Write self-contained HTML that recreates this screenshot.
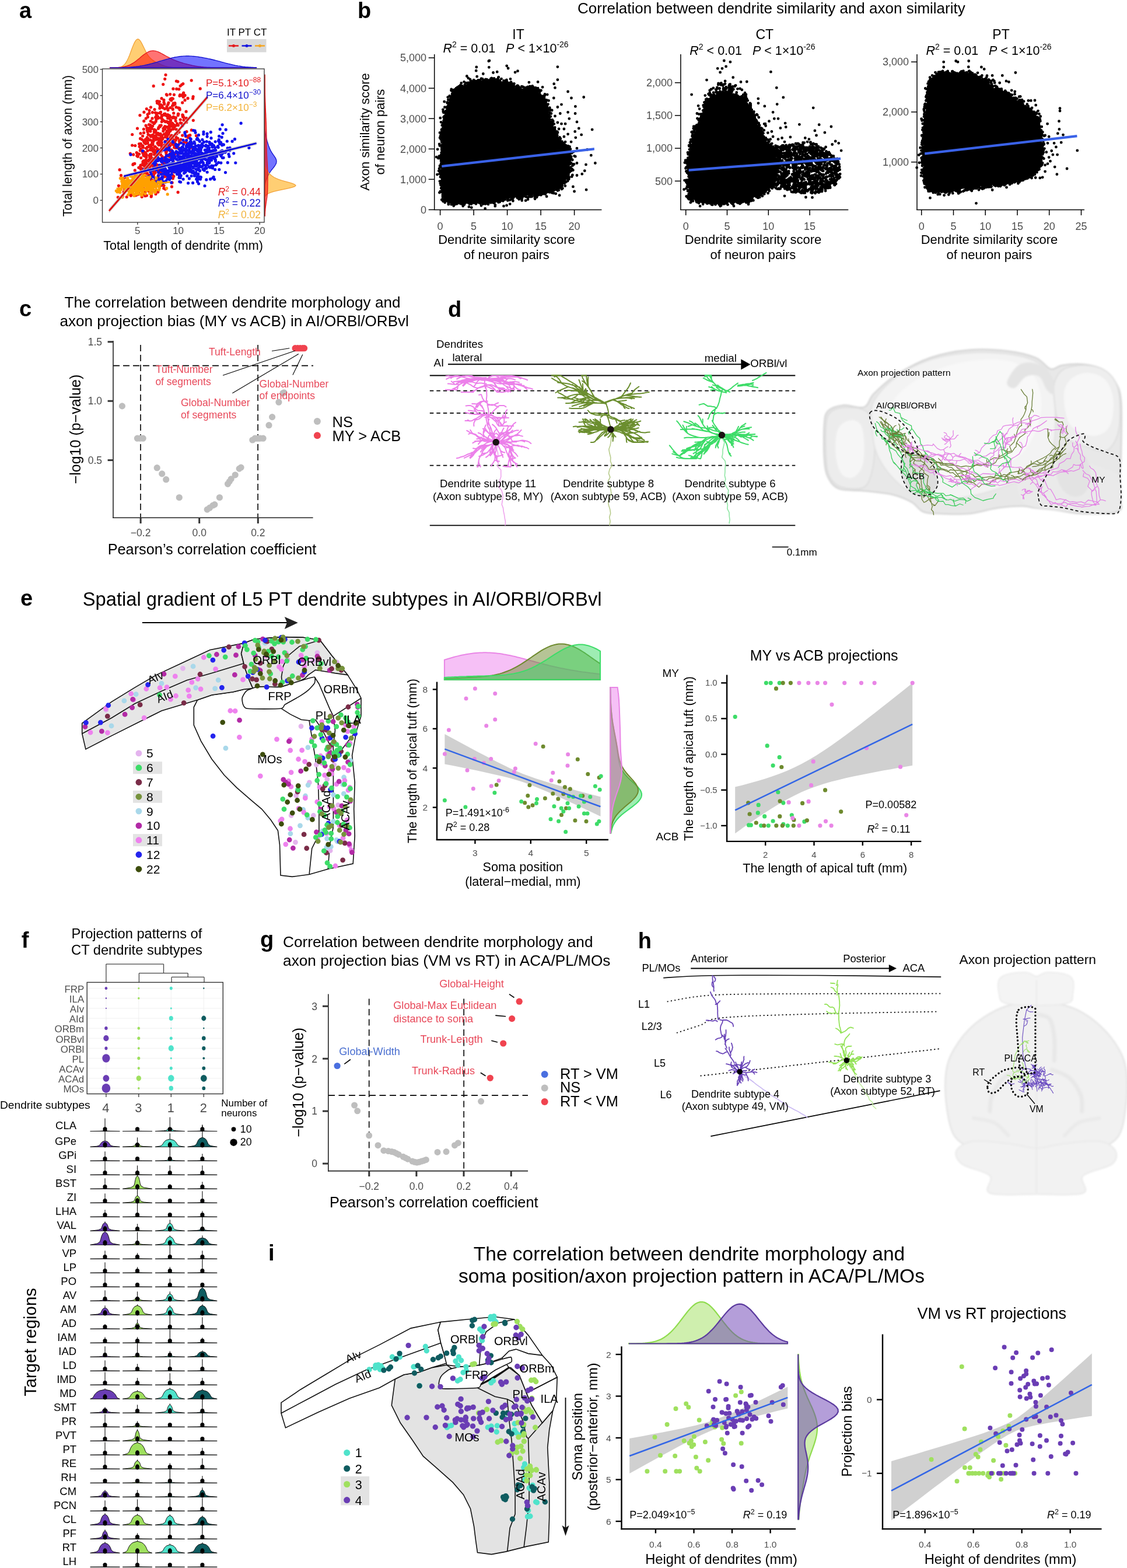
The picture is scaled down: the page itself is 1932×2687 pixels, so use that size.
<!DOCTYPE html>
<html><head><meta charset="utf-8"><title>Figure</title>
<style>html,body{margin:0;padding:0;background:#fff;}svg{display:block;}</style></head>
<body><svg width="1932" height="2687" viewBox="0 0 1932 2687" font-family='"Liberation Sans", sans-serif'>
<rect width="1932" height="2687" fill="#fff"/>
<text x="33" y="31" font-size="38" font-weight="bold">a</text>
<path d="M188.3 116 L188.3 116 L190.4 116 L192.6 116 L194.7 116 L196.8 115.9 L198.9 115.8 L201 115.7 L203.1 115.5 L205.2 115.1 L207.3 114.5 L209.5 113.5 L211.6 112.1 L213.7 110.1 L215.8 107.4 L217.9 103.8 L220 99.5 L222.1 94.4 L224.2 88.8 L226.3 83.1 L228.5 77.6 L230.6 72.9 L232.7 69.4 L234.8 67.4 L236.9 67 L239 68.3 L241.1 70.9 L243.2 74.6 L245.3 78.9 L247.5 83.3 L249.6 87.6 L251.7 91.5 L253.8 94.8 L255.9 97.6 L258 99.9 L260.1 101.8 L262.2 103.4 L264.4 104.7 L266.5 106 L268.6 107.1 L270.7 108.2 L272.8 109.2 L274.9 110.2 L277 111.1 L279.1 111.9 L281.2 112.7 L283.4 113.3 L285.5 113.8 L287.6 114.3 L289.7 114.7 L291.8 115 L293.9 115.3 L296 115.5 L298.1 115.6 L300.3 115.7 L302.4 115.8 L304.5 115.9 L306.6 115.9 L308.7 115.9 L310.8 116 L312.9 116 L315 116 L317.1 116 L319.3 116 L321.4 116 L323.5 116 L325.6 116 L327.7 116 L329.8 116 L331.9 116 L334 116 L336.1 116 L338.3 116 L340.4 116 L342.5 116 L344.6 116 L346.7 116 L348.8 116 L350.9 116 L353 116 L355.2 116 L357.3 116 L359.4 116 L361.5 116 L363.6 116 L365.7 116 L367.8 116 L369.9 116 L372 116 L374.2 116 L376.3 116 L378.4 116 L380.5 116 L382.6 116 L384.7 116 L386.8 116 L388.9 116 L391 116 L393.2 116 L395.3 116 L397.4 116 L399.5 116 L401.6 116 L403.7 116 L405.8 116 L407.9 116 L410.1 116 L412.2 116 L414.3 116 L416.4 116 L418.5 116 L420.6 116 L422.7 116 L424.8 116 L426.9 116 L429.1 116 L431.2 116 L433.3 116 L435.4 116 L437.5 116 L439.6 116 L439.6 116 Z" fill="#FFA500" stroke="#F2A33A" stroke-width="1.3" fill-opacity="0.55"/>
<path d="M188.3 116 L188.3 115.9 L190.4 115.9 L192.6 115.9 L194.7 115.8 L196.8 115.8 L198.9 115.7 L201 115.6 L203.1 115.5 L205.2 115.3 L207.3 115.1 L209.5 114.8 L211.6 114.4 L213.7 114 L215.8 113.5 L217.9 112.9 L220 112.1 L222.1 111.3 L224.2 110.3 L226.3 109.1 L228.5 107.9 L230.6 106.5 L232.7 104.9 L234.8 103.3 L236.9 101.6 L239 99.9 L241.1 98.1 L243.2 96.3 L245.3 94.6 L247.5 93 L249.6 91.5 L251.7 90.2 L253.8 89.1 L255.9 88.2 L258 87.5 L260.1 87.1 L262.2 87 L264.4 87.1 L266.5 87.4 L268.6 88 L270.7 88.7 L272.8 89.6 L274.9 90.6 L277 91.7 L279.1 92.9 L281.2 94.1 L283.4 95.3 L285.5 96.5 L287.6 97.6 L289.7 98.7 L291.8 99.8 L293.9 100.8 L296 101.8 L298.1 102.7 L300.3 103.5 L302.4 104.3 L304.5 105.1 L306.6 105.8 L308.7 106.5 L310.8 107.2 L312.9 107.8 L315 108.5 L317.1 109.1 L319.3 109.6 L321.4 110.2 L323.5 110.7 L325.6 111.2 L327.7 111.7 L329.8 112.2 L331.9 112.6 L334 113 L336.1 113.3 L338.3 113.7 L340.4 114 L342.5 114.2 L344.6 114.5 L346.7 114.7 L348.8 114.9 L350.9 115.1 L353 115.2 L355.2 115.3 L357.3 115.4 L359.4 115.5 L361.5 115.6 L363.6 115.7 L365.7 115.7 L367.8 115.8 L369.9 115.8 L372 115.9 L374.2 115.9 L376.3 115.9 L378.4 115.9 L380.5 115.9 L382.6 116 L384.7 116 L386.8 116 L388.9 116 L391 116 L393.2 116 L395.3 116 L397.4 116 L399.5 116 L401.6 116 L403.7 116 L405.8 116 L407.9 116 L410.1 116 L412.2 116 L414.3 116 L416.4 116 L418.5 116 L420.6 116 L422.7 116 L424.8 116 L426.9 116 L429.1 116 L431.2 116 L433.3 116 L435.4 116 L437.5 116 L439.6 116 L439.6 116 Z" fill="#FF0000" stroke="#E41A1C" stroke-width="1.3" fill-opacity="0.55"/>
<path d="M188.3 116 L188.3 116 L190.4 116 L192.6 115.9 L194.7 115.9 L196.8 115.9 L198.9 115.9 L201 115.9 L203.1 115.8 L205.2 115.8 L207.3 115.8 L209.5 115.7 L211.6 115.6 L213.7 115.6 L215.8 115.5 L217.9 115.4 L220 115.3 L222.1 115.1 L224.2 115 L226.3 114.8 L228.5 114.6 L230.6 114.4 L232.7 114.2 L234.8 113.9 L236.9 113.7 L239 113.4 L241.1 113 L243.2 112.7 L245.3 112.3 L247.5 111.9 L249.6 111.4 L251.7 111 L253.8 110.5 L255.9 109.9 L258 109.4 L260.1 108.9 L262.2 108.3 L264.4 107.7 L266.5 107.1 L268.6 106.5 L270.7 105.9 L272.8 105.2 L274.9 104.6 L277 104 L279.1 103.4 L281.2 102.8 L283.4 102.2 L285.5 101.6 L287.6 101 L289.7 100.4 L291.8 99.9 L293.9 99.4 L296 98.9 L298.1 98.5 L300.3 98 L302.4 97.7 L304.5 97.3 L306.6 97 L308.7 96.7 L310.8 96.5 L312.9 96.3 L315 96.2 L317.1 96.1 L319.3 96 L321.4 96 L323.5 96 L325.6 96.1 L327.7 96.2 L329.8 96.3 L331.9 96.5 L334 96.7 L336.1 96.9 L338.3 97.2 L340.4 97.5 L342.5 97.8 L344.6 98.1 L346.7 98.5 L348.8 98.9 L350.9 99.3 L353 99.7 L355.2 100.1 L357.3 100.6 L359.4 101 L361.5 101.5 L363.6 102 L365.7 102.5 L367.8 103 L369.9 103.6 L372 104.1 L374.2 104.7 L376.3 105.2 L378.4 105.8 L380.5 106.4 L382.6 106.9 L384.7 107.5 L386.8 108.1 L388.9 108.6 L391 109.2 L393.2 109.7 L395.3 110.2 L397.4 110.7 L399.5 111.2 L401.6 111.6 L403.7 112.1 L405.8 112.5 L407.9 112.9 L410.1 113.2 L412.2 113.5 L414.3 113.8 L416.4 114.1 L418.5 114.3 L420.6 114.6 L422.7 114.8 L424.8 114.9 L426.9 115.1 L429.1 115.2 L431.2 115.4 L433.3 115.5 L435.4 115.6 L437.5 115.6 L439.6 115.7 L439.6 116 Z" fill="#0000FF" stroke="#1010D0" stroke-width="1.3" fill-opacity="0.55"/>
<path d="M454 370.2 L454 370.2 L454 368.5 L454 366.8 L454 365 L454 363.3 L454 361.5 L454 359.8 L454 358 L454 356.3 L454 354.5 L454 352.8 L454 351.1 L454 349.3 L454 347.6 L454 345.8 L454 344.1 L454 342.3 L454 340.6 L454 338.8 L454 337.1 L454 335.4 L454 333.6 L454 331.9 L454 330.1 L454 328.4 L454 326.6 L454 324.9 L454.1 323.1 L454.1 321.4 L454.2 319.7 L454.4 317.9 L454.5 316.2 L454.8 314.4 L455.1 312.7 L455.5 310.9 L456 309.2 L456.6 307.4 L457.3 305.7 L458.1 304 L458.9 302.2 L459.8 300.5 L460.7 298.7 L461.7 297 L462.8 295.2 L464 293.5 L465.3 291.7 L466.6 290 L468 288.3 L469.4 286.5 L470.7 284.8 L471.9 283 L472.9 281.3 L473.6 279.5 L473.9 277.8 L474 276 L473.7 274.3 L473.1 272.6 L472.3 270.8 L471.2 269.1 L470.1 267.3 L468.8 265.6 L467.6 263.8 L466.4 262.1 L465.3 260.3 L464.3 258.6 L463.4 256.9 L462.6 255.1 L461.8 253.4 L461.2 251.6 L460.5 249.9 L460 248.1 L459.4 246.4 L458.9 244.6 L458.3 242.9 L457.8 241.2 L457.4 239.4 L456.9 237.7 L456.5 235.9 L456.1 234.2 L455.8 232.4 L455.5 230.7 L455.2 229 L455 227.2 L454.8 225.5 L454.6 223.7 L454.5 222 L454.4 220.2 L454.3 218.5 L454.2 216.7 L454.2 215 L454.1 213.3 L454.1 211.5 L454.1 209.8 L454 208 L454 206.3 L454 204.5 L454 202.8 L454 201 L454 199.3 L454 197.6 L454 195.8 L454 194.1 L454 192.3 L454 190.6 L454 188.8 L454 187.1 L454 185.3 L454 183.6 L454 181.9 L454 180.1 L454 178.4 L454 176.6 L454 174.9 L454 173.1 L454 171.4 L454 169.6 L454 167.9 L454 166.2 L454 164.4 L454 162.7 L454 160.9 L454 159.2 L454 157.4 L454 155.7 L454 153.9 L454 152.2 L454 150.5 L454 148.7 L454 147 L454 145.2 L454 143.5 L454 141.7 L454 140 L454 138.2 L454 136.5 L454 134.8 L454 133 L454 131.3 L454 129.5 L454 127.8 L454 127.8 Z" fill="#0000FF" stroke="#1010D0" stroke-width="1.3" fill-opacity="0.55"/>
<path d="M454 370.2 L454 370.2 L454 368.5 L454 366.8 L454 365 L454 363.3 L454 361.5 L454 359.8 L454 358 L454 356.3 L454 354.5 L454 352.8 L454 351.1 L454 349.3 L454 347.6 L454 345.8 L454 344.1 L454 342.3 L454.1 340.6 L454.3 338.8 L454.7 337.1 L455.4 335.4 L456.9 333.6 L459.3 331.9 L463.2 330.1 L468.7 328.4 L475.9 326.6 L484.2 324.9 L492.7 323.1 L500 321.4 L505.1 319.7 L507 317.9 L505.5 316.2 L501.3 314.4 L495.4 312.7 L488.8 310.9 L482.7 309.2 L477.5 307.4 L473.3 305.7 L470 304 L467.3 302.2 L465 300.5 L463 298.7 L461.2 297 L459.6 295.2 L458.2 293.5 L457.1 291.7 L456.1 290 L455.4 288.3 L454.9 286.5 L454.6 284.8 L454.4 283 L454.2 281.3 L454.1 279.5 L454.1 277.8 L454 276 L454 274.3 L454 272.6 L454 270.8 L454 269.1 L454 267.3 L454 265.6 L454 263.8 L454 262.1 L454 260.3 L454 258.6 L454 256.9 L454 255.1 L454 253.4 L454 251.6 L454 249.9 L454 248.1 L454 246.4 L454 244.6 L454 242.9 L454 241.2 L454 239.4 L454 237.7 L454 235.9 L454 234.2 L454 232.4 L454 230.7 L454 229 L454 227.2 L454 225.5 L454 223.7 L454 222 L454 220.2 L454 218.5 L454 216.7 L454 215 L454 213.3 L454 211.5 L454 209.8 L454 208 L454 206.3 L454 204.5 L454 202.8 L454 201 L454 199.3 L454 197.6 L454 195.8 L454 194.1 L454 192.3 L454 190.6 L454 188.8 L454 187.1 L454 185.3 L454 183.6 L454 181.9 L454 180.1 L454 178.4 L454 176.6 L454 174.9 L454 173.1 L454 171.4 L454 169.6 L454 167.9 L454 166.2 L454 164.4 L454 162.7 L454 160.9 L454 159.2 L454 157.4 L454 155.7 L454 153.9 L454 152.2 L454 150.5 L454 148.7 L454 147 L454 145.2 L454 143.5 L454 141.7 L454 140 L454 138.2 L454 136.5 L454 134.8 L454 133 L454 131.3 L454 129.5 L454 127.8 L454 127.8 Z" fill="#FFA500" stroke="#F2A33A" stroke-width="1.3" fill-opacity="0.55"/>
<path d="M454 370.2 L454.3 370.2 L454.3 368.5 L454.4 366.8 L454.5 365 L454.5 363.3 L454.7 361.5 L454.8 359.8 L454.9 358 L455.1 356.3 L455.3 354.5 L455.5 352.8 L455.8 351.1 L456 349.3 L456.3 347.6 L456.5 345.8 L456.8 344.1 L457.1 342.3 L457.3 340.6 L457.6 338.8 L457.8 337.1 L458 335.4 L458.2 333.6 L458.4 331.9 L458.5 330.1 L458.6 328.4 L458.7 326.6 L458.7 324.9 L458.8 323.1 L458.8 321.4 L458.8 319.7 L458.9 317.9 L458.9 316.2 L458.9 314.4 L458.9 312.7 L458.9 310.9 L459 309.2 L459 307.4 L459 305.7 L459 304 L459 302.2 L459 300.5 L459 298.7 L458.9 297 L458.9 295.2 L458.9 293.5 L458.8 291.7 L458.7 290 L458.7 288.3 L458.6 286.5 L458.5 284.8 L458.4 283 L458.3 281.3 L458.2 279.5 L458.1 277.8 L458 276 L457.9 274.3 L457.8 272.6 L457.7 270.8 L457.6 269.1 L457.5 267.3 L457.4 265.6 L457.4 263.8 L457.3 262.1 L457.2 260.3 L457.2 258.6 L457.1 256.9 L457.1 255.1 L457.1 253.4 L457 251.6 L457 249.9 L457 248.1 L457 246.4 L457 244.6 L456.9 242.9 L456.9 241.2 L456.9 239.4 L456.9 237.7 L456.9 235.9 L456.9 234.2 L456.9 232.4 L456.8 230.7 L456.8 229 L456.8 227.2 L456.7 225.5 L456.7 223.7 L456.7 222 L456.6 220.2 L456.6 218.5 L456.5 216.7 L456.5 215 L456.4 213.3 L456.4 211.5 L456.3 209.8 L456.2 208 L456.1 206.3 L456.1 204.5 L456 202.8 L455.9 201 L455.8 199.3 L455.8 197.6 L455.7 195.8 L455.6 194.1 L455.5 192.3 L455.4 190.6 L455.4 188.8 L455.3 187.1 L455.2 185.3 L455.1 183.6 L455.1 181.9 L455 180.1 L454.9 178.4 L454.9 176.6 L454.8 174.9 L454.7 173.1 L454.7 171.4 L454.6 169.6 L454.6 167.9 L454.5 166.2 L454.5 164.4 L454.4 162.7 L454.4 160.9 L454.4 159.2 L454.3 157.4 L454.3 155.7 L454.3 153.9 L454.2 152.2 L454.2 150.5 L454.2 148.7 L454.2 147 L454.2 145.2 L454.1 143.5 L454.1 141.7 L454.1 140 L454.1 138.2 L454.1 136.5 L454.1 134.8 L454.1 133 L454.1 131.3 L454 129.5 L454 127.8 L454 127.8 Z" fill="#FF0000" stroke="#E41A1C" stroke-width="1.3" fill-opacity="0.55"/>
<rect x="175.5" y="118" width="277.5" height="263" fill="#fff" stroke="#333" stroke-width="1.3" />
<line x1="171.5" y1="343.3" x2="175.5" y2="343.3" stroke="#333" stroke-width="1.3" />
<text x="169" y="349.3" font-size="17" text-anchor="end" fill="#4d4d4d">0</text>
<line x1="171.5" y1="298.4" x2="175.5" y2="298.4" stroke="#333" stroke-width="1.3" />
<text x="169" y="304.4" font-size="17" text-anchor="end" fill="#4d4d4d">100</text>
<line x1="171.5" y1="253.5" x2="175.5" y2="253.5" stroke="#333" stroke-width="1.3" />
<text x="169" y="259.5" font-size="17" text-anchor="end" fill="#4d4d4d">200</text>
<line x1="171.5" y1="208.6" x2="175.5" y2="208.6" stroke="#333" stroke-width="1.3" />
<text x="169" y="214.6" font-size="17" text-anchor="end" fill="#4d4d4d">300</text>
<line x1="171.5" y1="163.7" x2="175.5" y2="163.7" stroke="#333" stroke-width="1.3" />
<text x="169" y="169.7" font-size="17" text-anchor="end" fill="#4d4d4d">400</text>
<line x1="171.5" y1="118.8" x2="175.5" y2="118.8" stroke="#333" stroke-width="1.3" />
<text x="169" y="124.8" font-size="17" text-anchor="end" fill="#4d4d4d">500</text>
<line x1="235.8" y1="381" x2="235.8" y2="385" stroke="#333" stroke-width="1.3" />
<text x="235.8" y="400.5" font-size="17" text-anchor="middle" fill="#4d4d4d">5</text>
<line x1="305.6" y1="381" x2="305.6" y2="385" stroke="#333" stroke-width="1.3" />
<text x="305.6" y="400.5" font-size="17" text-anchor="middle" fill="#4d4d4d">10</text>
<line x1="375.4" y1="381" x2="375.4" y2="385" stroke="#333" stroke-width="1.3" />
<text x="375.4" y="400.5" font-size="17" text-anchor="middle" fill="#4d4d4d">15</text>
<line x1="445.2" y1="381" x2="445.2" y2="385" stroke="#333" stroke-width="1.3" />
<text x="445.2" y="400.5" font-size="17" text-anchor="middle" fill="#4d4d4d">20</text>
<text x="314" y="427.5" font-size="21.5" text-anchor="middle">Total length of dendrite (mm)</text>
<text x="123" y="250" font-size="21.5" text-anchor="middle" transform="rotate(-90 123 250)">Total length of axon (mm)</text>
<defs><clipPath id="clipA"><rect x="176" y="118.5" width="276.5" height="262"/></clipPath></defs>
<g clip-path="url(#clipA)">
<path d="M302.7 152.4h0m-29 119.9h0m-27.5 3.2h0m1.6 54h0m29-95.3h0m8.3 29.9h0m-12.9-16.7h0m-35.8 20.8h0m43.3-123.6h0m-2.8 100.1h0m24.5-43h0m-7.7 30.9h0m-16.4-33h0m11.3 20.4h0m-42.2 39.5h0m27.5-44.2h0m3.3-18h0m-6.3 41.5h0m17 28.4h0m-25.3 8.6h0m56.5-84.6h0m-31.5 11.3h0m-22.2 109.9h0m29.6-79.8h0m-5.9 41.4h0m-27.4-64.2h0m44.4 43.5h0m-65.6 32.1h0m48.9-67.6h0m-10.1 56.2h0m6.7-88.6h0m-24.2 127h0m-7.7-74.4h0m-23.1 60.9h0m17.6-20.1h0m17.7-27.3h0m41.4-66h0m-4 26.3h0m-43 32.7h0m-55.9 84.3h0m71.1-41.2h0m7.2-34.7h0m-69.4 71.6h0m35.2-31.2h0m19.6-91.6h0m6 41.5h0m6.8 59.7h0m20.2-52.7h0m-19 25.1h0m-33.6 13.2h0m68.2-125.1h0m-59.3 110h0m-13 6.4h0m13.7-45.7h0m-18.6 63.1h0m12.2-.3h0m36.9-77.3h0m-3-36.9h0m13.4 81.4h0m-14.6 32.6h0m-14.2-123h0m-3.1 91.1h0m8.6-25.4h0m-3.4 33.8h0m25.1-93.4h0m-30.7 59.4h0m20.6-52.6h0m-6.3 20.5h0m-15.6 86.4h0m-5.5-73h0m35-9.4h0m-36.7 38.7h0m53-104.7h0m-55.7 121.4h0m-18.3 64h0m39-91.8h0m18.4-70h0m-3.1 1.8h0m-32.8 133.5h0m24.9-175.7h0m-3.4 150.4h0m-2.8-95.1h0m-30.3 60.8h0m10.1-30.2h0m33.1-3.5h0m28.9-8h0m-63.8-8.5h0m-4.5-7.6h0m19.8 99.2h0m1-45.7h0m4.8 6.5h0m20.9 55.6h0m-38.9-31h0m56.4-2.9h0m-51.3 30.2h0m-7.7-58.6h0m25.5-61.7h0m-23.9 74h0m42-75.7h0m-35.8 35.3h0m-13.9-8.8h0m25.6 41.9h0m2.7-40.1h0m34.9-4.8h0m-50 33.3h0m-12 101.8h0m40.5-99.8h0m6.9 16.3h0m-95.4 66.7h0m72.4-138.8h0m8.8 38.5h0m1.4 24.1h0m-12.1 52.3h0m10.5-33.7h0m-22.9-29.4h0m32.3 25.6h0m25.9-47.4h0m-27.8-25h0m-14.5 47.5h0m37.3-73h0m-32 142.8h0m-28.3-79.4h0m22.3 53.5h0m-19.9-.5h0m31.6-65h0m7.4 36.9h0m-.3-11.7h0m-30.5-48h0m8.9 60.6h0m-6.8 17.6h0m42-118.5h0m-20 69.9h0m7.7 .6h0m-14-1.2h0m-8.6-37h0m39.6-36h0m-87.1 86.9h0m62.1 11.4h0m-17.3-39.6h0m28.5-24h0m-24.6 61.3h0m16.4-15.2h0m-41 70.5h0m18-58.5h0m57-4.7h0m-42.4 3h0m-4.2-50h0m22.4 30.4h0m-42.7 98.1h0m11.5-113.7h0m-4.6 26.4h0m23.1-16.5h0m8.9 8.6h0m-45.4 95.9h0m41.7-81.9h0m-29.4-9.8h0m-11.3-21.8h0m34.5 45.4h0m-30.8-23.6h0m-13.1 81.7h0m28.2-66.8h0m.3-7.3h0m-9 30.4h0m38.6-76.5h0m-40.7 9h0m-36.5 106.9h0m63.1-111h0m-13.3 67.9h0m11.3-21h0m-2.6 88.6h0m-16.1-89.6h0m-48.2 83.1h0m39.4-133.8h0m46.4-44h0m-12.5 73.9h0m14.8 27.8h0m2.9-2.5h0m-38.9 65.5h0m11.9-109.5h0m9.6-25.7h0m-29.5 112h0m65-143.5h0m-45.4 139.1h0m-55.5 42h0m22-57h0m13.1-30h0m43.5-36.6h0m-60.5 57.6h0m47.2-46.6h0m-12.6 14h0m-10.5-43.7h0m-16.6 68.8h0m6 33.8h0m42.3-71.9h0m-63.4 80h0m.8-23.3h0m31.5 11.5h0m-25.1 1.3h0m30.9-75.3h0m-51.8 133.1h0m64.5-94.6h0m-21 20.1h0m30.1-66.2h0m-15.6 54.5h0m-5.1 69.3h0m-18.7-110h0m27.1 51h0m-25 60.1h0m-27 15.7h0m86.7-89.5h0m-61.3 26.6h0m13.2-53.2h0m-36.1 98.1h0m70.2-131.6h0m-38.5 100.2h0m-9.7-20.5h0m13.3-7.6h0m43.7-56.1h0m-55.8 81.7h0m64.3-49.9h0m-25-70.4h0m-7.3 106.5h0m-26.9 25.3h0m64.1-71.2h0m-87.8 14.5h0m18.6 14.2h0m7.4-17.3h0m56.1 1.4h0m-27-54.6h0m-33.5 65.7h0m4.9-23.2h0m5.1 24.9h0m9.4-53.1h0m23.7 2.2h0m-68.6 135.5h0m40.7-124.5h0m-23.5 66.8h0m2.8 3.5h0m-1.5 48.7h0m40-14.7h0m-49.5-23h0m51.5-24h0m-46.1 21h0m18.7-56.7h0m6.6 27.6h0m-4.7 35.8h0m39.7-82.3h0m-26.5 21.7h0m-43.6 50h0m20.4-66.9h0m-7.6 14.4h0m43.7-17h0m-44.8 44.9h0m-14.3-11.8h0m22.3 52.8h0m-2.7-7.7h0m14.5-50.6h0m-6.1-40h0m38.3 52.4h0m-102.6 84.6h0m26.1-56.9h0m10.7-30h0m53.2-28.3h0m-4.4-43.8h0m-37.8 99.8h0m45.6-63.5h0m-45.2 38.6h0m41.8 5h0m-25.3 73.5h0m4.9-42.7h0m-.7 10.9h0m-19 11.9h0m-8-63.1h0m-9.4 75.3h0m60.3-54.3h0m-10.1 6.5h0m-23.8-42.9h0m-1.7 101.3h0m-.5-68.3h0m26.7-.6h0m-20.7-15.2h0m-32 45.7h0m19.4-44.6h0m17.1 2.2h0m-54.7 64.6h0m48.5-27.4h0m-3.3 16.3h0m16.2-93.3h0m10.1 32.8h0m25.7-83.9h0m-62.4 114.2h0m-16.2 18.9h0m55.6-120.8h0m-26.8 149.5h0m5.9-127.5h0m7.4-5.8h0m16.2-30.7h0m-5.4 91.6h0m-3.6-117.8h0m-22.9 195.6h0m62.2-162.5h0m-64.8 118h0m-21.7-23.5h0m40 2.2h0m-13.4 8.6h0m35.3-52.6h0m7.4 15.9h0m-47.2 44.2h0m1.7-17h0m37.1-95.1h0m-49.8 58.3h0m27.8-45.7h0m-6.3 100.2h0m22.7-83.5h0m-29.6 59.1h0m14-28.1h0m-43.8 105.5h0m76.8-146.9h0m-11.8 117.8h0m-40.8-17.8h0m22.7-34.3h0m-9.9 11.9h0m-18.7-19.4h0m12-4.6h0m15.4-72.9h0m-35.4 101.8h0m39.3-95.1h0m-24.3 43.6h0m79.8 13.5h0m-23.8-56.6h0m-27.6 79.4h0m-36.2-15.6h0m44.1-1.4h0m8.3 15.1h0m1.1-114.4h0m-17.1 87.9h0m-17.4 34.5h0m-4.9-19.1h0m-35.1 39.9h0m49.5-37.9h0m36.9-78.1h0m-23.9 48.4h0m-10.6 9.9h0m25.6-29.5h0m-34.5 109.7h0m21-37.4h0m-45.6-25.2h0m59.2-27.5h0m-33 16.6h0m28.7-1.5h0m-48.1-3.6h0m-7.8 68.9h0m47.4-88.4h0m-34.1 41.7h0m31.7 2h0m-37.8 70.2h0m18-12.5h0m1.8-34.2h0m13.2-41.9h0m27.2 .1h0m-35.9 17.4h0m31.8-86.9h0m-58.9 102.9h0m29.2-27.6h0m-32 46.2h0m41.7-86.7h0m-29.4 139.7h0m41.5-134.1h0m7.3-38.6h0m-30.5 69h0m-34.2 5.7h0m24-6.6h0m16.7 64.6h0m.6-41.6h0m-28.4-4h0m-4 30h0m-2.1-66.2h0m52.3 6.6h0m-3-44h0m-94.3 113.1h0m58.4 35.8h0m-.3-25.7h0m44.6-56.1h0m-39.3-17h0m-16.2 7.6h0m37.7-32.5h0m-24.2 54.9h0m20 21.3h0m-21.5-54.2h0m-4.9 8.5h0m12.4 56.9h0m-13-25.6h0m31.4-24.5h0m-22.3-2.8h0m31.1-19.7h0m19.5 16h0m-3.5-27.9h0m5 19.6h0m-43.9 34.1h0m-34.7 30.4h0m72.2-92.5h0m-53 122.1h0m-25.1-99.5h0m21.7 73.6h0m-49.7 6.8h0m50.5-33.6h0m35.7-94.9h0m-69.3 163.3h0m57.5-138.2h0m-10.9 61.4h0m25.3-71h0m-25.3 40.9h0m-1.4-34.2h0m-7 65h0m51-97.8h0m-50.6 113.2h0m12.3-27.4h0m-34.3-18.7h0m26.3 52.6h0m29.6-33.9h0m8.5 17.5h0m-65.1-6.7h0m-23.1 79.5h0m66.3-47.7h0m21.6 39.6h0m-33.7-109.1h0m-.1 91.2h0m-26.5-29.1h0m-13.1-32.9h0m49.4 33h0m35.9-110.8h0m-59.8 85.1h0m3.8-53.9h0m23.1 26.8h0m-28.1-40.4h0m14.9 139.8h0m-25.8-29.9h0m-2.3-10.7h0m53.8 12.4h0m-52.6-50.9h0m21-26.5h0m-24.4 62.1h0m-30.4 50.3h0m11.8-10.3h0m29.3-40.4h0m-24.7-36.2h0m73.5-3.4h0m15.5-2h0m-30.2 16.1h0m-54.6 20.7h0m13.8-47.3h0m6.1 34h0m10-13.3h0m-3.6-21.7h0m29.5-7.4h0m-17.5-51.2h0m-13.5 108.5h0m34.8-58.9h0m-57.1 74.8h0m29.7-3.7h0m13.7-11.4h0m-10.5 12.9h0m43-85.1h0m-26.6 10.7h0m6.2 9h0m1.2-11.9h0m-76 85.7h0m27.4-57.8h0m35.9 6.7h0m-65.1 75.9h0m38.5-50.1h0m80.6-72.5h0m-35.2-19.8h0m-55 68.9h0m44.7-47.4h0m-18.6 .1h0m17.5 94.2h0m-4.5-11.3h0m12-90.3h0m-29.8 84h0m-41.7 27.3h0m86.1-159.2h0m-16.2 46.4h0m-5.3 44.1h0m-37.6 36.8h0m80.7-27h0m-62.9-43.1h0m30.1 35.7h0m-14.7-74.3h0m-23 53.5h0m85.3-73h0m-100.9 169.5h0m26.5-119.7h0m-34 65.3h0m46.7-10.4h0m-15.1-63.6h0m-5 54.5h0m21-61.1h0m-59.4 142.8h0m38.7-57.7h0m-6.1-22.2h0m10.2 31.8h0m11.3-77.8h0m-26.2 61.3h0m9.4 9.8h0m38.4-21.6h0m-34.6 4.9h0m-8.7-44.1h0m-9.9 119.1h0m42.6-86.3h0m-37.2 23.3h0m30.2-50.8h0m-9.4 10.3h0m-35.5 74.1h0m2.6 4.8h0m35.6-91.1h0m-47.2 115.6h0m43-86.8h0m22-29.4h0m-27.6 48.4h0m13.2-83.7h0m15.9 40.9h0m-44.7 78.7h0m44.1-86.3h0m-9.5-5.7h0m-7 88.1h0m4.7-66.9h0m-10.9 34.9h0m-6-37.9h0m13.4 8.3h0m9.7-38.5h0m15.6 32.6h0m-29.2-43.9h0m-6 19.4h0m-21-12.6h0m-.5 29.1h0m-3.2 116h0m-8.8-5.8h0m23.4-21.1h0m-15.8-20h0m6.9-8.5h0m50.2-37.6h0m-34.5 13.8h0m-7.2 6.2h0m20.2-65.8h0m-22.8 75.9h0m13.5-71.2h0m-20 64.4h0m42-67.2h0m-35 104.7h0m-27.1 14.1h0m37.8-9.6h0m26.1-95.2h0m-25.7 57.9h0m16.9-30.1h0m.8 6.5h0m13.1 27.9h0m-50.5-69.2h0m50.2-55.2h0m-43.6 88.1h0m42.5-59.2h0m-28.1 13.1h0m14.3 88.3h0m48.6-113.7h0m-28.7 66.3h0m-52 3.4h0m41.7 11.1h0m-13.7 39h0m-54.6-25.6h0m21.6-13.1h0m52.5-49.9h0m10.7-12.8h0m-29 49.3h0m3-17.1h0m-32.3 54.7h0m13.4-126.7h0m38 92.2h0m-15 55.1h0m-12.8-120.6h0m.6 19.6h0m-10.6 44.5h0m17.6 79.8h0m-27.9-122h0m-.8 27.2h0m60.6-26.3h0m-17 5.1h0m-37.9 38h0m24.4 30.1h0m-20.9 39.3h0m2.6-53h0m-15.3 79.3h0m6.2-35.2h0m-3.1-81.3h0m25.1 21.1h0m13.7 4.5h0m-11.2 11.7h0m-9.7 8.4h0m-29.9-67.3h0m9.2 131.3h0m-3-62.4h0m-14.8 25.4h0m38.2-19h0m-25-11.5h0m-21.3 62.3h0m62.5-125.2h0m-9.4 35.8h0m9.3-16.7h0m-10 79.4h0m2.3-29h0m20.6 26.9h0m-2.7-83.3h0m-49.5 111.4h0m50.9-83.9h0m-27 5.8h0m24.3 75h0m6.8-79.6h0m-38.8-7.1h0m18.3 89.5h0m5.6-89.3h0m-38.8 65h0m-13.4-36.9h0m72.9-35.2h0m-46.2 88h0m-5.6-9.8h0m17.3-126.5h0m24.5-.8h0m-48.1 64.2h0m6 58.4h0m34.5-72.1h0m41.6-62h0m-66.3 59.8h0m-20.2 27.2h0m64.6-47.7h0m-49.3 12.1h0m-14.4 46.2h0m14.1-14.4h0m-6.2-4.2h0m32-82.9h0m-22 77h0m-33.1 87.4h0m48.1-36.6h0m-8.9-7.1h0m14-74.2h0m-22.6 25.4h0m-2 23.1h0m25.6-48.1h0m1.7-45.7h0m-29.5 106.7h0m-28-4.8h0" stroke="#EE1111" stroke-width="5.2" stroke-linecap="round" fill="none" />
<path d="M289.1 294.7h0m19.6-24h0m7.4 11.3h0m11.5-1.9h0m-3.2 13h0m-16.9 8.7h0m45.1-51.4h0m-6.1 12.3h0m-40.7 6.1h0m-18.8-13h0m46-12.7h0m-30.8 18h0m74-18.3h0m-41.9 8.9h0m-23.8-6.9h0m-22.4 53.3h0m37.8-9.4h0m55.6-41.2h0m-79.9 1.2h0m67.1 21.8h0m6.6-31.1h0m-66.3 49.6h0m26.1-38.8h0m40.5-16.9h0m-66 78.7h0m-38.7-52.4h0m88.2-16.1h0m-34 29.3h0m15.7-11.1h0m-13 30.3h0m-46.7-9.4h0m39-33.7h0m-58.1 42.1h0m117-23.7h0m-76.4 5.6h0m72-31.5h0m-21.2 8.3h0m-37.6 25.4h0m22.6-38.3h0m-84.1 65.8h0m82.8-26.7h0m-16.1 4.5h0m-26.5-7.8h0m72.3-1.9h0m-27.5-20.8h0m-35.2 31.5h0m-20.8-26.3h0m97.1 9.1h0m8.9-22.2h0m-122.9 38h0m66.8-17.2h0m13.9 14.6h0m14.5-18.2h0m24.4 1.9h0m-141.4-2.5h0m98.4 46h0m-37.4-10.3h0m49.6-15.6h0m7.3-4.2h0m-6.5 3.6h0m-69.2-5.2h0m30.8-6.4h0m-45.5 40.9h0m41.9-67.4h0m24 62.9h0m-114-38h0m111.8 30.7h0m21.1-45.3h0m37.2 3h0m-84.9 9.6h0m-27.5 30.9h0m11.3-.5h0m-9.2 18.8h0m5.7-36.1h0m36.6-.4h0m14.2-19.2h0m.2-25h0m-6.2 33.4h0m-24.8-7h0m41.9 30.7h0m-15-18.6h0m-51.8 40.3h0m32.3-83.3h0m-31.6 65.2h0m30.5-10.3h0m45.5-55.4h0m-37.6 40.5h0m-9-19.6h0m8.7 14.6h0m-4.5-7.2h0m4.1 36.1h0m63.5 4.8h0m-55.8-15.9h0m-34.8-37.3h0m40.1 37h0m-39.4-4.2h0m28.4 3.8h0m-21.2-28h0m28.4 25.2h0m-47.3 23h0m63.8-16.6h0m-2.6-11.4h0m-8.2-6.6h0m-26.8 18.3h0m11.8-20.4h0m79.6-24.1h0m-119.5 4.7h0m38.4 45.3h0m7.8-14h0m4.1-1.5h0m-9-22.2h0m55.4 8.1h0m-3.5-14.9h0m-12.7 15.7h0m-31.7-2h0m-37.5 23.5h0m-5.5-14.8h0m43.2-4.9h0m-17.7 30.2h0m41.7-16.9h0m-37.7 .8h0m21.8-6h0m-48.4 33.1h0m66.1-30.5h0m-40.4 20.9h0m37.7-35h0m-47.3 53.3h0m75.3-41h0m-95.4 22.8h0m.9-9.3h0m18.8 17.4h0m39.6-16.2h0m-81.5-2h0m42 16.4h0m-35.9 1.8h0m34.1-12.8h0m3.3-33.8h0m50.2 5.3h0m-15.9 18.5h0m-64.9-2.3h0m91 .2h0m-66.5 16.9h0m-20.3-18.5h0m7.7-17.5h0m88.3 2.1h0m-54.8 31.5h0m30.4-25.4h0m-76.9 38.7h0m62.9-24.1h0m-.9-13.9h0m32-1.5h0m-12.1-19.7h0m8.4 25.2h0m-33.5-46h0m-15.2 63.3h0m10.1 8.2h0m-31.2-6.2h0m18.2-31.7h0m-26.1 29h0m43.7-8.9h0m15.4-51.6h0m-58.5 73.3h0m18.2-10.7h0m-1-18h0m73.4-57h0m-58.5 100h0m52.7-52.3h0m-63.4-4.5h0m9.6 22.5h0m-24.4-15.4h0m55.2 19.5h0m-45.2-28.1h0m-5.1 32.6h0m-1.5-3h0m52.3-18.8h0m4.3-11.3h0m-96.8 36h0m64.1 14.9h0m25.9-36.9h0m-41.4-.3h0m47.1-15.7h0m-47.7 26.4h0m95.5-.4h0m-76.3-5.8h0m45.9-22.6h0m-41.1 27.6h0m32.7-15.2h0m-43 9h0m25.2-3.9h0m-13.8-10.8h0m-31.5 27.4h0m25.5-23.8h0m15.7 18h0m-51.1 10.9h0m17.1-28.2h0m36.5 6.4h0m-55.1 39.7h0m38.6-45.8h0m8.1 14.2h0m6.3 30.8h0m18.5-70.2h0m-31.3 31.7h0m-12.2-9.2h0m-22.7 33.5h0m42.1 5.3h0m3.1-36.2h0m-16.2 22h0m56.4-13.5h0m-51.1-12.4h0m-5.4-3.2h0m.5 14.8h0m-.3-7.5h0m-20.5 .8h0m53.9 22.9h0m-81.2 25.8h0m22.4-43.7h0m27.7-29.4h0m48.6 52.1h0m-63.1-7.3h0m64-36.6h0m-21.8 35.6h0m35.4-3.5h0m-64.2 13.6h0m-29.7-15.4h0m0-8.2h0m45.4 .4h0m3.8-21.1h0m14.6 39h0m-14.1-34.7h0m-33 32.4h0m50.8-32.6h0m-34.5-5.8h0m25.7-12.2h0m-42.4 24.9h0m-51.2 43.6h0m117.3-23.5h0m-58.5 3.1h0m20.2-33.2h0m36.1 15.2h0m-40.7-9.1h0m26.4 15.1h0m6.4 20.3h0m-34.6 7.6h0m-23.8-5.1h0m71.7-64.5h0m-31.9 36.5h0m-19-5.9h0m10.5 24.8h0m-41.3-13.4h0m97.8-28.3h0m-74.2 34.6h0m15.4-11.8h0m-60-8.1h0m60.5 3.3h0m-29.1-3.1h0m47 22.7h0m.4-.3h0m-92.2-6h0m27.4 19.3h0m1.8-9.5h0m18.5-9h0m26.7-34.5h0m-.5 21.3h0m1.1-6h0m13.2 6.6h0m-66.3 40.2h0m46.6-23.9h0m-22.4 9.5h0m-9.9-27.9h0m48.2 32.4h0m-19.1-18.8h0m-20.9-14.8h0m25.1 12h0m-37.8-7h0m35.5 3.6h0m-30.1-15.2h0m-31.2 60.4h0m20.4-19.9h0m22.3-18.9h0m54.1-20.6h0m-39.5 23.4h0m8.2-20.1h0m-35.7-8.8h0m23.1 11.1h0m-78.1 32.2h0m66-38.7h0m45.1 8.2h0m-12.4 15h0m-49.2-14.9h0m-9.5 33.8h0m1.2 7.7h0m24.2-39.7h0m-18 6.4h0m-28.5 36.7h0m31.8-36.2h0m70.3 38.4h0m-40.1-64h0m-1.6-.1h0m36.3 16.4h0m-82.1 38.6h0m94.6-19.6h0m-84.3 13.1h0m75.3-29.5h0m-89.4 36.4h0m70.5-51.4h0m27.3 5.2h0m-34 36.4h0m-33 15.8h0m13.5-36.7h0m6.1 23.8h0m16.8-39.2h0m21.3 52.5h0m-117.1 9.4h0m94.7-63.8h0m6.2 17.1h0m-15.4 9.3h0m-29.7 21.4h0m123.4-45h0m-83.9 6.2h0m10.8 8.4h0m1.3-38.8h0m-50.4 61.2h0m-11.5-1.3h0m-7.3-11h0m60.7-32h0m19.8 24.9h0m-35.1 16.8h0m-4.1-15.7h0m14-.7h0m-50.2-7.2h0m29.8 37.3h0m-50.4-26.1h0m-2.3 .7h0m105.5-24h0m-22.4 5h0m-45.1 17.9h0m-40.6 2.8h0m80.2-11.4h0m14.1 2.4h0m-89.2-7.2h0m57.8 23.5h0m-19.8 .3h0m23.1 11.1h0m-3-16.4h0m17.3-5h0m-.5 10.6h0m-9-8.6h0m22.7-18.3h0m-1.5 16.3h0m-51.8 4.7h0m-13.5 7.9h0m73-3.4h0m-58.3-6.8h0m70.1-56.1h0m-69.6 66.1h0m25.9-3h0m-71.4-5.2h0m75-13.2h0m5.5 .4h0m-37.4 1.1h0m18.9 3.9h0m-33.7 10h0m33.2 9.3h0m-22.7-2.3h0m24.6-2.5h0m-35.2-4.2h0m-3.7-3.7h0m11.3 6.9h0m62.7 21.9h0m-78-12.1h0m37.9-2.9h0m-25.3 1.6h0m-2-12.9h0m10 2.3h0m23.2-21.4h0m-21.2 25.8h0m33.3 23.9h0m-11.6-20.5h0m25.8-17.2h0m-55.4-11.5h0m10.3 33.2h0m31.9 11.5h0m-19.9-44h0m-34.2 4.2h0m30.1 20.2h0m-43.3-25.5h0m95.3 8.5h0m-30.8 36.8h0m-9.5-39.9h0m-26.3 25.5h0m17.7-1.2h0m-46.9-17.3h0m80.8-17.2h0m-4.7-7.3h0m-22.3 35.3h0m-37.4-10.2h0m4.7 30.3h0m107.9-42.1h0m-70.7-.3h0m13.8 9.3h0m-2.8 .5h0m-30.4 10.8h0m33.8-26.3h0m-5.7 42.4h0m-20.7-32.4h0m-5.4 1.7h0m16.1-17h0m-76 38.2h0m105.9-36.2h0m-49.8 29.2h0m5.2-13.4h0m34.5 10h0m10.1-21.9h0m-99.4 40.8h0m61.7-10.2h0m7-13.3h0m-5.8 5.7h0m11.9 2.8h0m8.4 19.9h0m-15.2-20.2h0m-14.3-10.6h0m-33.9 17.6h0m37.3-4.2h0m-11.7-18.8h0m20.7 26.9h0m-27.5-30.1h0m30.6 3.2h0m-2.8 3.5h0m-17.6 26.5h0m-13.8 1.6h0m86.5-49.7h0m-53.9 27.3h0m-52.7-2.9h0m-3.8-3.9h0m38.9 35.2h0m62.2-23.5h0m-54.9-1.5h0m-38.4-1.4h0m4.9 10.5h0m6.1-34.5h0m37.4-7h0m-18.2 27.4h0m33.7-5.6h0m-25.5-13h0m20.4 14.3h0m14.1 48.3h0m-58.7-44.8h0m21.3 8.7h0m-35.1 10.6h0m89.9-20.3h0m-74.9 15.1h0m64.9-9.7h0m-85 5h0m40.7-8.6h0m-42.9 34.1h0m44.1-37.9h0m64.9-35.5h0m-19.2 12.5h0m-3 6.6h0m-12.9 22.4h0m-35.5-22.6h0m-21.3 40.4h0m29.6-21.7h0m-14.1 15.5h0m-3.7 6.3h0m12.6-79h0m-24.7 23h0m-2.1 42.4h0m36.9-17.6h0m-7.3 33.4h0m-7.9-11.9h0m-29.4 3.1h0m49.9 13.5h0m-44.8-31.3h0m11.8 24h0m11.3-3.3h0m35.5-24.9h0m50.1-1.7h0m-55.3 20.1h0m18.5 10.6h0m-56.4-9.9h0m114.3-73.9h0m-25.3 47.7h0m-111.6 17.6h0m82.9 1.9h0m28.1-56.2h0m-115.5 73.3h0m45-14.2h0m3.6-6.4h0m-3.3-46.4h0m-6.8 72.4h0m52.2-54.5h0m-73.3 53.6h0m-5.7-23.5h0m-.3 13.2h0m33.1-2.1h0m23.9-20.2h0m24.4-9.3h0m-58.5-10h0m28.8 14.7h0m-.4 15.4h0m-38.9-19.4h0m6.3 27.2h0m51.3-37.2h0m-27.2-11.7h0m-7.7-4.6h0m50.6 27.3h0m-51-4.5h0m-46.5 19.3h0m75.6-35.3h0m22.9 18.1h0m-29.5 31h0m2.4-4.1h0m-60.8-31.8h0m99.8 9.6h0m-46.7-34.9h0m-52.7 29.6h0m33 8.2h0m7.5-18.9h0m41 21.5h0m-.5-20.7h0m6.8 35.7h0m-17.2-15.4h0m-19.5 34h0m60.4-43.1h0m-54 40.1h0m-20.9-25.7h0m10.3 21.6h0m7.2-15h0m17.6 9.2h0m8.8-4.2h0m-73.3-9.6h0m55.1-13.2h0m-37.4 23h0m-11.1-23.6h0m-27.3 50.3h0m19.1-37h0m-10.2-2.5h0m58-7.4h0m-22.3-11.9h0m-2.1 35.4h0m8-36.9h0m.4-10.3h0m49.4 2.4h0m-14.9-.2h0m-13.6 72.2h0m-9.6-39.5h0m-1.4 18.5h0m-4.4-4h0m10.7 .1h0m-3.2-16.6h0m-22.3 9.7h0m-46.8 5.1h0m62.4-18.4h0m10 20.3h0m30.6-40.3h0m-30.5 26.5h0m-33.7 15.1h0m34.8-21.9h0m14.3-6.2h0m-40.5-7.1h0m-31.3 55h0m57.6-30.7h0m-57.8 33.2h0m45.7-64.9h0m45.4 16.2h0m-53.8 27.1h0m68.9-31.2h0m-72.6 2.3h0m48.8 1.3h0m2.6 23.6h0m-25-28.5h0m-1.2-.9h0m-7.5 3.5h0m-72.9 43h0m94.6-16.8h0m-55.7-44.5h0m30.5 24.9h0m9.9-29.9h0m-20.5 53.2h0m17.1-46.2h0m-65.6 45.4h0m44.3-16.3h0m33.7-11.7h0m-71.4 28.3h0m46.1-15.1h0m38.2-4.5h0m-54.3 10.7h0m21.3-21.5h0m-56.1 52.8h0m52.5-56.3h0m.8 12.8h0m57.7-12.3h0m-46.5 14.7h0m21.8-15.9h0m-39.2 6.1h0m22.4 16.8h0m9.4-50h0m-58.7 73.5h0m31.3-24.3h0m11.3-5.9h0m-2.5-21.2h0m35.9 51.4h0m-23.6-33.9h0m-.1-.4h0m-5.8 6.6h0m-32.1 7h0m46.5-15.5h0m-28.2-15.7h0m29.9 32.5h0m-53.1 .1h0m41.1-33.1h0m-70 12.1h0m56.2 6.8h0m24.7-7.4h0m-20.3-8.2h0m31.6 31.4h0m-88.4 21.3h0m59.1-29.9h0m-14.9 8.3h0m-20.7-14.1h0m25.7-2.1h0m18.6-26.8h0m50.6 25.9h0m-26.6-7.7h0m-27.1-11h0m-32.8 32h0m49.9-26.3h0m27-7.3h0m-54 27.5h0m15 28.3h0m22.1-46h0m-61 19.8h0m37 14.6h0m11.3 15.8h0m17.8-40h0m-38.3 9.3h0m-27.3-16.2h0m-11.5 22.5h0m48 9.3h0m2.5-6.7h0m8.3-12.5h0m13.3-8.6h0m-73.5-.8h0m70.5-17.3h0m-85.5 59.4h0m76.8-48.4h0m-39.5 22.4h0m15.2 33.1h0m-43.9-6.6h0m71.7-33.7h0m-100.3 21.2h0m55.6-3.4h0m-35 12.4h0m55.9-23h0m14.9-37h0m-35.4 63.7h0m-20.5-25.9h0m55.4-9.2h0m-25.5-1.2h0m40.4-19.5h0m-50.5 37.5h0m10.5-2.5h0m-30.4-23.2h0m37.7 30.3h0m7-2.3h0m-44.4 21.9h0m-6.8-19.6h0m45.9-18.8h0m.9-2.9h0m-23.6-15.2h0m-20.9 46.3h0m100.8-48.8h0m-58.4-30.4h0m-41.7 29.7h0m33.5 25.5h0m-30.4 5.2h0m55.4-14.8h0m-39.1 2.1h0m55.7-7.6h0m-53.9 22h0m25.8-2.8h0m32.5-8.8h0m-10.5-4.5h0m-10.8 20.9h0m-30.3 4.7h0m-18.3-13.2h0m-12.5-34.6h0m91.5-3.2h0" stroke="#1111EE" stroke-width="5.2" stroke-linecap="round" fill="none" />
<path d="M237.2 322.2h0m-27.6-10.6h0m8.5 6.6h0m9.2-.4h0m36.5 .6h0m-29.9-7.6h0m-5.2 21.8h0m-4-12.9h0m-.2-9.4h0m31.6 15.2h0m-18.4-9.3h0m-7.4 6.5h0m13.7-1.8h0m22-2.9h0m-28.8-1.7h0m3.3 4.7h0m5.8-9.4h0m-5.8 3.1h0m-25.6 6.4h0m23.5-.8h0m16-5.3h0m-17.8 7.9h0m-5.8-3.1h0m32.6 7.1h0m-11.5-6.2h0m11-10h0m-39.6 4.5h0m-8.8-2.8h0m20.3 13.4h0m1.4-12.4h0m39.8-2.1h0m-32.9 7h0m-41.9 10.7h0m-1.9-2h0m53.5-18.9h0m-11.3 12.8h0m6.7-20.9h0m-8.7 7.2h0m19.2 16.8h0m-19.6 .1h0m3.2-3h0m-20.2-8.6h0m13.9 7.1h0m14.9-5.2h0m6-10.6h0m-39.8 10.4h0m-8.3-3.3h0m59.2 14.2h0m-11.6-12.5h0m-13.2 21.9h0m-23-13.8h0m17.9-3.9h0m11.9 0h0m-15.8 8.5h0m-9.3-6h0m47.9 1.3h0m-37-10.4h0m14.1 2.8h0m-11.3-7.6h0m-10.8 1.6h0m34.2 8.7h0m-33.5 6.8h0m12.9 10.3h0m16.3-8.5h0m-40.3-10.4h0m20.9 10.4h0m19.9 2.4h0m-30.3 3.1h0m37.2-16.5h0m-51 .6h0m13.3 10.3h0m7 8.5h0m5.8-14.9h0m20.9 6.6h0m-46.3 .6h0m12.9-13.6h0m45.2 1.9h0m-28.9 13h0m-29.5 .7h0m33.2-17.9h0m-14.1 18.6h0m15.8-9.1h0m-24.2 11.1h0m-17.5-23.5h0m21.8 9.3h0m15.4-4.5h0m27.8 8.1h0m-16.4 5.2h0m-42.1-6.4h0m-8.5 11.5h0m19-16.4h0m8.7 18.4h0m3.2-9.2h0m-7.9 0h0m6.6-10.3h0m10 5.6h0m-21.6 12.2h0m43.9-23.5h0m-57.8 8.7h0m33.7 2h0m-3.5 4h0m20.1-5.8h0m-6.9 .5h0m-12.9 5.6h0m16.3 10.5h0m2.5-12.3h0m-17.8 2.4h0m-33.4 2.9h0m35.8-3.5h0m1.2 3.3h0m-36.3-5.7h0m21.6 4.8h0m29.9 8h0m-21.1-11.6h0m19.1-3.2h0m-15.3-1h0m-2.1 3.6h0m-6.2-8.1h0m38.1 14h0m-31.6 .7h0m26.8-21.5h0m-26.8 2.4h0m-.4 19.8h0m25.1 2.9h0m-45.3-20.8h0m30.9 4.4h0m-20.1 9.9h0m-13-14.6h0m27.8-7.5h0m-1.6 12.5h0m-15.9 7.8h0m16.8 2.5h0m8.5-14.2h0m-36.8 3.4h0m24.2 3.1h0m-9.4-7.2h0m8.8 3.9h0m2.8 9.8h0m-24.8-17.6h0m46.2 12.9h0m-10.3-10.2h0m7 2.6h0m-26.1 2.1h0m-6.2 3.4h0m-6.9 14.2h0m.5-.5h0m21.2-17h0m.6 11h0m-7.8 4.1h0m7.1-14.2h0m24 11.9h0m-33.1-6.8h0m40-2.7h0m-30.1 13.2h0m-9.6-28h0m24.1 11.5h0m-27.9 12h0m9.9-2.2h0m32.3-.4h0m-43.9-10h0m11.7 12.5h0m-25-.5h0m46.2-1.9h0m-27.7-11.3h0m28.2 .7h0m-19.4 10.8h0m-21-5.7h0m13.8-.6h0m-31.8 12.3h0m45.4-21.7h0m-9.9 20.6h0m6.8-2.9h0m-14.1-4.5h0m16.6-10.3h0m-2.2 15.5h0m7.1-3.6h0m-40.8-10.7h0m54 15h0m-36.3-3.4h0m-1.4-13.6h0m20.6 7.7h0m-10.3 7h0m-11.1-.4h0m17.9-10.3h0m-15.3-.4h0m-7.8-10.4h0m-3.4 20h0m15.6-10.4h0m5.6 12.9h0m5-12.7h0m-27.1 22.2h0m27-8.4h0m7.1-21.6h0m4.2 11.4h0m-6.8 3.7h0m-27.4-.3h0m7-2.7h0m-11.9 9.8h0m20.1-8.8h0m-.8-6.3h0m-24 2.3h0m19.1 5.1h0m21.4-1.3h0m-3-11.1h0m-15 25.9h0m-7.5-10.3h0m11.7 2.6h0m-1.2-7.9h0m-33.2-10.3h0m21.4 22.4h0m-3-15.9h0m62.5 20.8h0m-60.7-24h0m-.1 8.4h0m3.9 .6h0m11.6 7.3h0m-20.5 3.5h0m19.4-29.5h0m14.8 19.2h0m2.2-5.5h0m-25.5 9.6h0m7.2 1.3h0m-2.7-9.3h0m-19.4 11.9h0m15.1-2.6h0m3.1-8.5h0m7.1-2.8h0m-4.3 3h0m-3 1.6h0m.6 .6h0m-4.1-2.3h0m18.3-7.7h0m12.1 4.2h0m-34.8 15.7h0m-15.5-7.5h0m28.2-10.1h0m-1.5 7.6h0m-20.7-5.2h0m49.2 8.4h0m3.8-8.7h0m-47 .8h0m17 2h0m-23 0h0m33.4 11.8h0m-6.5-18.6h0m-2.5 14.8h0m-8.5-10.9h0m12.2 6.5h0m-19.1 4.6h0m7.2 3.5h0m9.2-23.7h0m-9.5 15.2h0m5.2-4.9h0m-6.1 .4h0m-9.3 12.4h0m4.1-12.1h0m-.9 9.4h0m13.9 9.6h0m-10.8 2.5h0m-2.7-31.8h0m-16.4 5.7h0m16.5 12.6h0m3.8-19h0m-3.2 14.3h0m1.4 2.5h0m19.4-4.2h0m-9.9 7.4h0m1.3-3.5h0m-3.8-2.3h0m-7.6 10.4h0m14.7 3.9h0m7.8-9.3h0m-28.8-12.2h0m4.2 7.4h0m-4.1-2.7h0m19.6 5.1h0m-8.6 9.8h0m21.4-6.7h0m-20.1-1.3h0m6-2h0m-9.8 .6h0m9.3-13.9h0m-21.4 3.7h0m19.5 4.4h0m-12.2-4h0m22.7 21.7h0m-39.5-26.9h0m18.2 14.5h0m-14.7-1.6h0m24.9 3.5h0m19.5-2.1h0m-7-1.9h0m-10.6 2.4h0m-11.8-12.8h0m27 1.9h0m-28.5 11.9h0m13-.4h0m7.2-15h0m-18.5 15.4h0m-15.3-12.5h0m27 6.8h0m-13.5 2.5h0m5.9 5.2h0m13.1-15h0m11.4 12.2h0m28.9 2.6h0m-48.3 5h0m-4.7-12.2h0m-5.4 3.1h0m-5.7 2.4h0m-4.1 .2h0m-14.5 2.9h0m26.6-5.1h0m27.3 7h0m-31.4-14.4h0m-3.1 9h0m-12.7 17.3h0m61.4-25.7h0m-2 6.5h0m-55-3.6h0m7.9 1.1h0m21.2-2.7h0m-18.9 3.3h0m18.6-9.2h0m-11.9-4h0m16 11.2h0m-19.7 .5h0m19.6 10h0m.3-9.5h0m-14.4 8.1h0" stroke="#FFA000" stroke-width="5.2" stroke-linecap="round" fill="none" />
<path d="M186.9 357.3 L355.9 161.9 L355.9 169.9 L186.9 365.3 Z" fill="#BDBDBD" fill-opacity="0.7"/>
<line x1="186.9" y1="361.3" x2="355.9" y2="165.9" stroke="#E00000" stroke-width="2.6" />
<path d="M212.1 299 L439.6 242.4 L439.6 248.4 L212.1 305 Z" fill="#BDBDBD" fill-opacity="0.7"/>
<line x1="212.1" y1="302" x2="439.6" y2="245.4" stroke="#0000E0" stroke-width="2.6" />
<line x1="199.5" y1="323.1" x2="291.6" y2="311.9" stroke="#FFA000" stroke-width="2.6" />
</g>
<text x="353" y="148" font-size="17" fill="#E41A1C">P=5.1×10<tspan dy="-7" font-size="12">−88</tspan></text>
<text x="353" y="169" font-size="17" fill="#1010CC">P=6.4×10<tspan dy="-7" font-size="12">−30</tspan></text>
<text x="353" y="190" font-size="17" fill="#F2B33A">P=6.2×10<tspan dy="-7" font-size="12">−3</tspan></text>
<text x="447" y="334.5" font-size="17.5" text-anchor="end" fill="#E41A1C"><tspan font-style="italic">R</tspan><tspan dy="-7" font-size="12">2</tspan><tspan dy="7"> = 0.44</tspan></text>
<text x="447" y="354" font-size="17.5" text-anchor="end" fill="#1010CC"><tspan font-style="italic">R</tspan><tspan dy="-7" font-size="12">2</tspan><tspan dy="7"> = 0.22</tspan></text>
<text x="447" y="373.5" font-size="17.5" text-anchor="end" fill="#F2B33A"><tspan font-style="italic">R</tspan><tspan dy="-7" font-size="12">2</tspan><tspan dy="7"> = 0.02</tspan></text>
<text x="389" y="61" font-size="17">IT PT CT</text>
<rect x="389" y="67" width="67.5" height="22.5" fill="#D9D9D9" />
<line x1="392" y1="78.5" x2="409" y2="78.5" stroke="#E41A1C" stroke-width="2.5" />
<circle cx="400.5" cy="78.5" r="2.5" fill="#E41A1C" />
<line x1="414.5" y1="78.5" x2="431.5" y2="78.5" stroke="#1515E0" stroke-width="2.5" />
<circle cx="423" cy="78.5" r="2.5" fill="#1515E0" />
<line x1="437" y1="78.5" x2="454" y2="78.5" stroke="#F5A623" stroke-width="2.5" />
<circle cx="445.5" cy="78.5" r="2.5" fill="#F5A623" />
<text x="613" y="31" font-size="38" font-weight="bold">b</text>
<text x="990" y="23" font-size="26">Correlation between dendrite similarity and axon similarity</text>
<text x="888.6" y="66.5" font-size="23" text-anchor="middle">IT</text>
<text x="759.5" y="90" font-size="21.5" xml:space="preserve"><tspan font-style="italic">R</tspan><tspan dy="-9" font-size="14">2</tspan><tspan dy="9"> = 0.01</tspan><tspan>   </tspan><tspan font-style="italic">P</tspan> &lt; 1×10<tspan dy="-9" font-size="14">-26</tspan></text>
<line x1="744.7" y1="93" x2="744.7" y2="360.1" stroke="#000" stroke-width="1.5" />
<line x1="744" y1="359.4" x2="1031.4" y2="359.4" stroke="#000" stroke-width="1.5" />
<line x1="734.7" y1="359.4" x2="744.7" y2="359.4" stroke="#000" stroke-width="1.5" />
<text x="731" y="365.7" font-size="18" text-anchor="end" fill="#4d4d4d">0</text>
<line x1="734.7" y1="307.3" x2="744.7" y2="307.3" stroke="#000" stroke-width="1.5" />
<text x="731" y="313.6" font-size="18" text-anchor="end" fill="#4d4d4d">1,000</text>
<line x1="734.7" y1="255.3" x2="744.7" y2="255.3" stroke="#000" stroke-width="1.5" />
<text x="731" y="261.6" font-size="18" text-anchor="end" fill="#4d4d4d">2,000</text>
<line x1="734.7" y1="203.2" x2="744.7" y2="203.2" stroke="#000" stroke-width="1.5" />
<text x="731" y="209.5" font-size="18" text-anchor="end" fill="#4d4d4d">3,000</text>
<line x1="734.7" y1="151.2" x2="744.7" y2="151.2" stroke="#000" stroke-width="1.5" />
<text x="731" y="157.5" font-size="18" text-anchor="end" fill="#4d4d4d">4,000</text>
<line x1="734.7" y1="99.1" x2="744.7" y2="99.1" stroke="#000" stroke-width="1.5" />
<text x="731" y="105.4" font-size="18" text-anchor="end" fill="#4d4d4d">5,000</text>
<line x1="754.6" y1="359.4" x2="754.6" y2="368.9" stroke="#000" stroke-width="1.5" />
<text x="754.6" y="394.4" font-size="18" text-anchor="middle" fill="#4d4d4d">0</text>
<line x1="812.1" y1="359.4" x2="812.1" y2="368.9" stroke="#000" stroke-width="1.5" />
<text x="812.1" y="394.4" font-size="18" text-anchor="middle" fill="#4d4d4d">5</text>
<line x1="869.6" y1="359.4" x2="869.6" y2="368.9" stroke="#000" stroke-width="1.5" />
<text x="869.6" y="394.4" font-size="18" text-anchor="middle" fill="#4d4d4d">10</text>
<line x1="927.1" y1="359.4" x2="927.1" y2="368.9" stroke="#000" stroke-width="1.5" />
<text x="927.1" y="394.4" font-size="18" text-anchor="middle" fill="#4d4d4d">15</text>
<line x1="984.6" y1="359.4" x2="984.6" y2="368.9" stroke="#000" stroke-width="1.5" />
<text x="984.6" y="394.4" font-size="18" text-anchor="middle" fill="#4d4d4d">20</text>
<path d="M762.1 345.7 L758.4 326.9 L757.3 293.8 L757.7 260.7 L759 227.6 L761.2 207.7 L765 192.3 L769.4 181.3 L773.8 168 L777.1 159.2 L781.5 151.5 L788.2 148.2 L797 145.9 L803.6 142 L812.4 140.4 L823.5 137.1 L834.5 139.3 L845.5 137.1 L856.6 138.2 L867.6 141.5 L874.2 145.9 L883.1 150.4 L891.9 152.6 L900.7 150.4 L911.8 148.2 L918.4 151.5 L925 160.3 L931.6 170.2 L937.1 183.5 L941.6 198.9 L944.9 214.4 L951.5 227.6 L960.3 238.6 L966.9 247.5 L973.6 256.3 L976.9 267.3 L976.9 282.8 L974.7 296 L971.4 307.1 L964.7 318.1 L955.9 323.6 L944.9 326.9 L933.8 330.2 L922.8 333.6 L911.8 334.7 L900.7 335.8 L889.7 338 L878.6 339.1 L867.6 341.3 L856.6 343.5 L843.3 345.7 L830.1 346.8 L816.8 347.2 L803.6 347.5 L790.4 347.5 L779.3 347.9 L770.5 347.5 Z" fill="#000" />
<path d="M818.5 138.8h0m158 132.2h0m-35.3-74.7h0m-184.5 107.2h0m.7 15h0m.2-23.8h0m131.8-145.9h0m-131.5 106.3h0m218.7-3.7h0m-26-26.6h0m-171.3 122.7h0m86.3-5.6h0m-106.8-101.8h0m48.2-101.7h0m-47.6 74.8h0m216.4 49h0m-33.3-57.2h0m-184.9 97.3h0m218.3-9.7h0m-164.5-153.3h0m97.8 9.2h0m3 188h0m-139.8-168.1h0m169.8 19.5h0m15.8 134.6h0m-181.5 25h0m108.2-199.1h0m-126.8 86h0m-1.6 82.9h0m177.5 14.2h0m-80.5 12.8h0m120.5-40.8h0m-22.1-77h0m-72.3 117.8h0m43.6-189.5h0m-167.4 146.8h0m230.7-33.4h0m-94.3 69.5h0m-28.5-199.2h0m-105.4 191.1h0m1.7-106.9h0m-4.7 80.1h0m2.9-51.8h0m109.6-113.2h0m-110.9 149.1h0m190.1-81.6h0m-52.2 135.2h0m-107.9-192.3h0m56-14.4h0m-49.7 213.5h0m-32.8-130.6h0m10.1-40.7h0m185 56.2h0m-194.4 110.7h0m90.3-206.4h0m-54.8 212.8h0m141.5-167.8h0m37.5 107.9h0m-139.5 59.5h0m18.5-2.3h0m13.5-205.5h0m-111.8 128.9h0m1.7 30.3h0m7.1-107h0m65-54.5h0m-67.7 206.7h0m-5.1-74h0m-2.2 56.5h0m211.3-81.1h0m-190.9-83.8h0m72.1-25.6h0m26.8 212.1h0m44-199.1h0m-160.5 132.5h0m74.2-144.3h0m55.1 199.4h0m-133.6-8h0m185.7-139h0m2.6 10.6h0m4.5-12.7h0m-83.8 155.3h0m-84.5-187.3h0m-20.9 66.1h0m185.6-29.7h0m-120.1-56h0m78.6 206.3h0m-30.8-.1h0m24.7-4.5h0m-126.4-158.5h0m72.7-42.2h0m-83.1 187.1h0m17.7-168h0m18 190.7h0m14.4 7.5h0m-13.3-7.8h0m-27.2-162.7h0m-5.1 16.6h0m211.4 48.4h0m-95.4 89.7h0m100.9-67.4h0m-223.9 11.3h0m72.6 65.6h0m115.5-21.3h0m-186-113.4h0m67.3-80h0m-42.3 213.6h0m93.3-207.6h0m84.6 179.8h0m-202.5-67.8h0m73.9 96.7h0m-76.5-110.8h0m20.7 110.8h0m61-211.7h0m-78.7 112.1h0m24.8 99.5h0m160.3-160.8h0m-49.3-40.3h0m-5.4 189.8h0m-113.7-174.6h0m-3.8 7.5h0m5.6-12.8h0m-23.3 91.5h0m86-112.1h0m116 88.8h0m-68.8-79.6h0m46.6 25.6h0m4.3 15.5h0m-38.1-37.1h0m-140.9 192.7h0m.2-124h0m202 102.3h0m-141.4-184.4h0m126.8 72.6h0m-190 58.2h0m18-102.4h0m153.8 167.2h0m18.9-119h0m-121 133.7h0m140.2-102.3h0m-29.1-66.2h0m-28.9-31.3h0m19.1 7.2h0m47.7 151.9h0m-170.8 40.7h0m145.4-135.3h0m-71 126.6h0m-121.6-82.2h0m0 36.1h0m-1.6-.5h0m164.5 45.6h0m-163.3-105.4h0m219.9 45.3h0m-127.8 73.4h0m-86.5-167.5h0m109.3-40.5h0m-102.9 207h0m-10.4-122.8h0m178.5-45.4h0m-174.7 20.5h0m200 116.7h0m-17.7-109.9h0m-185.3 123.4h0m212.3-80.7h0m-222 47.1h0m167.6 41.7h0m-159.6-71.7h0m-2 48h0m26.3-165.5h0m106.3-4.5h0m6.1 190.1h0m-140.1-101.1h0m195.7-16.2h0m-192 60.4h0m216.8 18h0m-222.4-5.5h0m224.8-34.4h0m-223 26.1h0m-.1 12.7h0m155.7-148.9h0m38.7 59.4h0m-167.4-54.7h0m158.2 37.1h0m-181.3 75.5h0m0 43.4h0m52.2-168.4h0m127 188.9h0m-4.9-157.8h0m-97-32h0m-59.5 24.9h0m180.3 160.2h0m-195.3-118h0m49.3 140.3h0m84.4-9.4h0m38.7-171.1h0m-64.4-25.5h0m112.8 158.8h0m-148.9-164.1h0m138 175.7h0m-95.1-165.4h0m-117.5 160h0m-2.8-11.9h0m21.5-133.3h0m-22.4 123.1h0m103 61.1h0m-67.8-197.3h0m7.5-2.7h0m-38.7 85.2h0m15.6-77.4h0m8.3 196h0m-14.4-182.3h0m40.5-25.8h0m-46.7 204.2h0m161.1-189.5h0m-160.1 43.1h0m-1.2 143.6h0m-4.4-62.1h0m1.5 35.3h0m46-173.6h0m149.9 87.8h0m-10.5 99.4h0m25.1-10.5h0m-103.2-177.8h0m-92.5 206.7h0m188.8-25.8h0m-207.2-7.6h0m86.6 33.3h0m114.5-20.7h0m-198.5-82.9h0m178.9-70.4h0m-31.5 165.1h0m51.2-111.5h0m20.8 67.7h0m-206.1-115.8h0m-12.9 69.5h0m-3.3 20.6h0m191.4-56.6h0m27.3 40.5h0m-45.6-87.6h0m-17.8 171.9h0m24.2-163.9h0m42.5 103.9h0m-23.5 47.5h0m-195.8-33.2h0m200.7 30.9h0m-5.1 9.5h0m-22.5-164.3h0m-5.1-9.9h0m6.9 174.6h0m43.8-67h0m-217.4-27.5h0m190 88.4h0m-1.8-107h0m-189.3 82.4h0m220.7-14.8h0m-2.1 2.4h0m-38.5-106.6h0m-19.5-31h0m-78 194.4h0m-62.3 6.9h0m-18.8-19.6h0m135.8 10.3h0m11.8-194.4h0m-146.7 42.1h0m4.2 .2h0m-6.5 50.5h0m39.1 105.3h0m96.8-9h0m-48.1 9.1h0m-78.6-170.9h0m159.7-13.2h0m-165.6 180.1h0m146.6-194.5h0m-149.3 93.9h0m54-105.5h0m-52.5 207.7h0m119.9-6.1h0m-63.5 10.5h0m18.2-2.7h0m19.2-209.2h0m-90.7 209.7h0m82.1-210.5h0m-59.8 13.6h0m-30.5 121.1h0m36.3-128.9h0m-16 22.8h0m160.4 13.8h0m-80.5-46.8h0m-7.4 215.7h0m130.6-92.5h0m-172.4 93.1h0m158.3-30.3h0m-7.4 5.9h0m-14.2 5.3h0m-149.7-181.9h0m23.2 199.5h0m105.3-192.6h0m-121.9-12.3h0m-19.8 205.9h0m197.8-73.3h0m-32.3-63h0m-185.1 11.5h0m.8-30.3h0m170.7-23.3h0m-99.5 187.9h0m75.2-208.2h0m-144.7 55.7h0m69.1-66h0m-59 33.2h0m178.9 46.2h0m-7.1 109.4h0m-62.4-179.2h0m-24.9-10.7h0m-99.5 162.6h0m28.4 46.9h0m148.8-174.1h0m-72.2 169h0m-80.2-191.2h0m90.4-7.1h0m-76.7 206.7h0m59.2-7.4h0m-98.8-20.9h0m82.4 24.5h0m115.3-115.5h0m-85.5-94.6h0m21.3 204.6h0m-107.4 6.5h0m-24.5-82h0m182-79.5h0m-134.9 163.1h0m174.4-81.2h0m-66.6-120.9h0m-157.2 169.7h0m11.1-141.7h0m210.4 91.5h0m-219-14.9h0m218.6 8h0m-218.6 3.7h0m181.7-75.7h0m-75.1-47.4h0m95.7 98.8h0m-158.1-97.5h0m-10.1 207.1h0m55.3-3.2h0m-76.1-170.5h0m19.6 174.1h0m15.9-207.5h0m126.5 27.8h0m-47.8-18.8h0m96 132.9h0m-211.6-102.8h0m58.8-43.4h0m146.2 156.5h0m-64.6 42.9h0m23.2-162.1h0m-149.4 173.1h0m109.3-10.7h0m-127.5-153.6h0m29.7-43.4h0m135 28.6h0m-162.5 14.1h0m214.2 98.5h0m-224.2-43h0m1.3-50.7h0m-.6 54h0m-1.8 60.1h0m80 48.1h0m122.1-15.3h0m-146.9 12.9h0m-56.2-138.3h0m190.2 116.8h0m31.1-45.2h0m-122.8-143.2h0m-94.3 84.1h0m27.5-73.8h0m6.9 199.2h0m-6.4 .3h0m53.2-212.6h0m50.7 203.2h0m-135.1-28.2h0m97.1-176.5h0m-92.5 71h0m75.9 141.3h0m43-199.8h0m51.3 184.5h0m-173.3-10h0m62.1 26.8h0m126.2-16.6h0m-117.5-192.5h0m-36.3 210.8h0m-16.1-193.3h0m36.3-15.6h0m-53.9 203.4h0m64.1 5.1h0m-19.8-1.5h0m-33.2-171.3h0m23.3 177.4h0m69.8-212.9h0m28.8 11.4h0m-77.6 195.6h0m91.6-9.8h0m-14.4 2.6h0m71.7-97.4h0m-148.3-103.4h0m105.6 194.2h0m-160.4-132.5h0m14.2-34.2h0m-17.6 154.5h0m60.6-190h0m31.1 222h0m-68.9-198.2h0m-23.3 120.2h0m212 37.8h0m-197.9-137.5h0m199.8 73.9h0m-24.5 80.6h0m30.6-49.1h0m-98.4 58.5h0m69-121.3h0m4.9 106.6h0m-177.8-158.2h0m-19.3 66.8h0m195.8-7.6h0m-75.8-90.4h0m59.3 41.2h0m-32.4 160.8h0m-133.2 9.5h0m155.5-192.4h0m-44.9 189.1h0m-121.5-27.1h0m.1-57.9h0m23.9 90.6h0m31.4-1.4h0m46.9-4.2h0m-84.5-186.8h0m26.2 190.5h0m157.7-111.8h0m-192.8-48.4h0m-8.2 55.2h0m16.6-81.3h0m201.7 110.6h0m-216.6 66.1h0m215.2-46.6h0m-165.2-150.1h0m101.3 194.9h0m-153.8-36.2h0m112.3-157.8h0m105.1 120.8h0m-217.7-37h0m121.2-77.6h0m-72.7-12.1h0m4.2 3.7h0m32.1-2.4h0m21.3 216h0m-16.4-215.9h0m111.6 184.5h0m-201.5 20.5h0m131.7-193.5h0m-11-5.3h0m36.6 6.2h0m-155.6 185.5h0m221-72.8h0m-223.9 18.2h0m96.4-143.7h0m-94 102h0m184-54.2h0m-185.6 81.4h0m148.2 75.6h0m-142-140.3h0m40.9 153h0m121.2-193.3h0m-108.9 186.6h0m16.2 .4h0m57.7-10.4h0m28.2-3.7h0m-41.8-190.5h0m10.2 194.7h0m-120-151.6h0m171-3h0m-179.9 72h0m205.1 68.4h0m-206.1-8.1h0m181.5 12.6h0m-58.2 10.2h0m80.7-101.2h0m11.5 16.7h0m-86.5-104.4h0m4.2 .6h0m14.5-1.5h0m-147.2 180.2h0m170.9-164.1h0m6.7 167.6h0m-22.2-183.8h0m8.3 6.6h0m-163.6 96.3h0m-.6 27h0m177.9-100.1h0m39.8 82.1h0m-18.5 65.5h0m-20.9-146.7h0m-1.4-5.5h0m-135.7 173.3h0m70.6 4.6h0m89.2-26.1h0m-203-123.6h0m179.1-39h0m-110.3 183.7h0m93.3-7.9h0m-159.9-41.1h0m182.3 30.6h0m-101.4 17.8h0m58.6-9.9h0m40.5-165.1h0m-172.4 22.2h0m169.5-18h0m-175.9 143.5h0m-4.2-91.6h0m225.3 65.2h0m-222.2-70.8h0m-.4 39.7h0m218.5-1.1h0m-119.9 84.4h0m99.2-119.5h0m-206.3 43.8h0m225.5-13.4h0m-64.1 79.3h0m-140.9 13.3h0m75.4-213.3h0m57.3 15.3h0m46.7 175.3h0m-54.6 11.7h0m89.4-77h0m-27.9-31h0m-144.4-88h0m-52.3 179.9h0m209.5-73.7h0m-28.3-68.9h0m-181.4 70.5h0m218.3 23.5h0m-215 71.3h0m-4.2-76h0m10.5-85.8h0m187.4 50.1h0m16.3 19.9h0m-218.2-5.2h0m20.4-77.7h0m-17.6 106.5h0m100.7 70.4h0m16.8-200.8h0m-114.6 192.4h0m186.8-122.6h0m31.7 51.8h0m-169.3 82.6h0m-37.4-185.2h0m-13.8 149.5h0m119.2-167h0m-121.1 156.5h0m4.2 33.7h0m46.1 10.2h0m-43.5-147.7h0m173.8-23.8h0m-37.5 160.5h0m-90-195.2h0m-54.2 169.6h0m166.7 25.2h0m-162.6 6h0m189.3-14.8h0m2.4-.8h0m-180.1-144.6h0m1.6-4.4h0m56-41.7h0m148.5 168.4h0m-8.3 10h0m-23-104.8h0m-27.9 126.1h0m-138.1-181.4h0m9.1 193.8h0m62.3-3.5h0m-71.9-186.4h0m171.6 173.4h0m-3-4.3h0m-96.6 18.1h0m-81.5-174h0m207 85.1h0m8.7 25.5h0m-62-130.3h0m53.2 154.5h0m-78.1-156.6h0m51 71.4h0m-184-30h0m-11.2 98.3h0m6-49h0m-6.2 27.8h0m80.6-128.3h0m-74.7 185.6h0m215.9-23.3h0m-.3 3.3h0m-218.2-7.1h0m91-163.4h0m47.4 206.6h0m-140.7-43.3h0m71.2 54.6h0m-67.4-84.9h0m.5-3.6h0m115.7 79.1h0m103.4-84.7h0m-3.2-1.1h0m-216.2 15.6h0m180.7 56.1h0m-123.5-189.8h0m-56 191.6h0m30.4-184.8h0m60.9-8.5h0m-61.9 211.1h0m82.5-6.3h0m-113.2-18.8h0m138.9-174.4h0m-62.1-11.5h0m106.7 60.4h0m-78.5 144.1h0m30.8-4.8h0m-131.5 7.7h0m175.1-8.1h0m-176.5 6h0m170.6-178h0m-171.2 45.8h0m74.5-74.3h0m-61 18.8h0m17.2-7.5h0m181.8 158.8h0m-216.4-41h0m-1.4 21.3h0m219.9 18.5h0m-1.8-50.4h0m-99.5-110h0m-30.9 200.8h0m1.4-.3h0m-79.6-150.1h0m70.4 152.2h0m24.9-212.2h0m-89.1 40.8h0m171.8 16.8h0m-.2 136.7h0m-106-190.7h0m-80.4 93.1h0m223.5 47.4h0m-220.1-57.7h0m168.5 111.9h0m-170.3-80h0m89 91.9h0m-84.6-139.9h0m211.7 104.7h0m-214.3-77.6h0m15.1-66.2h0m163.8 20.5h0m-116.5-49h0m-41.1 212.2h0m-28.8-78.8h0m5.6 .2h0m16.6 78.9h0m181.9-25.9h0m-194.5-122.6h0m-3.5 65.7h0m107-126.4h0m8.5 1h0m100.7 159.9h0m.9-44.5h0m-217.6-15.7h0m119.1-97.3h0m-46.7 202.9h0m121.7-125.5h0m-64.9-70.8h0m78.1 171.6h0m-37.1 11.5h0m-57.1 8.4h0m106.4-78.6h0m-166.1-124.7h0m-53.6 134.9h0m164.1 61.5h0m52.3-79.9h0m-85.1-104.9h0m81.9 99.9h0m10.5 38.8h0m-221.4-78.1h0m164.8 122.2h0m10-172.3h0m-177 156.7h0m-.5-90.3h0m49.1 120.6h0m-49.3-76.6h0m187.5-72.1h0m-6.8-20.5h0m-50 160h0m-5.6-195.7h0m-118.1 48.1h0m105.7-52h0m-118.9 116.2h0m91.1-117.4h0m-57.1 11.2h0m-24.5 186.6h0m126.7-187h0" stroke="#000" stroke-width="4.8" stroke-linecap="round" fill="none" />
<path d="M761.7 174.2h0m76.1-69.5h0m1.1-.7h0m-22.1 11h0m-.6 6.2h0m22.1-5.9h0m-10 11.2h0m40.4-13.7h0m2.4 4.2h0m16.4 4.7h0m-4.4 2.2h0m-30.9-.7h0m-6.7 1.3h0m-45.2 6h0m2.4 3.3h0m153.2-19.2h0m0 22.1h0m-33.8 3.7h0m8 8.9h0m-23.2-8.2h0m42.8 2.6h0m1.8 6.7h0m22.1 6.6h0m5.9 11h0m21.2-1.5h0m-62.5-4.4h0m-6.6 7h0m17.7-1.1h0m-8.8 4.4h0m45.9 10h0m-.3 12.1h0m-12.5-2.2h0m-11.1-13.2h0m-6.6 4.4h0m4.4 11h0m15.5 8.8h0m13.2 5.6h0m3.3 11h0m-6.6 5.5h0m11 5.5h0m-9.9 4.9h0m28.3-13.7h0m-8.4 34.2h0m6.6 9.9h0m7.1 13.3h0m-15.9 2.6h0m-15.5-2.6h0m13.3 13.2h0m-4.5 5.5h0m-15.4-6.6h0m6.6 8.9h0m-8.8 2.2h0m2.2 17.2h0m2.2 8.1h0m20.5-2.8h0m-128.7 16.1h0m13.3-1.1h0m89.4-97.1h0m-12.2-8.9h0m6.7-4.4h0m-4.5-17.6h0m-2.2 8.8h0m-11-11h0m-4.4-11.1h0m-6.6-4.4h0m13.2 26.5h0m4.4-8.8h0m-8.8 22h0m24.3 26.5h0m6.6 6.6h0m-3.3 6.7h0m7.7-19.9h0m-19.9-11h0" stroke="#000" stroke-width="4.8" stroke-linecap="round" fill="none" />
<line x1="757.3" y1="285" x2="1018.8" y2="255.2" stroke="#3A62E8" stroke-width="4.2" />
<text x="868.5" y="418" font-size="22" text-anchor="middle">Dendrite similarity score</text>
<text x="868.5" y="444" font-size="22" text-anchor="middle">of neuron pairs</text>
<text x="633" y="226" font-size="22" text-anchor="middle" transform="rotate(-90 633 226)">Axon similarity score</text>
<text x="659" y="226" font-size="22" text-anchor="middle" transform="rotate(-90 659 226)">of neuron pairs</text>
<text x="1310.8" y="66.5" font-size="23" text-anchor="middle">CT</text>
<text x="1182.3" y="94" font-size="21.5" xml:space="preserve"><tspan font-style="italic">R</tspan><tspan dy="-9" font-size="14">2</tspan><tspan dy="9"> &lt; 0.01</tspan><tspan>   </tspan><tspan font-style="italic">P</tspan> &lt; 1×10<tspan dy="-9" font-size="14">-26</tspan></text>
<line x1="1166.9" y1="93" x2="1166.9" y2="360.1" stroke="#000" stroke-width="1.5" />
<line x1="1166.2" y1="359.4" x2="1454.3" y2="359.4" stroke="#000" stroke-width="1.5" />
<line x1="1156.9" y1="310.3" x2="1166.9" y2="310.3" stroke="#000" stroke-width="1.5" />
<text x="1153" y="316.6" font-size="18" text-anchor="end" fill="#4d4d4d">500</text>
<line x1="1156.9" y1="254.1" x2="1166.9" y2="254.1" stroke="#000" stroke-width="1.5" />
<text x="1153" y="260.4" font-size="18" text-anchor="end" fill="#4d4d4d">1,000</text>
<line x1="1156.9" y1="197.9" x2="1166.9" y2="197.9" stroke="#000" stroke-width="1.5" />
<text x="1153" y="204.2" font-size="18" text-anchor="end" fill="#4d4d4d">1,500</text>
<line x1="1156.9" y1="141.7" x2="1166.9" y2="141.7" stroke="#000" stroke-width="1.5" />
<text x="1153" y="148" font-size="18" text-anchor="end" fill="#4d4d4d">2,000</text>
<line x1="1175.7" y1="359.4" x2="1175.7" y2="368.9" stroke="#000" stroke-width="1.5" />
<text x="1175.7" y="394.4" font-size="18" text-anchor="middle" fill="#4d4d4d">0</text>
<line x1="1246.5" y1="359.4" x2="1246.5" y2="368.9" stroke="#000" stroke-width="1.5" />
<text x="1246.5" y="394.4" font-size="18" text-anchor="middle" fill="#4d4d4d">5</text>
<line x1="1317.3" y1="359.4" x2="1317.3" y2="368.9" stroke="#000" stroke-width="1.5" />
<text x="1317.3" y="394.4" font-size="18" text-anchor="middle" fill="#4d4d4d">10</text>
<line x1="1388.1" y1="359.4" x2="1388.1" y2="368.9" stroke="#000" stroke-width="1.5" />
<text x="1388.1" y="394.4" font-size="18" text-anchor="middle" fill="#4d4d4d">15</text>
<path d="M1182.8 342.4 L1180.6 315.9 L1179.9 293.8 L1181.7 271.8 L1185 249.7 L1188.3 234.2 L1193.8 221 L1199.3 210 L1203.7 198.9 L1208.2 185.7 L1211.5 174.6 L1219.2 169.1 L1228 163.6 L1236.8 160.3 L1245.7 160.3 L1254.5 162.5 L1265.5 165.8 L1276.6 174.6 L1284.3 183.5 L1289.8 192.3 L1294.2 203.3 L1299.8 216.6 L1305.3 229.8 L1311.9 243.1 L1320.7 251.9 L1327.3 260.7 L1329.6 282.8 L1327.3 304.9 L1320.7 322.5 L1309.7 329.1 L1298.6 335.8 L1287.6 340.2 L1272.2 343.5 L1254.5 346.8 L1236.8 347.9 L1223.6 347.9 L1210.4 345.7 L1197.1 343.5 L1188.3 342.4 Z" fill="#000" />
<path d="M1230 162.8h0m-37.7 56.3h0m23.2 128.5h0m-25-125.8h0m60.9-60h0m-72.1 108.8h0m108.1 71.2h0m-1-157.1h0m-97.2 31.9h0m40.8-55.4h0m52.7 183h0m2.6-159.5h0m17.8 40.6h0m-29 118.2h0m-9.3 1.5h0m-22-184.8h0m26 8.3h0m-88.2 172.6h0m25.7-150h0m2.7-11.1h0m61.8-11.9h0m58.7 110.6h0m-108.2 72.2h0m-43.9-39.9h0m57.1 39.5h0m-54.8-86.1h0m147.5 0h0m-150.5 72.1h0m152.3-59.6h0m-148.3 9.4h0m13.6-71.9h0m32.9-50.1h0m8.2 186.2h0m-54.3-101.3h0m142.2 2h0m10.1 33h0m-34 54.7h0m-112.7-105.7h0m115-17.8h0m-25.1-45.6h0m28.3 58.8h0m-108-13.3h0m94.4-18.2h0m-6.6-12.7h0m7.4 11.3h0m12.6 23.7h0m-125.4 119.6h0m106.8-154.9h0m46.5 97.7h0m-90.4-122.1h0m-37.7 184.7h0m124.9-78h0m-149.3 60.4h0m153.4-34.7h0m-117.8-129.6h0m80.4 43.1h0m-57.1 141.7h0m87.5-35.9h0m-104.9-147.9h0m15.7-4h0m63.5 53.1h0m-110.1 14.2h0m77.2-60.5h0m10 176.2h0m-.5 .4h0m16.6-140.5h0m6.8-1.2h0m30.7 74.7h0m-111.8-107.4h0m-11.5 12.7h0m122.2 83.8h0m-151.5 55.5h0m66.8 27.9h0m-65.4-33.4h0m2.3 24h0m43.2 10.3h0m105.9-71.5h0m-99.4 71.5h0m93-93.8h0m3.9 43.9h0m-.5-8.7h0m1.5-7.6h0m-20.1 45.4h0m-123.2-85.8h0m120 93.2h0m22.5-59.1h0m-48.8 67.5h0m25.9-112.1h0m-97.2-52.3h0m4.6-7.7h0m119.2 96.4h0m-153.8 43.7h0m1.9 8.3h0m105.8 21h0m-59.6 7h0m-45.8-14h0m137-92h0m-125.3 101.2h0m68.9-178.7h0m66.1 105.5h0m-144.2-11.9h0m-3.3 81.2h0m-5.7-65.2h0m1.3 18.7h0m5.8-22.2h0m142.7 40.3h0m-2.9 7.3h0m-143.9-4h0m151.1-5.2h0m-6.6 7.1h0m6.8-55h0m-43.1-83.4h0m-90.8 24.7h0m129.3 107.2h0m-144.3 24.2h0m102.3 6.5h0m-73.6-166.2h0m-27.8 75.7h0m108.5-56.8h0m-51.8-34.5h0m37.3 12.3h0m-95 90.6h0m54.8-102.8h0m92.9 103.2h0m-79.4-104h0m-36.1 190.3h0m95.2-114.3h0m-134.2 74.7h0m156.9-5.8h0m-110.8-136.1h0m-24.9 179.1h0m124-96.7h0m-46.5-83.3h0m-29.2-7.8h0m78.6 88.7h0m-33.4 92.9h0m-105.7 1.4h0m85.5-175.3h0m16.3 178.6h0m-106.6-25.5h0m108.9 24.7h0m22.3-107h0m-43.9 110.7h0m67.8-54.5h0m-105.4-128.9h0m79.5 62.6h0m-120 4.6h0m33.2 115.9h0m102-96.4h0m-37.9-67.5h0m-85.1 20.5h0m97.4 133.4h0m-119.5-43.4h0m128.7 37.5h0m8.6-92.5h0m-68.4 109.3h0m42.7-160.2h0m-101.2 50.2h0m-2.9 4.2h0m50.5-82.8h0m22.2 2.6h0m-73.5 97.9h0m.6 82.6h0m-5.2-59.2h0m119.3 52.1h0m18.8-87.7h0m-20.5-37.4h0m-124.3 114h0m84.1 22.7h0m51.2-112.6h0m-5 99.3h0m-91.1 14.4h0m71.7-1.1h0m-81.8-141.9h0m-12.3 26.7h0m-8.9 64.1h0m128.1-67.9h0m-22.7-51.3h0m-53.6 170.5h0m85.5-99.3h0m-142.3 27.5h0m25.4-72.5h0m133.1 64.7h0m-4 16.7h0m-51.9-108.1h0m-77.9 176.7h0m-6.1-131.6h0m7.2-17.4h0m35 147.9h0m35.9-9h0m27.9-5.9h0m36.4-66.2h0m-155.8 40.6h0m136 19.4h0m12.6-42.5h0m-12.8-44.2h0m-136 39.8h0m21.6-80.3h0m86.9-12.7h0m-91 22.1h0m130.6 75.6h0m-3.3 21.5h0m-148.8 12.6h0m12.4-102.8h0m68 130.2h0m-74.8-85.2h0m-6.5 23.3h0m94.2 57.1h0m10.1-167.6h0m.2 164.7h0m47.2-80.9h0m-133.2-40.1h0m133 87.3h0m-147.5-46.9h0m23.7-63.3h0m-19.4 57.8h0m87.1 87.5h0m-86.8-94.2h0m27.5-80.4h0m-37.7 109.3h0m2.5 32.4h0m153-27.4h0m-41.4-94.6h0m-86 14.2h0m31.2-51.2h0m-49.4 195h0m-3.7-58.6h0m59.7 58.8h0m83.9-32.1h0m-129.1 27.5h0m94-2.5h0m-105.4-75.1h0m91.8 78.8h0m-88.6-103.9h0m44.7 107.9h0m77.5-111h0m-124.6 5.8h0m142.3 64.7h0m-145.9-8.8h0m141.7-46.4h0m-117-57.2h0m119.1 58.3h0m-37.9 88.4h0m-96.5-110.2h0m133 87.1h0m1.3-6.1h0m-37.5 28.2h0m-16.4 6.7h0m21-150.3h0m-59.1 151.6h0m21.1-1.7h0m-69.1-107.6h0m53.7-79h0m2.3-1.4h0m-58.5 180.9h0m96.3-165.2h0m-98.5 100.8h0m104.7 69h0m-69.9-174.2h0m32.1-12.2h0m-69.6 150.6h0m31.2 37.5h0m88.9-139.3h0m3.8 12.9h0m-99.9 124.3h0m-13.8-102.1h0m10.9-36h0m-16.1 119.8h0m146-25.2h0m-147.1 32.1h0m130.3-93.8h0m16.4 63.7h0m-72.4 46.2h0m-74-31.4h0m111.7-120.5h0m-86.3-4.9h0m52.4-28h0m58.7 79.7h0m-135.3 17.3h0m135.8 63.1h0m-38.6 23h0m-29.5-186.4h0m21.2 184h0m-16.4-187.5h0m49.1 175.9h0m-105.8-121.1h0m79.7-46.1h0m13.8 177.5h0m-6.6 .7h0m-105.3-31.2h0m25.6 36.9h0m-5.4-142.3h0m128.4 56.6h0m-28.8-47.7h0m-26.9-46.3h0m-90.4 160.8h0m17 15.4h0m18.1 2h0m71-4.3h0m-41.9 2.9h0m82.1-77.9h0m.7 20.3h0m-22.6-69h0m19.3 38h0m-27.7-47.6h0m-88.3 135.1h0m-.9-167.9h0m-28.8 97.9h0m26.7 70.2h0m-3.3-148.4h0m96.7 20.3h0m-118.4 56h0m26.3-89.5h0m-.5 3h0m-28.7 106.5h0m92.2 51.2h0m38.9-109.6h0m-122.5-4.3h0m96.1-50.3h0m39.9 73.3h0m-112.3-78.6h0m-18.4 45.6h0m54.3-61.9h0m-65.1 176.6h0m76.8 10.2h0m47.2-116.9h0m-106.8-42.6h0m7.3-3.7h0m-21.9 72.1h0m69.1 92.5h0m-73.8-39.3h0m96.3-136.7h0m-95.3 110.5h0m24 65h0m-21.3-89.9h0m46.1-95.9h0m97 93h0m-45.6 88.4h0m42.2-20.3h0m-11.1 6.3h0m-11.4 8.2h0m-71.1 10.9h0m24.2-1.3h0m55.7-15.7h0m-11.2-133.5h0m11.1 39.6h0m-7.2 101.1h0m19.1-86h0m-41.2-74.3h0m44.2 135.8h0m-73.3-152.9h0m-3.5 0h0m52.9 178.1h0m-6.8-138.6h0m-107 40.9h0m-4.7 21.3h0m129.1-20.2h0m-84.5 106.2h0m42.9-1h0m-64-2.4h0m66.3-179.6h0m-89 171.3h0m125.2-103.3h0m-81.4 117.2h0m86.1-134.9h0m-14.9-6.4h0m31.3 84h0m-96.6-132.5h0m-4.8-2.6h0m102.4 130.3h0m-150-.6h0m76.5-125.8h0m56.3 74.5h0m-110.6 108.8h0m73.6-173h0m-90.9 170.5h0m117.2-127.9h0m-117.1 33.4h0m9.3 98h0m101.2-139.1h0m-54.6 142.4h0m42.1 .6h0m-38.7-2.1h0m-60.5-91.9h0m112.6-50h0m-109 32.8h0m141.5 23.7h0m-101.7-109h0m100.3 112.7h0m-65-104.1h0m-53.7 14.9h0m-26.4 163.1h0m87.3 5h0m59.7-61.6h0m-35.7-84.6h0m-91.5-.5h0m107.9 13.8h0m-.1 25.8h0m-128.5 37.2h0m130.2 52.3h0m-131.1-40.5h0m120-76.2h0m24.5 42.2h0m-144.3 55h0m125.9 23.2h0m19.3-21.7h0m-141-60.6h0m-8.8 38.1h0m135.6-45.1h0m-32.8-65.3h0m-102.5 135.6h0m140.3-72.6h0m-41.2-67.7h0m-75 35.8h0m19.5 142.9h0m-9.9-180.2h0m73.5 170.7h0m39.6-95.1h0m-26-49.9h0m-98.9 14.5h0m126.6 100.3h0m-117.6-135.7h0m85 16.2h0m-93.3 19.2h0m34.2-49h0m-34.9 182.2h0m107.7-111.9h0m-5.4-14.4h0m-43.4-53.9h0m-78.8 110.3h0m51-111h0m-42 74.2h0m10.3-23.2h0m132 67.5h0m-147.8-25.4h0m-2 35.1h0m93.3 51.8h0m4.9-171h0m11.3 167.3h0m-59.8-178.5h0m13.5-6.4h0m-57.6 71.9h0m108.5-23.3h0m-14.5-24.6h0m47.9 126.4h0m-89.5 44.3h0m.3-188.9h0m82.9 92.4h0m-68.2 94.1h0m43.8-139.9h0m-94.7-10.8h0m45.9-36.8h0m60.1 75.6h0m-57.9-73h0m-67.4 82.4h0m31.6-73.7h0m-34.7 111.6h0m54.8-121.9h0m-25.1 22.7h0m1.9-7.7h0m-31.7 97.3h0m26.4-82.2h0m26.8 160.1h0m14.7 .3h0m-65.6-81.3h0m-2.3 56.8h0m150.2-45.1h0m-66.9-117.8h0m64.9 137.5h0m-60.8 44h0m60.4-82.8h0m-150.7 16.4h0m147.2 41.4h0m-142.6 .2h0m3.2-66.9h0m25-73.7h0m-28.8 141.4h0m147.2-53.6h0m-56.8 77.7h0m54.4-34.8h0m-51.7-140h0m-45.2-6.2h0m45.7 181.7h0m-66.7-157h0m55.6 158h0m-82.7-30.3h0m-2.2-35.6h0m8.8-55h0m129.3 99.1h0m12.1-26.5h0m-9.5 28.8h0m-112.4-135.9h0m5.5 155.4h0m8.6 2.7h0m103.3-26.8h0m4.1-61h0m-149.5 51h0m91.8-144h0m-48.2 178.9h0m88.2-19.2h0m19.9-25.2h0m-128.6-101.8h0m-2.3 144.2h0m103.1-122.4h0m-122.5 86.6h0m81.9-144.8h0m-50.5 10.9h0m117.5 129.9h0m-131.4-92.2h0m99.5-5.3h0m-79.1 139.2h0m-12.2-166.9h0m-24 83.5h0m37.9-98.4h0m85.9 58.8h0m-122.1 24.5h0m134.7-.5h0m-7.9 84.1h0m-129.3-53.3h0m53.4-117.8h0m-54.1 147.8h0m6.4-75.8h0m91.2-56.8h0m-61.3-6.4h0m19.2-9.2h0m-55.1 141.8h0m6.5 42h0m-9.2-48.7h0m15.6 48.2h0m-13.5-62h0m92.3-110.9h0m29.5 51.4h0m-74.9 126.8h0m105.5-88.6h0m-3.5 14.2h0m-129.2-65.6h0m-20.7 117.8h0m91.9 16.6h0m-85.4-104.1h0m82.9 109.2h0m-85.9-100h0m93.8 95.9h0m-58.3-174.8h0m60.6 172.3h0m-40-183.2h0m.4-2h0m-40.7 55.7h0m110.7 21h0m-27 109.5h0m-47.2 9.8h0m58-155.9h0m-108.9 58.2h0m127-13.7h0m17.3 52.8h0m-47.9-125.3h0m-99.9 123.6h0m94.2-119.8h0m49.1 140.1h0m-52.9 34h0m28.3-11h0m-94-146.7h0m91.6 18.3h0m-73.6-41.9h0m109.4 116.3h0m-97 65.6h0m-27.3-164.5h0m98.9 49.4h0m-118.6 2.3h0m27.6-64.6h0m-18.2 177.6h0m60.1 5.1h0m-54.5-7.1h0m82.7-5.9h0m44.2-51.7h0m-122.5-106h0m.6 163.8h0m120.2-74h0m-105-110.4h0m-42.1 165.2h0m148-37.5h0m-151.3 5.9h0m62.2-136.3h0m24.2 5.4h0m42.9 68.8h0m-126.4 46h0m62.1 69.3h0m-65.8-68.5h0m23.9-74.5h0m98.3 10.6h0m-7.8-21.6h0m-98.2 23.9h0m-13.6 61.4h0m133.3-34.9h0m-53.5-80.5h0m16.9 5.9h0m28.9 55.2h0m7.2 101.3h0m-125 17.5h0m-10.4-58.7h0m73.9-123.9h0" stroke="#000" stroke-width="4.8" stroke-linecap="round" fill="none" />
<path d="M1436.2 292.8h0m-87-16.9h0m-26.7 19.6h0m23.9-26h0m59.4 11.2h0m21.8 17.2h0m-2-5.1h0m-84.7 16.1h0m20.9 1.6h0m40.8 5.5h0m-67.1-40h0m73.9 50.8h0m-16-74.9h0m-6.7 62.1h0m15.2-48.5h0m-57.9 17h0m77.5 11.9h0m-87.5 19.4h0m9-21.8h0m12.6 11.7h0m10.9-47.9h0m59.5 34.8h0m-22.3 23.8h0m-41.8-58h0m19.2 63.7h0m-38.5-4.8h0m59.9-37.6h0m-24.5-20.7h0m44.4 20.8h0m3.3 19.2h0m-95.9-24.9h0m16.9 49.9h0m44.9-75.1h0m-50.5 28h0m35.9 19.1h0m-9.6-19.7h0m8.6 55.9h0m-49.8-74.3h0m75.2 11.2h0m-47.8 20.1h0m-1.4 6.1h0m32.1 34.3h0m3.9-16.5h0m37.5 .3h0m-28.8-12.3h0m-32.5-31.2h0m52 52.2h0m17.2-16.9h0m-76.3 7.3h0m52.4-22.5h0m-12.6-14h0m-10.1 4.9h0m-59-6.1h0m50.6 2.7h0m-28.6-11.7h0m12.7-8.8h0m12.5 27.4h0m13.9-12.6h0m-32.1 .5h0m51.1 21.4h0m25.4-18.6h0m-2 21.5h0m-101.2-35.8h0m60.2 71.4h0m-26.8-18.8h0m8.5 8.3h0m-43.3-33.9h0m100-18.4h0m-88.4-.7h0m65-4.4h0m-36.7-1.5h0m24.4 58.6h0m5.5-59h0m10.3 67.7h0m-16-78h0m25.1 70.3h0m-56.3-65.3h0m-18.4 35.4h0m82.6 9.1h0m-66 9.6h0m38.8-30.4h0m3.6-5.9h0m-74.8 6.7h0m-1.4 18.8h0m34.8-11.7h0m31.6-20.9h0m-16.1-21.5h0m55.5 48.6h0m-37.4 14.1h0m-34.3-55.7h0m-20.8 4.4h0m79.1 24.7h0m-33.1 14.6h0m2 6.1h0m5.6-28.8h0m16.8-6.5h0m-3.6 44.7h0m7.8-40.1h0m-38.9-2.8h0m8.5 58.5h0m-5.7-25.2h0m35.8-25.8h0m-89.7-20.2h0m3.9 32.5h0m59.5-28.3h0m46.3 16.2h0m-95.1-16.6h0m70.8 65.7h0m4.8-59.9h0m24.6 22.6h0m-41.7-13.6h0m19.8 10.2h0m-57.3 39.1h0m-26-15h0m-5.1-7.7h0m40.5 19.3h0m-41.2-26.5h0m42.1 31.3h0m64.4-25.8h0m-86.7-33.1h0m4.6 16.1h0m-3.7-20.4h0m63.4 38.8h0m-65.2-6.5h0m-7.2 26h0m85.7-52.6h0m-14.2 49h0m-56.4-43.4h0m24.4 49.4h0m-38.9-18.4h0m52.4-20.2h0m-2.2 37.9h0m-44.4 .1h0m18.1-9.2h0m-25.2-3.9h0m-6.4-50h0m70.4-7h0m-41.3 73.2h0m45.3-3.3h0m-58-7.9h0m32.5-49.5h0m-8.9-11.2h0m-13.7 68.3h0m-23.6-34.5h0m1.9-5.2h0m5.2 22.7h0m-3.8 4.6h0m42.5-55.2h0m-17.7 33.9h0m67.9-13h0m-4.2 33.7h0m-73.4-48.9h0m-1-9.6h0m-26.7 38.9h0m43.9 4.2h0m33.7 8.5h0m-17.3-9.2h0m17.6 38.3h0m22.1-23.4h0m-57.1-35.2h0m2.3 57.8h0m-3.8-51.9h0m2.7-21.4h0m23.8 69.1h0m-42.4-27.8h0m14.7-32.7h0m-21.5-11h0m77.5 59h0m-17.9-40.6h0m-5.7 19.8h0m-39.8 37.3h0m64.7-40.7h0m-31.4 42.8h0m-43.1-32.3h0m61.2-22.1h0m-3.7 1.3h0m-22.4 19.4h0m18.2-25.7h0m-5.8 19.5h0m-48.8 6.1h0m5 26.2h0m25.1-16.5h0m5.8-21.7h0m-36.2-29.5h0m85 34.1h0m-48.6-.1h0m34.9-25.5h0m-77.1 51.5h0m34.6-16h0m44.2 22.4h0m-53.7-5.5h0m-27.4-51.2h0m-6.1 9.3h0m84.2 14.5h0m-42.1-38.3h0m29.1 31.9h0m-26 30.8h0m33.7-57.2h0m-9.5 19.2h0m-19.1-11.5h0m-18.1 9.1h0m-20.4 20.3h0m-17.2-34.6h0m79.4 8.5h0m-47.4-2.9h0m37.5 54.5h0m-52.2-38.5h0m71 17.2h0m-50.6-50.7h0m8.6 28.6h0m32.4-6.4h0m-36.6 31.2h0m48.5-26.1h0m-51.2 20h0m70.5 11.7h0m-72.1-4.1h0m-5.1-52.5h0m51.3 27.3h0m-27.7 10.3h0m45.1 23h0m-105.3-14.5h0m52.6-11.5h0m45.3-4.2h0m-44 42h0m-4.1-35.3h0m8.7 29.5h0m19.1-7.5h0m-32.4-61.8h0m33.5 45.4h0m10.8 19h0m-78.4-48.5h0m-4.9 52.7h0m3-64.3h0m78.3 42h0m-84 10.3h0m79-17.5h0m-79 18.4h0m43.7-9.5h0m-10.1-5.8h0m-7.1-22.6h0m4.6-.6h0m65.6 26.5h0m-41.8-11.9h0m-55.3-10.3h0m98.1 44h0m-1.2-48.1h0m-38.5 10.3h0m-8.7 10.1h0m14.3-10.8h0m26.2-14.7h0m14.2 31.5h0m-104.4-21.4h0m57.9 8.4h0m3.9-7.6h0m-35.1 41.7h0m2.2-7.5h0m61.5-10.5h0m-41.9 30.3h0m-1.2-5h0m-46.5-39.2h0m69.9-34h0m-5.1 11.6h0m39.2 33.6h0m-14.7-5.5h0m-15.2 15.6h0m-45.6-41h0m-23.3-10.2h0m82.2 75.5h0m-44.5-25.8h0m-18.9 21.8h0m51.5-66.3h0m-75.7 47.8h0m-1.8 12.4h0m30.3-53.3h0m34.7 7.6h0m-2.5-14.5h0m42.2 15h0m-62.6-25.7h0m-1.4 53.6h0m-18.8-8.4h0m-15.6-7.1h0m76.3-3.1h0m-5.9-27.8h0m31.3 36.3h0m-78-15.7h0m55.3 13.1h0m-32 32.4h0m13.6-28.5h0m-61.2-35.4h0m21.9 66.5h0m69.1-58.8h0m-29.6 65.4h0m-30.7-2.1h0m37.6-78.9h0m-38.9 35.3h0m-10.3 25.8h0m-8.3 4h0m14.4-63.4h0m31.4 2.3h0m-.9 61.1h0m5.3-28.8h0m-67.6 4.6h0m7.6 11.8h0m4.2-6.1h0m26.6-18h0m37.3-18.6h0m-39.9 59.9h0m65.2-31.9h0m-87.2-34.1h0m41.8 39h0m-45.5-6h0m5.6 5.9h0m41.2-14.8h0m-37.2 3.2h0m.7-24.4h0m4.4 65.7h0m31.5 1.7h0m-1.6-8.8h0m9.8-9h0m-41 5.4h0m-9.1-42.9h0m-14.8 11.4h0m58.6-9h0m7.3-5.1h0m2 48.6h0m-42-16.3h0m44.8 8.1h0m23.6-30.8h0m-.5 10.5h0m15.6-4.4h0m-64.1-28.6h0m-19.5 57h0m52.2-51.4h0m-40.3-.9h0m-17.5 7h0m15.9 66.7h0m17.9-42.2h0m36.1 36.2h0m-3.4-24h0m-66.4-.9h0m77.8 14.2h0m-90.7-6.1h0m30.9-49h0m74.2 45.1h0m-26.5-47.5h0m19.2 53.8h0m-8.7 5.1h0m-29.2-32.4h0m28.3 30.8h0m5.5-42.8h0m10.8 20.5h0m-85.3 27.1h0m-2.4-56.6h0m27.2 3.5h0m4.2 59.2h0m23.2-17.4h0m-35.3 6.5h0m48.3-8.9h0m-46.6-52.6h0m29.6 66.1h0m-37.6-21.3h0m59.7 17.5h0m-98.6-60.3h0m95.7 27.2h0m-24.9 3.5h0m-32.4-21.6h0m2.2 55.7h0m31.9-48.7h0m-63.9-1.9h0m73.8 15.1h0m-4.9 32.2h0m-65-10.9h0m-9.5 12.3h0m17.2-48.7h0m93 8.1h0m-88.2 46.5h0m46.4 .4h0m-25.9-34.8h0m67.5 .6h0m-51.6-44.7h0m-8.7 71.4h0m-24.5-40.3h0m-18 17.7h0m91.5-3.5h0m-58.4 36.6h0m62.2-23.1h0m-98.3-3.7h0m44.2 29.4h0m-9.9-26.2h0m32.5-25.2h0m-13.2 26.6h0m46.3-15.8h0m-65.3 42.3h0m-36.9-12.5h0m75.3-24.5h0m-28.3 17.1h0m53.3-2h0m-68.1-52.2h0m-21.7 39.7h0m52-47.7h0m-22.2 61.8h0m30-41.1h0m14.5 .9h0m-26.2 11.4h0m52.2 20.1h0m-20.9 2.5h0m-51 25.3h0m39.6-24h0m-52-46.7h0m35.8 58.6h0m26.3-42.3h0m-78.7 14.9h0m72-30.5h0m-51.3-10.3h0m-1.7 29.1h0m-13.3-6.5h0m16.1 11.4h0m-25.5-15.8h0m34.3 11.1h0m-22.8 46.2h0m29.6-6.3h0m22.5-5.2h0m-38.8-55.3h0m53.2 28.1h0m-23.9 17.7h0m23.4-34.9h0m-46.9 56.7h0m20-55.6h0m12.1-2.5h0m23.7 27.1h0m-56.9 32.9h0m-10.6-61.4h0m-23.6 26.9h0m82.3 11.4h0m-41 11.5h0m-36.3-44.2h0m64.2 58.3h0m-1.3-24.3h0m16.9-26.3h0m19.9 30.7h0m-72-30.9h0m55.8-3.8h0m-74.5 46.1h0m41.6-30.9h0m16.5 33.6h0m-64.4-49.7h0m-8.1 6.5h0m52.4 38.8h0m20-24.2h0m-31.8-.4h0m-15.6 23.9h0m61.9-.5h0m-76.7-14.7h0m72.5-15.1h0m-1.3 28.2h0m-11.3 5.1h0m-62.3-15.4h0m68.9-8.1h0m-51.6-48.1h0m39.5 66.8h0m-39.7-53.9h0m-5.9-10.6h0m54.3 77.8h0m15.2-54.3h0m4.4-3h0m-84.2-4.5h0m-9.6 15.1h0m59.7 31.9h0m-62 1.8h0m8.5-53.2h0m62.4 10.2h0m-35.9 20.2h0m-13.6 19.8h0m-1 4.1h0m72.1-26.7h0m-93.6 21.3h0m-.3-24.2h0m47.6-39h0m24.8 58.4h0m-5.4-28.6h0m-8.8 16.6h0m-34.4 24.7h0m30.3-64.8h0m-2.9 48.4h0m30.6-20.1h0m-44.1-23.4h0m7.4 8.2h0m-25.1 40h0m38.7-26.2h0m-38.3 23.4h0m-.1-38.7h0m43.7 38.5h0m19.5 1.6h0m-79.3-45.4h0m79.3 37.5h0m-55.1-24.3h0m-12.1 24.5h0m-14.4-40.4h0m37.5 63.9h0m54-39.2h0m-84.5-30.7h0m6.2 59.2h0m38.2 18.8h0m53-17.3h0m-52.4 2.4h0m-41.8-62.9h0m52.3 35.2h0m-42.6-22.6h0m60.3 61.2h0m32.5-44.9h0m-29.9-4.6h0m9.6 40.3h0m-71.9-22.6h0m74.1 17.8h0m-44.1-65.6h0m51.2 43.3h0m-98.4-18.6h0m66.6 49.6h0m-16.9-21.7h0m-33.5-34.9h0m84.2 12.2h0m-96.5 18.5h0m2.7-34.6h0m39.7 34.1h0m21.7 10.7h0m-23.7-56.5h0m3.7 29.4h0m24.4 27.7h0m-52.1-5.7h0m54.4-15.7h0m-66.2 38.6h0m55-74.7h0m-44.6 29.1h0m67.3 38.1h0m-18.5-7.3h0m-71.7-57.2h0m24.3 73.9h0m-2.5-22.8h0m85.5-3h0m5.2 6.3h0m-94.6 8.6h0m-2.9-26h0m-6.9 24.2h0m54.2 3.1h0m-6.4-17.8h0m11 15.9h0m-5.9-44.9h0m34.2 45.9h0m-44.7-60.9h0m23.1 7.6h0m-26.6-8.6h0m65.9 38.5h0m-75.1-39.9h0m45.5 66.7h0m-43.7-48.3h0m47.5-13.7h0m-18.7 73.4h0m-64-76.4h0m74.3 42.8h0m-20.7-12.6h0m-13.6 13.7h0m29 27h0m10.2-10.6h0m21.6 3.6h0m-27.9 1.1h0m-30.1 2.5h0m1.4-15.2h0m-22.8-35.8h0m11.5 2.1h0m-30.5 10.5h0m106.6 18.6h0m-5.8 9.6h0m-21.6-43.1h0m-60.5 12.2h0m-27.6-16.1h0m37.1 47.7h0m53.6 10.5h0m2.4-31.6h0m-83 25.9h0m25.2-17.5h0m6.4-7.9h0m19.7 9.9h0m.9 25.5h0m-15.8-2.2h0m34 4.8h0m-72.2-66.7h0m23.8 61.3h0m-32.9-57.1h0m19.5 15.7h0m61.4 22.3h0m7.2 5.6h0m-59.9-43.8h0m-26.5 38.3h0m21.8-38.1h0m90.8 33.9h0m-44.9 1.1h0m.8 3.4h0m-35.3-55.7h0m6.9 6.9h0m-29.9 31.1h0m103.1 17.1h0m-83.8 7.2h0m-11.5-59.1h0m15.1 27.3h0m46.5 3.1h0m29.2-9h0m-12.5-10.3h0m3.2 50.9h0m-22.2-46.3h0m-79.5-7.8h0m78.1 35.1h0m.3-35.9h0m-62.3-7.4h0m61.2 41.8h0m-51.6-44.6h0m16.9 58.1h0m-27.1 5.7h0m13.6-37.2h0m32.6-22.5h0m-33 60.4h0m4.4-36.6h0m57.7-13.9h0m-68.7-.4h0m22.9 12.9h0m31 9.4h0m2.7 32.2h0m-27.1-63.6h0m2.6 52.6h0m-44.1-52.4h0m46.4 4.9h0m-29.9 23.5h0m15.7 2.6h0m69.2 7.5h0m-104.1-29.3h0m80.9 30.1h0m24-3.4h0m-84.6-31.3h0m-18.9 8.4h0m101.2 17.3h0m-56.7-12.7h0m-29.8 30.5h0m18.8-48h0m74.9 32h0m-39.8 2.9h0m-75.6-3.9h0m86.1 5.9h0m-60.9-3.4h0m44.6 13.5h0m-55.3 13.4h0m96.3-5.6h0m-10.6-32.9h0m-75.9 20.4h0m25.5-40.4h0m-29.7 53.7h0m47.1 16.8h0m-21.8-23h0m-20.3-17.8h0m33.5 41.6h0m-2.4 3.8h0m15.5-68.4h0m25.6-1.3h0m-61.6 18.1h0m2.6 23.1h0m-38.5-26h0m16.7 40.1h0m11.5-33h0m36.6 22.7h0m-51-41.6h0m1.4-9.1h0m44.8 39.2h0m-34.6-36.5h0m42.3 25.1h0m-21.3 38.5h0m30.4-2.5h0m33.7-39.9h0m-78.4-10.5h0m15.7 21.2h0m51.5 24.5h0m-23.5-26h0m-64.6-23.7h0m65.2 30.2h0m17.2 27.6h0m-87.2-.1h0m59.4-63.2h0m14.7 6.5h0m-54.8 9.8h0m34.5 27.5h0m-54.1 5.6h0m66.2-23.8h0m5.8 29h0m-79.7-28.7h0m80.4 20.7h0m-3.7-46.7h0m-49.9 22.1h0m21.2 46.9h0m39.3-53.2h0m-8.7 36h0m-64.4-48.1h0m10.5 3.9h0m-21.6-11.5h0m44.6 25.1h0m-39.5 14.3h0m104-.5h0m-70.6 11.3h0m9.8-46.7h0m5.4-14h0m23.3 12.7h0m-36.8 70.7h0m47.8-11.2h0m-15-17.7h0m7.5 29.3h0m-61.2-17.7h0m12.6-45.1h0m62.7 30.5h0m3.3 24.2h0m-31.3-59.7h0m-69.1 29.7h0m85.5-23.2h0m-66.4 37.4h0m-20.4-41.1h0m31.4 42.4h0m8.5-16.6h0m-1.9-9.3h0m19.1-14h0m-38-14.8h0m55.5 53.5h0m-43.4 8.4h0m56-39.8h0m-28.5-13.5h0m52.6 32.8h0m-105.6-35.8h0m77.1 20.4h0m3-13.8h0m9.6 50.6h0m-84.5-19.1h0m11.6 10.8h0m73.7 7.3h0m-68.9-61.6h0m52 41.6h0m-63.2-32.8h0m53.5-7.5h0m6.2 11.7h0m-45.2 16.2h0m33.1 26.5h0m-60.5 0h0m22.9-38.3h0m50.4 35.4h0m-3 18.6h0m-49.4-52.2h0m55.1-4.4h0m-60.8-3.1h0m73.9 53.1h0m-6.6 11.6h0m9.4-57.3h0m-57.6 36.3h0m-31.3-9.8h0m55.1-40.5h0m-6.2 4.1h0m-41.2 27.3h0m48.3-12.7h0m23.5 14.7h0m-77.8-12.6h0m49.8-11.8h0m22.2-2.7h0m-42.1 22.5h0m47.4 25.9h0m-41-28.6h0m29.8-30.2h0m-19.7 47h0m-39.3-15.1h0m59-14.7h0m-66.2 39.8h0m84.4-27.6h0m-82.4-3.9h0m-4.1-9.3h0m86.2-13.5h0m-72.7 35h0m1.2 20.6h0m30.3-37.7h0m-36.4-8.4h0m16.4 44h0m25.7 19h0m15.8-58.9h0m-16.7 37.7h0m32.3-51.8h0m-75.4 60.4h0m27.9-49.9h0m-10.1 19.5h0m72.1-13.1h0m-82 37.4h0m20.3-49.2h0m9.3 56h0m53.4-21.8h0m-30.8 28.7h0m41.5-50.6h0m-12.4 43.5h0m-70.1-40h0m13.1-1.2h0m.4-21.4h0m-18.2 70.6h0m22.1-24.2h0m57.4 10.6h0m-77.4 14.5h0m58.2-14.6h0m10.2-44.3h0m-18.9 11.3h0m-14-3.9h0m33.8 .7h0m2.8 44.4h0m11.4-9.1h0m-31.4-8.1h0m-75.7 19.2h0m60.1-36.6h0m-25.1 28.9h0m53.3 7.7h0m-68.3-46.8h0m4.2-21.2h0m65.8 11.2h0m-6.6-2.5h0m-33.6 17.9h0m-18.3 20.4h0m70.4-14.3h0m.5 23.2h0m-70.7 12.4h0m31.5-67.8h0m1.7 63.9h0m-8.3-30.5h0m-12.3 35h0m30-59.4h0m-36.5 13.7h0m71.7 29.4h0m-100.3 19.3h0m-10.8-28.6h0m47.8 11.2h0m-.3-55.2h0m11.3 64.3h0m31.9-41h0m-68.1 34.3h0m69.7-46.4h0m-44.3 14.3h0m33.2 48.5h0m-61.1-55.5h0m15.3 38h0m-17.1-16.4h0m37.7 10.8h0m35.5-42.8h0m13.8 32.4h0m-18.1 28h0m-47.9 4.9h0m17-2.2h0m1 3h0m5.9-69.7h0m8.5 58.3h0m-24.9-17.8h0m-19.8-28.8h0m19.4 21h0m5.8-37.2h0m-55.7 21.9h0m85.6 36h0m-57.8-43.5h0m33.7-7h0m10.3 64.3h0m-48.2-28.1h0m62.4 14.4h0m-1-3.4h0m-52.9 11.3h0m80.8-35h0m-17.7 20.8h0m-78.8-19.2h0m59.8 47.4h0m-36.5-20.4h0m-10.9-50.1h0m-10.1 18.7h0m55-9.5h0m-54.9-7.4h0m-9.3-2.3h0m27.8 27.5h0m-15.9-2.2h0m30.8 43.6h0m5.6-2.5h0m-1.8-66h0m14.5-4.7h0m-50.8-6.3h0m64 78.9h0m-35.9-54.1h0m2.7-.2h0m31.9 3.6h0m-64.8 41.7h0m50.6-75.8h0m33.3 63.8h0m-59.5-8.7h0m68-20.2h0m-58.6-9.1h0m14.6 32.2h0m21.7 25.3h0m-70.9-51.5h0m85 37.5h0m-31.5-10h0m-30.1 23.6h0m25.2-47.9h0m-44.1-25.3h0m86 60.4h0m-104.8-42.1h0m54.5 15.2h0m-14 35.3h0m-1.6-32.1h0m69.7 9.5h0m-54.4-27.1h0m-10.8 24.4h0m48-30.7h0m-50 11.2h0m-.9 46.4h0m21.2-56.3h0m-24.9 48.2h0m-20.7-11.6h0m-16.7-43.9h0m4.6 54.1h0m10.5-51h0m-10.8 3.2h0m81.3 40.2h0m-21.9 17.9h0m-14.1-64.4h0m37.8 58.8h0m-43.6-67.6h0m58.6 58.3h0m-33.2 19.7h0m13.4-30.6h0m-71.7-41.3h0m8.3 39.5h0m59.1 31.8h0m-37.5 .8h0m8.9-51.9h0m-21.8-14h0m54.4-5.1h0m-63.2-2h0m20.5 51.6h0m-35.1-18.2h0m45.8 23h0m16.4-30h0m36.7 13.2h0m-65.4-18.1h0m69.5 14.6h0m-92.9-34.1h0m28.9 45.5h0m48.5-15.5h0m-44.8 13.7h0m18.8 5.2h0m-19.4 20.4h0m24.8-56.8h0m-28.7-4.2h0m63.4 46.2h0m-13.9 2.6h0m24.4-11.8h0m-80.9 6.1h0m-6.7-12.9h0m-12.5 21.8h0m39.7-51.4h0m53.1 42.5h0m-93.9 .4h0m51 12.9h0m1.6-42.4h0m-37.3-27.7h0m71.5 29h0m-17.4-16.4h0m.5 34.6h0m-76.1-13.6h0m75-24.7h0m-8.1 5.6h0m-34.1 56.7h0m6.8-30.8h0m45.9 16.5h0m-42.4 9.3h0m-6.6 7.6h0m8.6-73.4h0m33.2 2.4h0m28.8 34.9h0m-29.8-36.2h0m-12.5 21.7h0m-46.6 38.7h0m-26-29.7h0m6.5 32.9h0m45.4-33.7h0m30.6 22.9h0m-45.2 18h0m-19-70.3h0m.1 32.1h0m18.1-29.7h0m71.4 27.4h0m-17.3-19.7h0m14.5 32h0m-33.2-7.1h0m27-7.9h0m-91 41.5h0m85-20.4h0m-7.3-39.8h0m-33.8 52.2h0m-36.5-12.3h0m47.4-24.6h0m-46.5-23.6h0m36.4 31.4h0m-24.4-11.1h0m34.5 34.8h0m4.2-52.9h0m35.7 18.1h0m-89.7 19h0m99.4-17.4h0m-50.4-6.3h0m-62.4-9.7h0m11.4 7.1h0m60.8 24.6h0m38.4 10.8h0m-70.5 23.3h0m32.7-35.9h0m27.5 11.2h0m-60.4-5.7h0m-7.3 32.1h0m30.5-67.4h0m-5.5-7.7h0m39.6 48.6h0m-18.4 22.8h0m-76.4-44.2h0m62.5-36.9h0m-18.4 78.9h0m20.9-6.9h0m-69.3-54.8h0m20 55.5h0m10.6 4.3h0m29.8-49.2h0m54.3 7.2h0m-103 30.1h0m19.2-52.8h0m11.3 45.4h0m75.7-3.4h0m-40.9-40.8h0m8.8 34.4h0m-44.2 30.8h0m-12.5-66.9h0m-11.7 .7h0m51.8 57.5h0m-51.5-26.3h0m49.8 5h0m-19.4-1.4h0m1.2-27.1h0m40.2 .4h0m8 0h0m-87.9 20.8h0m35.4-12.5h0m45.5-10h0m-11.5 54.1h0m-26.1-29.3h0m56.6 8.9h0m-89.3-47.2h0m-11.9 23.1h0m.8 28h0m40.3-30h0m10.6 55.5h0m-32.2-69.1h0m7.4 15h0m72.7 33.7h0m-57.9-47.7h0m-46.1-3.8h0m96.5 46.4h0m-83.1-2h0m-11.9-10.5h0m33.4-35.7h0m48.9 54.2h0m-27.9-48.4h0m19.2 23.4h0m-1-30.2h0m-52.8 27.1h0m-2.9-27.4h0m16.4 15.8h0m40.4-3.9h0m-32.5 41.1h0m3.6-47h0m-43.3 34.2h0m3.5-3.6h0m46.8-27.2h0m21.8 26.6h0m16.7-18h0m15.1 46.2h0m-55.4-59.5h0m1.2-1.2h0m24.3 50.3h0m-12.9 24.7h0m-64.1-23.1h0m33.3-58.4h0m31.4 59.1h0m-28.3-2.4h0m2.2 1.4h0m-33.1 1.3h0m93-7.9h0m-85.3 20.8h0m67.6-66.9h0m-40.5 49.1h0m-3.2 18h0m66.8-7.8h0m-5.3-17.5h0m12.5 4.9h0m-2.6-6.9h0m-90.3-4.1h0m34.4-16h0m-13.1 15.2h0m25.8-25.4h0m-37.4 24.8h0m27.2-7.5h0m19.3-20.6h0m-15.9 8h0m28.7 37.8h0m1.3-16.5h0m-64 36.1h0m31.5-48.6h0m-26.5 2.4h0m50.3 36.7h0m-27.2-7.7h0m-32.5-24.6h0m17.5-12.9h0m.2 39.6h0m44.9-48.3h0m-60.1 50.9h0m50.7-9.5h0m-2.4 1.5h0m-43.6-55.9h0m10.6-2.5h0m72.3 43.5h0m-35.1 39h0m16.2-65.1h0m-56.3-10.7h0m55.2 55.5h0m-37-32.4h0m-26.2 10.4h0m53.2 36h0m16.4-2.4h0m-49.2-39.4h0m-15.1 48.8h0m-15.7-72.1h0m11.7 67.5h0m68.8-52.2h0m-.1 49.4h0m-51.1-61.7h0m41.6 16.1h0m-78.6 46.7h0m38.5-44.6h0m18.7-12.6h0m-69.1 11.9h0m42.2 32.8h0m-4.6-7.2h0m35.1-43.4h0m-72.7 42.9h0m71-33.6h0m-49.4 49.6h0m46.4-24.8h0m-31.3 6.2h0m33.2-11.9h0m-57.7-26.2h0m22.8 17.9h0m6.2 42.9h0m-14.8-4h0m.4-23.8h0m16.1-48.5h0m50.4 68.2h0m-63.4-3h0m25.3 18.6h0m-51.1-53.6h0m20.8 21.6h0m66.2 19.2h0m-27.6-40.1h0m-34.7 32.2h0m21.7 21.2h0m-42-46.9h0m.3-32.7h0m33.1 30.2h0m16.7-12.7h0m23.4 20h0m-23.1-1.9h0m-16.7 32.4h0m-19.5 1.4h0m17.9-47.8h0m30.9 20.1h0m-39.8-42.3h0m80.7 25.2h0m-101.1 25.3h0m50.2-29h0m-24.5 45.7h0m1.3-37.8h0m74.3-5h0m-66.7-17.5h0m31.3 44.4h0m-26-22.9h0m-25.7 33.9h0m27 3.7h0m-9.9-8.7h0m-41.6-45.3h0m112.1 40.8h0m-34.3-16.4h0m-24.5-26.4h0m-36 39.5h0m62.7-34.1h0m-5.9-10.8h0m-3.8 3.1h0m-12.5 12.6h0m5-15.9h0m-8.1 42.6h0m-42-27.2h0m65.5 21h0m-7.5 20.6h0m-5.4-49.2h0m-15.5 53.7h0m14.9-6.8h0m-24.4-26.9h0m34.8-30.2h0m-5-6.5h0m14 20.7h0m12 22.3h0m-46.6 27.4h0m29.8-26.3h0m25.3-17.1h0m-104.9-.2h0m71.9-19.1h0m-55.9 15.2h0m14.4 55.4h0m62.2-56.4h0m15.7 46.7h0m-23.4-51.4h0m-21.7 33.9h0m17.7-13.1h0m10.5-.7h0m-60.8 25.5h0m66.2-43.9h0m-16.4 13.1h0m-56.6-15.8h0m87.8 13.4h0m-53.4 11.7h0m-58.2 22.3h0m86.5 10.8h0m-46.7-58.8h0m-1.2 46.1h0m37.4-28.8h0m-16.1-22.2h0m47.4 28h0m-49.5 27.8h0m-37.2-5.6h0m18.7 7.9h0m-31.1-47.4h0m65.1 18.3h0m-31.1 8.5h0m-19.2-12.5h0m4.4 34.7h0m35.8-20.2h0m8.9-42.1h0" stroke="#000" stroke-width="4.8" stroke-linecap="round" fill="none" />
<path d="M1280.5 178.8h0m-63.9-19.9h0m34.3-13.9h0m-10.2 0h0m-17.2 22.7h0m.6-5.4h0m29.2-1.9h0m19.2 6.9h0m-19.2-18.7h0m2.9 22.9h0m-16.9-9h0m-25.7 8.7h0m35.6-20.8h0m-15.9 11.2h0m2.5-18.8h0m5.3 10.9h0m10 6.8h0m26.7 1.8h0m-54.7-3.7h0m40.5 8.2h0m-16.8 .8h0m-18.1-1h0m32 4h0m18.2-8.6h0m-59.8-9h0m48.8 22.7h0m-42.6-4.5h0m37.9 .8h0m-27.8-3.2h0m1-24.9h0m28 8.4h0m-54.1 23.2h0m28.8-28.9h0m2.2 17.1h0m1.7-20.1h0m9 9.4h0m-7.3-3.8h0m-13.2-6.3h0m-.2 2.3h0m20.4 14.5h0m35.2 25h0m-58.8-17.9h0m15-27.9h0m-9.6 29.3h0m-14.7-6h0m32.8-17.8h0m25.4 14.8h0m-47.7-9.3h0m37 18.3h0m2.3-16.4h0m-18.8-4.8h0m-5 5h0m12.5 1h0m-26.1 18.2h0m18.5-22h0m-31.9 14.9h0m21.7-5.1h0m20-11.1h0m16.6 18.8h0m-53.2-15.9h0m36.9-3.4h0m-43.6 24.7h0m.7-9.8h0m45.7 11.2h0m-18.8-16.5h0m22.7 19.3h0m-3.8-17.9h0m-6.8 6h0m14.5 10.6h0m16.5 6.3h0m-12.7-19h0m-39.8-5.7h0m44.6 16h0m-23.2-24.3h0m-19.4-5.8h0m-2.9 8.8h0m11.2 5.9h0m-28.2 17.5h0m40.5-10.9h0m-28.2-11.5h0m-18.9 22.5h0m66.2-.8h0m-55-8.3h0m9.4-7.4h0m30.3 10.6h0m24.7 11.3h0m-29.8-25.8h0m-39 .4h0m45.6 17.4h0m24.5 6.1h0m-41.3-16.7h0m26.4-7.7h0m-54.5 16h0m32.1-15.1h0m11.6-8.5h0m-46.6 14.8h0m59.1 7.1h0m-45.5-14.9h0m21.3 4.7h0m12.9 5.9h0m-27.1 5.4h0m43.2-1.1h0m-38.1-17.2h0m13.3 6h0m-4.2 1.5h0m25.9 10.3h0m-57.4 .1h0m63.9 3.4h0m-52.9-4.6h0m11-14.9h0m32.1 17h0m-36-3.9h0m10.7 .5h0m13.7-4h0m1 3h0m-33.3-8.1h0m24.4 11.9h0m-17-1h0m15.9-10.7h0m-28.6 9.2h0m18.7-.6h0m-5.7-20.7h0m-16.4 7.8h0m47.5 14.7h0m-16.2-23.2h0m26.3 35.9h0m-4.6-2.5h0m-16.7-26.4h0m-26.4 14.2h0m37.3 6.9h0" stroke="#000" stroke-width="4.8" stroke-linecap="round" fill="none" />
<path d="M1185.6 162.1h0m11.5 19.2h0m-2.2 13.2h0m3.3 1.1h0m3.3 0h0m-9.9 21h0m-1.1 6.6h0m-3.3 4.4h0m-8.2 33.8h0m29.8-97.8h0m2.7-26.5h0m18.7-19.8h0m11.1-13.3h0m10.6 2.2h0m-13.9 11.1h0m-3.4 6.6h0m10-10h0m12.1 18.8h0m13.3 7.7h0m10.3-.4h0m-1.5 25.8h0m21 3.3h0m.2 7.7h0m10.8 5.1h0m10.6-58.7h0m9.9 27.2h0m.9 28.2h0m10.6-11.7h0m-17.7 25.4h0m2.2 11h0m6.7 0h0m3.9 16.1h0m8.2-8.3h0m1.1 6.6h0m23.2-4.4h0m23.8-28.5h0m10 28.9h0m20.7 3.3h0m-11 10.2h0m-17-3.3h0m2.6 8.1h0m-44.6 2.9h0m87.2 23.2h0m-4.4-12.8h0m-5.5-3.3h0m-113.7-34.3h0m-6.6 4.5h0m33.1 123.6h0m36.4 2.2h0m11.1 .4h0m43-32.4h0m-4.4 11h0m-108.2-91.6h0m-6.6 2.2h0m-6.6-4.4h0m24.3 15.4h0m6.6-2.2h0m4.4 6.7h0m-15.4 6.6h0m57.3-11.1h0m-6.6-2.2h0m35.3 15.5h0m11.1-4.4h0m-106-8.9h0m4.4-4.4h0" stroke="#000" stroke-width="4.8" stroke-linecap="round" fill="none" />
<line x1="1180.6" y1="291.6" x2="1441" y2="271.8" stroke="#3A62E8" stroke-width="4.2" />
<text x="1291" y="418" font-size="22" text-anchor="middle">Dendrite similarity score</text>
<text x="1291" y="444" font-size="22" text-anchor="middle">of neuron pairs</text>
<text x="1716" y="66.5" font-size="23" text-anchor="middle">PT</text>
<text x="1587.5" y="94" font-size="21.5" xml:space="preserve"><tspan font-style="italic">R</tspan><tspan dy="-9" font-size="14">2</tspan><tspan dy="9"> = 0.01</tspan><tspan>   </tspan><tspan font-style="italic">P</tspan> &lt; 1×10<tspan dy="-9" font-size="14">-26</tspan></text>
<line x1="1572" y1="93" x2="1572" y2="360.1" stroke="#000" stroke-width="1.5" />
<line x1="1571.2" y1="359.4" x2="1859" y2="359.4" stroke="#000" stroke-width="1.5" />
<line x1="1562" y1="277.7" x2="1572" y2="277.7" stroke="#000" stroke-width="1.5" />
<text x="1558" y="284" font-size="18" text-anchor="end" fill="#4d4d4d">1,000</text>
<line x1="1562" y1="191.9" x2="1572" y2="191.9" stroke="#000" stroke-width="1.5" />
<text x="1558" y="198.2" font-size="18" text-anchor="end" fill="#4d4d4d">2,000</text>
<line x1="1562" y1="106.1" x2="1572" y2="106.1" stroke="#000" stroke-width="1.5" />
<text x="1558" y="112.4" font-size="18" text-anchor="end" fill="#4d4d4d">3,000</text>
<line x1="1579.7" y1="359.4" x2="1579.7" y2="368.9" stroke="#000" stroke-width="1.5" />
<text x="1579.7" y="394.4" font-size="18" text-anchor="middle" fill="#4d4d4d">0</text>
<line x1="1634.5" y1="359.4" x2="1634.5" y2="368.9" stroke="#000" stroke-width="1.5" />
<text x="1634.5" y="394.4" font-size="18" text-anchor="middle" fill="#4d4d4d">5</text>
<line x1="1689.2" y1="359.4" x2="1689.2" y2="368.9" stroke="#000" stroke-width="1.5" />
<text x="1689.2" y="394.4" font-size="18" text-anchor="middle" fill="#4d4d4d">10</text>
<line x1="1744" y1="359.4" x2="1744" y2="368.9" stroke="#000" stroke-width="1.5" />
<text x="1744" y="394.4" font-size="18" text-anchor="middle" fill="#4d4d4d">15</text>
<line x1="1798.7" y1="359.4" x2="1798.7" y2="368.9" stroke="#000" stroke-width="1.5" />
<text x="1798.7" y="394.4" font-size="18" text-anchor="middle" fill="#4d4d4d">20</text>
<line x1="1853.5" y1="359.4" x2="1853.5" y2="368.9" stroke="#000" stroke-width="1.5" />
<text x="1853.5" y="394.4" font-size="18" text-anchor="middle" fill="#4d4d4d">25</text>
<path d="M1590.8 324.7 L1585.2 304.9 L1583 282.8 L1583 260.7 L1583.7 238.6 L1585.2 216.6 L1586.4 194.5 L1588.6 176.8 L1591.9 159.2 L1595.2 143.7 L1599.6 134.9 L1606.2 126.1 L1617.3 125 L1628.3 126.1 L1639.3 130.5 L1645.9 123.9 L1657 127.2 L1668 126.1 L1676.8 132.7 L1690.1 137.1 L1694.5 141.5 L1703.3 150.4 L1712.2 152.6 L1721 159.2 L1732 163.6 L1740.9 170.2 L1749.7 176.8 L1758.5 183.5 L1767.3 192.3 L1774 198.9 L1780.6 207.7 L1782.8 221 L1785 232 L1786.1 245.3 L1787.2 260.7 L1785 274 L1780.6 287.2 L1774 296 L1767.3 300.5 L1758.5 304.9 L1747.5 309.3 L1738.6 310.4 L1729.8 312.6 L1716.6 315.9 L1703.3 317 L1690.1 318.1 L1676.8 320.3 L1663.6 322.5 L1650.4 323.6 L1637.1 325.8 L1623.9 328 L1610.6 328 L1599.6 326.9 Z" fill="#000" />
<path d="M1581.1 241.2h0m169.2 67.2h0m-167.3-50.7h0m163.9 52.4h0m-29.7 5.5h0m-134.3-63.7h0m90.1 68.9h0m-92.3-46h0m.6-12.4h0m1.7 5.5h0m207.4-13.3h0m-111.1-121.8h0m-94.5 171.2h0m4.6-145.8h0m192.2 131.9h0m-30.6-114.6h0m-167.7 62.1h0m22.2-110.8h0m161.8 173.6h0m-139.8-174.6h0m56.6 194.9h0m36.3-162.5h0m-75.2 171.5h0m57.3-181.9h0m-17.7 171.3h0m-90.1-171.5h0m140.2 15.1h0m-150.3 54.6h0m12.2 109.8h0m65.7-203.6h0m2.2 199.3h0m-82.6-82.7h0m186.5 64.9h0m18.2-52.6h0m-46.1-82.5h0m-40.3-23.6h0m-49.3 181.5h0m-9.8-1.8h0m-26.2 1.8h0m29.9-1.7h0m33.1-5.4h0m-81.1 5.1h0m98.1-5.2h0m-38.2-196.5h0m-70.8 53.7h0m127.6-24.8h0m-129.5 36.4h0m187.7 107.6h0m-166.2 30.5h0m52.2-201h0m117.7 68.5h0m-147 133.8h0m22.8-203h0m-69.3 152.2h0m194.2-77.1h0m-173.7 126.9h0m39.9-201.3h0m-61.9 80.1h0m199.2-1.6h0m-89.8-68h0m-69.3-12.5h0m84.4 17.4h0m61.1 49.3h0m-182.4 97.2h0m54.8-160.8h0m28 194.5h0m74.3-11.3h0m12.8-132.2h0m-169 117.5h0m204.1-38.7h0m-127.8-135.2h0m53.1 194.1h0m-132.2-37h0m204.4-30.8h0m-202.8 46.8h0m-.7 6.8h0m201.7-73.5h0m-84.8-81.9h0m-113.4 50.4h0m130.9 119.4h0m62.1-27h0m-56 26.1h0m63.5-67.4h0m-21.2-57.6h0m-157.2 139h0m142.8-153.5h0m-168.3 80.2h0m4.5-90.4h0m.3 150.4h0m93.4 5.9h0m96.7-30.9h0m-189-126.3h0m20.1-41.3h0m31.8 2h0m132.4 68.3h0m-172.7 133.5h0m-.5-1h0m74.8-6.3h0m83-138h0m-9.6 127.1h0m-162.7-127.9h0m176.2 1.9h0m-36.2-21.9h0m21.7 147.9h0m-32.2-154h0m-122.1-8.4h0m159.4 162.1h0m-52.2-165h0m87 114.5h0m-34.4-81.1h0m20.7 119h0m-155.8-171.7h0m-34.8 134.5h0m190.9 38.6h0m-190-91.9h0m-2.4 38.9h0m3.9-21.3h0m7.3-71.5h0m1.2-13.6h0m39.4 188.3h0m128.5-21.2h0m3.9-115.3h0m-139.1 143.3h0m-38.3-17.4h0m36.5-190.3h0m70.5 10.5h0m-111.7 173.3h0m33-184h0m43.1 197.4h0m-70.9-143.9h0m64-53h0m-66.6 75.3h0m188.3-3.2h0m-160.8-73.8h0m131.9 187.2h0m-104.4-185.3h0m92.8 186.5h0m-16.2-156.6h0m-137.2 76.4h0m201.5-15.6h0m-139.5 111.9h0m-59.2-26.5h0m7.4-141.3h0m113.8 156.2h0m27.7-155.5h0m-146.9 30.7h0m106.9-62.8h0m-107.7 66.1h0m0 101.2h0m-.6-52.8h0m164.2-68.5h0m-16.9 136.3h0m56.4-85.7h0m-203.6 11.8h0m167.6 70.4h0m-114.2 17.6h0m38.8-201.3h0m-41 1.2h0m30.4 196.2h0m95.4-143.5h0m-180.5 65.6h0m165 67.5h0m35.7-99.9h0m-161.8 115.9h0m119.9-15.4h0m-116.9-188.7h0m58.5 7.9h0m-101.3 164.4h0m84.6-172.3h0m52.8 28.8h0m-106.1-28h0m-25.4 183.7h0m-5.7-37.4h0m207.6-6.4h0m-179.5 68.7h0m12.7-5.4h0m163.8-44.8h0m-2.8-67.5h0m-138.5 110.1h0m140.5-118.1h0m-184.4-70.3h0m44.2 187.9h0m-58.5-27.9h0m9 30.6h0m-5.4-147.1h0m72.6 143.8h0m114.6-123.1h0m-92.1-72h0m-93.8 193.4h0m-17.9-35.4h0m5.9-34.1h0m122 66.3h0m-117.1-23h0m145.7-135.3h0m-144.5 63.9h0m142.5 88.2h0m-50.6 7.8h0m-79.9-178.6h0m112.5 7.4h0m64.1 41.8h0m-33-23.8h0m-141.1 158.7h0m-10.8-12.8h0m31.7-188.4h0m65.7 10.4h0m-39.8 189.5h0m29-2.6h0m100-23.9h0m-163-175.3h0m-24.4 59.6h0m196.5 24.6h0m-197.8 1.9h0m126.1 109.5h0m-105.6 8.2h0m-17.4-146.8h0m189 114.7h0m11.1-51.3h0m-46.6-74.4h0m-96.9 156.6h0m142.7-76.6h0m-58.3-89.5h0m41.3 36h0m-80.5-59.5h0m3.7 2.9h0m-44.8-15.1h0m41.7 12.9h0m-80.9 190.5h0m-24.2-13.7h0m85.7-186.3h0m108.3 78.1h0m-187.6-45h0m85.9 164.5h0m-75.9-195h0m24.3-4h0m38.4 199.2h0m-73.1-166.1h0m194.4 119.8h0m-71.8-125.6h0m-126.1 10.4h0m96.5 158.5h0m-102.5-76h0m18.3 82.6h0m106.9-177.5h0m-126.4 132.4h0m-.8-5.9h0m207.5-21.9h0m-121.9 70.9h0m117-104.5h0m-4.3-18.7h0m-190.1-51.3h0m183.9 144.2h0m-182.3-129.2h0m181.3 28.2h0m-72.6-54.1h0m-114.7 58.1h0m48.9-77.6h0m-9.1 206.1h0m157.8-112.8h0m-101.3-83.2h0m105.5 105h0m-200.6 64.7h0m179.7-112h0m-150.8-66.1h0m44.7 200h0m-66.2-174h0m3.8-14.4h0m-11.3 82.2h0m114.2-77.4h0m-113.7 71h0m-1.6 23.2h0m48.2-107.4h0m122.5 179.9h0m-37.4-151.2h0m28.2 157.9h0m-54.3-181.1h0m-104.9 18.8h0m161.2 21.5h0m-85.4-46.4h0m-81.8 105.4h0m67.8-109.4h0m60.6 28.2h0m-120.8 32h0m47.3-55.8h0m120.8 55.3h0m25.4 104.6h0m-198.5-8.9h0m2.4-98.8h0m174.8 5.5h0m-167.4-30.3h0m7.3-20.5h0m134.5 180.3h0m52.7-34.6h0m-1.1-31.3h0m-201.7 46.5h0m8.9-147h0m119.5 169.8h0m-20.9-178.6h0m-89 190.7h0m34.7-199.4h0m-34.6 197.2h0m92-10h0m91.6-69.9h0m-119.8 74.7h0m-83.6-66.3h0m142.3 65.2h0m62-80.6h0m-186.5-107.7h0m-25.8 132.8h0m7.7 30.1h0m59.5-168.2h0m56 11.1h0m-105.5 16.3h0m193.6 76.1h0m-48.3-62.7h0m-61.4 151.7h0m-91-114.8h0m154.7-36.3h0m22.6 16.2h0m-99.7 138.2h0m-82-26.5h0m5.7 15.7h0m-3.9-85.9h0m156.5 83.4h0m-136.2-185.9h0m181.5 148.2h0m3.2-1.4h0m-109.6-137.5h0m108.2 118.3h0m-202.6-18.6h0m90.6-101.6h0m-10.2-6.2h0m96.7 60.2h0m-33.9 127.4h0m-95.2-190.5h0m52.2 201.3h0m66.9-14.8h0m-15.1 3.3h0m-152.8-67.9h0m-3.9 13.8h0m45.8-132.9h0m128 54.7h0m31.1 104.3h0m-53.3 31.9h0m-109.1-190.5h0m132 183.1h0m-98.5-182.3h0m-73.5 92.7h0m127.1-70.2h0m-72.2-19.7h0m104.1 38.4h0m-69.9 154h0m114-46.2h0m-99.2 45.8h0m76.8-134.1h0m-168-51h0m132.3 177.4h0m-143.9-46.5h0m32.1 60.6h0m105.9-11.8h0m41.4-129.8h0m-82.4-53.4h0m-101.6 130.7h0m4.9-8.9h0m205.3 6.8h0m-65.2 54.9h0m-85.4 9.2h0m-49.3-7.7h0m153-7.8h0m9.3-134.9h0m-166.9 42.6h0m74.7 107.7h0m14.1-196.4h0m-78.9 3.8h0m145.4 179.5h0m-126.8-188.8h0m112.2 34.5h0m-73.5-36.2h0m135.1 147.8h0m-18.5-80.3h0m-16-17.9h0m-166.5 149.8h0m194.8-32h0m-86.8 28.6h0m-57.3-190.5h0m75.6 189.6h0m-117.5 10.6h0m-9.9-33.1h0m-2.5-21.4h0m43.2-147.1h0m75.3 22.2h0m-47.1 178.6h0m111.3-137.9h0m-148.9-64.8h0m20.3 .3h0m-15.2 206h0m89.1-14h0m-126.6-76h0m-.2-1.8h0m16.7 91.8h0m19.2-2.1h0m-29.2-155.5h0m8.7-34.4h0m149.6 37.3h0m40.1 86.6h0m-7.1-52.6h0m-10.2 90.9h0m9.2-11.2h0m-69.5-137.1h0m-126.8 145.9h0m199.2-75.6h0m-95.9 100.1h0m4.1-1.5h0m33.7-160h0m-129.5-22.4h0m5.8 188.3h0m-12-6.1h0m51.9-193.9h0m-60.9 121h0m57.1-122.7h0m-7.2 1.5h0m-50.5 77.1h0m201.2-.7h0m-198.8 79h0m193.2 22.5h0m-141.1 21.6h0m26.2-211.4h0m94.8 59h0m-161-22.6h0m33.5 176.4h0m137.7-137.8h0m11.5 5.1h0m-149.1 136.3h0m-36.5-182.9h0m-4.4 164.4h0m42.2 14.7h0m23.9-202.6h0m-63.6 37.3h0m196.6 85.2h0m-140.6 76.9h0m138.9-46.7h0m-199.3-51.1h0m6.7 101.4h0m116.2-179h0m-96.5 184.1h0m139.1-155.6h0m-3.3-11.6h0m26.3 132.9h0m-75.1 19.5h0m68.2-131.2h0m-182.7 .8h0m1.4 121h0m186.7-111.5h0m-127.7 128.2h0m-58.6-127.7h0m194.1 7.9h0m-189.2 117.2h0m189.3-34.8h0m-188.6-138.8h0m94.9 173.5h0m-99.8-117.6h0m172.2 101.3h0m-107.9-180.5h0m42.2 14h0m90.9 59.7h0m-195.3-18.5h0m195.7 94.8h0m-195.2-104.2h0m11.2 155.7h0m20.9-202.7h0m-36.1 88.8h0m198.5 66.4h0m-53.4 32.7h0m-148.3-57.2h0m124.7-108.2h0m-125.4 105.7h0m206.5 6.3h0m-205.1-22.3h0m173.3 70h0m-39-153.1h0m66.1 63.9h0m-197.3-20.7h0m177.1-15h0m-168.6 144.8h0m35.6-200.1h0m157.5 105h0m-196.1-77.2h0m.2 170.9h0m41.5 1.9h0m157-80.5h0m-202.5-61.6h0m14.3 141.7h0m12.7-202.3h0m150.3 179h0m-125.4 23.7h0m-48.3-3.6h0m-6.6-23.3h0m.6 6.7h0m200.3-73.5h0m-95.8 85.3h0m-71.2 9.6h0m166.5-103.7h0m-192.1-80.7h0m-2.6 178.1h0m34.8-200.2h0m107.7 42.5h0m-123.1-40h0m112.3 190h0m20-3.9h0m4.5-137.1h0m-43.7-36.5h0m-55.5 191.9h0m123.5-28.1h0m-185.5-72.9h0m121.8 90.7h0m78.6-86.4h0m-193.3-92.2h0m157.8 37.6h0m-112.4-48.2h0m-61.5 149.5h0m81.5 47.1h0m-68-3.8h0m-8.1-73.8h0m140.6 69h0m11.2-5.8h0m-144.5 4.2h0m110.3 4.7h0m42.4-149.9h0m-52.7 147.6h0m-61.4-191.6h0m-24.9 201.3h0m145.2-15.8h0m33.9-116.8h0m-36 119.1h0m-129.6 13.4h0m144.5-23.7h0m-133.3-178.4h0m-28.4 200.7h0m95.7-184.7h0m-102 184.4h0m191.4-44.9h0m-33.9 27.6h0m-67.3-176.5h0m103.7 150.3h0m-170.1-160.7h0m153 178.9h0m-90.4-168.6h0m-95.4 140.4h0m34.5-147.2h0m-35.9 166.7h0m190.7 6.6h0m-186.9-115.5h0m124.5 134.8h0m-121.2-149.5h0m81.8-40.4h0m-89.5 94.6h0m208.7 10.3h0m-204.4-26.3h0m151.7-38.6h0m-125.8-43.5h0m111.8 31.1h0m51 41.5h0m4.3 3.7h0m-126.7-74.6h0m-48.2 203.8h0m-19.7-92h0m3.8-66.1h0m-3.4 63.1h0m144.1-72.3h0m-134.5-15.5h0m-5.8 36.7h0m6.3-37.3h0m32.3-21.2h0m21-1.3h0m-63.6 188.7h0m184.1-12h0m-178.1 22.1h0m68.7 .7h0m-74.1-140.2h0m80.2 138.6h0m68.6-158.6h0m-150.3 81h0m201.7-21h0m1.1 7h0m-126.3-103.1h0m-75 187.5h0m99.1 8.6h0m-103.3-50.4h0m4.8-66.2h0m-1.5-20h0m131.1 132.3h0m-53.3-197.4h0m-68.3 24.6h0m193.7 115.3h0m-124.7-134.7h0m67.4 185.6h0m-145.8-81h0m203.1 7.1h0m-39.1-67.2h0m11.1 133.1h0m-7.6-126.2h0m-159.4-19.4h0m-9.4 113.4h0m86.1 51h0m-85.8-58.4h0m197-59.6h0m-193.9 101.6h0m182.5-115.2h0m-188 78.3h0m9.9-110.4h0m158.5 16.3h0m-121.4 152h0m60.9-192.4h0m12.7 190h0m47.4-15.5h0m31.1-19h0m-161.1 43.6h0m135.7-28.1h0m15.1-113.1h0m-181.3-27.8h0m-.7 7h0m138.4-12.2h0m57.9 124.2h0m-189.2 54.6h0m133.1-25.9h0m60.3-54.7h0m-156.3 68.8h0m14.4-203h0m68.9 29h0m-99.1-28h0m106.2 34.6h0m-136.9 46.9h0m55.8-79.2h0m108.4 48.3h0m-164.8 57.3h0m184.6-48.5h0m-168.6-51.7h0m23.1-9.7h0m105.4 36.1h0m-139 161.7h0m-2.7-138.1h0m86.3-53.4h0m-59.4 199h0m162.5-135.7h0m10.3 46.8h0m-78.6 77.1h0m-129.4-15.7h0m173.1-124.1h0m-171.3 102.4h0m76.6-153.8h0m-59.3 3.6h0m55.6-3.3h0m9.7 196.5h0m-66.9-183.3h0m7.2 187.9h0m-18.2-147.2h0m-3 93.7h0m156.7 38.7h0m-7.1-.5h0m-65.9 10.7h0m52-6.2h0m-52.9 6.8h0m-70.9-175h0m135.6 15.1h0m-148.2 48.8h0m192.2-18h0m-189.9 27.3h0m129.2-67.6h0m-122.7-10.4h0m185.8 151h0m9.3-77.1h0m-163.3 112.1h0m-42.2-38.2h0m5.2-79.4h0m-2.1 19.1h0m192.8-30.3h0m-62-46.2h0m64.7 137h0m-162.9-169.3h0m17.4 209.2h0m-32.3-4.5h0m66-201.2h0m-75.1 22.9h0m63.9 174.6h0m83.8-161.7h0m-72.6 161.4h0m-84.5-69.5h0m161.1-84.1h0m-157.5 27.9h0m15 129.6h0m181-107.8h0m-21.5 85.7h0m-118.8 20.6h0m32.8-4.4h0m-90.3-28.2h0m-1.7-19.6h0m27.2 55.4h0m168.3-38.6h0m-36.4-120.1h0m-159.8 88.2h0m118.2-111.1h0" stroke="#000" stroke-width="4.8" stroke-linecap="round" fill="none" />
<path d="M1617.7 106.2h0m0 8.8h0m21-10.5h0m3.3 1.7h0m18.7-1.7h0m21.7 10.5h0m4.8 3.4h0m53.7 6.1h0m-39.8 4.9h0m17.2 0h0m-13.9 9.5h0m9.3 3.1h0m11.3-3.1h0m4.4 1.5h0m4.8 14.4h0m5.6 2.2h0m9.4 8.4h0m2.7 7h0m11 0h0m4.4 0h0m6.7-.4h0m1.7 8.2h0m3.8 9.9h0m3.3 14.3h0m12.8 7.8h0m19.9-4.5h0m1.5-17.6h0m0-4.4h0m-1.1 35.7h0m-2.6 7.3h0m9.2 2.4h0m-3.3 13.1h0m-12.1 1.1h0m3.3 6.6h0m2.2 13.2h0m-7.7 0h0m-4.4 11.1h0m-4.5 4.4h0m-4.4 13.2h0m16.6-7.7h0m20.9 2.9h0m-17.2 9.7h0m34.9-40.8h0m-59.6 45.9h0m-4.4 1.1h0m-28.7 3.3h0m-36.4 7.7h0m-21 0h0m-24.3 6.6h0m-29.3 8.9h0m30.4 16.9h0m118.1-116.3h0m6.6 2.2h0m-2.2 11.1h0m-6.6 2.2h0m13.3 11h0m-8.9 2.2h0m-4.4 11.1h0m8.8-2.2h0m-6.6 13.2h0m-8.8 2.2h0" stroke="#000" stroke-width="4.8" stroke-linecap="round" fill="none" />
<line x1="1585.2" y1="263.4" x2="1846.4" y2="233.1" stroke="#3A62E8" stroke-width="4.2" />
<text x="1696" y="418" font-size="22" text-anchor="middle">Dendrite similarity score</text>
<text x="1696" y="444" font-size="22" text-anchor="middle">of neuron pairs</text>
<text x="33" y="542" font-size="38" font-weight="bold">c</text>
<text x="398.5" y="527" font-size="26.1" text-anchor="middle">The correlation between dendrite morphology and</text>
<text x="401.7" y="558.5" font-size="26.1" text-anchor="middle">axon projection bias (MY vs ACB) in AI/ORBl/ORBvl</text>
<line x1="241" y1="591" x2="241" y2="887" stroke="#000" stroke-width="1.6" stroke-dasharray="11 6"/>
<line x1="442.1" y1="591" x2="442.1" y2="887" stroke="#000" stroke-width="1.6" stroke-dasharray="11 6"/>
<line x1="194" y1="626.6" x2="537" y2="626.6" stroke="#000" stroke-width="1.6" stroke-dasharray="11 6"/>
<line x1="194" y1="584" x2="194" y2="888" stroke="#222" stroke-width="1.6" />
<line x1="193.2" y1="887.2" x2="536.6" y2="887.2" stroke="#222" stroke-width="1.6" />
<line x1="184.6" y1="585.8" x2="194" y2="585.8" stroke="#333" stroke-width="3" />
<text x="175" y="592" font-size="17.5" text-anchor="end" fill="#4d4d4d">1.5</text>
<line x1="184.6" y1="687.2" x2="194" y2="687.2" stroke="#333" stroke-width="3" />
<text x="175" y="693.4" font-size="17.5" text-anchor="end" fill="#4d4d4d">1.0</text>
<line x1="184.6" y1="788.6" x2="194" y2="788.6" stroke="#333" stroke-width="3" />
<text x="175" y="794.8" font-size="17.5" text-anchor="end" fill="#4d4d4d">0.5</text>
<line x1="241.1" y1="887" x2="241.1" y2="897" stroke="#333" stroke-width="3" />
<text x="241.1" y="918.5" font-size="17.5" text-anchor="middle" fill="#4d4d4d">−0.2</text>
<line x1="341.7" y1="887" x2="341.7" y2="897" stroke="#333" stroke-width="3" />
<text x="341.7" y="918.5" font-size="17.5" text-anchor="middle" fill="#4d4d4d">0.0</text>
<line x1="442.3" y1="887" x2="442.3" y2="897" stroke="#333" stroke-width="3" />
<text x="442.3" y="918.5" font-size="17.5" text-anchor="middle" fill="#4d4d4d">0.2</text>
<text x="363.5" y="950" font-size="25.3" text-anchor="middle">Pearson’s correlation coefficient</text>
<text x="138" y="735.5" font-size="25" text-anchor="middle" transform="rotate(-90 138 735.5)">−log10 (p−value)</text>
<path d="M209.4 695.9h0m26 55.3h0m4.8 0h0m5 0h0m24 50.5h0m8.5 10.2h0m7 9.8h0m22.6 30.8h0m47.9 20.6h0m4.3-2.9h0m5.6-4.2h0m2.8-1.4h0m8.5-12.1h0m14.1-23.2h0m2.8-4.2h0m2.8-4.2h0m7.1-7.1h0m7-10.7h0m2.9-2h0m19.7-47.1h0m4.2-2.8h0m4.3 0h0m4.2 0h0m5.6 0h0m9.9-22.5h0m5.6-14.1h0m11.3-25.4h0m7.1-15.5h0m1.9-.9h0" stroke="#BEBEBE" stroke-width="11.2" stroke-linecap="round" fill="none" />
<path d="M506.1 596.7h0m4.3 0h0m4.2 0h0m4.2 0h0m2.8 0h0" stroke="#F0434F" stroke-width="11.2" stroke-linecap="round" fill="none" />
<text x="358" y="609.4" font-size="17.5" fill="#E8495A">Tuft-Length</text>
<text x="267" y="639" font-size="17.5" fill="#E8495A">Tuft-Number</text>
<text x="266.4" y="660" font-size="17.5" fill="#E8495A">of segments</text>
<text x="310" y="696.2" font-size="17.5" fill="#E8495A">Global-Number</text>
<text x="310" y="716.5" font-size="17.5" fill="#E8495A">of segments</text>
<text x="444.6" y="663.5" font-size="17.5" fill="#E8495A">Global-Number</text>
<text x="444.6" y="684" font-size="17.5" fill="#E8495A">of endpoints</text>
<line x1="466.1" y1="601.5" x2="496.3" y2="596.7" stroke="#000" stroke-width="1.1" />
<line x1="382" y1="643.2" x2="506.1" y2="600.9" stroke="#000" stroke-width="1.1" />
<line x1="398.4" y1="673.7" x2="511.8" y2="606.5" stroke="#000" stroke-width="1.1" />
<line x1="501.9" y1="642.6" x2="518.8" y2="607.4" stroke="#000" stroke-width="1.1" />
<circle cx="543.9" cy="721.9" r="6" fill="#BEBEBE" />
<circle cx="543.9" cy="746.2" r="6" fill="#F0434F" />
<text x="569.5" y="731.6" font-size="25.5">NS</text>
<text x="569.5" y="756" font-size="25.5">MY &gt; ACB</text>
<text x="768" y="542.5" font-size="38" font-weight="bold">d</text>
<text x="748.1" y="596.3" font-size="18.7">Dendrites</text>
<text x="775.4" y="619.4" font-size="18.7">lateral</text>
<text x="743.6" y="628" font-size="18.7">AI</text>
<text x="1207.8" y="619.7" font-size="18.7">medial</text>
<text x="1286.2" y="628.8" font-size="18.7">ORBl/vl</text>
<line x1="768" y1="624.2" x2="1272" y2="624.2" stroke="#000" stroke-width="2" />
<path d="M1270.3 615.5 L1286.5 624.4 L1270.3 633.4 Z" fill="#000" />
<line x1="736.8" y1="643.5" x2="1363.3" y2="643.5" stroke="#000" stroke-width="1.8" />
<line x1="736.8" y1="669.6" x2="1363.3" y2="669.6" stroke="#000" stroke-width="1.8" stroke-dasharray="6.5 5"/>
<line x1="736.8" y1="707.9" x2="1363.3" y2="707.9" stroke="#000" stroke-width="1.8" stroke-dasharray="6.5 5"/>
<line x1="736.8" y1="797.7" x2="1363.3" y2="797.7" stroke="#000" stroke-width="1.8" stroke-dasharray="6.5 5"/>
<line x1="736.8" y1="900.3" x2="1363.3" y2="900.3" stroke="#000" stroke-width="1.8" />
<path d="M850.2 757.8l2.7 5.9-1.2 5.9 1.7 6 .5 5.9-3 5.9 3.4 5.9-1.4 6 5.8 5.9 0 5.9 .1 5.9-2.1 6 .8 5.9-2.1 5.9 4.7 6 1.6 5.9 .3 5.9-.8 5.9-1 6 2.3 5.9 .7 5.9 1.3 5.9 .8 5.9 1.2 6-.5 5.9" fill="none" stroke="#EFA5EE" stroke-width="1.6" stroke-linecap="round" stroke-linejoin="round" />
<path d="M850.2 757.8l-1.1-2.8-1.1-2.8-.7-2.9-.9-2.9-1.2-2.7-1.2-2.8-1.1-2.8-.7-2.9-1.1-2.8-1.4-2.6-1.1-2.8-1-2.8-.6-3-.4-3-.4-2.9M838 715l-.5-2.9 .1-3 0-3-.2-3-.5-3-.6-2.9-.4-3-.6-2.9-.6-3M834 690l-.2-3 .1-3 .3-3 .3-3-.2-3-.1-3-.4-2.9-.5-3-.8-2.9M832 665l-.3-3-.6-2.9-.5-3 .4-3 .4-2.9 .5-3M801.4 652.5l-2.9 2.8-3.1 2.6M797.5 653.3l-3.4 2.1-3.5 2M829 650.2l-4-.3-3.9 .5-4 0-4-.1-4 0-3.8 1.2-3.9 1-3.9 .8-4 .2-4 .7-4 .4M829.7 647.2l-3.8 1.2-4 .5-4 .6-4 .2-4 0-3.9 .6M798.1 644l-4 .7-3.9 .6-4-.1M794.1 644.3l-3.7 1.6-3.6 1.8-3.6 1.8M833.7 646.9l-4 .3-4-.2-4-.3-4-.1-4 0-4-.3-3.9-.7-3.8-1.2-3.9-.4-4 .3-4 .4-4 .5-4 .1-4 0-4-.2-4-.3M815.6 647.4l-3.8 1.1-4 .5-4 .3-4 .4-3.8 1-3.7 1.5M776.5 646l-3.4 2.1M827.4 649.5l-3.9-.7-4-.4-3.9-1-3.7-1.6-3.9-.9-3.8-.9-3.9 .3-4 .7-4 .1-4-.3-4-.2-4 .3-3.8 1.1-3.9 .9-3.9 .9-3.5 1.9M831.3 648.6l-4 .7-4 .1-4 .4-3.9 .3-4-.3-4-.4-3.9-.7-4-.8-3.8-1-3.8-1.2-3.9-1.2-3.6-.5-4 0-4 .4-4 .1-4-.4-4 .3M799.6 655.8l-3.4 2.1-3 2.6M805.4 650.4l-3.3 2.3-2.5 3.1-2.7 2.9-2.8 2.9M797.4 651.1l-3.7 1.5-3.6 1.7-3.8 1.4-3.7 1.5M829.2 648.6l-3.9 .6-4 0-4 .3-4 .1-4 0-3.9 .8-4 .3-4 .4-4 .2-3.8 1.2-3.9 1-4 .3-3.9 .3M818.2 649.9l-3.6-1.8-2.9-2.7-3-1.4-4 0-4 0-4 .3-3.9 1-3.8 1M802.7 653.2l-4-.4-3.9 .4-4-.1-4-.1-4 .5-4 .7M779.8 658.7l-2.9-2.7-3.1-2.6M787.8 658.8l-4-.1-4 0-4-.3-4-.6-4-.3M784.9 661.6l-.5 4-1.1 2.4-4-.4M781.8 664.1l-3.7 1.5-3.4 2.1-3.3 .3M830 651.8l-4-.2-3.9-1.1-3.9-.6-4 .1-4 .4-3.8 1.3-3.7 1.5-3.9 1.1-3.8 1.1-3.7 1.6-3.5 1.8-2.9 2.8-3.1 2.5-3 2.6-2.9 1.3-4 0-4 0-4-.2M827.2 649.1l-3.9-.9-3.9-.8-4-.7-3.9-1-3.8-1-3.9-.7-4 0M823.2 649.8l-3.2 2.4-2.6 3-2.2 3.4-2.3 3.2M815.4 651.2l-4 .5-3.9 .8-4 .6M831.2 649l-4 .1-4 .7-3.9 .6-3.9 .8-3.9 1-3.9 1-3.7 1.4-3.9 1-4 .2-4-.1-3.9-.8M850 644l3.6 1.8 2.9 2.7M836.4 649.2l3.1-2.5 3.4-2.1 3.1-.6 4 0 3.9 0 4 .4 3.9 .4 4 .6M843.5 652.3l3.9-.8 3.9-1 3.9-.9 3.9-.8M846.3 655.2l2.1 3.4 2.2 3.3 2.9 2.8 2.9 2.7M840.4 649.8l3.1 2.5 2.8 2.9 2.5 3.1 2.2 3.3 2.7 3 3.3 2.2 3.8 1.2 3.9 0 4-.4M871 656.6l2 3.5 1.8 3.5 1.9 3.5M828.4 649.1l4 .1 4 0 4 .6 4 .2 4 0 4 .2 4 0 3.8 1.1 3.6 1.9 3.4 2 3.8 1.4 3.9 .2 4 .4 3.9 1.1 3.9 .8 3.9 1 3.9 .5 4 .1M885.2 645.2l3.6 1.7 3.6 1.9M831.3 651.2l4 .3 3.9 .4 3.9 .9 4-.7 3.9-1 3.8-.9 4-.8 3.8-1 3.8-1.4 3.5-1.9 3.4-1.1 4 .1 4 .5 3.9 .6 3.9 .9 3.9 1.1 3.7 1.4 3.8 1.2 3.7 1.5M867.8 662l2.4 3.3 2.1 2.7 4-.1M843.5 648.6l3.8 1.2 3.7 1.5 3.4 2.1 3.6 1.8 3.2 2.3 3.2 2.5 3.4 2 3.8 1.4 3.6 1.7 3.5 2 3.1 .9M880.7 659.9l.4 3.9-.2 4M878.4 656.6l2.3 3.3 2.2 3.3 3.1 2.6 3.4 2.1 3 .1M882.2 657.9l4 0 4 0 4 .3M897.6 662.3l3.1 2.5 2.9 2.8M831.5 648.5l4 .5 4-.1 4-.3 4 .2 3.8 1.1 3.9 .8 4 .6 3.8 1 3.8 1.3 3.9 1.1 3.9 .7 3.8 1.2 3.8 1.3 3.9 .9 3.8 1.3 3.9 1 3.8 1.2 3.9 .9 3.7 1.5 3.9 .7 3.8 1.4M847.6 644l3.6 0 4 .2M851.5 644l3.7 0 3.9 0M834.4 650.1l2.9-2.7 3.1-2.5 3.2-.9 4 0 3.9 0 4 0 4 0 4 0M858 647.2l3.6-1.7 3.8-1.1 3.9-.4 3.9 0M830.4 650.5l4-.4 4 .6 4-.1 3.9-.9 3.8-1.2 3.9-.5 4-.8 4 .1 3.9-.6 4-.6 4-.1 4 0 4-.3 4 .2 3.9 .8 3.8 1.4M858.9 646.7l4 0M855.4 648.6l3.5-1.9 3.3-2.2 3.5-.5 4 .2M859.4 648.5l3.2 2.4 2.9 2.7 2.8 2.9 2.9 2.7M831.6 650.7l4-.2 4-.7 3.8-1.1 4-.4 4 0 4 .3 4-.1 4-.1 4 .5 4-.3 3.9 .2 4 .7 3.7 1.4M854.1 652.8l3.7-1.5 3.3-2.3M850.1 653l4-.2 4 .2 3.9 .7 4-.3M830.3 650.5l4 .3 4 .2 3.9 .7 4 .6 3.9 .7 3.8 1.1 3.7 1.7 3.8 1.2 3.9 .6 4 .7 4 .4 3.9 .4 4 .6M862.5 657.2l2.7-2.9 2.7-3 3-2.7M878.2 654.3l3.4 2.2M831.4 651.3l3.9 .6 3.9 1.1 3.9 1 3.7 1.3 3.9 1 3.9 .9 4 .5 3.9-.5 4-.7 3.9-.8 3.8-1.2 4-.2 4-.4 4 .6 3.9 .7M813.3 669.4l-2.1 2.6-4 0-4 0M809.6 671l-2.4 1-4 0-4 0M831.2 660.9l-3.9 1-3.8 1.3-3.6 1.8-3.1 2.5-3.5 1.9-3.7 1.6-3.5 1-4 0-3.9 0-4 0-3.8 0M833.6 657.5l-4-.3-4-.7-4 .1-4 .3-3.9-1-3.7-1.3-4-.3-4 .5M833.2 661.2l-3.8 1.2-3.9 1.1-3.8 1.1-4 .4-3.8-1.2-3.6-1.8-3.2-2.4-3.6-1.8-3.6-1.7M852.9 664.1l4 .5 4 .4 3.9 .7M864.4 667.1l3.2 2.4 3.4 2.1M830.1 660.2l3.9-.7 4-.1 4-.1 3.7 1.4 3.5 2 3.7 1.4 3.7 1.6 4 .3 3.8 1.1 3.9 1.2 3.6 1.6 3.6 1.7M832.7 660.2l4-.3 3.8 1.2 3.5 1.9 2.9 2.7 2.6 3.1 2.4 3.2 2.2 0 4 0 4 0 3.9-.7 3.8-1.3 3.7-1.5 3.6-1.8 3.3-2.2M852.1 670.6l3.6-1.8 3.7-1.6 2.9-2.7M830.3 660.7l3.7 1.4 3.7 1.6 3.6 1.8 3.7 1.5 3.7 1.5 3.4 2.1 2.6 1.4 4 0 3.9 0 3.9-.8 3.6-1.8 3.8-1.2M832.1 689.2l-2.5-3.1-2.3-3.3-1.3-3.8-1-3-3.9 .8M825.8 688.5l-3.2 2.5-2.3 3.3-1.9 3.5M823.1 691.5l1.7 3.7 2.2 3.3M833.6 688l-4-.5-3.8 1-2.7 3-2.7 3-3.2 2.4-2.7 3M831.9 687.7l-4-.2-3.8 1.1-3.4 2M820.6 690.3l-2.6 3.1-2.3 3.2M835.9 687.5l-4 .2-4-.1-3.9 .6-3.4 2.1-3.4 2.1-4-.3-4 0M835.5 694.5l4-.6 3.9-.6 3.9 .8 3.6 1.9 3.7 1.4M835.5 692.4l3.9 .9 3.8 1.3 3.9-.8 3.4-2.1 3.7-1.4M830.8 711.5l-3.7 1.6-2.9 2.7-3.3 2.3-3.9 1.1-4 .3M816.4 717.3l-1.9 3.5-2 3.5-.3 4 .3 1.7M805.4 721.5l-3.5-2M834.8 711.5l-4 0-4-.2-3.6 1.8-3.5 1.9-3.3 2.3-3.7 1.4-3.4 2.3-3.9 .5-3.9-.8-4 .4M817.7 707.2l-2.5-3.1-2.4-3.2M836.9 710.8l-4 .2-3.7-1.3-4 .1-4-.8-3.5-1.8-2.9-2.7-4 0-3.9-.8-4-.3M830.3 706.4l-.9-3.8-1.7-3.6-1.7-3.7-2.5-.3M836.7 711.2l-3.4-2.1-3-2.7-3-2.5-4-.2-4 0-3.3-2.3-3-2.6-3.2-2.4-3.3-1.4-3.9 0-4 .5M832.9 711.4l-4 .1-3.8-1.2-4 0-4-.3-4-.1-4-.5-3.9-.6-3.9-1-3.8-1.2M841.7 715.5l3.9 .4 3.6 1.9 2.6 3 2.6 3 .9 3.9M858.3 717.4l3.5-2M847.8 720.6l4 .5 3.9-.6 2.6-3.1 3-2.7 1.6-3.7M864.2 724.4l3.7-1.6M834 713.8l4 .2 3.7 1.5 3.1 2.4 3 2.7 3 2.6 1.6 3.7 2.5 3.1 3.8 0 3.4-2.2 2.1-3.4 .1-4-.1-4M856.2 695l3.9 0M835.7 710.7l4-.1 3.3-2.2 2.2-3.4 2.8-2.8 3-2.7 2.6-3 2.6-1.5 3.9 0 3.9 0 3.4 2.2M851 715.8l3.9 .6 4-.2 4 .1 2.8-3 .9-3.8 .3-4 2.4-3.3M855.9 722.1l2.6 3 2.1 3.4 1.7 1.5 4 0M862.2 730l2.3 0M858.9 729.4l3.3 .6 3.9 0 4-.7M840.3 710.8l3.9 1 3.1 2.5 3.7 1.5 2.7 2.9 2.2 3.4 2 3.5 1 3.8 1.7 .6 3.8 0 4 0 4 0 4 0 3.8 0M860 716.1l3.7-1.4 3.8-1.1M836.6 711.8l4-.2 3.8 1.3 3.8 1.4 3.8 1.2 4 .1 4 .5 3.9 .3 4-.5 4 .2M841.4 755.5l-3.9 .8-4 .2-4-.2M845.3 756.5l-3.9-1-3.6-1.6-3-2.7-3-2.7-3.9-.5M830.1 755.1l-3.2-2.5-1.7-3.5M837.5 757.9l-3.5-2-3.9-.8-4 .2-4 .3-4 .3-4 .1M849.3 756.7l-4-.2-4 .4-3.8 1-3.8 1.3-3.2 2.5-3.4 2-3.7 1.6-3.5 1.9-3 2.7-3.2 2.3-2.7 3-3.2 2.4M837.5 754.8l-.9-3.8 1.2-3.9 3-2.6 3.4-2.1M825.6 755.4l-3.1 2.5-2.4 3.2M849 758.2l-3.9-1-3.8-1.2-3.8-1.2-4 .1-4-.3-3.9 .8-4 .5-4-.2-3.7 1.4-3.5 2M848.6 753.3l-3.1-2.5-2.5-3.1-2.8-2.9-2.8-2.8-3-2.7-3.2-2.3-3.3-2.4M836.1 729.9l.9-3.9 .1-4 1.3-3.8M833.6 718.1l.3-3.1-.8 0M851.8 755.8l-3.2-2.5-3.7-1.5-2.2-3.3-1.4-3.8-1.5-3.7-.1-4-2-3.5-1.6-3.6-1-3.9-.8-3.9-.7-4-.4-3.1-.5 0-1.3 0M829.8 763.3l-4-.2-3.7 1.4-3.3 2.4M825.9 764.3l-3.3 2.2-3.5 2M837.8 762.7l-4 .2-4 .4-3.9 1-3.8 1.2-3.3 2.3-3.8 1.2-4-.7M820.7 788.9l.1 4 1.4 3.8 1.5 3.3M819.5 796.8l-.7 3.2-1 0M849.5 760.7l-3.9 .8-4 .2-3.8 1-3.3 2.4-2.6 3-2.7 2.9-2.2 3.4-1.2 3.8-2 3.4-2.1 3.5-1 3.8-.6 4-.6 3.9 .1 3.2-.6 0M816.8 773.5l-2.7 2.9-3.7 1.6-2.5 3.1-2.5 3.2M813.7 776l-1.8 3.6-2.7 3-3 2.6M819.8 770.9l-3 2.6-3.1 2.5-3.1 2.5-3.8 1.3-3.7 1.5-3.6 1.9-3.6 1.7M848.6 758.8l-3.8 1.4-3.6 1.8-3.8 1.1-3.9 .9-3.8 1.1-4 .4-2.8 2.9-3.1 2.5-3.6 1.8-3.3 2.2-4 .4-3.5 2-3.8 1.2-3.6 1.8-3.6 1.8-3.9 .8-3.7 1.6-3.9 .7M848 757.8l-3.5-1.9-4-.8-3.9-.7-4-.2-4 0-4-.1-3.2-2.4M844.1 756.7l-3.9-.9-3.7-1.4-3.8-1.4-3.6-1.8-3.9-.8-4-.4-3.5-1.9M825.2 750.8l-4 .7-3.9 .7M832.6 753.3l-3.9-.6-3.5-1.9-3.9-.9-2.9-2.8-3-2.7-3.8-1.3M810.8 743.5l-2.4-3.2-2.2-3.4M807 742.2l-3.7 1.6M851.9 758.5l-3.9-.7-3.9-1.1-3.7-1.5-3.9-.8-3.9-1.1-3.6-1.7-3.8-1.2-3.7-1.4-3.6-1.9-3.4-2-3.7-1.6-3.8-1.3-3.2-2.3-3.5-2.1M856.5 756.8l3.2-2.5 2.9-2.7 2.1-3.4 2.2-3.3 1.7-3.7 2.5-3.1 3-2.6M887.3 763l3.8 1.2 3.6 1.8M883.3 763.3l4-.3 3.8 1.2 3.9 .7 3.9 .9M848.5 756.1l4 .3 4 .4 4 .1 4 .3 4 .3 3.8 1 3.7 1.6 3.6 1.8 3.7 1.4 3.9 .8 4 .4 4 .1 3.6 1.8 3.9 .6 3.5 2M857.3 758.3l4-.6 3.1-2.4M861.2 759.3l3.8-1.2 3.3-2.3M853.5 757.3l3.8 1 3.9 1 4-.2 3.4-2.1 4 .1 3.9 .9M872.2 763.1l3 2.6 2.6 3 2.7 3M875.8 770l-.1 4 1.6 3.6 .5 4M877.4 777.8l1.8 3.5 2.9 2.8M849.5 757.6l4-.3 4-.2 3.9 .8 3.5 1.9 3.7 1.5 3.6 1.8 2.6 3 1 3.9 .5 3.9 1.1 3.9 1.1 3.8 .4 4-.1 4M863.3 764.5l4 .1 3.6 1.5 3 2.6 2.9 2.8M866 767.4l4-.4 3.8-1.3 3.8-1.2 3.8-1.2 4 .3 3.9 1.1M883.1 793.3l3.6 1.8M857.3 759.2l3.2 2.4 2.8 2.9 2.7 2.9 1.2 3.8 1.4 3.8 1.6 3.6 1.4 3.8 2.3 3.2 2.8 2.9 3.3 2.3 3.1 2.5 1.4 3.8 1.9 2.9M871.8 764.1l3.5 1.8 3.7 1.5M869.2 761l2.6 3.1 2.7 2.9 2.4 3.2 2.3 3.3 3.2 2.3 2.8 2.9 2.2 3.3M873.7 771.2l1.2 3.8 1.5 3.7-.7 4-.2 4-1.1 3.8M875.9 786.3l3.9-.6 3.9-.9M872.6 775l-.1 4 1.6 3.7 1.8 3.6 2.2 3.3 2.8 2.9M871.4 794.6l-.8 4-.9 1.4M873.2 786.8l-1.1 3.9-.7 3.9 0 4 .5 1.4 0 0-.1 0M853.8 757.2l3.5 2 4 .7 3.9 .6 4 .5 3.2 2.4 1.2 3.8 .1 4-1.1 3.8-.7 4 1 3.9 .3 3.9 1.5 3.7 1.1 3.9 .1 4-.2 1.6-1.2 0-4-.2-4-.3-4-.5M856.7 760.1l2.1-3.4 2.6-3 3-2.6 2.8-2.9 3-2.5 2.9-2.9 2.7-2.9 3.1-2.6M891.7 755.1l4 .4 3.7 1.5M848.7 760.3l4 .3 4-.5 3.9-.9 3.8-1.2 4 0 3.9 .9 3.7-1.3 3.8-1.3 4-.2 4-.1 3.9-.9 4-.7 3.9 .6 3.9 1 3.7 1.4 3.1 2.6M881.4 746.8l4-.3 4-.4M852.9 759.1l3.8-1.1 4 .2 3.9-.7 3.6-1.8 3.4-2.1 3.2-2.4 3.1-2.6 3.5-1.8 3.7-1.5 3-2.7 2.9-2.8 2.6-3M862.8 754.9l2.9 2.7 3.9 .9 4-.1 3.9-.9 4-.2 4 0M851.1 756.9l4 0 3.7-1.6 4-.4 3.8-1.1 3.7-1.6 3.1-2.4 3.5-2.1 3.9-.7 3.6-1.9 4 .1 3.7 1.4 3.9 1M847 771.2l-1.5 3.7-2.5 3.2-2.7 3M850.4 781.6l1.3 3.8 .4 4M849.9 759.6l-.7 3.9-1.1 3.9-1.1 3.8-.4 4 .6 4 3.2 2.4 4 .2 3.9-1 3.7-1.5M856.7 768.8l1.4 3.7 3.5 1.8M858 772.5l3.4 2.2 3.9 .7M852.3 757.6l1.1 3.9 1.5 3.7 1.8 3.6 1.3 3.7 1.2 3.9 1.9 3.5 1.2 3.8M849 757.9l-2.1 3.4-2 3.4-.2 4-.2 4-2.1 3.4-3.2 2.4-2.8 2.9-3.3 2.2M846.3 762l-2.2 3.4-2.6 3-1.9 3.5M848.1 758.5l-1.8 3.5-2.2 3.3 0 4-.4 4-2.7 2.9-1 3.9M835.7 775.4l-3.9 1.2-3.9 .5M850.1 756.5l-3 2.7-2.6 3-2.2 3.3-1.7 3.7-2.5 3.1-2.4 3.1-3.7 1.7-3.3 2.2-3.7 1.5-3.8 1.2M832.3 765.8l-3.9 .8-3.2 2.4M849.9 756.5l-3.4 2.2-3.4 2.1-3.4 2-3.6 1.7-3.8 1.3-2.9 2.8-3.1 2.5-2.3 3.3M844.7 764.9l-1.7 3.6-2.2 3.3-1.1 3.9M849.3 779.9l3.5 2.1M845.7 756.9l-.7 4-.3 4 .3 4 2 3.4 .9 3.9 1.4 3.7 1.1 3.9 1.1 3.9 1.3 3.7M848.2 788.3l3.6 1.6 4 .5M851.5 756.6l-.6 4-.5 3.9-.2 4 .1 4-1.3 3.8-.5 4 .1 4-.4 4-1.9 3.5-2.4 3.2-1.8 3.6M856.9 752l-1.7-3.7-1.6-3.7-3.3-2.2M866.2 744.5l3.9-1.1M852.4 758.5l2.8-2.9 1.7-3.6 2.8-2.9 3.2-2.4 3.3-2.2 3.4-2.2 3.8-1.1M850.3 758.2l-2.5-3.1-2-3.4-.7-4-.4-4-1.5-3.7-1.1-3.8-2.1-3.4M852.9 757.8l.5-4 1.5-3.7 2.6-3.1 2.9-2.8 3.6-1.7 3.2-2.4 3.5-1.9 3.4-2.1 2.4-3.2 1.7-3.6 2.6-3.1 3.2-2.3M853.3 754.6l-.8-3.9-3.5-2-2.8-2.8-3.1-2.6-3.1-2.5M851.4 758.1l1.9-3.5 1.9-3.5 1-3.9-.1-4-2-3.5-2-3.5-2.1-3.3-2.7-3-3.1-2.5M857.4 758.1l4-.1 3.4 2M853.8 756.2l3.6 1.9 3.6 1.6 3.7 1.6 4 .6M846.1 757.2l3.8-1.5 3.9 .5 4-.5 3.1-2.4 2.7-3 1.9-3.5 1.7-3.6 1.5-3.8M846 746.6l2.6-3.1M844.5 754.4l.7-3.9 .8-3.9 .6-4 1.5-3.7 2.7-3M830.3 747.2l-3.7-1.6-3-2.6-3.8-1.3M828.4 743.6l1.6-3.6 2-3.5M851.2 758.4l-3.8-1.2-2.9-2.8-3.7-1.6-3.6-1.6-3.7-1.7-3.2-2.3-1.9-3.6 .3-4 1-3.8 1.5-3.8 1.6-3.6M844.3 750l1.1-3.9M846.1 753.5l-1.8-3.5-1.3-3.8-3.2-2.5M850.9 759.8l-2.9-2.7-1.9-3.6-2.1-3.3-2.7-3-2.2-3.4-2.5-3.1-2.6-3-2-3.5M853.1 749.4l2.6-3 .9-3.9 3.6-1.9 1.5-3.7 2-3.4M870.3 746.4l3.8 1.2 2.6 3.1M858.8 743.9l4 .4 4 .2 3.5 1.9 3.2 2.3 2.3 3.3 2.2 3.4M866 741l2.8-2.9 1.3-3.8 1.6-3.6M848.9 756.2l1.8-3.6 2.4-3.2 2.4-3.2 3.3-2.3 3.3-2.2 3.9-.7 4-.6 3.8 1.3 3.9-.6 3.3-2.3 3.8-1.2 4-.1" fill="none" stroke="#EC80EA" stroke-width="2.0" stroke-linecap="round" stroke-linejoin="round" />
<circle cx="850.2" cy="757.8" r="5.8" fill="#1B1212" />
<path d="M1046.9 735.8l2.4 6.8-1.4 6.9-.6 6.8-1.2 6.9-2.3 6.8 1.2 6.8 1.8 6.9-.3 6.8 2.8 6.9-4.2 6.8-1.7 6.9 2.5 6.8-3.5 6.8 2.5 6.9 2 6.8 1 6.9-1.8 6.8-3.6 6.9 .9 6.8 2.2 6.8 1.1 6.9-2 6.8 1.4 6.9-1.1 6.8" fill="none" stroke="#B8CB8C" stroke-width="1.6" stroke-linecap="round" stroke-linejoin="round" />
<path d="M1046.9 735.8l-.3-3-.4-3-.9-2.8-.7-2.9-.8-2.9-.9-2.9-1-2.8-1.3-2.7M1044 712l-.6-2.9-.5-3-.5-3-.7-2.9-.8-2.9-1-2.8-.9-2.8-1.1-2.9M1007 674.6l-2.1-3.4-2.3-3.3M1035.3 689.4l-3.4-2.1-3.5-1.9-3.6-1.7-3.4-2.1-3.7-1.6-3.5-2-3.6-1.7-3.6-1.7-3.7-1.6-3.6-1.6-3.8-1.4M1011.9 686l-3.7 1.6-3.7 1.5-3.7 1.6M999.9 685.1l-3.7 1.5-3.8 1.4M1027.8 686.6l-4-.3-4-.3-4-.2-3.9 .2-4-.2-4-.3-4-.4-4-.3-3.9-.9-3.8-1.3-3.9-1M1008.4 662.2l-.1-4-.2-4-.1-4 .4-4M1020.9 682.6l-2.4-3.1-2.2-3.4-1.9-3.5-2.1-3.4-2-3.5-1.9-3.5-1.2-3.8-.8-3.9-.5-4-.5-4-.8-3.5-4 .4-4 .1M991.1 662.7l-3.9-1-3.8-1.1-3.9-1.2-3.7-1.4-3.9-.7-4-.5-4-.5-4-.4-3.9-.5M957.6 643l-3.7 1.5-3.8 1.2M949.6 643l-3 0M1039 691l-3.7-1.6-3.7-1.4-3.8-1.4-3.5-1.8-3.4-2.2-3.5-1.8-3.4-2.2-3.2-2.4-3.4-2.1-3.6-1.7-3.5-2.1-3.2-2.4-3-2.6-3-2.6-3.1-2.6-3.3-2.2-3.4-2-3.5-2-3.4-2.1-3.4-2.1-3.4-2.1-3.5-2-3.3-2.2-3.2-.4-4 0-4 0-4 .3M1019.8 690.1l-3.9 .7-3.9 1-3.8 1.2-3.8 1.4-3.6 1.7M1011.8 689.6l-3.8 1.2-3.6 1.6-3.7 1.7-3.7 1.5-3.7 1.5M1035.8 690.9l-4 .2-4-.3-4-.3-4-.4-4-.2-4-.3-4 0-4 .4-3.9 .8-3.9 .6-3.9 1-3.8 1.3-3.8 1.1-3.8 1.3M1004.5 657.6l-3.1-2.5-3.3-2.4M1020.9 684.9l-1.8-3.5-2.1-3.4-1.8-3.6-1.6-3.7-2.1-3.4-2.3-3.2-2.4-3.3-2.3-3.2-2.2-3.4-1.9-3.5-1.8-3.6-1.2-3.8M1013.7 681.8l-4-.1-4 .5-3.8 1.2-3.6 1.7-3.8 1.5M1006.9 677.5l-.8-3.9-1-3.9-1.1-3.8M1000.7 672.5l-2.6-3.1-2.2-3.3-2.7-3M997.4 670.2l-4-.5-3.9-.6-4-.6M1017.1 683.9l-3.4-2.1-3.4-2.1-3.4-2.2-3.2-2.4-3-2.6-3.3-2.3-3.4-2.1-3.5-1.9-3.2-2.5-3.1-2.4-3.2-2.5M1007 677.6l-4-.3-4-.6-3.9-.5-4-.7M1013.3 682.5l-3-2.6-3.3-2.3-3.5-1.9-3.7-1.6-3.4-2.1-3.3-2.3-3.5-1.8-3.7-1.5-3.7-1.6M1005.8 681.7l-2.9 2.8-2.6 3-2.9 2.8M1009.7 680.8l-3.9 .9-4 .6-3.9 .9-3.9 .7-3.9 .9-3.7 1.5-3.5 2-3.5 1.9M999.5 669.5l-.1-4-.3-4-.2-3.9M1002.7 676.9l-1.6-3.7-1.6-3.7-1.5-3.7-1.3-3.8-1.5-3.6-1.3-3.8-1.4-3.8M991.3 675.6l-2.9 2.8-3.3 2.3-3.5 1.9-3.7 1.4M999.2 674.9l-3.9 .3-4 .4-4 .5-4 .5-3.8 1-3.8 1.4-3.7 1.6-3.8 1-4 .4-4-.4-4-.2M992.4 670.9l-3.9-1-4-.5-4-.1-4-.3-4 .1M974.2 662.9l-3.8 1.4-3.6 1.5-3.7 1.7-3.6 1.7-3.5 1.8-3.5 2M963.5 657.4l-2.3-3.2-2-3.5-2.7-2.9-3-2.7M1039.4 692.5l-3.6-1.6-3.7-1.7-3.6-1.6-3.8-1.4-3.8-1.3-3.8-1-3.8-1.4-3.6-1.7-3.5-1.9-3.5-2-3.5-2-3.3-2.2-3.5-1.8-3.4-2.2-3.5-2-3.7-1.5-3.8-1.1-3.8-1.2-3.7-1.6-3.5-1.9-3.5-2-3.6-1.7-3.6-1.8-3.6-1.7-3.4-2.1-3.4-2.1M1058 688.1l3.9-.7 4-.3 4-.7 3.9-.5M1080.2 697l2.3 3M1050.5 685.4l3.8 1.2 3.7 1.5 3.8 1.1 3.7 1.7 3.7 1.4 3.6 1.7 3.6 1.7 3.8 1.3 3.7 1.6 3.4 1.4M1057.9 682.4l4-.2 4-.2 4-.2 4-.1 4 .2 3.9-.3 4-.7M1065.3 679.4l2.6-3 2.4-3.2 2.5-3.2 2.4-3.2 2.3-3.2 1.8-3.6 1.7-3.6M1073 677.4l4 .7 4 .3 3.9 .5 4 .7 3.9 .5 4 .6M1080.9 676.2l2.9-2.8 2.3-3.3 2.7-2.9 3.2-2.4 3.3-2.3M1035.4 690.8l3.8-1.3 3.8-1.3 3.7-1.5 3.8-1.3 3.7-1.4 3.7-1.6 3.7-1.5 3.7-1.5 3.8-1.1 3.9-.9 4-.8 3.9-.4 4-.7 3.9-.6 4-.4 4-.1 4-.4 3.9-.6 3.9-.9 4-.4M1065 693.1l4 .3 4 .1M1068.4 695.2l1.8 3.6 1.3 1.2M1051.7 684.3l3.4 1.9 3.4 2.2 3.3 2.2 3.2 2.5 3.4 2.1 3.5 2 3.4 2 3.2 .8M1059.6 682.9l3.5-1.8 3.6-1.8 3.7-1.5 3.7-1.4 3.8-1.3 3.9-1M1075.5 681.7l3.9 .9 3.9 .8M1067.5 681.9l4 .1 4-.3 4 0 3.9 .5 4 .7M1036.7 690l3.6-1.8 3.8-1.4 3.7-1.4 3.9-1.1 3.9-.8 4-.6 3.9-.3 4-.7 4-.3 4-.4 3.9-.2 4-.3 4-.3 4-.1 4-.1 4 .2M1021.7 690.8l-3.7-1.6-3.4-2.1-3.3-2.2-3.5-2-3.5-1.9-3.4-2-3.3-2.3-3.2-2.4-3.2-2.5M1017.7 690.6l-3.7 1.7-3.5 1.8-3.6 1.8-3.5 2-3.7 1.4-3.6 .7-4 0-4 0-4 0-4-.1-4-.4M997.8 688.6l-4 .3-3.9 .6-4 .4-4 .5-4 .3-3.9 .3-4 0M978.4 683.7l-4-.2-4-.1-3.9-.4M971.1 680.5l-3.9 .7-4 0M1037.6 691.5l-3.9-.5-4-.2-4-.1-4 .1-4-.2-4-.6-4 0-3.9-.3-4-.5-4-.6-3.9-.9-3.9-.9-3.9-.8-3.8-1.1-3.9-1.2-3.6-1.5-3.7-1.7-3.4-2-3.4-2.1-3.6-1.9-3.6-1.7M1029 711.3l-3.1-2.5-3.9-.9-4-.3-3.9 1.1M1041 711.3l-4 .3-4-.2-4-.1-3.9 .3-4-.5-3.7-1.4-3.9-1.1-3.2-2.3-2.6-3.1M1040.6 710.5l-4 0-3.5 2-3.1 2.4M1044.4 711.8l-3.8-1.3-3.7-1.5-4 0-4 .2-3.9-.8M1052.8 716l2.5 3.2 1.6 3.6 .8 2.2M1041.5 712.3l3.9 .8 3.5 1.9 3.9 1 3.6 1.7 3.4 2.1 3.7 1.6 3.9-.8 4-.5M1056.9 719.3l3.9 .9 3.5 2M1041.7 715l3.8 1.1 3.7 1.6 3.9 .3 3.8 1.3 3.6 1.8 3.6 1.8 1.7 2.1M1046.4 734.9l-3.9-.3-4-.5-4-.3-3.9 .6-3.9 1.1-4 .2-4 .5-4 .4-3.9 .4-4 .6-4 .3-3.9 .9-3.9 .6M1047.7 733.2l-4-.7-3.9-.6-4-.4-4 .2-4-.2-4 .3-3.9 .9-4 .4-3.6 1.7-3.3 2.2-3.4 2.1-3.4 2.2M1043.8 736.3l-3.1 2.4-3.4 2.2-3 2.7-3 2.6-3 2.6-2.7 3-3.1 2.5M1027.9 736.1l-3.4-2.2-2.8-2.8-2.4-3.2-2.4-3.2-2.7-3-2.7-2.9M1023.9 735.7l-4 .6-3.8 1.1-3.9 .8-3.8 1.4M1003.9 735.5l-3.9-.4-3.9-.9M1047.8 736l-4 .3-4 .3-4-.1-4-.1-3.9-.3-4-.4-4 0-4-.6-4 .4-4 .1-4-.1-4-.1-3.9 .5-3.8 1.2M1032.1 734.2l-3.2-2.4-2.8-2.8-3.1-2.5-3.2-2.4M1008.6 738.6l-3.9-.9-4-.1M1044.1 734.4l-4 .4-4-.3-4-.3-4 .5-3.8 1.1-4 .6-4 .4-3.8 1.2-3.9 .6-4 .1-4 0-4-.1-3.9-.8M1047.1 736.3l-3.9 .8-3.9 .8-3.7 1.7-3.5 1.9-2.7 2.9-2.6 3-2.7 3-2 3.5-2.5 3.1-2.9 1-3.9 0M1001.3 725.6l1.2-3.8 2-3.5M1006.6 731.3l-3.3-2.2-2-3.5-.9-3.9-1.3-3.7M1046.3 735l-4-.4-4-.1-3.9-.8-3.9-.8-4 .2-4-.4-4-.3-4 .1-3.9-.9-4-.3-4 .2-3.9-.8-4-.1-4 .5-4-.5-3.9 .6M1033.9 734.8l-3.8-1.2-3.9-.8-3.9-.9-3.8-1.4M1023 739.8l-3.8 1.1-3.7 1.5-3.9 1.2-3.9 .7M1015.2 741.6l-3.8-1.2-3.9-.9-4-.6M1045.8 734.1l-4 0-4-.2-3.9 .9-3.8 1.4-3.5 1.8-3.6 1.8-3.9 .9-3.9 .9-4 .4-3.9-.4-3.9-1.1-4 .4-4-.3-3.8-1M1032.1 736.3l-3.9-.7-3.9-.8-4-.6-3.9-.4-4-.3-3.9-1.1M1044.1 735.3l-4 .3-4 .3-4 .4-3.9 .5-4 .3-4-.7-4 0-3.9-.5-4 .3-3.9 .8-3.9 1.2-3.7 1.3-3.6 1.9M1041.3 732.9l-3.5-1.9-3.5-1.9-3.5-1.9-3.4-2.1-3.5-1.9-3.5-2-3.4-2.1M1017.4 730.9l-3.5-1.9-3.8-1.2-3.7-1.5M1045.3 732.8l-4 .1-3.9-.6-4-.6-4-.2-4-.3-4-.2-4-.1-4 0-3.9-.6-4-.1-4 0-4 .3-3.9 1-3.9 .6M1037.3 735.9l-3.3-2.3-2.8-2.7-3.4-2.3-2.9-2.7-2.4-3.2-1.5-3.7-.8-1-.3 0M1008.4 723.6l-3.9 .4-4 .1M1045.3 735.9l-4 .1-4-.1-3.8-1.1-3.8-1.3-3.1-2.5-3-2.7-3.7-1.5-3.7-1.5-4-.4-3.8-1.3-3.9-.8-4-.1-3.9 .5-4 .2M1035.6 729.4l-4-.5-3.9-.5-4-.3-4-.7M1029.3 725.1l-.1-4-.2-3.1M1031.8 728.1l-2.5-3-3-2.7-3.2-2.4-3.1-2M1008.9 721.5l-3.2-2.4-2.3-1.1M1046.9 733.3l-4-.8-3.8-1.2-3.5-1.9-3.8-1.3-3.8-1.2-3.7-1.6-3.7-1.5-3.9-.8-3.9-.8-3.9-.7-3.7-1.5-3.7-1.7M1046.5 733.3l-4 .2-3.9 .8-3.8 1.4-3.9 .6-4-.3-4-.7-3.9-.7-4-.5-4-.2-3.8-1.2-3.8-1.1M1062.3 734l2.7 3 2.5 3.1M1058.8 732.1l3.5 1.9 3 2.6 2.9 2.8 3.3 2.2M1070.3 728.8l3.8 1.4 3.9 .9 3.8 1M1047 734.3l4-.4 3.9-.9 3.9-.9 3.9-.9 3.8-1.3 3.8-1.1 3.8-1.5 3.8-1.1 3.7-1.4 4-.7 4-.3M1067.8 730.2l4 0 4-.5M1057.4 736.2l3.4-2 3.5-2.1 3.5-1.9 3.3-2.2 3.6-1.7M1066.4 728.9l3.3-2.2 3.5-1.9M1068.9 725.8l3.1-2.5 2.9-2.7M1064.4 732.4l2-3.5 2.5-3.1 2.9-2.8 2.7-2.9M1046.2 740.1l3.9-.6 3.8-1.4 3.5-1.9 3.6-1.8 3.4-2 3-2.6 2.3-3.4 2.8-2.8 3.1-2.5 3.4-2.1 3.2-1M1045.6 735.2l4-.1 4 .4 4 .1 4 .6 4 .5 3.9 .9 3.8 1.2 3.7 1.4 4 .6 3.9 .5 3.6 1.8 3.6 1.8 3.3 2.2 3.2 2.4 2.9 2.8 3.2 2.3M1061.8 734.8l3.4-2.2 3.5-1.9 3.8-1.4M1049.9 734.9l4-.3 3.9-.1 4 .3 3.9 1 3.7 1.6 3.5 1.9 3.8 1.1 3.9 .9 4-.1M1060 728.6l3.9-1 3.9-1.1 3.9-.8 3.9-.9 3.7-1.4M1090.6 723.4l2.9 2.7 2.4 3.2M1046.1 736.1l3.8-1.2 3.4-2 3.3-2.4 3.4-1.9 3.3-2.3 3.7-1.7 3.7-1.3 4-.6 4-.2 4-.4 3.9 .9 4 .4 3.9-.6 3.8-1.3M1073.5 743.1l3.7 1.4 3.5 1.9 3.2 2.4 2.9 2.8M1069.5 743.4l4-.3 3.9-.4 4-.4 4-.4 4-.6 3.8-1 3.9-.9M1084 750.1l4 0 4 .1 4 0 3.9-.7M1087.8 751.1l4-.5 4 .4 3.9 .9 3.6 1.7M1091.1 753.4l1.7 3.6 1.4 1 4 0M1046.4 737.8l4 .1 3.9 .6 3.9 .9 3.9 .8 3.7 1.8 3.7 1.4 3.7 1.6 3.5 1.7 3.5 2.1 3.8 1.3 3.8 1 3.3 2.3 3.5 1.8 4 .2 4 .8 3.8 1.1 4 .5M1076.9 726.4l2.2-3.3 2.6-3.1M1080.4 724.6l2.4-3.3 2.5-3.1M1046.6 735.9l4-.8 3.9-.6 4-.6 3.8-1.1 3.6-1.7 3.9-1 3.6-1.8 3.5-1.9 3.5-1.8 3.8-1.3 3.4-2.2 3.6-1.7M1073.4 748.6l.4 4 .2 3.9 .6 1.5M1075.3 752.1l3.5 2 3.6 1.8 3.7 1.4M1059.1 735.3l3.6 1.8 3.5 2 2.6 3 2.1 3.4 2.5 3.1 1.9 3.5 2.7 2.9 3.7 1.7 3.7 1.3 3.9-.7M1047.1 735.3l4 0 4-.2 4 .2 4 .1 4 .2 3.9 .9 4 .5 4-.2 3.9-.9 4 .3 3.7 1.3 3.6 1.9 3.7 1.4 4 .4 4 .4 3.9-.8 4-.3M1077.4 732.9l3.4-2.2 3.2-2.4 3.5-2M1045.8 734.6l3.9 .9 4 .2 3.9-.8 4-.2 3.9-.5 4-.7 3.9-.5 4-.1 4-.2 3.9-1.2 3.5-2 2.9-2.6M1077.4 746.9l3.9 .9 3.9 1.1 3.7 1.5 3.8 1.3 3.9 .7M1044.4 735.8l3.9 .9 4 .2 4 .3 4-.1 3.9 1 3.6 1.7 3.3 2.3 3 2.6 3.3 2.2 2.8 2.9 2.5 3.2 2.4 3.1 2.3 1.9 4 0 3.9 0 4 0 4 0 3.8-1.3 4-.2M1082.8 734.2l3.5 2 3.5 2M1051.2 735.4l3.9 .8 4 .3 4-.4 3.8-1.1 4-.6 4-.2 4 .5 3.9-.5 4 .2 4-.2 3.9-.9M1080.1 728.3l3.8 1.2 3.8 1.2M1049 734l4-.4 4 .2 4 .2 4-.7 3.8-1.1 3.7-1.5 3.8-1.1 3.8-1.3 3.7-1.7 3.6-1.7M1058.2 732.2l2.4-3.2 1.3-3.8M1050.8 735.2l3.9-1.1 3.5-1.9 3.9-.9 3.8-1.4 4-.2M1066.7 734.1l3.7 1.6 3.9 1 3.8 1.1 3.4 2.2M1070.7 733.6l2.8-2.9 3.1-2.5M1078.6 732.3l3.7 1.4 3.9 .8M1046.9 734.8l3.9 .4 4-.2 4 .1 3.9-.8 4-.2 4-.5 4-.2 3.9-1.1 3.4-2.1 3.5-1.9 4-.5 4 0M1046.9 734.7l-3.5 1.9-2.9 2.8-1.1 3.8-2.9 2.8M1048 739.4l-.9 3.9-2 3.4-2.9 2.8M1050.7 742.3l2.1 3.4 2.7 3M1046.7 735.6l1.3 3.8 2.7 2.9 1.5 3.7-.6 4M1048 736.7l-2.5 3.1-2.7 2.9-2.8 2.9-3.5 1.8M1041.3 736.6l-4 .7-3.9-.8-4 .7M1044.5 734.2l-3.2 2.4-4-.3-3.7-1.5-3.6-1.8-3.1-2.5M1049.8 732.7l-.6 4-.4 4 1.2 3.8-.3 4M1044.6 733.9l2.7 3 1.4 3.7 1.1 3.9 1.7 3.6-.6 3.9-.3 4" fill="none" stroke="#6B8E2F" stroke-width="2.0" stroke-linecap="round" stroke-linejoin="round" />
<circle cx="1046.9" cy="735.8" r="5.8" fill="#1B1212" />
<path d="M1237.4 745.6l1.3 6.3 3.2 6.3-1.4 6.3-1.5 6.3 0 6.3-1.4 6.4 5.4 6.3 1 6.3-1.1 6.3 0 6.3-.6 6.3 1.6 6.3-2 6.3 3 6.3 3.9 6.3-.8 6.3 .1 6.3-2.3 6.3 1.6 6.4-.6 6.3 3.2 6.3 .2 6.3 .9 6.3-1.1 6.3" fill="none" stroke="#8FE6A4" stroke-width="1.6" stroke-linecap="round" stroke-linejoin="round" />
<path d="M1237.4 745.6l-1.8-2.4-1.9-2.3-1.7-2.5-1.4-2.6-1.8-2.4-1.8-2.5-1.7-2.4-1.7-2.5-1.4-2.7-1.4-2.6M1222 722l.4-3 .5-2.9 .4-3 .8-2.9 .6-2.9 .6-3 .8-2.9 .8-2.9M1228 700l1.4-2.6 1.4-2.7 1-2.8 1-2.9 .7-2.9 .5-2.9 .8-2.9 .9-2.9 .5-3 .8-2.8 1.2-2.8M1243 672l2.7-1.4 2.3-1.8 2.7-1.4 2.5-1.7 2.1-2.1 2.4-1.9 2.4-1.7 2.4-1.8 2.5-1.6M1265 660l3-.3 3-.4 2.9-.6 3-.3 2.9-.6 3-.3 3-.3 2.9-.8 2.9-.6M1290 652l2.8-1.1 2.7-1.3 2.7-1.3 2.4-1.8 2.6-1.4 2.6-1.6 2.5-1.6 2.5-1.6 2.7-1.4M1237.6 671.2l-3.2-2.4-3.1-2.5-3.2-2.5M1226.2 667.4l-3.9 .5-4 .7M1222.7 665.5l-2.7-2.9M1245.3 673.1l-3.8-1-3.9-.9-3.9-1-3.8-1.2-3.7-1.6-3.5-1.9-3.7-1.5-3.9-1M1236.4 665.7l-3.6-1.5-3.5-1.9-3.7-1.6-3.9-1.1M1226.5 659l-2.9-2.8-3.2-2.3-3.2-2.5-3.1-2.5-2.3-3.2M1223.7 656.2l-3.5-2-3.8-1.2-3.7-1.5-3.6-1.9-3.5-1.9M1221.2 653.1l-1.6-3.7-1.4-3.8-1.6-2.6M1219.5 649.4l.2-3.9-.6-2.5-.8 0M1215.6 643l-3.1 0-3.9 0M1243.4 669.6l-3.4-2.1-3.6-1.8-3.3-2.2-3.3-2.2-3.3-2.3-2.8-2.8-2.5-3.1-1.7-3.7-2-3.4-1.9-3-3.9 1.1-3.6 1.7M1251.1 671.8l-3.8-1.4-3.7-1.6-3.4-2.1-3.3-2.2-3.5-2-3-2.6M1279.5 660.4l3.9-1 3.8-1.2 4 .2M1287.3 662.1l3.8-1.4M1267.5 660.5l4-.1 4 .2 4-.2 3.9 1.1 3.9 .6 3.9 1 4 .4 3.9 .7M1280 658.7l3.8-1.2M1264.5 661.7l4-.3 4-.4 3.6-1.7 3.9-.6 4-.6 3.9-.7M1228.5 699.3l-3.4-2-4-.5-3.9-.7-4-.2-3.4-2.1-3.4-2.1-3.9 .9-3.9 1.1M1227.9 699.7l-3.3 2.3-3.1 2.5-2.6 3-2.4 3.2-1 3.9-1.8 3.6M1231 707.3l4 .6 3.9 .5M1223.8 710.7l3.4-2.2 3.8-1.2 3.9 .9 4-.2 4-.4M1217.7 740.7l-2.4-3.2-1.6-3.7-1.2-3.8M1232.3 747.1l-3.5-1.9-3.6-1.6-3.8-1.4-3.7-1.5-3.8-1.3-3.9-1-3.9-.6-4-.6-3.9-.7-4-.5-3.9-.9-3.9-.5M1207.1 757.4l-3.2 2.4-2.5 3.1-3 2.6-3.4 2.2-3.3 2.3M1209.6 754.3l-2.5 3.1-2.4 3.2-1.7 3.6-1.9 3.5-2.6 3.1-3.4 2-3.3 2.4-3.3 2.1M1202.4 757.8l-2.3 3.2-2.6 3.1-1.8 3.5-1.3 3.8-.9 3.9-.5 4-1.6 3.6M1195.3 761.2l-1.5 3.7-2 3.4-1.5 3.8M1198.6 758.8l-3.3 2.4-3.3 2.2-3.6 1.7-3.9 1.1-3.8 1.1-3.7 1.5M1187.7 763.9l-2.6 3-3 2.6-3.2 2.4-3.2 2.5-3 2.6M1177.7 770.4l-4 .4-4 .4M1236.3 746.9l-4 .2-3.9 .7-4 .5-3.8 1.2-3.8 1.4-3.6 1.5-3.6 1.9-3.6 1.7-3.6 1.8-3.8 1-3.8 1.4-3.6 1.8-3.5 1.9-3.3 2.3-3.5 1.8-3.2 2.4-3.4 2.1-2.9 2.7-3.2 2.4-2.9 2.8M1194.7 730.9l-2.9-2.8-3.1-2.5-3-2.6-3.7-1.7M1187.2 728l-3.7 1.3-3.8 1.5M1237.1 741.7l-3.7-1.4-3.8-1.3-4-.6-3.8-1.2-3.7-1.4-3.8-1.4-3.9-.7-4-.4-4-.5-3.9-.7-3.8-1.2-3.8-1.4-3.7-1.5-3.6-1.6-3.6-1.7-3.9-1.2-3.8-1.2M1204.4 726.2l.3-3.9-.1-4M1218.2 740.4l-3.3-2.1-3-2.8-2.8-2.8-2.6-3-2.1-3.5-1.8-3.5-1.6-3.7-1.7-3.6-2.6-3.1M1206.5 738.2l-3-2.7-3-2.6-2.7-3-3.1-2.5-3.2-2.4M1237.2 746.5l-3.7-1.5-3.9-1.2-3.9-.5-3.8-1.2-3.7-1.7-3.9-.8-4-.4-3.8-1-4-.8-3.9-.6-3.9-1-4-.4-4 0-4 .1-4 0-4 .4-3.9-.2-4 .4M1203.3 756.6l-3.9 .5-4 .4-4 .2M1213 749.4l-3.4 2.2-3.2 2.4-3.1 2.6-2.9 2.6-2.7 3-3.4 2.1-3.9 .8-4 .8-3.9 .5M1197 749.6l-4 .2-4 0-4 .3-4-.4-4 .1-3.9 .7M1176.8 738.7l-.1-4 .3-4M1178.5 742.3l-1.7-3.6-2.3-3.3-2.2-3.3-1.8-3.6M1236.8 746.7l-4 .5-4 .4-4 .3-4 .2-3.9 .8-3.9 .5-4 .4-4 .2-4 .1-4-.5-3.8-1.3-3.8-1.1-3.8-1.2-3.7-1.5-3.4-2.2-3-2.6-2.7-3-2.8-2.8-2.6-3-2.2-3.4-2.4-3.2-2.7-2.9M1211.2 767.3l-3.6 1.9-3.4 2.1-3.3 2.2-3.4 2.2-3.3 2.2-3 2.6-2.5 3.1-2.4 2.4M1207.5 769l-3.9 .3-4 .5-4 .4-4 .5-3.9 .6-4 .4-4 .2-4-.4M1183.7 771l-4 .4-3.8 1.3-3.9 .6M1176.2 773.6l-4-.3-4-.3M1214.8 765.7l-3.6 1.6-3.7 1.7-3.9 .6-4 .1-3.9 .9-4-.1-4 0-4 .5-3.9 1-3.6 1.6-3.4 2.2-3.2 2.4-3.3 2.2M1196.2 780.9l-1.3 3.7-.9 1.4-4 0-4 0-4 0-4-.2-4-.1M1178.6 786l-3.1 0-4-.2-4-.6-3.9-.5-3.9-1M1167.1 783.3l-3.1-2.5-3.3-2.2-3.3-2.3-3.5-2M1163.8 781.1l-3.8-1.3-3.8-1.1-3.9-1.1M1238.6 745.9l-3.9 .8-3.7 1.4-3.3 2.4-2.7 2.9-2.5 3.1-2.6 3-2.4 3.2-2.7 3-3.1 2.5-3.2 2.5-2.9 2.7-3.2 2.4-3.1 2.6-3.1 2.5-3.3 2.2-3.2 2.3-3.1 .6-4 0-4 0-4 0-3.8-1-3.7-1.7-3.3-2.2-3.1-2.5-2.7-2.9-2.7-3.1-2.6-3-2.4-3.2-2.5-3.1M1225 752.5l-2.9 2.8-2.9 2.7-3.1 2.6-3.1 2.5-2.2 3.4-1.4 3.7M1222.3 755.4l-2 3.5-2.7 3-2.9 2.7-3.7 1.6-3.6 1.6M1219.1 757.9l-1.6 3.6-1.2 3.8-2 3.5-2.1 3.4-2.8 2.9-2.8 2.9M1216.4 760.8l-2.1 3.4-1.7 3.6-2 3.5-2.2 3.3-1.9 3.6M1230.8 747l-2.9 2.8-2.9 2.7-2.7 2.9-3.2 2.5-2.7 2.9-3 2.7-3.5 2-3 2.6-2.7 3-2.7 2.9-2.8 2.8-2.7 3-2.4 3.2-1.9 3M1188.2 783l-3.9 1M1238.5 744.9l-4 .7-3.7 1.4-3.7 1.7-3.6 1.6-3.3 2.2-3.1 2.6-3 2.6-3 2.7-3 2.7-1.4 3.7-1.4 3.7-1.5 3.8-.6 3.9-.9 3.9-1.2 3.8-1.3 .1-3.9-.9-3.9-.9-3.8-1.2-3.6-1.7-3.9-.9M1251.9 751.7l3.2 2.5 2.4 3.2M1253.8 755.2l.3 4-.1 4M1249.3 748.7l2.6 3 1.9 3.5 1.6 3.7 .5 4 1.5 3.7M1238 744.9l3.8 1 3.7 1.7 3.8 1.1 3.8 1.4 3.3 2.3 3.6 1.7 3.7 1.6 3.8 1.1 3.6 1.7 3.8 1.2 3.8 1.2 4 .8M1243.2 748.1l2.7 2.9 2.1 3.5 2.6 2.9 3 2.7M1250.2 751.9l4-.2 4 .2M1239.6 746.4l3.6 1.7 3.6 1.7 3.4 2.1 3.7 1.4 4 .8 3.9 .9 3.7 1.4M1263.4 745.4l3.7 1.6 3.5 1.9M1235.6 746.6l4-.2 3.9-.4 4 .4 4-.2 4-.5 4 .2 3.9-.5 3.9-1.1 4 .1 4 .5 4 .3M1272.5 735.5l4-.2 4-.2 4-.2M1238.5 744.9l4 .4 4 .2 3.9-.6 3.7-1.6 3.6-1.8 3.6-1.6 3.7-1.6 3.7-1.5 3.8-1.3 3.9-1 3.8-1 4-.7 3.9-.6M1260.3 741.4l3.6-1.8 3.3-2.3M1258.3 744.8l2-3.4 2.1-3.5 1.9-3.5 1.8-3.6M1261.3 742.2l4-.4 3.9-.9 4-.3 4-.1M1269 733l3.8-1.4 3.7-1.4M1238.7 747.2l4-.1 4 .1 3.9-.4 4-.5 3.7-1.5 3-2.6 2.6-3.1 2.5-3.1 2.6-3 2.6-3.1 3.5-2 3.2-2.3M1269.6 745.7l2.9 2.7 3.4 2.1 3.5 2 3.4 2.2M1273.5 746.4l3.8-1.2 3.7-1.6 3.4-2.1M1277.3 747.8l3.7-1.5 3.8-1.3M1284.8 750.5l3.7-1.6M1238.1 748.8l4 .4 4-.1 4-.4 3.7-1.4 3.9-1.1 3.9-.7 4-.1 4 .3 3.9 .7 3.8 1.4 3.6 1.7 3.9 1 3.5 1.9 3.3 2.3M1246.5 744.2l3.3 2.1 3.7 1.5 3.9 1.2 3.8 1.1 3.2 2.3 2.8 2.9M1265.9 746.4l4-.5M1258.4 743.7l3.7 1.7 3.8 1 3.9 .7 4 .8 3.9 .4M1278.3 744.7l4-.5 4 .2 4-.2 4-.1M1282.2 745.4l4-.6 4-.3 4-.3M1290 747.4l4 .3 4 .1M1238.5 744l4 .3 4-.1 4-.3 3.9-.5 4 .3 3.9 .7 4-.4 4 .3 4 .1 4 .3 3.9 .7 3.9 .9 3.9 1.1 4 .5 3.9 .5M1241 752.5l4 .6 3.8-1.1 3.9-.8 3.7-1.6 3.8-1.3 3.2-2.3M1249.1 774.9l2.8 2.8M1238.7 749.3l2.3 3.2 2.1 3.4 1.9 3.5 1.4 3.8 .8 3.9 .8 3.9 1.1 3.9 1.5 3.7 2.7 2.9M1235.3 748.5l-1.4 3.8-1.6 3.6M1238.5 746.1l-3.2 2.4-2.8 2.8-3.2 2.5-2.6 3-3.4 2.2-3.3 2.2M1235.6 744.1l2.8 2.8 3.4 2 3.5 1.9 3.5 2 2.4 3.2 3.4 2.1 3.1 2.6M1236.2 746l-3.6 1.8-3 2.6-3 2.7-3.3 2.2-3.4 2-3.9 1.3M1233.4 753.2l-1.8 3.5M1235.8 750l-2.4 3.2-.9 3.9-1.5 3.7-1.5 3.7M1229.2 759.9l.9 3.9 1.3 3.8M1238.8 747.3l-3 2.7-2.3 3.3-2.6 3-1.7 3.6-2 3.5-.5 3.9M1214.9 758.8l-3.3-2.2M1238.7 745.4l-2.7 2.9-3.1 2.5-3.4 2.1-3.2 2.4-3.7 1.5-3.7 1.7-4 .3-3.8 1.1-3.3 2.2M1239.3 744.8l-2.9-2.8-2.5-3.1-3.3-2.4-3.4-2.1-3.6-1.5-4-.5-4 .5M1237.6 746.1l-2-3.5-3.3-2.2-3.4-2.1-2.9-2.7-1.9-3.6-2.6-3M1240.6 744.5l3.5 2 3.1 2.5 2.6 3.1M1236.7 744.1l3.9 .4 4 .5 3.9 .8 3.9 1 3.7 1.5" fill="none" stroke="#3DDC68" stroke-width="2.0" stroke-linecap="round" stroke-linejoin="round" />
<circle cx="1237.4" cy="745.6" r="5.8" fill="#1B1212" />
<text x="836.6" y="835" font-size="18.6" text-anchor="middle">Dendrite subtype 11</text>
<text x="836.6" y="857.2" font-size="18.6" text-anchor="middle">(Axon subtype 58, MY)</text>
<text x="1043" y="835" font-size="18.6" text-anchor="middle">Dendrite subtype 8</text>
<text x="1043" y="857.2" font-size="18.6" text-anchor="middle">(Axon subtype 59, ACB)</text>
<text x="1251.6" y="835" font-size="18.6" text-anchor="middle">Dendrite subtype 6</text>
<text x="1251.6" y="857.2" font-size="18.6" text-anchor="middle">(Axon subtype 59, ACB)</text>
<line x1="1323.7" y1="937.4" x2="1351.6" y2="937.4" stroke="#000" stroke-width="1.6" />
<text x="1348.7" y="952.4" font-size="17">0.1mm</text>
<defs><filter id="bl4" x="-10%" y="-10%" width="120%" height="120%"><feGaussianBlur stdDeviation="1.6"/></filter></defs>
<g filter="url(#bl4)">
<path d="M1413 727 C1414.1 713.4 1414.1 709.6 1419.6 704.2 C1425 698.7 1435.3 695.5 1445.7 694.4 C1456 693.3 1472.8 700.9 1481.5 697.6 C1490.2 694.4 1488.6 684 1497.9 674.8 C1507.1 665.6 1520.7 652.5 1537 642.2 C1553.3 631.9 1575 619.9 1595.7 612.8 C1616.4 605.8 1639.2 601.7 1660.9 599.8 C1682.7 597.9 1707.2 599.2 1726.2 601.4 C1745.2 603.6 1762.6 607.7 1775.1 612.8 C1787.6 618 1793.6 630.2 1801.2 632.4 C1808.8 634.6 1811.5 627.2 1820.8 625.9 C1830 624.5 1845.2 623.2 1856.7 624.2 C1868.1 625.3 1880 627.2 1889.3 632.4 C1898.5 637.6 1906.7 646 1912.1 655.2 C1917.5 664.5 1920.3 668.3 1921.9 687.9 C1923.5 707.4 1922.2 750.9 1921.9 772.7 C1921.6 794.4 1920.3 804.2 1920.3 818.3 C1920.3 832.5 1922.7 847.7 1921.9 857.5 C1921.1 867.3 1926.2 873.2 1915.4 877 C1904.5 880.8 1874.6 880.8 1856.7 880.3 C1838.7 879.8 1821.3 875.4 1807.7 873.8 C1794.1 872.1 1784.3 871.6 1775.1 870.5 C1765.9 869.4 1763.1 867.3 1752.3 867.3 C1741.4 867.3 1725.1 868.3 1709.9 870.5 C1694.6 872.7 1677.3 878.7 1660.9 880.3 C1644.6 881.9 1625.1 880.8 1612 880.3 C1599 879.8 1590.8 880.3 1582.7 877 C1574.5 873.8 1571.8 865.6 1563.1 860.7 C1554.4 855.8 1544.1 850.9 1530.5 847.7 C1516.9 844.4 1496.8 842.8 1481.5 841.2 C1466.3 839.5 1449.5 841.7 1439.1 837.9 C1428.8 834.1 1423.9 827 1419.6 818.3 C1415.2 809.6 1414.1 800.9 1413 785.7 C1412 770.5 1412 740.6 1413 727 Z" fill="#E8E8E8" stroke="#D4D4D4" stroke-width="2.5" />
<path d="M1416.3 727 C1417.7 713.7 1419 710.6 1424.5 705.8 C1429.9 701 1439.1 698.7 1448.9 698.3 C1458.7 697.9 1475.3 698.7 1483.2 703.5 C1491.1 708.3 1493.5 715.5 1496.2 727 C1498.9 738.5 1500 758 1499.5 772.7 C1498.9 787.3 1496.5 804.5 1493 815.1 C1489.4 825.7 1487 833.1 1478.3 836.3 C1469.6 839.4 1450.1 837.2 1440.8 834 C1431.4 830.7 1426.3 824.7 1422.2 816.7 C1418.1 808.6 1417.3 800.7 1416.3 785.7 C1415.3 770.8 1414.9 740.3 1416.3 727 Z" fill="#ECECEC" stroke="#DDDDDD" stroke-width="2" />
<path d="M1435.9 736.8 C1439.7 727 1448.9 722.1 1455.5 720.5 C1462 718.8 1470.7 720.5 1475 727 C1479.4 733.5 1481 747.7 1481.5 759.6 C1482.1 771.6 1481.5 789 1478.3 798.8 C1475 808.5 1468 816.2 1462 818.3 C1456 820.5 1447.3 818.3 1442.4 811.8 C1437.5 805.3 1433.7 791.7 1432.6 779.2 C1431.5 766.7 1432.1 746.6 1435.9 736.8 Z" fill="#F6F6F6" />
<path d="M1497.9 687.9 C1504.9 674.3 1520.7 657.4 1537 645.5 C1553.3 633.5 1575 622.9 1595.7 616.1 C1616.4 609.3 1639.2 606.3 1660.9 604.7 C1682.7 603 1707.7 604.1 1726.2 606.3 C1744.7 608.5 1759.9 612.3 1771.8 617.7 C1783.8 623.2 1792 630 1797.9 638.9 C1803.9 647.9 1806.1 652.5 1807.7 671.5 C1809.4 690.6 1810.4 733 1807.7 753.1 C1805 773.2 1799.6 781.4 1791.4 792.2 C1783.3 803.1 1772.4 810.7 1758.8 818.3 C1745.2 825.9 1726.2 832.5 1709.9 837.9 C1693.6 843.3 1677.3 848.2 1660.9 850.9 C1644.6 853.7 1628.3 855.3 1612 854.2 C1595.7 853.1 1577.8 851.5 1563.1 844.4 C1548.4 837.4 1534.3 823.8 1523.9 811.8 C1513.6 799.8 1506 786.8 1501.1 772.7 C1496.2 758.5 1495.1 741.1 1494.6 727 C1494 712.9 1490.8 701.4 1497.9 687.9 Z" fill="#F3F3F3" stroke="#E0E0E0" stroke-width="2" />
<path d="M1530.5 687.9 C1538.1 675.4 1553.3 662.3 1569.6 652 C1585.9 641.6 1607.7 631.9 1628.3 625.9 C1649 619.9 1674.5 616.6 1693.6 616.1 C1712.6 615.6 1728.9 617.2 1742.5 622.6 C1756.1 628.1 1768 635.1 1775.1 648.7 C1782.2 662.3 1787.6 684 1784.9 704.2 C1782.2 724.3 1771.3 753.1 1758.8 769.4 C1746.3 785.7 1728.9 793.9 1709.9 802 C1690.8 810.2 1666.4 816.7 1644.6 818.3 C1622.9 820 1597.3 819.4 1579.4 811.8 C1561.5 804.2 1546.2 786.8 1537 772.7 C1527.8 758.5 1525 741.1 1523.9 727 C1522.9 712.9 1522.9 700.4 1530.5 687.9 Z" fill="#F8F8F8" />
<path d="M1807.7 655.2 C1810.4 646 1814.8 637.3 1824 632.4 C1833.3 627.5 1851.2 625.3 1863.2 625.9 C1875.1 626.4 1887.1 629.7 1895.8 635.7 C1904.5 641.6 1911.3 650.3 1915.4 661.8 C1919.4 673.2 1920.3 690 1920.3 704.2 C1920.3 718.3 1919.4 735.1 1915.4 746.6 C1911.3 758 1904.5 769.4 1895.8 772.7 C1887.1 775.9 1874 769.4 1863.2 766.1 C1852.3 762.9 1838.7 759.6 1830.6 753.1 C1822.4 746.6 1818.1 737.9 1814.2 727 C1810.4 716.1 1808.8 699.8 1807.7 687.9 C1806.6 675.9 1805 664.5 1807.7 655.2 Z" fill="#EEEEEE" stroke="#DDDDDD" stroke-width="2" />
<path d="M1824 674.8 C1825.1 662.8 1830 654.7 1837.1 648.7 C1844.1 642.7 1856.7 638.4 1866.4 638.9 C1876.2 639.5 1888.7 643.8 1895.8 652 C1902.9 660.1 1907.8 674.8 1908.8 687.9 C1909.9 700.9 1907.2 720.5 1902.3 730.3 C1897.4 740 1888.2 744.9 1879.5 746.6 C1870.8 748.2 1858.3 744.4 1850.1 740 C1842 735.7 1834.9 731.3 1830.6 720.5 C1826.2 709.6 1822.9 686.8 1824 674.8 Z" fill="#F7F7F7" />
<path d="M1726.2 655.2 C1727.3 648.7 1737.6 631.3 1745.7 625.9 C1753.9 620.4 1765.9 619.9 1775.1 622.6 C1784.3 625.3 1795.8 633.5 1801.2 642.2 C1806.6 650.9 1808.8 670.5 1807.7 674.8 C1806.6 679.2 1799 673.2 1794.7 668.3 C1790.3 663.4 1787.6 649.3 1781.6 645.5 C1775.6 641.6 1765.9 642.2 1758.8 645.5 C1751.7 648.7 1744.7 663.4 1739.2 665 C1733.8 666.7 1725.1 661.8 1726.2 655.2 Z" fill="#E4E4E4" />
<path d="M1745.7 818.3 C1747.4 810.2 1751.2 806.4 1758.8 802 C1766.4 797.7 1780.5 794.9 1791.4 792.2 C1802.3 789.5 1813.2 785.7 1824 785.7 C1834.9 785.7 1845.8 789.5 1856.7 792.2 C1867.5 794.9 1878.9 797.7 1889.3 802 C1899.6 806.4 1913.5 808 1918.6 818.3 C1923.8 828.7 1921.9 854.2 1920.3 864 C1918.6 873.8 1919.4 874.6 1908.8 877 C1898.2 879.5 1873.5 879.2 1856.7 878.7 C1839.8 878.1 1822.9 875.7 1807.7 873.8 C1792.5 871.9 1775.1 871.1 1765.3 867.3 C1755.5 863.4 1752.3 859.1 1749 850.9 C1745.7 842.8 1744.1 826.5 1745.7 818.3 Z" fill="#EAEAEA" />
<path d="M1817.5 785.7 C1822.4 779.2 1832.7 772.7 1840.3 772.7 C1848 772.7 1858.3 778.1 1863.2 785.7 C1868.1 793.3 1870.2 808.5 1869.7 818.3 C1869.2 828.1 1864.8 839 1859.9 844.4 C1855 849.9 1846.9 852 1840.3 850.9 C1833.8 849.9 1825.7 844.4 1820.8 837.9 C1815.9 831.4 1811.5 820.5 1811 811.8 C1810.4 803.1 1812.6 792.2 1817.5 785.7 Z" fill="#E3E3E3" />
<path d="M1546.8 782.4 C1548.7 778.6 1551.7 776.5 1556.6 775.9 C1561.5 775.4 1569.6 776.5 1576.1 779.2 C1582.7 781.9 1590.8 786.8 1595.7 792.2 C1600.6 797.7 1603.6 805.3 1605.5 811.8 C1607.4 818.3 1608.2 825.9 1607.1 831.4 C1606 836.8 1602.5 841.4 1599 844.4 C1595.4 847.4 1590.8 848.8 1585.9 849.3 C1581 849.9 1574.5 849.6 1569.6 847.7 C1564.7 845.8 1560.4 842.8 1556.6 837.9 C1552.8 833 1548.7 824.8 1546.8 818.3 C1544.9 811.8 1545.1 804.7 1545.1 798.8 C1545.1 792.8 1544.9 786.3 1546.8 782.4 Z" fill="#DEDEDE" />
</g>
<path d="M1508.8 722.7l3.8 5.9 3.1 6.6 8.6 2.9 1.7 3.8 6.2 3 5.5 4.7 5.4 8.6 2.6 3.4-.5 4.4 5.5 5.6 6.1 4-.4 3.6 7.6 5.2 9.6-.1 7.8 .3 2.5 .5 7.1 .9 7.5 3.2 6.5 4.3 2.1 4.6 6.8 4.9 9.5 2.7 5.1 4.6 4.9-.5 3.8 3.6 5.1 3.3 6.1-.1 6.2 6.9 7.2 2.1 3.5 .7 3.3 .9 9.6 7.7 4.7-4.8 8.6-.9 5-.4 4.4-4.6 7.4-3.6 5.8-.5 5.5 1.8 4.7-1.5 8.5 .3 7.4-1 4.4-2 4.6 2.1 8.6 2.7 .4-4.8 11-3.1 3.2-4.1 5.3-1.4 7.7-4.4 3-3.1 6.3-4 5.4-3.8 5.1-2.1 3.1-.8 7-5.6 6.5-5.8 5.6-2.4M1772.4 810.5l-3-.1-2.5-1.6-.2-2.9-.6-3M1642.3 816.7l-2.9-.6-2.8 1.1M1668.6 827.2l-3-.5-1.4-2.7 .6-2.9M1543.1 758.2l2.9 .5 2.8-1 3-.3M1661.8 825.6l-.6-2.9 .3-3-.5-3M1668.6 827.2l-3-.4-2.9-.6-3-.5-1.9 2.3M1605 793.5l1.5 2.6 .7 2.9 2.6 1.4M1740.2 819.7l-1.5-2.6-2.3-1.9-3-.6M1613.9 803l-3-.2-2.9-.1-3-.2M1509.9 714.5l3.6 5.4 3.5 2.7 1 6.7 6.5 4.3 5 7.1 .9 2.9 10.6 6.8 .3 6.1 7.5 4.2 3 2.7 8.9 5.8 5.2 1.7 5.9 3 6.8 7.8 5.6-2.2 4.6 5.6 3.6 2.6 7.4-.2 6.1 3.8 6.3 1.1 4.5 1.8 8.1 .3 7.8 .5 7.1 4.7 1.3 2.3 7.9 4.7 6.4 2 6.1 2.3 6.5 2.5 3.7 4.2 5.8-1.8 6.3 3 9.4-1.6 4.7-.9 6.4 1.4 3.5-3.5 8.8 1.3 4.6-2.4 5.1 .9 4.8-4.4 6.5-.6 6.6-1.3 6.8-2.3 6.7-2 2.7-4.4 6.8-3.4 6.7-1.4 4.8 2 9.3-3.5 3.7-3 5.7 1 6.1-4.7 5.7-3 2.6-3.2 6.9-1.6 5.6-6.8 2.8-2.6M1616.7 794.2l-1.8-2.3-2-2.3-2.3-2-1.9-2.2M1787.9 792.8l-2.9 .7-3-.4-2.6-1.4-2-2.3M1750.9 805.5l2.6 1.6 2.6 1.5 1.3 2.7M1787.9 792.8l1.6-2.5 1.6-2.6 1.7-2.4 1.8-2.4M1744.1 807.8l2.7 1.2 0 3M1518 729.3l-.9-2.9 .3-3 .6-2.9 1.1-2.8M1548.8 760.7l2.9-.5 2.9-.9M1541.3 756.5l2.6 1.5 2 2.2M1767.1 795.7l1-2.8-.5-3M1510.6 714.9l5.6 8.5 6.3 2.7 .7 7.3 .9 4.5 2.5 6.5 4.6 4.1 6.8 4.9 2.3 4.7 3.9 7.9 7.4 5.3 6.1 4.4 7.7 4.1 4.5 .2 3.3 1.4 8.3-.9 4.3 1.9 6.6 1.2 7.5 2.6 4.9 4.9 5.4 1.2 2.8 5 6.7-.5 6.8 3.5 5 .9 5.1 4.9 4.5 6.2 6.6-2.1 6.8 5.5 2.5 3.3 8.8 1.1 4.7 5.7 5-4 7.2 1.5 9.9-1 2.5-2.6 9-1.1 6.8 .3 4.6-2.1 7.7-.4 3.6 .3 5.3 1.9 10.6-2 5.6-.3 3.2-1.3 3.7-2.7 11.7 2.8 4.9-2.3 4.6-3.7 5.5-5.1 6-2.5 5.4-2.8 4.3-3.3 9.4-4.2-.3-4.2 8.9-1 3-9.3 4.1-3.7M1715.5 816.8l.6-3-1.1-2.8-1.9-2.3M1540.3 758.1l2.3-1.9 2-2.3 2.2-2 2.4-1.9M1818.6 776.7l-2.7 1.2-2.9 .9-2.8-.9-2.9 .8M1723.2 816.4l2.7-1.3 2.8-1.1 2.5-1.6 .7-2.9M1544.2 766l.5-3 2.3-2 3 .1 2.4-1.8M1723.2 816.4l-.4 3-1.1 2.8M1641.1 812.3l1.8 2.4 1.8 2.3 1.2 2.8M1726.8 816.7l1.4 2.7 .3 2.9-.9 2.9-2.2 2.1M1682.7 823.3l.9-2.9 1.1-2.8" fill="none" stroke="#6B7F3A" stroke-width="1.3" stroke-linecap="round" stroke-linejoin="round" />
<path d="M1511.3 726.1l6.1 6.7 4.5 7.2-.5 2.5 3.1 10 3.1 5 2.1 4.9 5.2 4.1 5.1 4.8 4.2 3.2 6.1-.3 6.1 3.6 5.7 5.6 6 5.1-2.4 5.5 6.8 3.6 6.9 6 4.5 3.2-.5 3.3 8.3 5.8-1.7 5.8-.7 9.2 4.6 3.9-.1 4.6-.2 6.3 2.7 8.9-1.3 1.2 3.3 11.8-1.7 5.6 3.2 3.5 .7 5.5M1593.8 839.4l-3-.1-2.3-2-1.6-2.5M1534.9 766.5l2.9 .9 2.4 1.9 2 2.2M1593.8 839.4l-2-2.2-1.8-2.5-1.9-2.3M1544.2 774.5l-2.2-2-1.9-2.3M1524.5 752.5l-2.5 1.7-1.6 2.5-.8 2.9-.5 2.9M1510.5 722.2l3.7 5.1 5 1.8 4.7 5 7.5 5 3.9 .1 6.8 6.5 2.1 .4 8.4 1.5 2.6 6.1 6 6.3 1.2 5.5 4.7 6.4 4.7 4.7 4.7 4.3 2.3 3.6 6.7 3.1-.6 6.9-4.3 8.9-4.2 4.2 .6 7.2 2.4 9.9-.1 2.6 1.1 7.3 1.1 5.6-1.4 7.1 .3 8.4 3.5 5.3 2.8-1.1 8.3-5.9 5-.3M1552.6 747.6l-.5 3 .6 2.9-1.3 2.8M1584.9 794.5l-2.1 2.1-2.9 .7-2.8 1.1-2.3 2M1552.6 747.6l-1.9-2.3 .3-3M1561.2 760l-1.9-2.4-1.6-2.6-.2-3M1580.4 834.6l.4 3 0 3-1.6 2.5-2.8 1.1M1507.3 714.7l7.6 5.9 4.4 2.6 7 5.9 2.3 2.3 4.3 8.1 5.4 2.8 4.7 5.1 2.5 4.4 3 5.5 2.8 5.6 5.1 4.8 .8 8.9 5.3 4.7-2.3 6.9 .4 3.9-.6 5.6 8.9 6.8-4.3 5.1 1.2 9.2 2.7 1.7 3.4 3.1 4.9 8-.2 5.6 7.7 4.3 2 3.5 5.1 8 2.5 5 3.9 5.3 5.4 3-2.6-.2-.3 .4M1568.9 804.5l-.1 3-.1 3 1.5 2.6 2.7 1.4M1603.2 866.3l1.5-2.6 2-2.3 1.6-2.6M1584.3 841.5l0 3 0 3 .6 2.9-1.8 2.4M1560.6 792.1l1.6-2.6 2.4-1.8 2.9-.7M1576.8 831.6l-1.3-2.8-2.9-.6" fill="none" stroke="#6B7F3A" stroke-width="1.3" stroke-linecap="round" stroke-linejoin="round" />
<path d="M1506.6 725.9l3.3 5.8 6.3 3.5 1.4 4.4 5 4.3 7.4 7 .6 1.2 2.7 7 5.3 7.4 1.7 2.4 3.6 7 3.6 5.8-1.6 8.5 5.5 3.8-2.5 7.7 3.9 5.3 2.9 7.6 2.1 4.7 3.4 4.5-.3 7-1.3 10.5 10.2-1.2 3.1 2.7 6.1-5.4 10.6 5.5 6.2 .6 5 4.2 5.5 2.9 7.1-2.9 2.9 3.2 5.8 6.1M1589.6 842.9l1.4 2.6 2.6 1.5 3-.2 3-.7M1517.6 739.6l-3 .3-2.9-.8-1.7-2.5M1509.9 731.7l-1.6-2.5-1.2-2.8-2.1-2.1-2.4-1.7M1595.8 843.5l-2.8 1.3-3 .1-2.9-.6-3 .3M1548.9 801.7l-.3 2.9-1.7 2.5-1.6 2.6M1511 747.8l.8 4 8.8 3.2 2.1 5.6 4.4 8.3 .4-1.4 8.4 5.4 3.5 6.1 4.1 4.6 5.5 6.6 .9 7.3 5.1 5.8 3.7 9.6 2.1 4.9 3.9 1 7.9 6.3-1.9 6.3 3.6 7.7 2.6 6.2 4.9 3 4.5 .8 7.6 2 3.3 .8 10.2 2.3 2.6 5.2 7-.4 3.5 5.5 5.1 .2 5.6 1.6 6.9 .9 7.3-3.7 5.6 2M1638.1 867.2l-1.8-2.3-.3-3-1.8-2.5 .6-2.9M1564.7 818.8l-3 .4-2.9-.3M1574.3 839.1l-1.5 2.5-2.4 1.9-2.4 1.7-3 .7M1572.6 825.1l-2.9-.8-2.9-.6-2.9 .9-2.1 2.1M1610 859.4l-2.8-1.2-2.4-1.8-1.9-2.3 .6-2.9M1527.4 731.4l2 4.6 4.7 4.1 6.6 4.1 4.2 7.6 2 8.7 2.1 5.3 3.7 6.2 4.1 6.8 4.3 2.5-1.7 9.7 3 5.6 2.2 4.5 .9 8.4 7.1 .8 7.3 3.4 3.8 5.5-.6 7.5 4.7 9 .4 2.4 6.3 4.6 1.5 7.2 5.4 2.5 5.2-.3 8.2 .3 4 2.5 6.3 2.1 4.3-1.3 7.2 3.1 8.7-3 8.7 .8 4 2.3 6.7-3.1M1559.4 791l1.2 2.7-1.2 2.7 1.2 2.8-1.2 2.7M1614.8 852.4l1.5-2.6-2-2.2-1.9-2.3M1664.7 855.8l-2.6-1.3-2.8-1.2M1561.1 781.3l2.8-1.1 2.9 .5M1588.2 838.1l-2.7 1.1-1.7 2.5-2.3 1.9-2 2.3M1500.2 725.4l1.8 6.8 1.2 4.4 6.3 8.4 4.3 4.7 2.5 1.4 1.6 5.9 5.1 4.5 2.1 11.1 2.2 4.8 1.4 7.9 3.3 7.7 5.2 4.6 4.4 5.4 3.8 4.7 6.7 6.5 1.4 1.8 3.7 5.6 3.9 10.8 3.2 2.4 5 2.8 4 6.3 6.7-2 4.5-.5 5.2 1.7 8.5 .6 8.8 1.8 4.4-.1 5.6 0 4.6 4.3 9.4-1.5 6.1 2.9 6.2 3 7.4-.8M1650.7 853.3l2.5 1.6 2.4 1.8 .1 3-.6 3M1637.1 851.1l-2.8-1-2.8-1.1-2.6-1.4M1503.2 736.6l-2.1 2.2 0 3 1 2.9 1.4 2.6M1537.2 797.6l-2-2.3-1.9-2.3-2.4-1.8M1541.6 803l3 .4 2.1 2.1 2.5 1.6 2.8 1.1M1530.5 697.3l4.2 9.4 8.2 1.7 1.5 6.8 3 5.3 4.8 3.9 10.2 5.2 .5 4.8 2.9 3.2 5.5 8.6 5.5 5.1 1.5 9.4 3 2.8 2.5 9.2 2.8 3.2 6.8 7.8 2.4 1 5.6 5.7 2.7 4.7 3.6 7.1 .4 5.8 2.8 4.5 5.6 8.7-.4 5 9.1 5 7.1 3.6 7.9-5.9 4.6 .7 6.8-4.6 5.6 .9 5.4-7.2 6.6 4.8 4.8-2.8 6.7 0M1608.1 808l2.2-2 1.6-2.6 0-3M1583.8 772.7l2.1 2.1 .3 3 1.4 2.7M1544.4 715.2l2.6 1.5 2.6 1.5 2.7 1.3 2.8 1.1M1530.5 697.3l-1.3 2.7-1.8 2.4-3 .4M1562.9 734.4l-1.4 2.7-2.5 1.7-1.8 2.4 1.1 2.8" fill="none" stroke="#3DCC5E" stroke-width="1.3" stroke-linecap="round" stroke-linejoin="round" />
<path d="M1561.9 765.7l9.5 3.5 3.8 3.8 4.5 4.6 5.2 8.1 5.1 1.4 4.3 4.8 8.3 .8 4.8-.4 8.9 3.3 2.3-1.3 7.1 3.1 8.2-.4 8.3 1.2 5.2 1.8 5.4-1 3.1-.6 7.2 1.2 6.6-2.1 3.8-.7 8 1.3 6.4-2.1 1.9 0 8.3 1.8 8.5-5 3.1-5.8 8.5-3.4 3.7-1.3 5.6-5.2 6.9-2.1 5.5-7.9 2-1.3 .7-7.2 5.1-8.7 2.4-1.7 7.4-5.2-.6-6.2 5.2-4.4 2.7-4.1 1.2-7.4-2.4-7.2 3.5-7.9 1-4.6 1-5.8 .1-6.9 .9-8.5 .6-7-1-5.9M1727.5 777.1l-.6-3-.8-2.8 1.5-2.6M1579.7 777.6l-.9 2.8-.2 3-.2 3-.2 3M1768.1 701.2l2.4 1.8 .7 2.9M1602.6 792.7l-1.3 2.7-2.4 1.7-2.2 2.1-2.2 2M1742.6 758.6l2 2.2 2.3 1.9 1.9 2.3 2.3 2M1766 720.9l.7 2.9-.2 3 0 3M1584.9 785.7l-3-.1-2.7-1.3M1689.8 796l1.7 2.4 2 2.3M1552.7 772.5l7.7 6.3 1.6 2.5 2.9 4.2 5.4 4.2 9.3 .5 4.4 2.9 5.6 6.2 2.9 5.1 6.6-.5 5 .8 4.6-.3 9.1 1 6.9 3.1 4.4-3.5 8.4 1.2 6.5-.2 6.1 3.2 8.7-3.5 2.6-.2 6.2-5.4 8.1-4.7 5.5 .8 5.4-1.1 5.5-1.8 3.6-3.9 8.6-5.1 7.3 .5 1.6-2.2 7.8-4.3 6.3-3.9 6.8-1.4-3.3-7.9 7.4-7.3 3-8.2 .8-3.4 2.5-9 3.2-6 3.8-2.1-1.4-10.2 3.6-4.8 2.3-4.4 2.8-7.5 .5-7.1 2.3-5.2-1.3-10-4.8-4.7-5.1-7.9M1552.7 772.5l-.5 3 .2 3-.3 3 1.2 2.7M1758.8 702.2l-1.9-2.3 .3-3 2.3-1.9M1658.8 805.7l-1.3 2.7 0 3-2 2.2M1727.3 774.4l-2.5-1.6-2.8-1.1-2.9-.8-2.9-.8M1562 781.3l.8-2.9 1.8-2.4M1741.2 749.6l-1.5-2.6-.9-2.9M1711.6 784.8l1.1-2.8 .6-2.9M1692.1 793.3l-.6-2.9 0-3" fill="none" stroke="#6B7F3A" stroke-width="1.3" stroke-linecap="round" stroke-linejoin="round" />
<path d="M1567.6 768.1l10-4.9 2.9 .9 9.5-1.4 8.6 .9 1.2-2.9 6.9 7.7 5.5 2.7 5.4-.8 2.1 5 9.3 2.4 4.6 6.3 3.9-2.9 10.3 3 4.5 .7 8.5 2.8 4.1 5.4 8.2-1.9 5.3 3 5.6 1.6 7.2 4.7 6.4-3.5 6.9-4.7-1.8-4.6 8.4-3.1 .5-5.2 .5-7.4 10.6-4.6 1.2-5.8 4.1-3.6 4.8-2.4 2.2-4.7 7.9-5.6 5.8-4.3 3.1-5.1 8.7-1.4 2.2-9.6 4.6 .7 .7-9.5 5-4.3M1619.7 775.3l-.4 3-1.6 2.6-1.2 2.7-.5 3M1633.6 784l-.8 2.9-2.3 1.8-2.9 1M1617.6 770.3l2.3-1.9 2.5-1.6 2.6-1.4M1723.9 761.5l3-.7 2.9 .7 2 2.2M1723.9 761.5l2.1-2.3 1.6-2.5 3 .3M1773 711.7l2.9 .3 2.9 .8 2.8 1.2M1572.9 787.8l11.9-3.4 6.9 2.2 2.5-6.3 4.1-1.3 7.1 .1 7.7 1.8 4.4 1.6 5.8 4.7 5.9 6.4 3.9-.3 5.5 4.9 6.6 4.3 6.3 0 6.2 3.2 4.1 1.7 9 3.9-.6-.2 9.2 3.7 5.4-3.3 9.8 .5 5 .6 4.4-.5 7.5-.6 4.3-4.5 3.6-3.7 4.6-4 2.8-5.5 5.8-2.8 2.2-5.4 5.7-3.1 6.7-4.6 3.7-6.8 2.3-4.3 5-2.9 2.3-7.9 1.1-8 1.9-1.3 3-5.2 5.1-7.4 6.4-3.2 5.6-2.3 6.3-4.5 4.3-3.2M1719.4 803.3l1.2-2.8-.4-3-.6-2.9M1783.6 728.6l-2.5 1.7-2.9 .8 .4 2.9M1753.2 766.8l-.9-2.9-.5-2.9-1.6-2.6-2.9-.7M1584.8 784.4l.9-2.8 2.2-2M1711.5 811.5l1.2-2.8 .6-2.9 .3-3M1617.5 782.5l-1.1 2.8-1.3 2.7-1.8 2.4M1732.6 791l.2 2.9 .2 3 0 3M1544.4 762.4l4.9 4.6 5.6-2.6 6.8 4 5.4 .2 7.7 .6 4.9 1.7 7.4 2.1 5.7 2.2 5.1 .9 7.9 2.9 3.5 1.1 6.1 3 3.9 5.2 9.5-.4 5.5 1.3 6.2 .2 4.9-.1 7.8-2.7 4.8 3.6 11.9-.3 .5 4.4 8.2 .6 8.3 2.7 6.8-.4 2.3-7.2 2.8-6.1 4.8-3.2 .3-8.8 2.8-3.9 3.4-7.4-1.1-2.3 9.3-7.7 2.5-3.4 6.5-6.8 2.3-5.2 7-5.1 .5-2.5 7.6-3.8 6.3-1.6 4.5-2.1 6.8-2.3 4.9-2.5M1561.7 768.4l2.2 2 1.5 2.6 1.4 2.6M1640.5 789.4l-.6 3-1.4 2.7M1737.1 727.6l-.7-2.9-.2-3-.2-3 .9-2.9M1619.3 788.3l1.5-2.6 1.6-2.6 1.3-2.7 1.9-2.3M1587.1 773l2.9-.5 2.7 1.2 1.9 2.4 2.3 1.9M1709 758.3l-1.8-2.4 .4-2.9 1.3-2.7M1587.1 773l2.9 .8 2.6 1.4" fill="none" stroke="#E383E5" stroke-width="1.3" stroke-linecap="round" stroke-linejoin="round" />
<path d="M1569 795.3l4.7 3.3 9.3 1.2 2.2 5.2 5.6 2.6 4.7 2.9 7.9-2.7 3.1 3.8 7.6 3.8 6.7 3.9 6.2 2.1 3.5-.7 5.1 5.3 6.2-.1 6.2 2.7 5.3-.7 9.3 1.9 2.2-1.1 7.9 4.2 6.5-5.9 5.5 2.4 6.2 1.4 6.2-.8 12.1 .8 2-.4 1.4 1.8 9.9-2.4 5.2-1.8 10.6-2.7 8.1 2.4 4.2-2.8 7.6-3.6 7.1-1.6 3.8 3.6 7.9-6.7 3.5-.7 8.4-1 9-.9 7.8 1.1 1.9-1.2 10.7-4.9 4-.5 5.6 .2 8.7-2.2 3.5 1.2 10.3-4 1.2-7.6 7.3-5.2 .6-6.5-3.7-4.3-1-6.4-1.9-5.8-1.3-7.1M1573.7 798.6l-3-.1-2.8-1.3-2.9-.5-3-.5M1635.6 826l2.7 1.3 1.7 2.5 1.4 2.7M1672.7 832.9l-2.6 1.5-2.6 1.6-2.1 2.1-2.6 1.5M1827.9 808.7l-2.9-.8-2.6-1.5M1635.6 826l-2.9 .4-2.8-1.1-.8-2.9 .7-2.9M1765.3 819.7l-1.4-2.6-2.3-1.9-1.9-2.3-2.3 2M1595.5 810.5l2.8-.8 2.5 1.6 1.1 2.9M1627 821.4l2.7 1.4 2.9 .7 2.3 1.9M1583.6 786.4l4.4-5.3 6.6 1.9 4.2-.9 9.7-4.1 6.5 2.3 5.8-2 7.4-.1 7-1.4 3.7 2.9 4.8 1.8 8.1 2 2.5 .2 5 2.8 9.9 2.8 7.4-1 4.4 3.4 7.4 3.2 4.5-2.4 7.5 3.6 2.2 1.3 7.7 .5 9.5 .5 3.2 1.5 7 .1 8.3 .9 5.5 .2 5.7-.8 4.8 3.9 9.6-2.6 4.7 4.9 3.4 1.6 7.9 2.7 7.5 0 3.6 .4 5.4-2.1 4.9-3.4 7.3-2.3 5.4-2.1 2.2-6.6 7.7-4 5-5.1 5.8 .6 2.4-7.6 3.9-5.5 .4-6.4 5.9-5.8-1.2-1.5 4.8-10.3-5.3-5.7-1.6-5.3-.3-6.1M1669.2 789.3l-2.3 2-2.2 2-3 .6-2.6-1.5M1787.4 810.8l2.3-2 2.7-1.1 1.2-2.8M1583.6 786.4l1.9 2.3 2.8 1.2 1.9 2.3M1841.4 766.7l-2.3-1.8-.5-3 .2-3M1588 781.1l-.4 3 .1 3 .5 2.9 1.5 2.6M1643.7 781.5l1.4-2.6 2.3-1.9M1700.4 796.1l2.7 1.3 3-.1 3 .5 3 .3M1723 799.9l2.1-2.2-.1-3 .5-2.9-.4-3M1578.4 797.2l8.2 1.5 4.1 6.5 6.5 .6 6 1.2 7.9 5.3 2.6 1.3 8.2 2.8 7.9-1.4 7.5 6 2.2 .8 7.7 .4 5.1-2.1 7 1.2 6.9-1 6.3 1.6 3.8 1.2 6.5 1.2 4.5-2.2 9.2 3.9 6.6-4.5 6.7 6.4 5.1-4.5 5.2 1.6 9-.9 2.8-1.7 10.5-1 4.7 1.7 7.7-3.6 7.9-2.8 3.5 2.4 9.1-.1 3-1 6.1-1.2 8.3-4 9.3-.1 2.9-4.4 7.5 .5 4.1-1.6 3.3-2.4 8.1 2.2 10.8-6.6 1.8-4.6 3.7 1.6 8.7-.4 1.2 4.3 2.3 1.6 .6-1.6-2.5-10.6-2.3-4.1 0-6.9-3.7-5.5-.5-8.4-1.3-4.7-2.7-5.3M1578.4 797.2l-2.4 1.9-2.7 1.2M1848.5 774.2l-.8-2.9-1.1-2.8-3 .1M1659.3 821.3l-3 .4-3-.3-2.9 .6M1827.9 807l1.1 2.8 2.3 2M1696.5 826l2.9-.3 3-.7 3 .1 1.9-2.2M1639.5 821.8l.6 3 1.1 2.8 2.8 1M1696.5 826l2.9-.3 3 .1 3 .2 1.9-2.3M1848 765.8l-.3-3-1.1-2.8M1637.3 821l-2.5 1.6-2.5 1.7-3 .6-3 .1" fill="none" stroke="#E383E5" stroke-width="1.3" stroke-linecap="round" stroke-linejoin="round" />
<path d="M1759.2 812.5l1.2-.1 6.3 8.3 4.2 5.4 4.5 4.3 3.5 5.1 4.2 7.8 5.7 2.1 4.3 5.7 2.3 5.9 5.4 2.3 6.9 3.5 6 .1 4.6-.1 7.7-1.9 4.8 2.9 7.5-1.2 7.9 .4 3.2 1.7 7.9 1.4 3.7-2.1 5.6 .2 12.2 1.6-4.8-5.9-2.7-11.8-.1-4.9 .6-2.6-7-7.1 3.2-8.8-3.5-5-7.8-3.1 1.2-5.6M1770.9 826.1l-2.6 1.5-1.9 2.3M1871.2 843.2l2.1-2.1 2.5-1.7M1775.4 830.4l2.7-1.4 1.8 2.3 2.2 2.1M1788.8 845.4l2.3-1.9 2.5-1.6 2.5-1.7M1871.8 840.6l2.8-.8 1.4-2.7 2.5-1.7 2.2-2M1746.6 802.4l4.6 6.1 8.1 2.2 7.7 3.8 3 3.4 7 4.1 2.2 7 1.7 4.9 3.9 5.5 1.8 8 3.5 2.4 7.2 7.8 4.8 7.2 6.8-3.8 4.7 4.1 6 0 7.8 3.2 3.6-5 5.9 2.4 8.8 1.8 6.4 .6 1.9 .9 7.8-1.1 5.2-.2 7.7-2.9 9.7-.7-4-3.8-.4-7.3-.8-10.9-1.5-3-1.2-4.5-3.6-10.3-1.2-1.8-4.4-8.1-5.6-2.4-5.4-5.7M1759.3 810.7l.3 3 .1 3 .7 2.9M1786.6 847.4l2.7 1.3 2.6 1.5M1819.6 865.1l1.5-2.6 1.9-2.3 1.8-2.4 2.4-1.8M1784.8 839.4l.9-2.9 1.5-2.6M1874.7 864.8l2.7-1.2 2.6-1.5 2.7-1.3M1780.9 833.9l3 .6 1.2 2.8-.2 3-1.3 2.7M1763.9 803.3l7.6 3.4 1.3 4.7 5.5 .4 3.2 7.2 3.2 4.1 6.7 1.7 4.9 11.5 1.4 1.6 3.3 .4 4.2 7.2 3 5.7 2.3 5.4 6.6-1.9 10.3 2.2 6.4 3.4 5-.7 7.4 1.2 7.4-.9 6.1 2.5 5.7-5.4 4.9 .9 11.7 2.7 4.5-4.2-2.1-6.6-.6-5.2-.2-7.2-2.8-5.7-2.1-5.8 1-7.2-1.4-8.8-3.5-5-5-2.9-2.1-3.6M1778.3 811.8l3-.3 2.7-1.2M1886.5 856.4l3 .3 2.9 .7 2.9 .9M1791.4 824.8l-1-2.8-2.7-1.4-2.9 .9M1879.7 818.7l.5 2.9 .3 3M1771.5 806.7l-2.4 1.8-2.7 1.1-2.8 1.3-2.9 .6" fill="none" stroke="#E383E5" stroke-width="1.3" stroke-linecap="round" stroke-linejoin="round" />
<path d="M1678.4 785.8l6.1-3.6 5.6-.6 8-5.5 3.9 .7 8-5.6 4.9-5.6 8.7 2 1.1-9.1 3.5-8.5 6.2 .8 7.3-4.8 5.9-2.9 5-3 5.6-.4 3.8 0 10.4-1.8 7 1.5 4.5-.9 7.9-3.9 6.2 1.4 6.3 1.1 5.1-.7 9.2-.6 4 1.1M1791.8 734.6l3 .4 2.8 1.1 3 .4 2.2 2.1M1752.6 740.1l2.7 1.4 2.9-.4 2.7 1.4M1822.6 736.9l-1.6 2.5-2.2 2.1M1734.4 750.8l2.8-.9 3-.5 2.8-.9 .5-3M1669.5 780.4l5.9-3.2 4.5-2.1 2.6-7.1 6-6 7-4.6 .7-4.8 6.2-6.2 6-2.4 1.8-6.2 6.1-1.8 3.5-5.6 4.4-1.3 10-1.1 3.1 1.6 8.1-1.3 3.9-3.8 7 .2 7.4 1.1 5.2-4.4 9-2.7 6.8-3 9.4-.5 2.9 0 8.9-.1 7.7 .4 3.7 .5 6.7 .6M1763.7 725.8l-2.7 1.3-3 .1M1745.4 728.3l-.7 2.9-1.3 2.8M1679.9 775.1l-2.9-.8-2.3-1.9-2.8-1.1M1763.7 725.8l1.3 2.6 1.9 2.4" fill="none" stroke="#E383E5" stroke-width="1.3" stroke-linecap="round" stroke-linejoin="round" />
<path d="M1667.4 782.2l.3 5.2 1.6 6.1-2.8 2.8 3.5 12.2 5.3 3.3 5.8 4.9 2.8 6.1 3.2 5.8 6 2.8 6.2 1.8 6.6-.5M1681.1 816.7l2.2 2 2 2.2 2.8 1M1669.3 793.5l-.9 2.9-.9 2.8-2.3 1.9M1670.3 775.8l3.2 2.8 7 1.8 4.4 3 7.9 2.5 5.9 8.1 1.1 1-1.9 8.6 3.4 3.4 6.1 2.7 4.9 5.3 7.6 8 2.4-1.4 5.4 4.9M1680.5 780.4l-2.9-.7-3-.1-2.7 1.2M1707.4 809.7l-.7 2.9-.9 2.8M1646.7 819.1l2.6 8.4 9.8 6.8 4.9 5.3 .6 6.7 6.6 6.3 5.9 2 8 3.4 8.2-2.3 9.5-1.8M1702.8 853.9l.9-2.9 1.8-2.4 1.8-2.4" fill="none" stroke="#3DCC5E" stroke-width="1.3" stroke-linecap="round" stroke-linejoin="round" />
<path d="M1687.5 759.5l7.9 .8 3.8-1.9 6.3-1.8 3.3-4.5-1.7-3.8 1.3 3.5 6 9.1 1.8 6.2 1.8 7.8 1.8 6.9 4.7 3.4 3.3 6.8-9.3 2.3-7.1 6.8M1714.4 760.9l-3-.4-2.9-.8-1.3-2.7M1699.2 758.4l2.4-1.7 2.9-.9M1706.4 767.6l-2.2-8.2 0-2.6 4.1-7.3 3-5.5 2.8-4.7 4.1 4.6 .2 6.5 .7 9.2 0 .9 2.3 11 5.5 6-.9 4.4 7 4.5-5 7.2 4.1 11 1.8 6M1726.9 777.5l-2.1 2.2-2.5 1.7-.8 2.9 1.4 2.6M1706.4 767.6l-2.8 1-3 .2-3 .1" fill="none" stroke="#3DCC5E" stroke-width="1.3" stroke-linecap="round" stroke-linejoin="round" />
<path d="M1769.9 799.7l6.5-.7 5.5-1.7 6-.4 8.7-5.5 5.6-6.9 3.1-1.4 5.1-8.3 1.3-1.9 4.4-7.4 .1-9.4 1.7-4.5-.5-8.3 .9-4.5 4.5-11-1.7-5-5.2 .6-6.9-6.1M1816.1 765.5l-2.5 1.6-2.6 1.5-2.3 1.9M1815.9 723.4l-2.6-1.4-2.6-1.6-2.6-1.5M1811.7 772.9l2.6 1.4 3-.7M1745 811.6l6.2-.8 5.8-7.8 7.2-4.2 4.2-2.8 2.3-2.5 10-5 7.5-3.7 5.5-3 7.1-5.4 2.2-3.8 6.8-6-6.4-5.3-4.2-4.8-2.8-6.9 .1-7.5-.3-7.5M1745 811.6l1.1-2.8 1-2.8 .8-2.9M1796.4 749.6l1.3-2.7 .6-2.9 .1-3M1752.1 822.9l5.7-4.9 5.1-1.8 2.4-.5 10.6-2.3 6.5-3.9 5-4.1 4.2 .5 6.8-3.3 6.3-1.4 .1-6.3 1.1-9.5 1.9-4.2 8.4-4.8 4.5-6.7 6.3-7 1.4-2.9-3.4-10.6 6.1-5.9-3.1-4.3-.3-7.8M1807.8 781.2l-2.9-.3-2.9-1-2.8 1.1M1791.6 805.9l-.6-2.9 1-2.9-.8-2.9 2.3-2M1825 749.2l-2.9 .7-2.9-.9-2.9-.7" fill="none" stroke="#6B7F3A" stroke-width="1.3" stroke-linecap="round" stroke-linejoin="round" />
<path d="M1539.3 742.2l.8-2.4-1.7-1.8-.5-2.4M1530.5 746.6l2.4-.4 2.1-1.4 2.1-1.4 2.2-1.2 1.1-2.2 .6-2.5 2.3-.8 2.5-.5 1.8-1.8 2.1-1.3M1530.5 746.6l1-2.3 2.5-.1 2.3-.9 2.2-1.2 1.3-2.1 .6-2.4 2.3-1M1530.5 746.6l-1.7 1.8-2.4 .9-2.4-.4-1.8-1.9-2.1-1.3-1.7-1.9-1.4-2-1-2.3 .3-2.5M1530.5 746.6l-2.1 1.3-1.9 1.7-.7 2.4 .1 2.5-1.8 1.7-2.5 .3-2.5 0-2.3-1.1-.8-2.4-1.5-2M1534.7 748.8l2.5-.6 2.3 .8 1.9-1.6 1.7-1.8 .7-2.4M1530.5 746.6l1.7 1.7 2.5 .5 2.3-1 2.1-1.4 2.4-.8 2.2 1.1 2.2 1.1 2.4-.7 1.9-1.6 .5-2.5M1530.5 746.6l2.4-.5 2.5-.1 2.5-.2 2.5-.1 2.2-1.3 2.5 .5 2.4-.3M1530.5 746.6l2.3-1 2.5-.1 2.5 .3 2 1.4 1.5 2.1 2.4 .6 2.5 .1 1.7 1.8 2.2 1.2M1523.2 735.8l-2-1.5-1.1-2.2M1530.5 746.6l1.3-2.1 1-2.4-1.5-2-1.1-2.2-2.2-1.1-2.5 .1-2.3-1.1-2.4-.8-2.5 .1-2.2 1.1M1530.5 746.6l-1.7-1.9-.5-2.5 .3-2.5-1.8-1.7-1.3-2.2 1-2.3M1530.5 746.6l2.5 0 2.3 1 2.3 .8 2.5 .5 1.1-2.3 1.1-2.2" fill="none" stroke="#3DCC5E" stroke-width="1.3" stroke-linecap="round" stroke-linejoin="round" />
<path d="M1524.9 750l2.2 1.1 2.4-.6M1530.5 743.3l-2.4 .9-2.1 1.3-1.5 2 .4 2.5 2.1 1.2 1.9 1.6 2.1 1.5 2.5 0M1530.5 743.3l1.9-1.5 2.5-.2 2.5-.5 1.6-1.9 2.2-1.2 1.3-2.1-.2-2.5 .6-2.5-1.1-2.2-1.1-2.3M1530.5 743.3l2.2-1.1 2.3 1 2.3 .8 2.4 .8 2.5-.5 2.4 .3M1530.5 743.3l2.4 .8 2.4-.3 2.4 .9 2.4-.7 2.5-.1 2.5 .3 2.4-.5 2.5-.5 2.4-.6M1533 743.6l2.4-.6 2.5-.4 1.6-1.9 2-1.4M1530.5 743.3l2.5 .3 2.3-.9 2.3-1 2.4-.7 2.5-.3 2.2 1 1.5 2.1 1.3 2.1 1 2.3M1530.5 743.3l1.3 2.1 1.2 2.2 2.3 .8 2.5-.6 2.4-.2 2.3 1.1 1.8 1.7 2.4 .5 2.3 1 .7 2.4M1530.5 743.3l-1.3-2.2 .9-2.3-.2-2.5 1.3-2.1 1.1-2.2 1.6-2 2.3-.8M1530.5 743.3l.1 2.5 1.7 1.8 .5 2.5 2.1 1.3 1.3 2.1-1.4 2.1-1.4 2.1-2 1.4-2.3 1.1M1533.4 754.4l2.5 .1 2.3 .8M1530.5 743.3l-.8 2.4 .3 2.5 1.4 2.1 .1 2.5 1.9 1.6 1.2 2.2 1.4 2.1 1.2 2.1 2.2 1.3M1530.5 743.3l-2.3 1.1-2.4-.5-2.3-1.1-2.3-.9-2.2-1.2-.9-2.3 .5-2.5" fill="none" stroke="#6B7F3A" stroke-width="1.3" stroke-linecap="round" stroke-linejoin="round" />
<path d="M1559.8 766.1l.9 2.4 2.2 1.3 1.7 1.7M1559.7 768.6l-.3 2.5 0 2.5M1559.8 766.1l-.1 2.5 .9 2.4-.6 2.4-.7 2.4M1559.8 766.1l1.6-1.9 .2-2.5 0-2.5 1.7-1.8M1559.8 766.1l-1.8-1.7-2.1-1.4-2.1-1.3-2.3-1.1M1559.8 766.1l-.1-2.5 1.4-2.1 2.2-1.2M1559.8 766.1l-.2 2.5-2 1.4-2.4 .7-1.5 2.1M1559.8 766.1l1.8-1.7 1.6-1.9-.3-2.5-1.7-1.8M1559.8 766.1l-1-2.3-2-1.4-2.5-.5-1.7-1.8M1559.8 766.1l2.5 .6 1.7-1.9 2.5-.2M1559.8 766.1l-.1 2.5 0 2.5 .3 2.5M1559.8 766.1l1.8 1.8 .6 2.5 1.8 1.7 .5 2.4M1559.8 766.1l-2.4-.4-2.5 .3-2.5-.5-2.4 .4" fill="none" stroke="#E383E5" stroke-width="1.3" stroke-linecap="round" stroke-linejoin="round" />
<path d="M1619.9 755.2l1.1-2.2 1.6-1.9M1628.3 753.1l-2.4 .4-2.2 1.3-1.7 1.8-2.1-1.4-2.2-1.2-1.1-2.2-2.2-1.2M1628.3 753.1l-2.5-.2-2.5 .2-2.4 .7-2.4-.7-2.5 .3M1628.3 753.1l-.3-2.5-1.2-2.2-2.4-.6-1.4-2.1-.4-2.4-2-1.5-2.4-.7M1628.3 753.1l2.4-.7 2.5 0 2.5-.1 1.9-1.6 1.7-1.9 1.1-2.2 2.3-1M1628.3 753.1l-2.4-.5-2.5 0-2-1.6-2.4-.7 .1-2.5 2-1.6M1628.3 753.1l.3 2.5 .5 2.4 .2 2.5 .9 2.4-.7 2.4-1.6 1.8M1628.3 753.1l-1.4 2-2.1 1.4-1.7 1.9-1.6 1.9-2.2 1.1M1628.3 753.1l1.2-2.2 1.9-1.7 1.9-1.6 1-2.3-.1-2.5-.3-2.5 .3-2.5" fill="none" stroke="#E383E5" stroke-width="1.3" stroke-linecap="round" stroke-linejoin="round" />
<path d="M1660.9 815.1l1.3-2.2 .1-2.5-.5-2.4-.1-2.5-.8-2.4-1.5-2M1660.9 815.1l-1.6 1.8-2.3-1.1-2.4-.6-2.5-.4-2.4 .5-2-1.5M1660.9 815.1l1.5 2 1.5 2 2.4 .5 2.4 .6 2.5-.6 2.4-.3M1660.9 815.1l-.3 2.4 .5 2.5 1.8 1.8 1.9-1.6 2.4 .8 2.5-.5M1660.9 815.1l2.1 1.3 .8 2.4 .2 2.5-.1 2.5M1660.9 815.1l-2.4-.5-2.5-.2-2.3 .9-2.3-1-2.4-.8-2.4 .8M1660.9 815.1l-2.4 .3-2.4-.8-2.5 .2-2.4 .6-2.5 .1M1660.9 815.1l-2.2-1.1-1.5 2-.8 2.4-.2 2.5 1.3 2.2 1.6 1.9M1660.9 815.1l1.3-2.2 2.2-1.2 1.6-2 1-2.2M1660.9 815.1l-1.6 1.9-1.9 1.5-2 1.5-2.5 .6" fill="none" stroke="#E383E5" stroke-width="1.3" stroke-linecap="round" stroke-linejoin="round" />
<path d="M1722.9 753.1l-.9-2.3-1-2.3-2-1.6-1.1-2.2 .6-2.5M1722.9 753.1l1.4-2.1 2.3-.8 2.5 .6 2.3-.8 2.3-1.1 2.3-.8M1722.9 753.1l-1.1 2.2-1 2.3-.4 2.5-.7 2.4M1722.9 753.1l-.8-2.4 .5-2.5 .5-2.4 1.5-2 2.3-1M1722.9 753.1l-.2-2.5-1.3-2.1-.9-2.4-.3-2.5-1.8-1.7M1722.9 753.1l2-1.6 2.4-.7 2.3-.9 2.4 .7 1.4 2.1 1 2.3M1722.9 753.1l2.4 .7 2.5 .5 2.4-.4 2.5-.5 1.7-1.8 1.4-2.1 .4-2.5M1722.9 753.1l-1.4 2.1 1.1 2.2 .8 2.4-.1 2.5-.1 2.5" fill="none" stroke="#E383E5" stroke-width="1.3" stroke-linecap="round" stroke-linejoin="round" />
<path d="M1758.8 844.4l2.1-1.3 2.2-1.2 2.4-.8 2 1.5 2.4-.1M1757.1 846.3l-1.9 1.5-2.3 1-2.2-1.3M1758.8 844.4l-1.7 1.9-1.7 1.8-1.1 2.2 .8 2.4 .4 2.4M1758.8 844.4l2.2 1.3 2.4-.4 2.5-.6 2-1.4 2.3-1.1M1758.8 844.4l1.7-1.8 2.4-.7 1.7-1.9M1758.8 844.4l-1.6-1.9-.7-2.4 1.8-1.8M1758.8 844.4l1.6-1.9 1.2-2.2 2.4 .9 2.2 1.1 2.5-.2M1758.8 844.4l-1.7 1.8-2.1 1.4-1.1 2.2 0 2.5-.3 2.5M1758.8 844.4l-.3-2.5 0-2.5-1.9-1.6-2.4 .7-2.1 1.5" fill="none" stroke="#E383E5" stroke-width="1.3" stroke-linecap="round" stroke-linejoin="round" />
<path d="M1824 736.8l-1-2.3-1.8-1.7-2.2-1.2-2.4-.8-.5-2.4M1824 736.8l1.3-2.2 2-1.4 1.9-1.7 .3-2.5M1824 736.8l.9 2.3 1.2 2.2 1.9 1.6 2.2 1.3M1824 736.8l-1 2.2-.3 2.5-2.2 1.2M1822.8 732l-1.6-1.9-1.7-1.9M1824 736.8l-.3-2.5-.9-2.3-.9-2.4-2.1-1.3-2.3-.9M1824 736.8l-.9-2.3-2.2-1.3-1.9-1.5-2.4-.7-2-1.5-1.3-2.2" fill="none" stroke="#E383E5" stroke-width="1.3" stroke-linecap="round" stroke-linejoin="round" />
<path d="M1491.3 707.4 C1493.5 703.6 1500 702.5 1507.6 704.2 C1515.2 705.8 1528.8 711.8 1537 717.2 C1545.1 722.6 1551.1 729.7 1556.6 736.8 C1562 743.8 1566.9 753.6 1569.6 759.6 C1572.3 765.6 1574.5 769.7 1572.9 772.7 C1571.2 775.7 1564.7 778.1 1559.8 777.6 C1554.9 777 1549.5 772.9 1543.5 769.4 C1537.5 765.9 1529.9 760.7 1523.9 756.4 C1518 752 1512.5 748.2 1507.6 743.3 C1502.7 738.4 1497.3 733 1494.6 727 C1491.9 721 1489.2 711.2 1491.3 707.4 Z" fill="none" stroke="#111" stroke-width="1.8" stroke-dasharray="5 4"/>
<path d="M1546.8 782.4 C1548.7 778.6 1551.7 776.5 1556.6 775.9 C1561.5 775.4 1569.6 776.5 1576.1 779.2 C1582.7 781.9 1590.8 786.8 1595.7 792.2 C1600.6 797.7 1603.6 805.3 1605.5 811.8 C1607.4 818.3 1608.2 825.9 1607.1 831.4 C1606 836.8 1602.5 841.4 1599 844.4 C1595.4 847.4 1590.8 848.8 1585.9 849.3 C1581 849.9 1574.5 849.6 1569.6 847.7 C1564.7 845.8 1560.4 842.8 1556.6 837.9 C1552.8 833 1548.7 824.8 1546.8 818.3 C1544.9 811.8 1545.1 804.7 1545.1 798.8 C1545.1 792.8 1544.9 786.3 1546.8 782.4 Z" fill="none" stroke="#111" stroke-width="1.8" stroke-dasharray="5 4"/>
<path d="M1780 850.9 C1779.5 846.3 1778.1 846.1 1781.6 837.9 C1785.2 829.7 1794.7 813.4 1801.2 802 C1807.7 790.6 1815.3 777.6 1820.8 769.4 C1826.2 761.2 1827.8 757.4 1833.8 753.1 C1839.8 748.7 1852.3 743.8 1856.7 743.3 C1861 742.8 1859.9 747.7 1859.9 749.8 C1859.9 752 1854.5 753.6 1856.7 756.4 C1858.8 759.1 1865.9 762.9 1873 766.1 C1880 769.4 1891.4 772.7 1899.1 775.9 C1906.7 779.2 1915.1 778.6 1918.6 785.7 C1922.2 792.8 1919.7 807.5 1920.3 818.3 C1920.8 829.2 1922.2 841.7 1921.9 850.9 C1921.6 860.2 1920.8 868.9 1918.6 873.8 C1916.5 878.7 1919.2 879.8 1908.8 880.3 C1898.5 880.8 1870.8 878.7 1856.7 877 C1842.5 875.4 1833.8 872.1 1824 870.5 C1814.2 868.9 1804.5 868.1 1797.9 867.3 C1791.4 866.4 1787.9 868.3 1784.9 865.6 C1781.9 862.9 1780.5 855.6 1780 850.9 Z" fill="none" stroke="#111" stroke-width="1.8" stroke-dasharray="5 4"/>
<text x="1470.1" y="643.8" font-size="15.5">Axon projection pattern</text>
<text x="1502" y="700.2" font-size="15.3">AI/ORBl/ORBvl</text>
<text x="1553.3" y="820.6" font-size="15.5">ACB</text>
<text x="1871.3" y="826.5" font-size="15.5">MY</text>
<text x="35" y="1038" font-size="38" font-weight="bold">e</text>
<text x="141.8" y="1038" font-size="32.7">Spatial gradient of L5 PT dendrite subtypes in AI/ORBl/ORBvl</text>
<line x1="243.9" y1="1067.1" x2="500" y2="1067.1" stroke="#000" stroke-width="2" />
<path d="M487.8 1057 L510.7 1067.1 L487.8 1078 L492 1067.1 Z" fill="#222" />
<path d="M338.5 1199.6 L332.3 1211.8 L332.3 1242.5 L344.6 1270.1 L363 1300.7 L384.4 1328.3 L405.9 1349.8 L430.4 1371.2 L448.8 1386.6 L464.2 1405 L476.4 1423.3 L479.5 1447.9 L481 1500 L500.9 1502.4 L530.1 1498.5 L562.3 1489.3 L605.2 1480.1 L608.2 1432.5 L606.7 1386.6 L608.2 1340.6 L603.6 1294.6 L611.3 1251.7 L619 1227.1 L619 1196.5 L611.3 1181.2 L596 1156.6 L568.4 1122.9 L548.5 1096.9 L519.3 1092.3 L482.5 1091.6 L436.6 1095.3 L418.2 1102.1 L433.5 1179.6 L418.2 1181.2 L399.8 1185.8 L363 1191 Z" fill="#fff" stroke="#111" stroke-width="1.6" />
<path d="M140.7 1239.4 L191.3 1202.6 L231.2 1178.1 L268 1156.6 L313.9 1135.2 L359.9 1113.7 L418.2 1102.1 L413.6 1119.9 L419.7 1144.4 L427.4 1165.8 L433.5 1179.6 L418.2 1181.2 L399.8 1185.8 L363 1191 L338.5 1199.6 L277.1 1218 L240.4 1236.3 L191.3 1260.9 L146.9 1283.9 L140.7 1257.2 Z" fill="#E6E6E6" stroke="#111" stroke-width="1.6" />
<path d="M418.2 1102.1 L436.6 1095.3 L482.5 1091.6 L519.3 1092.3 L548.5 1096.9 L568.4 1122.9 L596 1156.6 L574.5 1153.6 L556.1 1150.5 L540.8 1148.1 L528.5 1156.6 L522.4 1162.8 L510.1 1168.9 L485.6 1176.6 L467.2 1178.1 L448.8 1177.5 L433.5 1179.6 L427.4 1165.8 L419.7 1144.4 L413.6 1119.9 Z" fill="#E6E6E6" stroke="#111" stroke-width="1.6" />
<path d="M424.3 1182.7 C426.3 1181.7 436.6 1178.1 439.6 1177.5 C442.7 1176.9 451 1176.6 455 1176.6 C458.9 1176.6 475.2 1177.9 479.5 1177.5 C483.8 1177 493.3 1173.4 497.9 1172 C502.5 1170.6 521.3 1164.5 525.5 1163.4 C529.6 1162.2 537.9 1159.6 539.3 1160.3 C540.6 1161 540.3 1168.2 539.3 1170.4 C538.2 1172.7 531.1 1180.4 528.5 1182.7 C525.9 1185 517.2 1191 513.2 1193.4 C509.2 1195.9 491.9 1205.1 488.7 1207.2 C485.5 1209.3 487.4 1213.6 481 1214.3 C474.6 1215 430.7 1215 424.3 1214.3 C417.9 1213.6 417.6 1209 416.6 1207.2 C415.7 1205.4 414.8 1198.5 415.1 1196.5 C415.4 1194.5 418.8 1188.7 419.7 1187.3 C420.6 1185.9 422.3 1183.7 424.3 1182.7 Z" fill="#fff" stroke="#111" stroke-width="1.6" />
<path d="M140.7 1257.2 L191.3 1230.2 L231.2 1205.7 L277.1 1184.2 L320.1 1165.8 L363 1153.6 L418.2 1136.7" fill="none" stroke="#111" stroke-width="1.6" />
<path d="M548.5 1096.9 L513.2 1107.6 L494.8 1122.9 L485.6 1141.3 L482.5 1159.7 L484.1 1176.6" fill="none" stroke="#111" stroke-width="1.6" />
<path d="M539.3 1160.3 L546.9 1172 L556.1 1193.4 L565.3 1214.9 L571.4 1227.1" fill="none" stroke="#111" stroke-width="1.6" />
<path d="M571.4 1227.1 L619 1196.5" fill="none" stroke="#111" stroke-width="1.6" />
<path d="M482.5 1214.3 L497.9 1224.1 L516.3 1233.3 L530.1 1234.8 L540.8 1233.3 L553.1 1251.7 L565.3 1276.2 L571.4 1303.8" fill="none" stroke="#111" stroke-width="1.6" />
<path d="M530.1 1234.8 L534.7 1263.9 L540.8 1300.7 L545.4 1340.6 L546.9 1386.6 L546.9 1429.5 L534.7 1454 L530.1 1498.5" fill="none" stroke="#111" stroke-width="1.6" />
<path d="M571.4 1227.1 L574.5 1251.7 L571.4 1276.2 L571.4 1303.8 L571.4 1386.6 L571.4 1417.2 L565.3 1447.9 L562.3 1489.3" fill="none" stroke="#111" stroke-width="1.6" />
<path d="M571.4 1303.8 L589.8 1279.3 L611.3 1251.7" fill="none" stroke="#111" stroke-width="1.6" />
<path d="M313.5 1145.3h0m-131.6 71.2h0m341.2-81.8h0m13.4-1.5h0m41 1.7h0m-144.2 4.4h0m109.7-8.4h0m.9-12.3h0m14.9 342.1h0m7.3-3h0m25.3-13.7h0m-31.6-100.7h0m12.9-32.6h0m-11.9 24.6h0m-18.5-24.9h0m37.2 69.3h0m-49.1-38.8h0m-22.8 22.6h0m-8.4 33.9h0m7.3 45.9h0m30.9-45.8h0m-21.4-152.9h0" stroke="#E4B4EE" stroke-width="8.8" stroke-linecap="round" fill="none" />
<path d="M212.9 1200.9h0m20.3-11.3h0m141-24.3h0m-183.2 78.6h0m144.6-65.3h0m-4.5-36.7h0m-54.1 29.3h0m91.6 8.6h0m85.7-77.9h0m105.4 350.5h0m28.2-107.9h0m1.4 15.6h0m-28.7 77h0m16.3 2.2h0m-9.6 11.6h0m22.3-118.9h0m-11.3 110h0m-25.8-17.9h0m19.1-62h0m-.2 45.6h0m29.3-104.3h0m-102.8 125.2h0m29.9-27.1h0m.1-120.7h0m.2 64.5h0m-18.2 8h0m9.8 34h0m-5.2 27.5h0m9-50.8h0m-136.6-81.8h0" stroke="#A9D8EA" stroke-width="8.8" stroke-linecap="round" fill="none" />
<path d="M181.4 1214.3h0m157.8-50.8h0m77.3 1.2h0m-116.2-5.8h0m-26.2 19.8h0m-89.7 76.9h0m139.9-62.8h0m-77.2 37.3h0m45.3-31.8h0m36.4-29.1h0m-78 11.3h0m35.2-2.9h0m-61.4 11.2h0m98.1-6.1h0m46.9-36h0m-140.8 52.4h0m115.3-18.3h0m-42.6 11.7h0m-146.5 62.7h0m194.3-128.7h0m107-2.2h0m65.4 17.8h0m-39.4 4.5h0m8-27.3h0m2.5 11.2h0m23.4-7.4h0m-32.8 10.4h0m-4.9 9.2h0m-34.4 4.6h0m155.9 126.6h0m-37.6 19.2h0m-12.8 2.4h0m56.9-50.2h0m-71.8 21.3h0m61.2-13.3h0m-30.1 28h0m-14.2-44.5h0m40.7 5.5h0m-17.4 241.7h0m2-140.4h0m22.8 5.9h0m-2.8-29.1h0m-3.3 100.9h0m-4.2-106h0m-38.1-7.8h0m13.6 74.9h0m34.7 66.6h0m2.7 7.9h0m-58.2-20.2h0m28.2-50.7h0m-24.4-37.2h0m12 79.3h0m34.9-22.6h0m-12.8 8.8h0m-15.5-94.1h0m30.5 34h0m-28.5-28.1h0m19.6 110.1h0m-31.6-107.9h0m34.4 9.3h0m-96.2 .9h0m4.4-14.9h0m-1.9-55.9h0m20.4 18h0m-19.9 .1h0m25.6 81.8h0m-2.5 24.5h0m-37.7 11.7h0m39.5-98.7h0m-11-4.1h0m32.2 73.2h0m-31.8 11.3h0m-31.3 21.2h0m18.2-58.5h0m-9.1 98.6h0m7.7-26.8h0m-87.1-156.7h0m-15.6-45.3h0m79.7 48.8h0m-71.4-48.4h0m43.2 111.4h0" stroke="#EE82EE" stroke-width="8.8" stroke-linecap="round" fill="none" />
<path d="M404.5 1122.7h0m-2.1 33.7h0m-256.4 88.9h0m262.9-137.3h0m-37.5 13.5h0m-90.4 33.5h0m-66.9 69.2h0m-39.7 29h0m52.2-40.6h0m1-14.2h0m290.9-41.4h0m46.7-8.3h0m-114.7-53.6h0m67.9 35.5h0m-81.1-7.5h0m8.8 26h0m97.9-24.5h0m51.9 151.7h0m16.6-69.2h0m-41.4 29.4h0m1.8 35.7h0m-7.6 18.5h0m1.4-63.3h0m46.8-15.7h0m-50.8 54.2h0m-18.2 32h0m31.9 94.1h0m-6.4-74.1h0m33.4 142.7h0m-22.2-121.4h0m16.9 89.6h0m-12.2-47.9h0m-43.4 45h0m14.8-113.6h0m39.2-6.4h0m-46.8 81.1h0m50.9-14.2h0m-7.7 50.1h0m5.6 23.3h0m-82.8-124.8h0m-13.3 131.9h0m-12.8-112.9h0m-3.8-4.5h0m9.6-65.5h0m.8 168.7h0m-1.6-95.4h0m-84-109.5h0" stroke="#B22AA6" stroke-width="8.8" stroke-linecap="round" fill="none" />
<path d="M392.4 1108.7h0m-208.1 118.7h0m158.7-71.9h0m-102.9 52.2h0m75.1-3.1h0m150.7-92.3h0m-10.3-13.8h0m129.5 50h0m-138.8-12.1h0m11.9-37.3h0m13.2 73.1h0m-38.9-8.9h0m-12.9-20.9h0m149 3.6h0m-128.9 18.8h0m106.7-36.5h0m.1-31.2h0m24.5 205.1h0m26.1-59h0m13.6-5h0m-42.3 38.1h0m-8.7-25.2h0m-7.4-.1h0m32.4 36.6h0m12.2-76.1h0m-11.2 202.7h0m5.4 30.6h0m-24.6-64.5h0m-13.3-28.3h0m6.2 109.3h0m-2.4-115.2h0m30.6 127.7h0m-66.5-43.9h0m-11-73.1h0m15.6 96.8h0m4-143.6h0" stroke="#7A2C48" stroke-width="8.8" stroke-linecap="round" fill="none" />
<path d="M364.9 1131.1h0m-217.5 107.3h0m25-.3h0m208-59.8h0m-126.8-5h0m130.1-59.2h0m-198 94.5h0m255.4-61.4h0m51.5 19.4h0m-4.2-71h0m23.6 38.9h0m-86.8 24.3h0m57-66.3h0m39.6 58.9h0m-64.6 26h0m-23.8-25.1h0m21.1-55.1h0m-35.4 4.6h0m142.7 145.6h0m-8.5 51.7h0m28-5.5h0m-6.7 7.6h0m-19.6-54.7h0m37.6 16.8h0m-58.1-15.8h0m31.8 16.8h0m42.3-6.9h0m-56.5 7.8h0m-.7 164.7h0m30.5 12.1h0m-14.8-87.8h0m-4.2 56.6h0m31.1 3.3h0m-27.4-61.1h0m-201.5-91.7h0" stroke="#2424EE" stroke-width="8.8" stroke-linecap="round" fill="none" />
<path d="M386.2 1125.8h0m-112.7 65h0m84.9-67.2h0m166.5 4.5h0m2.2-32.6h0m-44.4 2.5h0m67.8 39.1h0m-121.4 13.3h0m48.1-24.8h0m8.5-25.4h0m15.6 58.3h0m-9.5-25.9h0m-7.9 36.5h0m-24-53h0m-16.6-6.8h0m34.1-9.4h0m-54 13.2h0m64.5 5.5h0m-53.2 .5h0m35.9-16h0m48.2 10.1h0m22.6-17.3h0m-75.7 28.6h0m-28.4-27.1h0m-6.3 40.9h0m-10.5-31.7h0m44.9-8.1h0m-1.7 56.2h0m59.9-46.9h0m-23.1-7.3h0m-58.4-.7h0m172.2 110.5h0m-21.7 20.1h0m11.3 23.3h0m-41 43.2h0m-2.7-12.8h0m36.4-46.9h0m-.8 55.3h0m-41.8-23.5h0m-10.4-21.7h0m18.1 33.1h0m-11.8-21.6h0m27.1 17h0m-5.7-2.7h0m11.5 9.1h0m-20-46.6h0m-19.5 61.1h0m34.3-10.7h0m-30.6-39.1h0m-10.7-11.7h0m78.2-8.2h0m-16.3 49.8h0m-13.8-51.6h0m-11.9 65.2h0m-24.3 8.1h0m-14-27.6h0m5 7.3h0m73.5-57.2h0m-33.2 73.6h0m28.7-42.3h0m-31.4-7.1h0m12.1 167.1h0m-42.2-85.1h0m2 103.4h0m-7.4 4.3h0m24.4 49.8h0m-17.2-93.8h0m19.2 37.3h0m-12.4 30h0m39.8-43.4h0m-51.4-77.3h0m50.7 28.3h0m-15.8-.7h0m-30.8 12.3h0m52.3-67.3h0m-21.4 89h0m-20.1 27.4h0m40.9-8h0m1-67.1h0m-39.5 127.2h0m17.4-69.1h0m-10.6 28h0m-10.9-15.1h0m11.5-72.1h0m-7.8 63.4h0m-4.4-16.7h0m2.6-54.2h0m31.7 1.4h0m-34.6-36.9h0m30.4 82.9h0m-101.5-20.8h0m2.2 17.3h0m39.3 9.7h0m-15.2-42.7h0" stroke="#3DDC68" stroke-width="8.8" stroke-linecap="round" fill="none" />
<path d="M438.1 1129.6h0m23.5 10.6h0m-25.3 3.7h0m137.2-10h0m-134.4 12.7h0m2.7-41h0m-6.7 44.9h0m35.3-17.7h0m15.6-35.9h0m24.5 2.2h0m-15 65.3h0m-33.1-1.3h0m-.9-12h0m125.2-5.6h0m-94.9-22h0m-38.9-7.5h0m4.7 6.6h0m-7.7 39.2h0m70.7-53.9h0m-49.2-13.9h0m40.1 67.9h0m36.8-16.5h0m-63-53.5h0m94.3 53.7h0m-127.2-27.1h0m112 137.7h0m-25.4 5.6h0m71.2-22.4h0m-30.5-9h0m-28.9 16.9h0m-2.8 53.8h0m15.4-20.4h0m2.6-52.9h0m19.7 10.8h0m-22.6 57.3h0m39.1-31.1h0m-30 6.4h0m-20.5-29.1h0m.1 152.7h0m11.7 23.2h0m5.7-37.1h0m-1.4 34.3h0m13-25.5h0m8.7 39.9h0m-5.7 13.5h0m-1.6-20.4h0m9.7-40.3h0m-23-68.7h0m-23.8 127.9h0m39.4-47.7h0m10 21.3h0m-14.6-98.9h0m21.2 54.3h0" stroke="#76923C" stroke-width="8.8" stroke-linecap="round" fill="none" />
<path d="M481.8 1096.6h0m97.8 43.9h0m-133.3 13.9h0m-5.2 21h0m15.3-54.4h0m42.9 48.9h0m-18.4 4.3h0m-37.5-61.4h0m25.3 3.6h0m53.3 32.1h0m-50.3 18h0m117.6 84.7h0m20.6-12.2h0m-11.9 4.6h0m-27 16.6h0m20.9 37.1h0m-17.9-.5h0m-26.9 8.2h0m16.8 21.9h0m-1.2 120.3h0m-27.3-42.8h0m-37.7-42.4h0m11.9 9.5h0m-8.4 21.6h0m23.5-75.3h0m-32 56.7h0m-10.3 37.5h0m4.4-66.9h0m27.1 41.6h0m-2.7-40h0m-129.5-108.9h0m68.6 55h0" stroke="#3D4D0C" stroke-width="8.8" stroke-linecap="round" fill="none" />
<text x="256.3" y="1172.6" font-size="19" transform="rotate(-22 256.3 1172.6)">AIv</text>
<text x="271.6" y="1205.1" font-size="19" transform="rotate(-22 271.6 1205.1)">AId</text>
<text x="433.5" y="1137.6" font-size="20">ORBl</text>
<text x="510.1" y="1140.7" font-size="20">ORBvl</text>
<text x="459.6" y="1199.6" font-size="20">FRP</text>
<text x="554.6" y="1187.9" font-size="20">ORBm</text>
<text x="540.8" y="1232.7" font-size="20">PL</text>
<text x="588.9" y="1240" font-size="20">ILA</text>
<text x="441.2" y="1307.5" font-size="20">MOs</text>
<text x="565.9" y="1380.4" font-size="20" text-anchor="middle" transform="rotate(-90 565.9 1380.4)">ACAd</text>
<text x="599" y="1397.3" font-size="20" text-anchor="middle" transform="rotate(-90 599 1397.3)">ACAv</text>
<circle cx="237.9" cy="1290.9" r="5.4" fill="#E4B4EE" />
<text x="251.1" y="1298.4" font-size="21">5</text>
<rect x="228" y="1305.2" width="50" height="21" fill="#E3E3E3" />
<circle cx="237.9" cy="1315.7" r="5.4" fill="#3DDC68" />
<text x="251.1" y="1323.2" font-size="21">6</text>
<circle cx="237.9" cy="1340.5" r="5.4" fill="#7A2C48" />
<text x="251.1" y="1348" font-size="21">7</text>
<rect x="228" y="1354.8" width="50" height="21" fill="#E3E3E3" />
<circle cx="237.9" cy="1365.3" r="5.4" fill="#76923C" />
<text x="251.1" y="1372.8" font-size="21">8</text>
<circle cx="237.9" cy="1390.1" r="5.4" fill="#A9D8EA" />
<text x="251.1" y="1397.6" font-size="21">9</text>
<circle cx="237.9" cy="1414.9" r="5.4" fill="#B22AA6" />
<text x="251.1" y="1422.4" font-size="21">10</text>
<rect x="228" y="1429.2" width="50" height="21" fill="#E3E3E3" />
<circle cx="237.9" cy="1439.7" r="5.4" fill="#EE82EE" />
<text x="251.1" y="1447.2" font-size="21">11</text>
<circle cx="237.9" cy="1464.5" r="5.4" fill="#2424EE" />
<text x="251.1" y="1472" font-size="21">12</text>
<circle cx="237.9" cy="1489.3" r="5.4" fill="#3D4D0C" />
<text x="251.1" y="1496.8" font-size="21">22</text>
<path d="M761.9 1164.7 L761.9 1130.7 L765.3 1129.7 L768.7 1128.7 L772.1 1127.7 L775.5 1126.7 L778.8 1125.8 L782.2 1124.9 L785.6 1124.1 L789 1123.3 L792.4 1122.6 L795.7 1121.9 L799.1 1121.3 L802.5 1120.7 L805.9 1120.2 L809.3 1119.7 L812.6 1119.3 L816 1119 L819.4 1118.7 L822.8 1118.5 L826.2 1118.4 L829.6 1118.3 L832.9 1118.3 L836.3 1118.4 L839.7 1118.5 L843.1 1118.7 L846.5 1119 L849.8 1119.3 L853.2 1119.7 L856.6 1120.1 L860 1120.6 L863.4 1121.2 L866.7 1121.7 L870.1 1122.4 L873.5 1123.1 L876.9 1123.8 L880.3 1124.6 L883.7 1125.3 L887 1126.2 L890.4 1127 L893.8 1127.9 L897.2 1128.8 L900.6 1129.7 L903.9 1130.6 L907.3 1131.5 L910.7 1132.4 L914.1 1133.3 L917.5 1134.2 L920.8 1135.1 L924.2 1136 L927.6 1136.9 L931 1137.8 L934.4 1138.7 L937.8 1139.5 L941.1 1140.4 L944.5 1141.2 L947.9 1142 L951.3 1142.8 L954.7 1143.5 L958 1144.2 L961.4 1145 L964.8 1145.6 L968.2 1146.3 L971.6 1146.9 L974.9 1147.6 L978.3 1148.2 L981.7 1148.7 L985.1 1149.3 L988.5 1149.8 L991.9 1150.4 L995.2 1150.9 L998.6 1151.4 L1002 1151.8 L1005.4 1152.3 L1008.8 1152.7 L1012.1 1153.2 L1015.5 1153.6 L1018.9 1154 L1022.3 1154.4 L1025.7 1154.8 L1029 1155.1 L1029 1164.7 Z" fill="#EE82EE" stroke="#E986E6" stroke-width="2" fill-opacity="0.5"/>
<path d="M761.9 1164.7 L761.9 1163 L765.3 1162.8 L768.7 1162.7 L772.1 1162.5 L775.5 1162.4 L778.8 1162.2 L782.2 1162.1 L785.6 1161.9 L789 1161.8 L792.4 1161.6 L795.7 1161.5 L799.1 1161.3 L802.5 1161.1 L805.9 1161 L809.3 1160.8 L812.6 1160.6 L816 1160.4 L819.4 1160.1 L822.8 1159.9 L826.2 1159.6 L829.6 1159.3 L832.9 1158.9 L836.3 1158.5 L839.7 1158 L843.1 1157.5 L846.5 1156.9 L849.8 1156.2 L853.2 1155.4 L856.6 1154.6 L860 1153.6 L863.4 1152.5 L866.7 1151.3 L870.1 1150 L873.5 1148.6 L876.9 1147.1 L880.3 1145.4 L883.7 1143.7 L887 1141.8 L890.4 1139.8 L893.8 1137.8 L897.2 1135.6 L900.6 1133.4 L903.9 1131.1 L907.3 1128.8 L910.7 1126.5 L914.1 1124.2 L917.5 1121.8 L920.8 1119.6 L924.2 1117.4 L927.6 1115.2 L931 1113.2 L934.4 1111.4 L937.8 1109.6 L941.1 1108.1 L944.5 1106.8 L947.9 1105.6 L951.3 1104.7 L954.7 1104 L958 1103.6 L961.4 1103.4 L964.8 1103.5 L968.2 1103.8 L971.6 1104.4 L974.9 1105.2 L978.3 1106.2 L981.7 1107.5 L985.1 1108.9 L988.5 1110.6 L991.9 1112.4 L995.2 1114.4 L998.6 1116.5 L1002 1118.7 L1005.4 1121 L1008.8 1123.3 L1012.1 1125.7 L1015.5 1128.1 L1018.9 1130.5 L1022.3 1132.8 L1025.7 1135.2 L1029 1137.4 L1029 1164.7 Z" fill="#6E8A2E" stroke="#6E8A2E" stroke-width="2" fill-opacity="0.5"/>
<path d="M761.9 1164.7 L761.9 1160.9 L765.3 1160.7 L768.7 1160.5 L772.1 1160.4 L775.5 1160.2 L778.8 1160.1 L782.2 1159.9 L785.6 1159.8 L789 1159.6 L792.4 1159.5 L795.7 1159.4 L799.1 1159.3 L802.5 1159.1 L805.9 1159 L809.3 1158.9 L812.6 1158.8 L816 1158.7 L819.4 1158.6 L822.8 1158.5 L826.2 1158.4 L829.6 1158.4 L832.9 1158.3 L836.3 1158.2 L839.7 1158 L843.1 1157.9 L846.5 1157.8 L849.8 1157.6 L853.2 1157.4 L856.6 1157.2 L860 1157 L863.4 1156.7 L866.7 1156.4 L870.1 1156 L873.5 1155.5 L876.9 1155 L880.3 1154.5 L883.7 1153.8 L887 1153.1 L890.4 1152.2 L893.8 1151.3 L897.2 1150.3 L900.6 1149.1 L903.9 1147.9 L907.3 1146.5 L910.7 1145.1 L914.1 1143.5 L917.5 1141.8 L920.8 1140 L924.2 1138.2 L927.6 1136.2 L931 1134.2 L934.4 1132.1 L937.8 1130 L941.1 1127.8 L944.5 1125.6 L947.9 1123.4 L951.3 1121.2 L954.7 1119.1 L958 1117.1 L961.4 1115.1 L964.8 1113.2 L968.2 1111.5 L971.6 1109.9 L974.9 1108.5 L978.3 1107.3 L981.7 1106.3 L985.1 1105.5 L988.5 1104.9 L991.9 1104.6 L995.2 1104.5 L998.6 1104.6 L1002 1105 L1005.4 1105.7 L1008.8 1106.5 L1012.1 1107.6 L1015.5 1108.9 L1018.9 1110.4 L1022.3 1112 L1025.7 1113.9 L1029 1115.8 L1029 1164.7 Z" fill="#3DDC68" stroke="#3DDC68" stroke-width="2" fill-opacity="0.5"/>
<path d="M1046.2 1427.4 L1047.5 1427.4 L1048 1424.6 L1048.7 1421.8 L1049.5 1419 L1050.5 1416.2 L1051.7 1413.4 L1053.3 1410.6 L1055.1 1407.8 L1057.2 1405 L1059.7 1402.2 L1062.4 1399.4 L1065.5 1396.6 L1068.9 1393.8 L1072.5 1391 L1076.2 1388.2 L1080 1385.4 L1083.7 1382.6 L1087.3 1379.8 L1090.7 1377 L1093.6 1374.2 L1096.1 1371.4 L1098.1 1368.6 L1099.4 1365.8 L1100 1363 L1100 1360.2 L1099.2 1357.4 L1097.9 1354.6 L1096 1351.8 L1093.7 1349 L1091 1346.2 L1088.1 1343.3 L1085.1 1340.5 L1082 1337.7 L1079 1334.9 L1076.1 1332.1 L1073.4 1329.3 L1071 1326.5 L1068.9 1323.7 L1067 1320.9 L1065.4 1318.1 L1064.1 1315.3 L1063 1312.5 L1062.1 1309.7 L1061.4 1306.9 L1060.8 1304.1 L1060.3 1301.3 L1059.9 1298.5 L1059.5 1295.7 L1059.2 1292.9 L1058.8 1290.1 L1058.5 1287.3 L1058.1 1284.5 L1057.7 1281.7 L1057.3 1278.9 L1056.9 1276.1 L1056.4 1273.3 L1055.9 1270.5 L1055.4 1267.7 L1054.9 1264.9 L1054.4 1262.1 L1053.9 1259.3 L1053.4 1256.5 L1052.8 1253.7 L1052.3 1250.9 L1051.8 1248.1 L1051.3 1245.3 L1050.9 1242.5 L1050.4 1239.7 L1050 1236.9 L1049.6 1234.1 L1049.2 1231.3 L1048.9 1228.5 L1048.6 1225.7 L1048.3 1222.9 L1048 1220.1 L1047.8 1217.3 L1047.6 1214.5 L1047.4 1211.7 L1047.2 1208.9 L1047.1 1206.1 L1046.9 1203.2 L1046.8 1200.4 L1046.7 1197.6 L1046.6 1194.8 L1046.6 1192 L1046.5 1189.2 L1046.5 1186.4 L1046.4 1183.6 L1046.4 1180.8 L1046.3 1178 L1046.2 1178 Z" fill="#3DDC68" stroke="#3DDC68" stroke-width="2" fill-opacity="0.5"/>
<path d="M1046.2 1427.4 L1046.8 1427.4 L1047 1424.6 L1047.3 1421.8 L1047.7 1419 L1048.2 1416.2 L1048.8 1413.4 L1049.6 1410.6 L1050.6 1407.8 L1051.9 1405 L1053.4 1402.2 L1055.1 1399.4 L1057.1 1396.6 L1059.5 1393.8 L1062.1 1391 L1064.9 1388.2 L1068 1385.4 L1071.2 1382.6 L1074.5 1379.8 L1077.8 1377 L1081.1 1374.2 L1084.1 1371.4 L1086.9 1368.6 L1089.3 1365.8 L1091.3 1363 L1092.8 1360.2 L1093.7 1357.4 L1094 1354.6 L1093.7 1351.8 L1092.9 1349 L1091.6 1346.2 L1089.9 1343.3 L1087.9 1340.5 L1085.5 1337.7 L1083 1334.9 L1080.5 1332.1 L1077.9 1329.3 L1075.5 1326.5 L1073.1 1323.7 L1071 1320.9 L1069.1 1318.1 L1067.4 1315.3 L1065.9 1312.5 L1064.6 1309.7 L1063.5 1306.9 L1062.6 1304.1 L1061.8 1301.3 L1061.1 1298.5 L1060.5 1295.7 L1060 1292.9 L1059.5 1290.1 L1059.1 1287.3 L1058.6 1284.5 L1058.2 1281.7 L1057.7 1278.9 L1057.2 1276.1 L1056.7 1273.3 L1056.2 1270.5 L1055.7 1267.7 L1055.2 1264.9 L1054.6 1262.1 L1054.1 1259.3 L1053.5 1256.5 L1053 1253.7 L1052.5 1250.9 L1052 1248.1 L1051.5 1245.3 L1051 1242.5 L1050.5 1239.7 L1050.1 1236.9 L1049.7 1234.1 L1049.3 1231.3 L1049 1228.5 L1048.6 1225.7 L1048.4 1222.9 L1048.1 1220.1 L1047.8 1217.3 L1047.6 1214.5 L1047.4 1211.7 L1047.3 1208.9 L1047.1 1206.1 L1047 1203.2 L1046.8 1200.4 L1046.7 1197.6 L1046.7 1194.8 L1046.6 1192 L1046.5 1189.2 L1046.5 1186.4 L1046.4 1183.6 L1046.4 1180.8 L1046.3 1178 L1046.2 1178 Z" fill="#6E8A2E" stroke="#6E8A2E" stroke-width="2" fill-opacity="0.5"/>
<path d="M1046.2 1427.4 L1046.7 1427.4 L1046.8 1424.6 L1046.8 1421.8 L1046.9 1419 L1047 1416.2 L1047.2 1413.4 L1047.3 1410.6 L1047.5 1407.8 L1047.7 1405 L1047.9 1402.2 L1048.1 1399.4 L1048.4 1396.6 L1048.7 1393.8 L1049.1 1391 L1049.6 1388.2 L1050 1385.4 L1050.6 1382.6 L1051.2 1379.8 L1051.9 1377 L1052.6 1374.2 L1053.4 1371.4 L1054.3 1368.6 L1055.1 1365.8 L1056.1 1363 L1057 1360.2 L1058 1357.4 L1059 1354.6 L1060 1351.8 L1060.9 1349 L1061.8 1346.2 L1062.6 1343.3 L1063.4 1340.5 L1064.1 1337.7 L1064.6 1334.9 L1065.1 1332.1 L1065.5 1329.3 L1065.7 1326.5 L1065.9 1323.7 L1066 1320.9 L1066 1318.1 L1065.9 1315.3 L1065.8 1312.5 L1065.6 1309.7 L1065.4 1306.9 L1065.2 1304.1 L1065 1301.3 L1064.8 1298.5 L1064.6 1295.7 L1064.4 1292.9 L1064.2 1290.1 L1064 1287.3 L1063.9 1284.5 L1063.8 1281.7 L1063.7 1278.9 L1063.6 1276.1 L1063.5 1273.3 L1063.5 1270.5 L1063.4 1267.7 L1063.4 1264.9 L1063.3 1262.1 L1063.3 1259.3 L1063.2 1256.5 L1063.1 1253.7 L1063.1 1250.9 L1063 1248.1 L1062.9 1245.3 L1062.8 1242.5 L1062.7 1239.7 L1062.6 1236.9 L1062.5 1234.1 L1062.4 1231.3 L1062.3 1228.5 L1062.2 1225.7 L1062.1 1222.9 L1062 1220.1 L1061.9 1217.3 L1061.8 1214.5 L1061.7 1211.7 L1061.5 1208.9 L1061.4 1206.1 L1061.2 1203.2 L1061.1 1200.4 L1060.8 1197.6 L1060.6 1194.8 L1060.3 1192 L1060.1 1189.2 L1059.7 1186.4 L1059.4 1183.6 L1059 1180.8 L1058.6 1178 L1046.2 1178 Z" fill="#EE82EE" stroke="#E986E6" stroke-width="2" fill-opacity="0.5"/>
<path d="M762.4 1258l11.1 6 11.2 6 11.1 6 11.1 5.9 11.1 6 11.2 5.8 11.1 5.8 11.1 5.8 11.2 5.5 11.1 5.4 11.1 5.1 11.2 4.6 11.1 4.2 11.1 3.8 11.1 3.7 11.2 3.4 11.1 3.3 11.1 3.2 11.2 3.1 11.1 3.1 11.1 3 11.1 3 11.2 2.9 11.1 2.9 0 33.6-11.1-5.3-11.2-5.3-11.1-5.2-11.1-5.3-11.1-5.1-11.2-5.1-11.1-5-11.1-5-11.2-4.7-11.1-4.6-11.1-4.4-11.1-4-11.2-3.6-11.1-3.2-11.1-2.8-11.2-2.6-11.1-2.5-11.1-2.4-11.2-2.4-11.1-2.3-11.1-2.2-11.1-2.3-11.2-2.2-11.1-2.2z" fill="#C8C8C8" fill-opacity="0.85"/>
<path d="M762.4 1292.1h0m7-41.2h0m29.6-54h0m15.4-16.8h0m19.3 63.6h0m15-55.1h0m0 44.3h0m-47.7 87.1h0m10.3 31.4h0m2.1-50.8h0m16 7h0m12.3-7h0m.5 46.4h0m12.9-9.3h0m28.3-20.6h0m-2 5.9h0m36.8-48.4h0m29.6 49.7h0m-2.6 12.9h0m28.4-44.5h0m-.6 19.3h0m39.2 53.5h0" stroke="#E986E6" stroke-width="7" stroke-linecap="round" fill="none" />
<path d="M851.2 1344.9h0m56.7 .6h0m-3.1 18h0m26.3-84.2h0m3.3 88.8h0m-34.7 7.7h0m6.1 7.2h0m7.2-3h0m34.8-20.1h0m11.1-20.9h0m-2.1 29.9h0m11.6-20.1h0m9 3.1h0m12.9-50.7h0m8.5 62.5h0m9-37.3h0m19.3 6.2h0m-41.2 73.4h0m19.1 1.5h0m-42.5-11.1h0m8-11.5h0m-4.7-24.5h0" stroke="#6E8A2E" stroke-width="7" stroke-linecap="round" fill="none" />
<path d="M762.4 1371.5h0m35.5 11.5h0m50-24.4h0m45.8 14.9h0m26.8-4.1h0m-1 7.2h0m30.4 5.2h0m12.3 3.1h0m3.6 5.6h0m7.2-14.1h0m2.6 8.7h0m-31.6 18.6h0m13.6 3.6h0m12.1 18.2h0m22.4-43.5h0m9.3-8h0m10.3-8.5h0m8.7-18.2h0m7.8 5.9h0m2-23.2h0m-28.8 63.9h0m5.6 0h0m16.3 18h0m3.6-4.4h0m-51.5-43.2h0m7.2 1.2h0m12.9-1.8h0" stroke="#3DDC68" stroke-width="7" stroke-linecap="round" fill="none" />
<line x1="762.4" y1="1283.6" x2="1029.4" y2="1382.3" stroke="#3366E6" stroke-width="2.6" />
<line x1="749" y1="1168.5" x2="749" y2="1440" stroke="#000" stroke-width="2.4" />
<line x1="747.8" y1="1439" x2="1043" y2="1439" stroke="#000" stroke-width="2.4" />
<line x1="741.8" y1="1383.6" x2="749" y2="1383.6" stroke="#000" stroke-width="2.4" />
<text x="733" y="1389.1" font-size="15.5" text-anchor="end" fill="#4d4d4d">2</text>
<line x1="741.8" y1="1316.2" x2="749" y2="1316.2" stroke="#000" stroke-width="2.4" />
<text x="733" y="1321.7" font-size="15.5" text-anchor="end" fill="#4d4d4d">4</text>
<line x1="741.8" y1="1248.8" x2="749" y2="1248.8" stroke="#000" stroke-width="2.4" />
<text x="733" y="1254.3" font-size="15.5" text-anchor="end" fill="#4d4d4d">6</text>
<line x1="741.8" y1="1181.4" x2="749" y2="1181.4" stroke="#000" stroke-width="2.4" />
<text x="733" y="1186.9" font-size="15.5" text-anchor="end" fill="#4d4d4d">8</text>
<line x1="814.4" y1="1439" x2="814.4" y2="1446" stroke="#000" stroke-width="2.4" />
<text x="814.4" y="1466.5" font-size="15.5" text-anchor="middle" fill="#4d4d4d">3</text>
<line x1="909.8" y1="1439" x2="909.8" y2="1446" stroke="#000" stroke-width="2.4" />
<text x="909.8" y="1466.5" font-size="15.5" text-anchor="middle" fill="#4d4d4d">4</text>
<line x1="1005.2" y1="1439" x2="1005.2" y2="1446" stroke="#000" stroke-width="2.4" />
<text x="1005.2" y="1466.5" font-size="15.5" text-anchor="middle" fill="#4d4d4d">5</text>
<text x="896.3" y="1493" font-size="21.7" text-anchor="middle">Soma position</text>
<text x="896.3" y="1517.5" font-size="21.7" text-anchor="middle">(lateral−medial, mm)</text>
<text x="713.5" y="1304" font-size="21.7" text-anchor="middle" transform="rotate(-90 713.5 1304)">The length of apical tuft (mm)</text>
<text x="763.7" y="1398.5" font-size="18">P=1.491×10<tspan dy="-7" font-size="12.5">-6</tspan></text>
<text x="763.7" y="1423.5" font-size="18"><tspan font-style="italic">R</tspan><tspan dy="-7" font-size="12.5">2</tspan><tspan dy="7"> = 0.28</tspan></text>
<text x="1412.7" y="1132.4" font-size="25" text-anchor="middle">MY vs ACB projections</text>
<path d="M1260.2 1348.6l12.7-3.2 12.6-3.3 12.7-3.6 12.7-3.8 12.6-4.2 12.7-4.6 12.7-5 12.6-5.6 12.7-6.2 12.7-7 12.6-7.6 12.7-8.2 12.7-8.6 12.6-9 12.7-9.2 12.7-9.5 12.6-9.6 12.7-9.8 12.7-9.8 12.6-10 12.7-10 12.7-10 12.6-10.1 12.7-10.1 0 141.2-12.7 2.1-12.6 2.2-12.7 2.3-12.7 2.2-12.6 2.4-12.7 2.4-12.7 2.5-12.6 2.6-12.7 2.8-12.7 3.1-12.6 3.2-12.7 3.7-12.7 4.1-12.6 4.6-12.7 5.3-12.7 6.1-12.6 6.6-12.7 7.3-12.7 7.7-12.6 8.1-12.7 8.4-12.7 8.7-12.6 8.9-12.7 9.1z" fill="#C8C8C8" fill-opacity="0.85"/>
<path d="M1313.4 1170.3h0m7.8 0h0m15 0h0m-76 58h0m55 49.6h0m21 19.8h0m-11.1 14.1h0m8.7 45.7h0m-33.6 21.9h0m-.9 13.5h0m11.4 6h0m32.1-23.1h0m14.5 21h0m-32.2 10.2h0m-41.5 6.9h0m3.7 0h0m17.4 .9h0m12.6 0h0m25.5-2.4h0m7.5 2.4h0m28.6-6.9h0" stroke="#3DDC68" stroke-width="7.2" stroke-linecap="round" fill="none" />
<path d="M1342.2 1170.3h0m13.2 0h0m-24.9 9.6h0m9.3 134.6h0m-57.1 61.3h0m54.4-3h0m38.5 3.6h0m39-22.5h0m27.1 36.9h0m-156.6 4.2h0m51.7 3.9h0m24.1 6h0m-64.6 5.1h0m13.5 4.8h0m21 0h0m10.5 0h0m19 0h0m23.1-9h0" stroke="#6E8A2E" stroke-width="7.2" stroke-linecap="round" fill="none" />
<path d="M1369.9 1170.3h0m15.9 0h0m15.6 0h0m13.2 0h0m33.1 0h0m28.8 0h0m22.6 0h0m65.1 0h0m-138.2 37h0m59.5 74.5h0m-91.3 23.1h0m149.3 9.3h0m-152.9 31.5h0m-38.5 29.2h0m34-1.5h0m167.6 23.4h0m-183.8 18h0m36 0h0m9.6-7.5h0m9.6 7.5h0m-66.3-12.9h0" stroke="#E986E6" stroke-width="7.2" stroke-linecap="round" fill="none" />
<line x1="1260.2" y1="1388.4" x2="1564.2" y2="1241.2" stroke="#3366E6" stroke-width="2.6" />
<line x1="1246.1" y1="1156.5" x2="1246.1" y2="1443" stroke="#000" stroke-width="2.4" />
<line x1="1245" y1="1441.9" x2="1579.3" y2="1441.9" stroke="#000" stroke-width="2.4" />
<line x1="1236.2" y1="1170.3" x2="1246.1" y2="1170.3" stroke="#000" stroke-width="2.4" />
<text x="1229.6" y="1175.3" font-size="14.9" text-anchor="end" fill="#4d4d4d">1.0</text>
<line x1="1236.2" y1="1231.4" x2="1246.1" y2="1231.4" stroke="#000" stroke-width="2.4" />
<text x="1229.6" y="1236.4" font-size="14.9" text-anchor="end" fill="#4d4d4d">0.5</text>
<line x1="1236.2" y1="1292.6" x2="1246.1" y2="1292.6" stroke="#000" stroke-width="2.4" />
<text x="1229.6" y="1297.6" font-size="14.9" text-anchor="end" fill="#4d4d4d">0.0</text>
<line x1="1236.2" y1="1353.8" x2="1246.1" y2="1353.8" stroke="#000" stroke-width="2.4" />
<text x="1229.6" y="1358.8" font-size="14.9" text-anchor="end" fill="#4d4d4d">−0.5</text>
<line x1="1236.2" y1="1414.9" x2="1246.1" y2="1414.9" stroke="#000" stroke-width="2.4" />
<text x="1229.6" y="1419.9" font-size="14.9" text-anchor="end" fill="#4d4d4d">−1.0</text>
<line x1="1312.2" y1="1441.9" x2="1312.2" y2="1449" stroke="#000" stroke-width="2.4" />
<text x="1312.2" y="1470.1" font-size="14.9" text-anchor="middle" fill="#4d4d4d">2</text>
<line x1="1395.5" y1="1441.9" x2="1395.5" y2="1449" stroke="#000" stroke-width="2.4" />
<text x="1395.5" y="1470.1" font-size="14.9" text-anchor="middle" fill="#4d4d4d">4</text>
<line x1="1478.8" y1="1441.9" x2="1478.8" y2="1449" stroke="#000" stroke-width="2.4" />
<text x="1478.8" y="1470.1" font-size="14.9" text-anchor="middle" fill="#4d4d4d">6</text>
<line x1="1562.1" y1="1441.9" x2="1562.1" y2="1449" stroke="#000" stroke-width="2.4" />
<text x="1562.1" y="1470.1" font-size="14.9" text-anchor="middle" fill="#4d4d4d">8</text>
<text x="1414.2" y="1495.1" font-size="21.7" text-anchor="middle">The length of apical tuft (mm)</text>
<text x="1187.5" y="1300" font-size="21.7" text-anchor="middle" transform="rotate(-90 1187.5 1300)">The length of apical tuft (mm)</text>
<text x="1135.5" y="1160.1" font-size="19">MY</text>
<text x="1124.4" y="1439.5" font-size="19">ACB</text>
<text x="1571.2" y="1385.4" font-size="18" text-anchor="end">P=0.00582</text>
<text x="1560.6" y="1426.9" font-size="18" text-anchor="end"><tspan font-style="italic">R</tspan><tspan dy="-7" font-size="12.5">2</tspan><tspan dy="7"> = 0.11</tspan></text>
<text x="36.7" y="1623.5" font-size="38" font-weight="bold">f</text>
<text x="234.4" y="1608" font-size="23.7" text-anchor="middle">Projection patterns of</text>
<text x="234.4" y="1636.1" font-size="23.7" text-anchor="middle">CT dendrite subtypes</text>
<line x1="181.9" y1="1683.4" x2="181.9" y2="1652.1" stroke="#444" stroke-width="1.3" />
<line x1="181.9" y1="1652.1" x2="280.5" y2="1652.1" stroke="#444" stroke-width="1.3" />
<line x1="280.5" y1="1652.1" x2="280.5" y2="1667.7" stroke="#444" stroke-width="1.3" />
<line x1="238.4" y1="1667.7" x2="322.2" y2="1667.7" stroke="#444" stroke-width="1.3" />
<line x1="238.4" y1="1667.7" x2="238.4" y2="1683.4" stroke="#444" stroke-width="1.3" />
<line x1="322.2" y1="1667.7" x2="322.2" y2="1674.4" stroke="#444" stroke-width="1.3" />
<line x1="294.1" y1="1674.4" x2="350" y2="1674.4" stroke="#444" stroke-width="1.3" />
<line x1="294.1" y1="1674.4" x2="294.1" y2="1683.4" stroke="#444" stroke-width="1.3" />
<line x1="350" y1="1674.4" x2="350" y2="1683.4" stroke="#444" stroke-width="1.3" />
<line x1="150" y1="1693.6" x2="381.5" y2="1693.6" stroke="#EDEDED" stroke-width="0.8" />
<line x1="150" y1="1710.7" x2="381.5" y2="1710.7" stroke="#EDEDED" stroke-width="0.8" />
<line x1="150" y1="1727.9" x2="381.5" y2="1727.9" stroke="#EDEDED" stroke-width="0.8" />
<line x1="150" y1="1745" x2="381.5" y2="1745" stroke="#EDEDED" stroke-width="0.8" />
<line x1="150" y1="1762.1" x2="381.5" y2="1762.1" stroke="#EDEDED" stroke-width="0.8" />
<line x1="150" y1="1779.2" x2="381.5" y2="1779.2" stroke="#EDEDED" stroke-width="0.8" />
<line x1="150" y1="1796.4" x2="381.5" y2="1796.4" stroke="#EDEDED" stroke-width="0.8" />
<line x1="150" y1="1813.5" x2="381.5" y2="1813.5" stroke="#EDEDED" stroke-width="0.8" />
<line x1="150" y1="1830.6" x2="381.5" y2="1830.6" stroke="#EDEDED" stroke-width="0.8" />
<line x1="150" y1="1847.8" x2="381.5" y2="1847.8" stroke="#EDEDED" stroke-width="0.8" />
<line x1="150" y1="1864.9" x2="381.5" y2="1864.9" stroke="#EDEDED" stroke-width="0.8" />
<line x1="181.9" y1="1684" x2="181.9" y2="1874" stroke="#EDEDED" stroke-width="0.8" />
<line x1="237.8" y1="1684" x2="237.8" y2="1874" stroke="#EDEDED" stroke-width="0.8" />
<line x1="293.3" y1="1684" x2="293.3" y2="1874" stroke="#EDEDED" stroke-width="0.8" />
<line x1="349.3" y1="1684" x2="349.3" y2="1874" stroke="#EDEDED" stroke-width="0.8" />
<rect x="149.2" y="1683.4" width="233.1" height="191.1" fill="none" stroke="#333" stroke-width="1.4" />
<line x1="181.9" y1="1874.5" x2="181.9" y2="1880" stroke="#333" stroke-width="1.3" />
<line x1="237.8" y1="1874.5" x2="237.8" y2="1880" stroke="#333" stroke-width="1.3" />
<line x1="293.3" y1="1874.5" x2="293.3" y2="1880" stroke="#333" stroke-width="1.3" />
<line x1="349.3" y1="1874.5" x2="349.3" y2="1880" stroke="#333" stroke-width="1.3" />
<text x="144.2" y="1700.9" font-size="16.9" text-anchor="end" fill="#4d4d4d">FRP</text>
<text x="144.2" y="1718" font-size="16.9" text-anchor="end" fill="#4d4d4d">ILA</text>
<text x="144.2" y="1735.2" font-size="16.9" text-anchor="end" fill="#4d4d4d">AIv</text>
<text x="144.2" y="1752.3" font-size="16.9" text-anchor="end" fill="#4d4d4d">AId</text>
<text x="144.2" y="1769.4" font-size="16.9" text-anchor="end" fill="#4d4d4d">ORBm</text>
<text x="144.2" y="1786.5" font-size="16.9" text-anchor="end" fill="#4d4d4d">ORBvl</text>
<text x="144.2" y="1803.7" font-size="16.9" text-anchor="end" fill="#4d4d4d">ORBl</text>
<text x="144.2" y="1820.8" font-size="16.9" text-anchor="end" fill="#4d4d4d">PL</text>
<text x="144.2" y="1837.9" font-size="16.9" text-anchor="end" fill="#4d4d4d">ACAv</text>
<text x="144.2" y="1855.1" font-size="16.9" text-anchor="end" fill="#4d4d4d">ACAd</text>
<text x="144.2" y="1872.2" font-size="16.9" text-anchor="end" fill="#4d4d4d">MOs</text>
<ellipse cx="181.9" cy="1693.6" rx="2.3" ry="2.5" fill="#6A3DB4"/>
<ellipse cx="237.8" cy="1693.6" rx="1.5" ry="1.7" fill="#9FE05E"/>
<ellipse cx="293.3" cy="1693.6" rx="2.5" ry="2.8" fill="#4FE3CB"/>
<ellipse cx="349.3" cy="1693.6" rx="1.2" ry="1.4" fill="#0F5C60"/>
<ellipse cx="181.9" cy="1710.7" rx="1.2" ry="1.4" fill="#6A3DB4"/>
<ellipse cx="237.8" cy="1710.7" rx="1.7" ry="1.9" fill="#9FE05E"/>
<ellipse cx="181.9" cy="1727.9" rx="1" ry="1.1" fill="#6A3DB4"/>
<ellipse cx="293.3" cy="1727.9" rx="1.5" ry="1.7" fill="#4FE3CB"/>
<ellipse cx="293.3" cy="1745" rx="3.5" ry="3.9" fill="#4FE3CB"/>
<ellipse cx="349.3" cy="1745" rx="4" ry="4.4" fill="#0F5C60"/>
<ellipse cx="181.9" cy="1762.1" rx="2.7" ry="3" fill="#6A3DB4"/>
<ellipse cx="237.8" cy="1762.1" rx="2.3" ry="2.5" fill="#9FE05E"/>
<ellipse cx="293.3" cy="1762.1" rx="1" ry="1.1" fill="#4FE3CB"/>
<ellipse cx="349.3" cy="1762.1" rx="1.2" ry="1.3" fill="#0F5C60"/>
<ellipse cx="181.9" cy="1779.2" rx="4.6" ry="5.1" fill="#6A3DB4"/>
<ellipse cx="237.8" cy="1779.2" rx="2.5" ry="2.8" fill="#9FE05E"/>
<ellipse cx="293.3" cy="1779.2" rx="2.5" ry="2.8" fill="#4FE3CB"/>
<ellipse cx="349.3" cy="1779.2" rx="3.3" ry="3.6" fill="#0F5C60"/>
<ellipse cx="181.9" cy="1796.4" rx="2.5" ry="2.8" fill="#6A3DB4"/>
<ellipse cx="237.8" cy="1796.4" rx="1.9" ry="2.1" fill="#9FE05E"/>
<ellipse cx="293.3" cy="1796.4" rx="4.6" ry="5.1" fill="#4FE3CB"/>
<ellipse cx="349.3" cy="1796.4" rx="3.1" ry="3.4" fill="#0F5C60"/>
<ellipse cx="181.9" cy="1813.5" rx="6.6" ry="7.3" fill="#6A3DB4"/>
<ellipse cx="237.8" cy="1813.5" rx="2.5" ry="2.8" fill="#9FE05E"/>
<ellipse cx="293.3" cy="1813.5" rx="1.5" ry="1.7" fill="#4FE3CB"/>
<ellipse cx="349.3" cy="1813.5" rx="1.9" ry="2.1" fill="#0F5C60"/>
<ellipse cx="237.8" cy="1830.6" rx="2.1" ry="2.3" fill="#9FE05E"/>
<ellipse cx="293.3" cy="1830.6" rx="2.5" ry="2.8" fill="#4FE3CB"/>
<ellipse cx="349.3" cy="1830.6" rx="2.9" ry="3.2" fill="#0F5C60"/>
<ellipse cx="181.9" cy="1847.8" rx="5.4" ry="5.9" fill="#6A3DB4"/>
<ellipse cx="237.8" cy="1847.8" rx="4.2" ry="4.6" fill="#9FE05E"/>
<ellipse cx="293.3" cy="1847.8" rx="5.2" ry="5.7" fill="#4FE3CB"/>
<ellipse cx="349.3" cy="1847.8" rx="5.4" ry="5.9" fill="#0F5C60"/>
<ellipse cx="181.9" cy="1864.9" rx="7.3" ry="8" fill="#6A3DB4"/>
<ellipse cx="237.8" cy="1864.9" rx="1.7" ry="1.9" fill="#9FE05E"/>
<ellipse cx="293.3" cy="1864.9" rx="3.7" ry="4.1" fill="#4FE3CB"/>
<ellipse cx="349.3" cy="1864.9" rx="2.9" ry="3.2" fill="#0F5C60"/>
<text x="181.4" y="1905.5" font-size="21.7" text-anchor="middle" fill="#4d4d4d">4</text>
<text x="237.3" y="1905.5" font-size="21.7" text-anchor="middle" fill="#4d4d4d">3</text>
<text x="292.8" y="1905.5" font-size="21.7" text-anchor="middle" fill="#4d4d4d">1</text>
<text x="348.8" y="1905.5" font-size="21.7" text-anchor="middle" fill="#4d4d4d">2</text>
<text x="0" y="1899.8" font-size="19.2">Dendrite subtypes</text>
<text x="379.3" y="1895.6" font-size="16.9">Number of</text>
<text x="379.3" y="1912.5" font-size="16.9">neurons</text>
<circle cx="400.5" cy="1935.1" r="3.9" fill="#000" />
<text x="411.8" y="1940.7" font-size="17.7">10</text>
<circle cx="400.5" cy="1957.7" r="6.2" fill="#000" />
<text x="411.8" y="1963.3" font-size="17.7">20</text>
<text x="131.1" y="1935" font-size="18.5" text-anchor="end">CLA</text>
<line x1="180" y1="1936.5" x2="180" y2="1916.5" stroke="#111" stroke-width="1.1" />
<path d="M154.7 1938.5l.3 0 15.5-.2 4.7-.2 1.4-.3 .5-.2 .4-.2 .2-.2 .4-.3 .5-.2 .8-.2 1.2 0 .8 .2 .5 .2 .4 .3 .2 .2 .4 .2 .5 .2 1.4 .3 4.7 .2 15.5 .2 .3 0z" fill="#6A3DB4" stroke="#111" stroke-width="1.0" stroke-linejoin="round"/>
<ellipse cx="180" cy="1935.1" rx="3.6" ry="3.9" fill="#000"/>
<path d="M210.2 1938.5l.3 0 16.2-.1 4.9-.1 1.4-.1 .5-.1 .3-.2 .2-.1 .2-.1 .4-.1 .3-.1 1.2 0 .3 .1 .4 .1 .2 .1 .2 .1 .3 .2 .5 .1 1.4 .1 4.9 .1 16.2 .1 .3 0z" fill="#9FE05E" stroke="#111" stroke-width="1.0" stroke-linejoin="round"/>
<ellipse cx="235.5" cy="1935.1" rx="3.6" ry="3.9" fill="#000"/>
<line x1="291.3" y1="1932.5" x2="291.3" y2="1914.5" stroke="#111" stroke-width="1.1" />
<path d="M266 1938.5l.3 0 14.1-.7 4.3-.6 1.4-.7 .6-.7 .4-.6 .5-.7 .6-.7 .8-.6 1.7-.7 1.2 0 1.7 .7 .8 .6 .6 .7 .5 .7 .4 .6 .6 .7 1.4 .7 4.3 .6 14.1 .7 .3 0z" fill="#4FE3CB" stroke="#111" stroke-width="1.0" stroke-linejoin="round"/>
<ellipse cx="291.3" cy="1935.1" rx="3.6" ry="3.9" fill="#000"/>
<line x1="346.9" y1="1936.5" x2="346.9" y2="1928.5" stroke="#111" stroke-width="1.1" />
<path d="M321.6 1938.5l.3 0 15.5-.2 4.7-.2 1.4-.3 .5-.2 .4-.2 .2-.2 .4-.3 .5-.2 .8-.2 1.2 0 .8 .2 .5 .2 .4 .3 .2 .2 .4 .2 .5 .2 1.4 .3 4.7 .2 15.5 .2 .3 0z" fill="#0F5C60" stroke="#111" stroke-width="1.0" stroke-linejoin="round"/>
<ellipse cx="346.9" cy="1935.1" rx="3.6" ry="3.9" fill="#000"/>
<text x="131.1" y="1961.8" font-size="18.5" text-anchor="end">GPe</text>
<line x1="180" y1="1955.3" x2="180" y2="1933.3" stroke="#111" stroke-width="1.1" />
<path d="M154.7 1965.3l.3 0 11.3-1.1 3.5-1.1 1.3-1.1 .7-1.1 .7-1.2 .8-1.1 1-1.1 1.6-1.1 3.5-1.1 1.2 0 3.5 1.1 1.6 1.1 1 1.1 .8 1.1 .7 1.2 .7 1.1 1.3 1.1 3.5 1.1 11.3 1.1 .3 0z" fill="#6A3DB4" stroke="#111" stroke-width="1.0" stroke-linejoin="round"/>
<ellipse cx="180" cy="1961.9" rx="3.6" ry="4.6" fill="#000"/>
<line x1="235.5" y1="1959.3" x2="235.5" y2="1949.3" stroke="#111" stroke-width="1.1" />
<path d="M210.2 1965.3l.3 0 14.1-.7 4.3-.6 1.4-.7 .6-.7 .4-.6 .5-.7 .6-.7 .8-.6 1.7-.7 1.2 0 1.7 .7 .8 .6 .6 .7 .5 .7 .4 .6 .6 .7 1.4 .7 4.3 .6 14.1 .7 .3 0z" fill="#9FE05E" stroke="#111" stroke-width="1.0" stroke-linejoin="round"/>
<ellipse cx="235.5" cy="1961.9" rx="3.6" ry="3.9" fill="#000"/>
<line x1="291.3" y1="1952.3" x2="291.3" y2="1942.3" stroke="#111" stroke-width="1.1" />
<path d="M266 1965.3l.3 0 8.5-1.4 2.8-1.5 1.1-1.4 .9-1.5 .9-1.4 1.1-1.5 1.5-1.4 2.2-1.5 5.4-1.4 1.2 0 5.4 1.4 2.2 1.5 1.5 1.4 1.1 1.5 .9 1.4 .9 1.5 1.1 1.4 2.8 1.5 8.5 1.4 .3 0z" fill="#4FE3CB" stroke="#111" stroke-width="1.0" stroke-linejoin="round"/>
<ellipse cx="291.3" cy="1961.9" rx="3.6" ry="4.6" fill="#000"/>
<line x1="346.9" y1="1949.3" x2="346.9" y2="1927.3" stroke="#111" stroke-width="1.1" />
<path d="M321.6 1965.3l.3 0 10.6-1.8 3.3-1.8 1.3-1.7 .7-1.8 .8-1.8 .8-1.8 1.2-1.7 1.7-1.8 4-1.8 1.2 0 4 1.8 1.7 1.8 1.2 1.7 .8 1.8 .8 1.8 .7 1.8 1.3 1.7 3.3 1.8 10.6 1.8 .3 0z" fill="#0F5C60" stroke="#111" stroke-width="1.0" stroke-linejoin="round"/>
<ellipse cx="346.9" cy="1961.9" rx="3.6" ry="4.6" fill="#000"/>
<text x="131.1" y="1985.8" font-size="18.5" text-anchor="end">GPi</text>
<line x1="180" y1="1987.3" x2="180" y2="1973.3" stroke="#111" stroke-width="1.1" />
<path d="M154.7 1989.3l.3 0 15.5-.2 4.7-.2 1.4-.3 .5-.2 .4-.2 .2-.2 .4-.3 .5-.2 .8-.2 1.2 0 .8 .2 .5 .2 .4 .3 .2 .2 .4 .2 .5 .2 1.4 .3 4.7 .2 15.5 .2 .3 0z" fill="#6A3DB4" stroke="#111" stroke-width="1.0" stroke-linejoin="round"/>
<ellipse cx="180" cy="1985.9" rx="3.6" ry="3.9" fill="#000"/>
<path d="M210.2 1989.3l.3 0 16.2-.1 4.9-.1 1.4-.1 .5-.1 .3-.2 .2-.1 .2-.1 .4-.1 .3-.1 1.2 0 .3 .1 .4 .1 .2 .1 .2 .1 .3 .2 .5 .1 1.4 .1 4.9 .1 16.2 .1 .3 0z" fill="#9FE05E" stroke="#111" stroke-width="1.0" stroke-linejoin="round"/>
<ellipse cx="235.5" cy="1985.9" rx="3.6" ry="3.9" fill="#000"/>
<line x1="291.3" y1="1985.3" x2="291.3" y2="1959.3" stroke="#111" stroke-width="1.1" />
<path d="M266 1989.3l.3 0 14.8-.4 4.5-.5 1.4-.4 .6-.5 .3-.4 .4-.5 .5-.4 .7-.5 1.2-.4 1.2 0 1.2 .4 .7 .5 .5 .4 .4 .5 .3 .4 .6 .5 1.4 .4 4.5 .5 14.8 .4 .3 0z" fill="#4FE3CB" stroke="#111" stroke-width="1.0" stroke-linejoin="round"/>
<ellipse cx="291.3" cy="1985.9" rx="3.6" ry="3.9" fill="#000"/>
<line x1="346.9" y1="1987.3" x2="346.9" y2="1977.3" stroke="#111" stroke-width="1.1" />
<path d="M321.6 1989.3l.3 0 15.5-.2 4.7-.2 1.4-.3 .5-.2 .4-.2 .2-.2 .4-.3 .5-.2 .8-.2 1.2 0 .8 .2 .5 .2 .4 .3 .2 .2 .4 .2 .5 .2 1.4 .3 4.7 .2 15.5 .2 .3 0z" fill="#0F5C60" stroke="#111" stroke-width="1.0" stroke-linejoin="round"/>
<ellipse cx="346.9" cy="1985.9" rx="3.6" ry="3.9" fill="#000"/>
<text x="131.1" y="2009.8" font-size="18.5" text-anchor="end">SI</text>
<line x1="180" y1="2011.3" x2="180" y2="1989.3" stroke="#111" stroke-width="1.1" />
<path d="M154.7 2013.3l.3 0 15.5-.2 4.7-.2 1.4-.3 .5-.2 .4-.2 .2-.2 .4-.3 .5-.2 .8-.2 1.2 0 .8 .2 .5 .2 .4 .3 .2 .2 .4 .2 .5 .2 1.4 .3 4.7 .2 15.5 .2 .3 0z" fill="#6A3DB4" stroke="#111" stroke-width="1.0" stroke-linejoin="round"/>
<ellipse cx="180" cy="2009.9" rx="3.6" ry="3.9" fill="#000"/>
<line x1="235.5" y1="2011.3" x2="235.5" y2="1997.3" stroke="#111" stroke-width="1.1" />
<path d="M210.2 2013.3l.3 0 15.5-.2 4.7-.2 1.4-.3 .5-.2 .4-.2 .2-.2 .4-.3 .5-.2 .8-.2 1.2 0 .8 .2 .5 .2 .4 .3 .2 .2 .4 .2 .5 .2 1.4 .3 4.7 .2 15.5 .2 .3 0z" fill="#9FE05E" stroke="#111" stroke-width="1.0" stroke-linejoin="round"/>
<ellipse cx="235.5" cy="2009.9" rx="3.6" ry="3.9" fill="#000"/>
<line x1="291.3" y1="2011.3" x2="291.3" y2="1997.3" stroke="#111" stroke-width="1.1" />
<path d="M266 2013.3l.3 0 15.5-.2 4.7-.2 1.4-.3 .5-.2 .4-.2 .2-.2 .4-.3 .5-.2 .8-.2 1.2 0 .8 .2 .5 .2 .4 .3 .2 .2 .4 .2 .5 .2 1.4 .3 4.7 .2 15.5 .2 .3 0z" fill="#4FE3CB" stroke="#111" stroke-width="1.0" stroke-linejoin="round"/>
<ellipse cx="291.3" cy="2009.9" rx="3.6" ry="3.9" fill="#000"/>
<line x1="346.9" y1="2011.3" x2="346.9" y2="1997.3" stroke="#111" stroke-width="1.1" />
<path d="M321.6 2013.3l.3 0 15.5-.2 4.7-.2 1.4-.3 .5-.2 .4-.2 .2-.2 .4-.3 .5-.2 .8-.2 1.2 0 .8 .2 .5 .2 .4 .3 .2 .2 .4 .2 .5 .2 1.4 .3 4.7 .2 15.5 .2 .3 0z" fill="#0F5C60" stroke="#111" stroke-width="1.0" stroke-linejoin="round"/>
<ellipse cx="346.9" cy="2009.9" rx="3.6" ry="3.9" fill="#000"/>
<text x="131.1" y="2033.8" font-size="18.5" text-anchor="end">BST</text>
<line x1="180" y1="2035.3" x2="180" y2="2019.3" stroke="#111" stroke-width="1.1" />
<path d="M154.7 2037.3l.3 0 15.5-.2 4.7-.2 1.4-.3 .5-.2 .4-.2 .2-.2 .4-.3 .5-.2 .8-.2 1.2 0 .8 .2 .5 .2 .4 .3 .2 .2 .4 .2 .5 .2 1.4 .3 4.7 .2 15.5 .2 .3 0z" fill="#6A3DB4" stroke="#111" stroke-width="1.0" stroke-linejoin="round"/>
<ellipse cx="180" cy="2033.9" rx="3.6" ry="3.9" fill="#000"/>
<line x1="235.5" y1="2015.3" x2="235.5" y2="2013.3" stroke="#111" stroke-width="1.1" />
<path d="M210.2 2037.3l.3 0 14.1-2.4 4.3-2.5 1.4-2.4 .6-2.5 .4-2.4 .5-2.5 .6-2.4 .8-2.5 1.7-2.4 1.2 0 1.7 2.4 .8 2.5 .6 2.4 .5 2.5 .4 2.4 .6 2.5 1.4 2.4 4.3 2.5 14.1 2.4 .3 0z" fill="#9FE05E" stroke="#111" stroke-width="1.0" stroke-linejoin="round"/>
<ellipse cx="235.5" cy="2033.9" rx="3.6" ry="4.6" fill="#000"/>
<line x1="291.3" y1="2035.3" x2="291.3" y2="2029.3" stroke="#111" stroke-width="1.1" />
<path d="M266 2037.3l.3 0 15.5-.2 4.7-.2 1.4-.3 .5-.2 .4-.2 .2-.2 .4-.3 .5-.2 .8-.2 1.2 0 .8 .2 .5 .2 .4 .3 .2 .2 .4 .2 .5 .2 1.4 .3 4.7 .2 15.5 .2 .3 0z" fill="#4FE3CB" stroke="#111" stroke-width="1.0" stroke-linejoin="round"/>
<ellipse cx="291.3" cy="2033.9" rx="3.6" ry="3.9" fill="#000"/>
<line x1="346.9" y1="2035.3" x2="346.9" y2="2025.3" stroke="#111" stroke-width="1.1" />
<path d="M321.6 2037.3l.3 0 15.5-.2 4.7-.2 1.4-.3 .5-.2 .4-.2 .2-.2 .4-.3 .5-.2 .8-.2 1.2 0 .8 .2 .5 .2 .4 .3 .2 .2 .4 .2 .5 .2 1.4 .3 4.7 .2 15.5 .2 .3 0z" fill="#0F5C60" stroke="#111" stroke-width="1.0" stroke-linejoin="round"/>
<ellipse cx="346.9" cy="2033.9" rx="3.6" ry="3.9" fill="#000"/>
<text x="131.1" y="2057.8" font-size="18.5" text-anchor="end">ZI</text>
<line x1="180" y1="2059.3" x2="180" y2="2045.3" stroke="#111" stroke-width="1.1" />
<path d="M154.7 2061.3l.3 0 15.5-.2 4.7-.2 1.4-.3 .5-.2 .4-.2 .2-.2 .4-.3 .5-.2 .8-.2 1.2 0 .8 .2 .5 .2 .4 .3 .2 .2 .4 .2 .5 .2 1.4 .3 4.7 .2 15.5 .2 .3 0z" fill="#6A3DB4" stroke="#111" stroke-width="1.0" stroke-linejoin="round"/>
<ellipse cx="180" cy="2057.9" rx="3.6" ry="3.9" fill="#000"/>
<line x1="235.5" y1="2049.3" x2="235.5" y2="2035.3" stroke="#111" stroke-width="1.1" />
<path d="M210.2 2061.3l.3 0 14.1-1.3 4.3-1.4 1.4-1.3 .6-1.3 .4-1.4 .5-1.3 .6-1.3 .8-1.4 1.7-1.3 1.2 0 1.7 1.3 .8 1.4 .6 1.3 .5 1.3 .4 1.4 .6 1.3 1.4 1.3 4.3 1.4 14.1 1.3 .3 0z" fill="#9FE05E" stroke="#111" stroke-width="1.0" stroke-linejoin="round"/>
<ellipse cx="235.5" cy="2057.9" rx="3.6" ry="4.6" fill="#000"/>
<path d="M266 2061.3l.3 0 15.5-.1 4.7-.1 1.4-.1 .5-.1 .4-.2 .2-.1 .4-.1 .5-.1 .8-.1 1.2 0 .8 .1 .5 .1 .4 .1 .2 .1 .4 .2 .5 .1 1.4 .1 4.7 .1 15.5 .1 .3 0z" fill="#4FE3CB" stroke="#111" stroke-width="1.0" stroke-linejoin="round"/>
<ellipse cx="291.3" cy="2057.9" rx="3.6" ry="3.9" fill="#000"/>
<line x1="346.9" y1="2059.3" x2="346.9" y2="2041.3" stroke="#111" stroke-width="1.1" />
<path d="M321.6 2061.3l.3 0 15.5-.2 4.7-.2 1.4-.3 .5-.2 .4-.2 .2-.2 .4-.3 .5-.2 .8-.2 1.2 0 .8 .2 .5 .2 .4 .3 .2 .2 .4 .2 .5 .2 1.4 .3 4.7 .2 15.5 .2 .3 0z" fill="#0F5C60" stroke="#111" stroke-width="1.0" stroke-linejoin="round"/>
<ellipse cx="346.9" cy="2057.9" rx="3.6" ry="3.9" fill="#000"/>
<text x="131.1" y="2081.8" font-size="18.5" text-anchor="end">LHA</text>
<line x1="180" y1="2083.3" x2="180" y2="2073.3" stroke="#111" stroke-width="1.1" />
<path d="M154.7 2085.3l.3 0 15.5-.2 4.7-.2 1.4-.3 .5-.2 .4-.2 .2-.2 .4-.3 .5-.2 .8-.2 1.2 0 .8 .2 .5 .2 .4 .3 .2 .2 .4 .2 .5 .2 1.4 .3 4.7 .2 15.5 .2 .3 0z" fill="#6A3DB4" stroke="#111" stroke-width="1.0" stroke-linejoin="round"/>
<ellipse cx="180" cy="2081.9" rx="3.6" ry="3.9" fill="#000"/>
<line x1="235.5" y1="2083.3" x2="235.5" y2="2061.3" stroke="#111" stroke-width="1.1" />
<path d="M210.2 2085.3l.3 0 15.5-.2 4.7-.2 1.4-.3 .5-.2 .4-.2 .2-.2 .4-.3 .5-.2 .8-.2 1.2 0 .8 .2 .5 .2 .4 .3 .2 .2 .4 .2 .5 .2 1.4 .3 4.7 .2 15.5 .2 .3 0z" fill="#9FE05E" stroke="#111" stroke-width="1.0" stroke-linejoin="round"/>
<ellipse cx="235.5" cy="2081.9" rx="3.6" ry="3.9" fill="#000"/>
<line x1="291.3" y1="2084.3" x2="291.3" y2="2078.3" stroke="#111" stroke-width="1.1" />
<path d="M266 2085.3l.3 0 15.5-.1 4.7-.1 1.4-.1 .5-.1 .4-.2 .2-.1 .4-.1 .5-.1 .8-.1 1.2 0 .8 .1 .5 .1 .4 .1 .2 .1 .4 .2 .5 .1 1.4 .1 4.7 .1 15.5 .1 .3 0z" fill="#4FE3CB" stroke="#111" stroke-width="1.0" stroke-linejoin="round"/>
<ellipse cx="291.3" cy="2081.9" rx="3.6" ry="3.9" fill="#000"/>
<line x1="346.9" y1="2083.3" x2="346.9" y2="2075.3" stroke="#111" stroke-width="1.1" />
<path d="M321.6 2085.3l.3 0 15.5-.2 4.7-.2 1.4-.3 .5-.2 .4-.2 .2-.2 .4-.3 .5-.2 .8-.2 1.2 0 .8 .2 .5 .2 .4 .3 .2 .2 .4 .2 .5 .2 1.4 .3 4.7 .2 15.5 .2 .3 0z" fill="#0F5C60" stroke="#111" stroke-width="1.0" stroke-linejoin="round"/>
<ellipse cx="346.9" cy="2081.9" rx="3.6" ry="3.9" fill="#000"/>
<text x="131.1" y="2105.8" font-size="18.5" text-anchor="end">VAL</text>
<line x1="180" y1="2095.3" x2="180" y2="2093.3" stroke="#111" stroke-width="1.1" />
<path d="M154.7 2109.3l.3 0 13.4-1.6 4.1-1.5 1.4-1.6 .6-1.5 .5-1.6 .5-1.5 .7-1.6 1.1-1.5 2.1-1.6 1.2 0 2.1 1.6 1.1 1.5 .7 1.6 .5 1.5 .5 1.6 .6 1.5 1.4 1.6 4.1 1.5 13.4 1.6 .3 0z" fill="#6A3DB4" stroke="#111" stroke-width="1.0" stroke-linejoin="round"/>
<ellipse cx="180" cy="2105.9" rx="3.6" ry="4.6" fill="#000"/>
<line x1="235.5" y1="2107.3" x2="235.5" y2="2097.3" stroke="#111" stroke-width="1.1" />
<path d="M210.2 2109.3l.3 0 15.5-.2 4.7-.2 1.4-.3 .5-.2 .4-.2 .2-.2 .4-.3 .5-.2 .8-.2 1.2 0 .8 .2 .5 .2 .4 .3 .2 .2 .4 .2 .5 .2 1.4 .3 4.7 .2 15.5 .2 .3 0z" fill="#9FE05E" stroke="#111" stroke-width="1.0" stroke-linejoin="round"/>
<ellipse cx="235.5" cy="2105.9" rx="3.6" ry="3.9" fill="#000"/>
<line x1="291.3" y1="2096.3" x2="291.3" y2="2090.3" stroke="#111" stroke-width="1.1" />
<path d="M266 2109.3l.3 0 13.4-1.4 4.1-1.5 1.4-1.4 .6-1.5 .5-1.4 .5-1.5 .7-1.4 1.1-1.5 2.1-1.4 1.2 0 2.1 1.4 1.1 1.5 .7 1.4 .5 1.5 .5 1.4 .6 1.5 1.4 1.4 4.1 1.5 13.4 1.4 .3 0z" fill="#4FE3CB" stroke="#111" stroke-width="1.0" stroke-linejoin="round"/>
<ellipse cx="291.3" cy="2105.9" rx="3.6" ry="4.6" fill="#000"/>
<line x1="346.9" y1="2103.3" x2="346.9" y2="2083.3" stroke="#111" stroke-width="1.1" />
<path d="M321.6 2109.3l.3 0 14.8-.7 4.5-.6 1.4-.7 .6-.7 .3-.6 .4-.7 .5-.7 .7-.6 1.2-.7 1.2 0 1.2 .7 .7 .6 .5 .7 .4 .7 .3 .6 .6 .7 1.4 .7 4.5 .6 14.8 .7 .3 0z" fill="#0F5C60" stroke="#111" stroke-width="1.0" stroke-linejoin="round"/>
<ellipse cx="346.9" cy="2105.9" rx="3.6" ry="3.9" fill="#000"/>
<text x="131.1" y="2129.8" font-size="18.5" text-anchor="end">VM</text>
<path d="M154.7 2133.3l.3 0 12-2.4 3.7-2.5 1.3-2.4 .7-2.5 .6-2.4 .7-2.5 1-2.4 1.3-2.5 3.1-2.4 1.2 0 3.1 2.4 1.3 2.5 1 2.4 .7 2.5 .6 2.4 .7 2.5 1.3 2.4 3.7 2.5 12 2.4 .3 0z" fill="#6A3DB4" stroke="#111" stroke-width="1.0" stroke-linejoin="round"/>
<ellipse cx="180" cy="2129.9" rx="3.6" ry="4.6" fill="#000"/>
<line x1="235.5" y1="2127.3" x2="235.5" y2="2111.3" stroke="#111" stroke-width="1.1" />
<path d="M210.2 2133.3l.3 0 14.8-.7 4.5-.6 1.4-.7 .6-.7 .3-.6 .4-.7 .5-.7 .7-.6 1.2-.7 1.2 0 1.2 .7 .7 .6 .5 .7 .4 .7 .3 .6 .6 .7 1.4 .7 4.5 .6 14.8 .7 .3 0z" fill="#9FE05E" stroke="#111" stroke-width="1.0" stroke-linejoin="round"/>
<ellipse cx="235.5" cy="2129.9" rx="3.6" ry="3.9" fill="#000"/>
<line x1="291.3" y1="2119.3" x2="291.3" y2="2117.3" stroke="#111" stroke-width="1.1" />
<path d="M266 2133.3l.3 0 12-1.6 3.7-1.5 1.3-1.6 .7-1.5 .6-1.6 .7-1.5 1-1.6 1.3-1.5 3.1-1.6 1.2 0 3.1 1.6 1.3 1.5 1 1.6 .7 1.5 .6 1.6 .7 1.5 1.3 1.6 3.7 1.5 12 1.6 .3 0z" fill="#4FE3CB" stroke="#111" stroke-width="1.0" stroke-linejoin="round"/>
<ellipse cx="291.3" cy="2129.9" rx="3.6" ry="4.6" fill="#000"/>
<line x1="346.9" y1="2121.3" x2="346.9" y2="2117.3" stroke="#111" stroke-width="1.1" />
<path d="M321.6 2133.3l.3 0 9.9-1.3 3.2-1.4 1.2-1.3 .7-1.3 .8-1.4 1-1.3 1.3-1.3 1.9-1.4 4.4-1.3 1.2 0 4.4 1.3 1.9 1.4 1.3 1.3 1 1.3 .8 1.4 .7 1.3 1.2 1.3 3.2 1.4 9.9 1.3 .3 0z" fill="#0F5C60" stroke="#111" stroke-width="1.0" stroke-linejoin="round"/>
<ellipse cx="346.9" cy="2129.9" rx="3.6" ry="4.6" fill="#000"/>
<text x="131.1" y="2153.8" font-size="18.5" text-anchor="end">VP</text>
<line x1="180" y1="2155.3" x2="180" y2="2143.3" stroke="#111" stroke-width="1.1" />
<path d="M154.7 2157.3l.3 0 15.5-.2 4.7-.2 1.4-.3 .5-.2 .4-.2 .2-.2 .4-.3 .5-.2 .8-.2 1.2 0 .8 .2 .5 .2 .4 .3 .2 .2 .4 .2 .5 .2 1.4 .3 4.7 .2 15.5 .2 .3 0z" fill="#6A3DB4" stroke="#111" stroke-width="1.0" stroke-linejoin="round"/>
<ellipse cx="180" cy="2153.9" rx="3.6" ry="3.9" fill="#000"/>
<line x1="235.5" y1="2155.3" x2="235.5" y2="2147.3" stroke="#111" stroke-width="1.1" />
<path d="M210.2 2157.3l.3 0 15.5-.2 4.7-.2 1.4-.3 .5-.2 .4-.2 .2-.2 .4-.3 .5-.2 .8-.2 1.2 0 .8 .2 .5 .2 .4 .3 .2 .2 .4 .2 .5 .2 1.4 .3 4.7 .2 15.5 .2 .3 0z" fill="#9FE05E" stroke="#111" stroke-width="1.0" stroke-linejoin="round"/>
<ellipse cx="235.5" cy="2153.9" rx="3.6" ry="3.9" fill="#000"/>
<line x1="291.3" y1="2155.3" x2="291.3" y2="2133.3" stroke="#111" stroke-width="1.1" />
<path d="M266 2157.3l.3 0 15.5-.2 4.7-.2 1.4-.3 .5-.2 .4-.2 .2-.2 .4-.3 .5-.2 .8-.2 1.2 0 .8 .2 .5 .2 .4 .3 .2 .2 .4 .2 .5 .2 1.4 .3 4.7 .2 15.5 .2 .3 0z" fill="#4FE3CB" stroke="#111" stroke-width="1.0" stroke-linejoin="round"/>
<ellipse cx="291.3" cy="2153.9" rx="3.6" ry="3.9" fill="#000"/>
<line x1="346.9" y1="2155.3" x2="346.9" y2="2143.3" stroke="#111" stroke-width="1.1" />
<path d="M321.6 2157.3l.3 0 15.5-.2 4.7-.2 1.4-.3 .5-.2 .4-.2 .2-.2 .4-.3 .5-.2 .8-.2 1.2 0 .8 .2 .5 .2 .4 .3 .2 .2 .4 .2 .5 .2 1.4 .3 4.7 .2 15.5 .2 .3 0z" fill="#0F5C60" stroke="#111" stroke-width="1.0" stroke-linejoin="round"/>
<ellipse cx="346.9" cy="2153.9" rx="3.6" ry="3.9" fill="#000"/>
<text x="131.1" y="2177.8" font-size="18.5" text-anchor="end">LP</text>
<line x1="180" y1="2179.3" x2="180" y2="2163.3" stroke="#111" stroke-width="1.1" />
<path d="M154.7 2181.3l.3 0 15.5-.2 4.7-.2 1.4-.3 .5-.2 .4-.2 .2-.2 .4-.3 .5-.2 .8-.2 1.2 0 .8 .2 .5 .2 .4 .3 .2 .2 .4 .2 .5 .2 1.4 .3 4.7 .2 15.5 .2 .3 0z" fill="#6A3DB4" stroke="#111" stroke-width="1.0" stroke-linejoin="round"/>
<ellipse cx="180" cy="2177.9" rx="3.6" ry="3.9" fill="#000"/>
<line x1="235.5" y1="2179.3" x2="235.5" y2="2171.3" stroke="#111" stroke-width="1.1" />
<path d="M210.2 2181.3l.3 0 15.5-.2 4.7-.2 1.4-.3 .5-.2 .4-.2 .2-.2 .4-.3 .5-.2 .8-.2 1.2 0 .8 .2 .5 .2 .4 .3 .2 .2 .4 .2 .5 .2 1.4 .3 4.7 .2 15.5 .2 .3 0z" fill="#9FE05E" stroke="#111" stroke-width="1.0" stroke-linejoin="round"/>
<ellipse cx="235.5" cy="2177.9" rx="3.6" ry="3.9" fill="#000"/>
<line x1="291.3" y1="2179.3" x2="291.3" y2="2171.3" stroke="#111" stroke-width="1.1" />
<path d="M266 2181.3l.3 0 15.5-.2 4.7-.2 1.4-.3 .5-.2 .4-.2 .2-.2 .4-.3 .5-.2 .8-.2 1.2 0 .8 .2 .5 .2 .4 .3 .2 .2 .4 .2 .5 .2 1.4 .3 4.7 .2 15.5 .2 .3 0z" fill="#4FE3CB" stroke="#111" stroke-width="1.0" stroke-linejoin="round"/>
<ellipse cx="291.3" cy="2177.9" rx="3.6" ry="3.9" fill="#000"/>
<line x1="346.9" y1="2179.3" x2="346.9" y2="2157.3" stroke="#111" stroke-width="1.1" />
<path d="M321.6 2181.3l.3 0 15.5-.2 4.7-.2 1.4-.3 .5-.2 .4-.2 .2-.2 .4-.3 .5-.2 .8-.2 1.2 0 .8 .2 .5 .2 .4 .3 .2 .2 .4 .2 .5 .2 1.4 .3 4.7 .2 15.5 .2 .3 0z" fill="#0F5C60" stroke="#111" stroke-width="1.0" stroke-linejoin="round"/>
<ellipse cx="346.9" cy="2177.9" rx="3.6" ry="3.9" fill="#000"/>
<text x="131.1" y="2201.8" font-size="18.5" text-anchor="end">PO</text>
<line x1="180" y1="2203.3" x2="180" y2="2181.3" stroke="#111" stroke-width="1.1" />
<path d="M154.7 2205.3l.3 0 15.5-.2 4.7-.2 1.4-.3 .5-.2 .4-.2 .2-.2 .4-.3 .5-.2 .8-.2 1.2 0 .8 .2 .5 .2 .4 .3 .2 .2 .4 .2 .5 .2 1.4 .3 4.7 .2 15.5 .2 .3 0z" fill="#6A3DB4" stroke="#111" stroke-width="1.0" stroke-linejoin="round"/>
<ellipse cx="180" cy="2201.9" rx="3.6" ry="3.9" fill="#000"/>
<path d="M210.2 2205.3l.3 0 15.5-.1 4.7-.1 1.4-.1 .5-.1 .4-.2 .2-.1 .4-.1 .5-.1 .8-.1 1.2 0 .8 .1 .5 .1 .4 .1 .2 .1 .4 .2 .5 .1 1.4 .1 4.7 .1 15.5 .1 .3 0z" fill="#9FE05E" stroke="#111" stroke-width="1.0" stroke-linejoin="round"/>
<ellipse cx="235.5" cy="2201.9" rx="3.6" ry="3.9" fill="#000"/>
<line x1="291.3" y1="2203.3" x2="291.3" y2="2191.3" stroke="#111" stroke-width="1.1" />
<path d="M266 2205.3l.3 0 15.5-.2 4.7-.2 1.4-.3 .5-.2 .4-.2 .2-.2 .4-.3 .5-.2 .8-.2 1.2 0 .8 .2 .5 .2 .4 .3 .2 .2 .4 .2 .5 .2 1.4 .3 4.7 .2 15.5 .2 .3 0z" fill="#4FE3CB" stroke="#111" stroke-width="1.0" stroke-linejoin="round"/>
<ellipse cx="291.3" cy="2201.9" rx="3.6" ry="3.9" fill="#000"/>
<path d="M321.6 2205.3l.3 0 15.5-.1 4.7-.1 1.4-.1 .5-.1 .4-.2 .2-.1 .4-.1 .5-.1 .8-.1 1.2 0 .8 .1 .5 .1 .4 .1 .2 .1 .4 .2 .5 .1 1.4 .1 4.7 .1 15.5 .1 .3 0z" fill="#0F5C60" stroke="#111" stroke-width="1.0" stroke-linejoin="round"/>
<ellipse cx="346.9" cy="2201.9" rx="3.6" ry="3.9" fill="#000"/>
<text x="131.1" y="2225.8" font-size="18.5" text-anchor="end">AV</text>
<line x1="180" y1="2225.3" x2="180" y2="2211.3" stroke="#111" stroke-width="1.1" />
<path d="M154.7 2229.3l.3 0 14.8-.4 4.5-.5 1.4-.4 .6-.5 .3-.4 .4-.5 .5-.4 .7-.5 1.2-.4 1.2 0 1.2 .4 .7 .5 .5 .4 .4 .5 .3 .4 .6 .5 1.4 .4 4.5 .5 14.8 .4 .3 0z" fill="#6A3DB4" stroke="#111" stroke-width="1.0" stroke-linejoin="round"/>
<ellipse cx="180" cy="2225.9" rx="3.6" ry="3.9" fill="#000"/>
<line x1="235.5" y1="2223.3" x2="235.5" y2="2213.3" stroke="#111" stroke-width="1.1" />
<path d="M210.2 2229.3l.3 0 14.1-.7 4.3-.6 1.4-.7 .6-.7 .4-.6 .5-.7 .6-.7 .8-.6 1.7-.7 1.2 0 1.7 .7 .8 .6 .6 .7 .5 .7 .4 .6 .6 .7 1.4 .7 4.3 .6 14.1 .7 .3 0z" fill="#9FE05E" stroke="#111" stroke-width="1.0" stroke-linejoin="round"/>
<ellipse cx="235.5" cy="2225.9" rx="3.6" ry="3.9" fill="#000"/>
<line x1="291.3" y1="2217.3" x2="291.3" y2="2213.3" stroke="#111" stroke-width="1.1" />
<path d="M266 2229.3l.3 0 13.4-1.3 4.1-1.4 1.4-1.3 .6-1.3 .5-1.4 .5-1.3 .7-1.3 1.1-1.4 2.1-1.3 1.2 0 2.1 1.3 1.1 1.4 .7 1.3 .5 1.3 .5 1.4 .6 1.3 1.4 1.3 4.1 1.4 13.4 1.3 .3 0z" fill="#4FE3CB" stroke="#111" stroke-width="1.0" stroke-linejoin="round"/>
<ellipse cx="291.3" cy="2225.9" rx="3.6" ry="4.6" fill="#000"/>
<line x1="346.9" y1="2207.3" x2="346.9" y2="2205.3" stroke="#111" stroke-width="1.1" />
<path d="M321.6 2229.3l.3 0 12-2.4 3.7-2.5 1.3-2.4 .7-2.5 .6-2.4 .7-2.5 1-2.4 1.3-2.5 3.1-2.4 1.2 0 3.1 2.4 1.3 2.5 1 2.4 .7 2.5 .6 2.4 .7 2.5 1.3 2.4 3.7 2.5 12 2.4 .3 0z" fill="#0F5C60" stroke="#111" stroke-width="1.0" stroke-linejoin="round"/>
<ellipse cx="346.9" cy="2225.9" rx="3.6" ry="4.6" fill="#000"/>
<text x="131.1" y="2249.8" font-size="18.5" text-anchor="end">AM</text>
<line x1="180" y1="2241.3" x2="180" y2="2237.3" stroke="#111" stroke-width="1.1" />
<path d="M154.7 2253.3l.3 0 12.7-1.3 3.9-1.4 1.3-1.3 .7-1.3 .5-1.4 .7-1.3 .8-1.3 1.2-1.4 2.6-1.3 1.2 0 2.6 1.3 1.2 1.4 .8 1.3 .7 1.3 .5 1.4 .7 1.3 1.3 1.3 3.9 1.4 12.7 1.3 .3 0z" fill="#6A3DB4" stroke="#111" stroke-width="1.0" stroke-linejoin="round"/>
<ellipse cx="180" cy="2249.9" rx="3.6" ry="4.6" fill="#000"/>
<line x1="235.5" y1="2237.3" x2="235.5" y2="2235.3" stroke="#111" stroke-width="1.1" />
<path d="M210.2 2253.3l.3 0 10.6-1.8 3.3-1.8 1.3-1.7 .7-1.8 .8-1.8 .8-1.8 1.2-1.7 1.7-1.8 4-1.8 1.2 0 4 1.8 1.7 1.8 1.2 1.7 .8 1.8 .8 1.8 .7 1.8 1.3 1.7 3.3 1.8 10.6 1.8 .3 0z" fill="#9FE05E" stroke="#111" stroke-width="1.0" stroke-linejoin="round"/>
<ellipse cx="235.5" cy="2249.9" rx="3.6" ry="4.6" fill="#000"/>
<line x1="291.3" y1="2239.3" x2="291.3" y2="2237.3" stroke="#111" stroke-width="1.1" />
<path d="M266 2253.3l.3 0 13.4-1.6 4.1-1.5 1.4-1.6 .6-1.5 .5-1.6 .5-1.5 .7-1.6 1.1-1.5 2.1-1.6 1.2 0 2.1 1.6 1.1 1.5 .7 1.6 .5 1.5 .5 1.6 .6 1.5 1.4 1.6 4.1 1.5 13.4 1.6 .3 0z" fill="#4FE3CB" stroke="#111" stroke-width="1.0" stroke-linejoin="round"/>
<ellipse cx="291.3" cy="2249.9" rx="3.6" ry="4.6" fill="#000"/>
<line x1="346.9" y1="2237.3" x2="346.9" y2="2235.3" stroke="#111" stroke-width="1.1" />
<path d="M321.6 2253.3l.3 0 11.3-1.8 3.5-1.8 1.3-1.7 .7-1.8 .7-1.8 .8-1.8 1-1.7 1.6-1.8 3.5-1.8 1.2 0 3.5 1.8 1.6 1.8 1 1.7 .8 1.8 .7 1.8 .7 1.8 1.3 1.7 3.5 1.8 11.3 1.8 .3 0z" fill="#0F5C60" stroke="#111" stroke-width="1.0" stroke-linejoin="round"/>
<ellipse cx="346.9" cy="2249.9" rx="3.6" ry="4.6" fill="#000"/>
<text x="131.1" y="2273.8" font-size="18.5" text-anchor="end">AD</text>
<line x1="180" y1="2275.3" x2="180" y2="2269.3" stroke="#111" stroke-width="1.1" />
<path d="M154.7 2277.3l.3 0 15.5-.2 4.7-.2 1.4-.3 .5-.2 .4-.2 .2-.2 .4-.3 .5-.2 .8-.2 1.2 0 .8 .2 .5 .2 .4 .3 .2 .2 .4 .2 .5 .2 1.4 .3 4.7 .2 15.5 .2 .3 0z" fill="#6A3DB4" stroke="#111" stroke-width="1.0" stroke-linejoin="round"/>
<ellipse cx="180" cy="2273.9" rx="3.6" ry="3.9" fill="#000"/>
<line x1="235.5" y1="2267.3" x2="235.5" y2="2261.3" stroke="#111" stroke-width="1.1" />
<path d="M210.2 2277.3l.3 0 14.8-1.1 4.5-1.1 1.4-1.1 .6-1.1 .3-1.2 .4-1.1 .5-1.1 .7-1.1 1.2-1.1 1.2 0 1.2 1.1 .7 1.1 .5 1.1 .4 1.1 .3 1.2 .6 1.1 1.4 1.1 4.5 1.1 14.8 1.1 .3 0z" fill="#9FE05E" stroke="#111" stroke-width="1.0" stroke-linejoin="round"/>
<ellipse cx="235.5" cy="2273.9" rx="3.6" ry="4.6" fill="#000"/>
<line x1="291.3" y1="2275.3" x2="291.3" y2="2253.3" stroke="#111" stroke-width="1.1" />
<path d="M266 2277.3l.3 0 15.5-.2 4.7-.2 1.4-.3 .5-.2 .4-.2 .2-.2 .4-.3 .5-.2 .8-.2 1.2 0 .8 .2 .5 .2 .4 .3 .2 .2 .4 .2 .5 .2 1.4 .3 4.7 .2 15.5 .2 .3 0z" fill="#4FE3CB" stroke="#111" stroke-width="1.0" stroke-linejoin="round"/>
<ellipse cx="291.3" cy="2273.9" rx="3.6" ry="3.9" fill="#000"/>
<line x1="346.9" y1="2275.3" x2="346.9" y2="2257.3" stroke="#111" stroke-width="1.1" />
<path d="M321.6 2277.3l.3 0 15.5-.2 4.7-.2 1.4-.3 .5-.2 .4-.2 .2-.2 .4-.3 .5-.2 .8-.2 1.2 0 .8 .2 .5 .2 .4 .3 .2 .2 .4 .2 .5 .2 1.4 .3 4.7 .2 15.5 .2 .3 0z" fill="#0F5C60" stroke="#111" stroke-width="1.0" stroke-linejoin="round"/>
<ellipse cx="346.9" cy="2273.9" rx="3.6" ry="3.9" fill="#000"/>
<text x="131.1" y="2297.8" font-size="18.5" text-anchor="end">IAM</text>
<line x1="180" y1="2299.3" x2="180" y2="2291.3" stroke="#111" stroke-width="1.1" />
<path d="M154.7 2301.3l.3 0 15.5-.2 4.7-.2 1.4-.3 .5-.2 .4-.2 .2-.2 .4-.3 .5-.2 .8-.2 1.2 0 .8 .2 .5 .2 .4 .3 .2 .2 .4 .2 .5 .2 1.4 .3 4.7 .2 15.5 .2 .3 0z" fill="#6A3DB4" stroke="#111" stroke-width="1.0" stroke-linejoin="round"/>
<ellipse cx="180" cy="2297.9" rx="3.6" ry="3.9" fill="#000"/>
<line x1="235.5" y1="2299.3" x2="235.5" y2="2291.3" stroke="#111" stroke-width="1.1" />
<path d="M210.2 2301.3l.3 0 15.5-.2 4.7-.2 1.4-.3 .5-.2 .4-.2 .2-.2 .4-.3 .5-.2 .8-.2 1.2 0 .8 .2 .5 .2 .4 .3 .2 .2 .4 .2 .5 .2 1.4 .3 4.7 .2 15.5 .2 .3 0z" fill="#9FE05E" stroke="#111" stroke-width="1.0" stroke-linejoin="round"/>
<ellipse cx="235.5" cy="2297.9" rx="3.6" ry="3.9" fill="#000"/>
<line x1="291.3" y1="2299.3" x2="291.3" y2="2277.3" stroke="#111" stroke-width="1.1" />
<path d="M266 2301.3l.3 0 15.5-.2 4.7-.2 1.4-.3 .5-.2 .4-.2 .2-.2 .4-.3 .5-.2 .8-.2 1.2 0 .8 .2 .5 .2 .4 .3 .2 .2 .4 .2 .5 .2 1.4 .3 4.7 .2 15.5 .2 .3 0z" fill="#4FE3CB" stroke="#111" stroke-width="1.0" stroke-linejoin="round"/>
<ellipse cx="291.3" cy="2297.9" rx="3.6" ry="3.9" fill="#000"/>
<line x1="346.9" y1="2298.3" x2="346.9" y2="2292.3" stroke="#111" stroke-width="1.1" />
<path d="M321.6 2301.3l.3 0 15.5-.3 4.7-.4 1.4-.3 .5-.3 .4-.4 .2-.3 .4-.3 .5-.4 .8-.3 1.2 0 .8 .3 .5 .4 .4 .3 .2 .3 .4 .4 .5 .3 1.4 .3 4.7 .4 15.5 .3 .3 0z" fill="#0F5C60" stroke="#111" stroke-width="1.0" stroke-linejoin="round"/>
<ellipse cx="346.9" cy="2297.9" rx="3.6" ry="3.9" fill="#000"/>
<text x="131.1" y="2321.8" font-size="18.5" text-anchor="end">IAD</text>
<line x1="180" y1="2321.3" x2="180" y2="2307.3" stroke="#111" stroke-width="1.1" />
<path d="M154.7 2325.3l.3 0 14.8-.4 4.5-.5 1.4-.4 .6-.5 .3-.4 .4-.5 .5-.4 .7-.5 1.2-.4 1.2 0 1.2 .4 .7 .5 .5 .4 .4 .5 .3 .4 .6 .5 1.4 .4 4.5 .5 14.8 .4 .3 0z" fill="#6A3DB4" stroke="#111" stroke-width="1.0" stroke-linejoin="round"/>
<ellipse cx="180" cy="2321.9" rx="3.6" ry="3.9" fill="#000"/>
<line x1="235.5" y1="2321.3" x2="235.5" y2="2301.3" stroke="#111" stroke-width="1.1" />
<path d="M210.2 2325.3l.3 0 14.8-.4 4.5-.5 1.4-.4 .6-.5 .3-.4 .4-.5 .5-.4 .7-.5 1.2-.4 1.2 0 1.2 .4 .7 .5 .5 .4 .4 .5 .3 .4 .6 .5 1.4 .4 4.5 .5 14.8 .4 .3 0z" fill="#9FE05E" stroke="#111" stroke-width="1.0" stroke-linejoin="round"/>
<ellipse cx="235.5" cy="2321.9" rx="3.6" ry="3.9" fill="#000"/>
<line x1="291.3" y1="2321.3" x2="291.3" y2="2315.3" stroke="#111" stroke-width="1.1" />
<path d="M266 2325.3l.3 0 14.8-.4 4.5-.5 1.4-.4 .6-.5 .3-.4 .4-.5 .5-.4 .7-.5 1.2-.4 1.2 0 1.2 .4 .7 .5 .5 .4 .4 .5 .3 .4 .6 .5 1.4 .4 4.5 .5 14.8 .4 .3 0z" fill="#4FE3CB" stroke="#111" stroke-width="1.0" stroke-linejoin="round"/>
<ellipse cx="291.3" cy="2321.9" rx="3.6" ry="3.9" fill="#000"/>
<line x1="346.9" y1="2316.3" x2="346.9" y2="2314.3" stroke="#111" stroke-width="1.1" />
<path d="M321.6 2325.3l.3 0 11.3-1 3.5-1 1.3-1 .7-1 .7-1 .8-1 1-1 1.6-1 3.5-1 1.2 0 3.5 1 1.6 1 1 1 .8 1 .7 1 .7 1 1.3 1 3.5 1 11.3 1 .3 0z" fill="#0F5C60" stroke="#111" stroke-width="1.0" stroke-linejoin="round"/>
<ellipse cx="346.9" cy="2321.9" rx="3.6" ry="3.9" fill="#000"/>
<text x="131.1" y="2345.8" font-size="18.5" text-anchor="end">LD</text>
<line x1="180" y1="2347.3" x2="180" y2="2331.3" stroke="#111" stroke-width="1.1" />
<path d="M154.7 2349.3l.3 0 15.5-.2 4.7-.2 1.4-.3 .5-.2 .4-.2 .2-.2 .4-.3 .5-.2 .8-.2 1.2 0 .8 .2 .5 .2 .4 .3 .2 .2 .4 .2 .5 .2 1.4 .3 4.7 .2 15.5 .2 .3 0z" fill="#6A3DB4" stroke="#111" stroke-width="1.0" stroke-linejoin="round"/>
<ellipse cx="180" cy="2345.9" rx="3.6" ry="3.9" fill="#000"/>
<line x1="235.5" y1="2347.3" x2="235.5" y2="2337.3" stroke="#111" stroke-width="1.1" />
<path d="M210.2 2349.3l.3 0 15.5-.2 4.7-.2 1.4-.3 .5-.2 .4-.2 .2-.2 .4-.3 .5-.2 .8-.2 1.2 0 .8 .2 .5 .2 .4 .3 .2 .2 .4 .2 .5 .2 1.4 .3 4.7 .2 15.5 .2 .3 0z" fill="#9FE05E" stroke="#111" stroke-width="1.0" stroke-linejoin="round"/>
<ellipse cx="235.5" cy="2345.9" rx="3.6" ry="3.9" fill="#000"/>
<line x1="291.3" y1="2347.3" x2="291.3" y2="2329.3" stroke="#111" stroke-width="1.1" />
<path d="M266 2349.3l.3 0 15.5-.2 4.7-.2 1.4-.3 .5-.2 .4-.2 .2-.2 .4-.3 .5-.2 .8-.2 1.2 0 .8 .2 .5 .2 .4 .3 .2 .2 .4 .2 .5 .2 1.4 .3 4.7 .2 15.5 .2 .3 0z" fill="#4FE3CB" stroke="#111" stroke-width="1.0" stroke-linejoin="round"/>
<ellipse cx="291.3" cy="2345.9" rx="3.6" ry="3.9" fill="#000"/>
<line x1="346.9" y1="2347.3" x2="346.9" y2="2329.3" stroke="#111" stroke-width="1.1" />
<path d="M321.6 2349.3l.3 0 15.5-.2 4.7-.2 1.4-.3 .5-.2 .4-.2 .2-.2 .4-.3 .5-.2 .8-.2 1.2 0 .8 .2 .5 .2 .4 .3 .2 .2 .4 .2 .5 .2 1.4 .3 4.7 .2 15.5 .2 .3 0z" fill="#0F5C60" stroke="#111" stroke-width="1.0" stroke-linejoin="round"/>
<ellipse cx="346.9" cy="2345.9" rx="3.6" ry="3.9" fill="#000"/>
<text x="131.1" y="2369.8" font-size="18.5" text-anchor="end">IMD</text>
<line x1="180" y1="2371.3" x2="180" y2="2351.3" stroke="#111" stroke-width="1.1" />
<path d="M154.7 2373.3l.3 0 15.5-.2 4.7-.2 1.4-.3 .5-.2 .4-.2 .2-.2 .4-.3 .5-.2 .8-.2 1.2 0 .8 .2 .5 .2 .4 .3 .2 .2 .4 .2 .5 .2 1.4 .3 4.7 .2 15.5 .2 .3 0z" fill="#6A3DB4" stroke="#111" stroke-width="1.0" stroke-linejoin="round"/>
<ellipse cx="180" cy="2369.9" rx="3.6" ry="3.9" fill="#000"/>
<line x1="235.5" y1="2371.3" x2="235.5" y2="2361.3" stroke="#111" stroke-width="1.1" />
<path d="M210.2 2373.3l.3 0 15.5-.2 4.7-.2 1.4-.3 .5-.2 .4-.2 .2-.2 .4-.3 .5-.2 .8-.2 1.2 0 .8 .2 .5 .2 .4 .3 .2 .2 .4 .2 .5 .2 1.4 .3 4.7 .2 15.5 .2 .3 0z" fill="#9FE05E" stroke="#111" stroke-width="1.0" stroke-linejoin="round"/>
<ellipse cx="235.5" cy="2369.9" rx="3.6" ry="3.9" fill="#000"/>
<line x1="291.3" y1="2371.3" x2="291.3" y2="2353.3" stroke="#111" stroke-width="1.1" />
<path d="M266 2373.3l.3 0 15.5-.2 4.7-.2 1.4-.3 .5-.2 .4-.2 .2-.2 .4-.3 .5-.2 .8-.2 1.2 0 .8 .2 .5 .2 .4 .3 .2 .2 .4 .2 .5 .2 1.4 .3 4.7 .2 15.5 .2 .3 0z" fill="#4FE3CB" stroke="#111" stroke-width="1.0" stroke-linejoin="round"/>
<ellipse cx="291.3" cy="2369.9" rx="3.6" ry="3.9" fill="#000"/>
<line x1="346.9" y1="2371.3" x2="346.9" y2="2361.3" stroke="#111" stroke-width="1.1" />
<path d="M321.6 2373.3l.3 0 15.5-.2 4.7-.2 1.4-.3 .5-.2 .4-.2 .2-.2 .4-.3 .5-.2 .8-.2 1.2 0 .8 .2 .5 .2 .4 .3 .2 .2 .4 .2 .5 .2 1.4 .3 4.7 .2 15.5 .2 .3 0z" fill="#0F5C60" stroke="#111" stroke-width="1.0" stroke-linejoin="round"/>
<ellipse cx="346.9" cy="2369.9" rx="3.6" ry="3.9" fill="#000"/>
<text x="131.1" y="2393.8" font-size="18.5" text-anchor="end">MD</text>
<line x1="180" y1="2381.3" x2="180" y2="2379.3" stroke="#111" stroke-width="1.1" />
<path d="M154.7 2397.3l.3 0 3.7-1.8 1.4-1.8 .9-1.7 1-1.8 1.4-1.8 1.7-1.8 2.3-1.7 3.4-1.8 8.6-1.8 1.2 0 8.6 1.8 3.4 1.8 2.3 1.7 1.7 1.8 1.4 1.8 1 1.8 .9 1.7 1.4 1.8 3.7 1.8 .3 0z" fill="#6A3DB4" stroke="#111" stroke-width="1.0" stroke-linejoin="round"/>
<ellipse cx="180" cy="2393.9" rx="3.6" ry="4.6" fill="#000"/>
<line x1="235.5" y1="2384.3" x2="235.5" y2="2382.3" stroke="#111" stroke-width="1.1" />
<path d="M210.2 2397.3l.3 0 8.5-1.4 2.8-1.5 1.1-1.4 .9-1.5 .9-1.4 1.1-1.5 1.5-1.4 2.2-1.5 5.4-1.4 1.2 0 5.4 1.4 2.2 1.5 1.5 1.4 1.1 1.5 .9 1.4 .9 1.5 1.1 1.4 2.8 1.5 8.5 1.4 .3 0z" fill="#9FE05E" stroke="#111" stroke-width="1.0" stroke-linejoin="round"/>
<ellipse cx="235.5" cy="2393.9" rx="3.6" ry="4.6" fill="#000"/>
<line x1="291.3" y1="2380.3" x2="291.3" y2="2378.3" stroke="#111" stroke-width="1.1" />
<path d="M266 2397.3l.3 0 8.5-1.9 2.8-1.9 1.1-1.9 .9-1.9 .9-1.8 1.1-1.9 1.5-1.9 2.2-1.9 5.4-1.9 1.2 0 5.4 1.9 2.2 1.9 1.5 1.9 1.1 1.9 .9 1.8 .9 1.9 1.1 1.9 2.8 1.9 8.5 1.9 .3 0z" fill="#4FE3CB" stroke="#111" stroke-width="1.0" stroke-linejoin="round"/>
<ellipse cx="291.3" cy="2393.9" rx="3.6" ry="4.6" fill="#000"/>
<line x1="346.9" y1="2382.3" x2="346.9" y2="2380.3" stroke="#111" stroke-width="1.1" />
<path d="M321.6 2397.3l.3 0 7.1-1.7 2.4-1.6 1.1-1.7 .9-1.7 1-1.6 1.3-1.7 1.8-1.7 2.5-1.6 6.3-1.7 1.2 0 6.3 1.7 2.5 1.6 1.8 1.7 1.3 1.7 1 1.6 .9 1.7 1.1 1.7 2.4 1.6 7.1 1.7 .3 0z" fill="#0F5C60" stroke="#111" stroke-width="1.0" stroke-linejoin="round"/>
<ellipse cx="346.9" cy="2393.9" rx="3.6" ry="4.6" fill="#000"/>
<text x="131.1" y="2417.8" font-size="18.5" text-anchor="end">SMT</text>
<line x1="180" y1="2413.3" x2="180" y2="2411.3" stroke="#111" stroke-width="1.1" />
<path d="M154.7 2421.3l.3 0 14.1-.9 4.3-.9 1.4-.9 .6-.9 .4-.8 .5-.9 .6-.9 .8-.9 1.7-.9 1.2 0 1.7 .9 .8 .9 .6 .9 .5 .9 .4 .8 .6 .9 1.4 .9 4.3 .9 14.1 .9 .3 0z" fill="#6A3DB4" stroke="#111" stroke-width="1.0" stroke-linejoin="round"/>
<ellipse cx="180" cy="2417.9" rx="3.6" ry="3.9" fill="#000"/>
<line x1="235.5" y1="2419.3" x2="235.5" y2="2407.3" stroke="#111" stroke-width="1.1" />
<path d="M210.2 2421.3l.3 0 15.5-.2 4.7-.2 1.4-.3 .5-.2 .4-.2 .2-.2 .4-.3 .5-.2 .8-.2 1.2 0 .8 .2 .5 .2 .4 .3 .2 .2 .4 .2 .5 .2 1.4 .3 4.7 .2 15.5 .2 .3 0z" fill="#9FE05E" stroke="#111" stroke-width="1.0" stroke-linejoin="round"/>
<ellipse cx="235.5" cy="2417.9" rx="3.6" ry="3.9" fill="#000"/>
<line x1="291.3" y1="2407.3" x2="291.3" y2="2405.3" stroke="#111" stroke-width="1.1" />
<path d="M266 2421.3l.3 0 14.1-1.6 4.3-1.5 1.4-1.6 .6-1.5 .4-1.6 .5-1.5 .6-1.6 .8-1.5 1.7-1.6 1.2 0 1.7 1.6 .8 1.5 .6 1.6 .5 1.5 .4 1.6 .6 1.5 1.4 1.6 4.3 1.5 14.1 1.6 .3 0z" fill="#4FE3CB" stroke="#111" stroke-width="1.0" stroke-linejoin="round"/>
<ellipse cx="291.3" cy="2417.9" rx="3.6" ry="4.6" fill="#000"/>
<line x1="346.9" y1="2417.3" x2="346.9" y2="2395.3" stroke="#111" stroke-width="1.1" />
<path d="M321.6 2421.3l.3 0 14.8-.4 4.5-.5 1.4-.4 .6-.5 .3-.4 .4-.5 .5-.4 .7-.5 1.2-.4 1.2 0 1.2 .4 .7 .5 .5 .4 .4 .5 .3 .4 .6 .5 1.4 .4 4.5 .5 14.8 .4 .3 0z" fill="#0F5C60" stroke="#111" stroke-width="1.0" stroke-linejoin="round"/>
<ellipse cx="346.9" cy="2417.9" rx="3.6" ry="3.9" fill="#000"/>
<text x="131.1" y="2441.8" font-size="18.5" text-anchor="end">PR</text>
<line x1="180" y1="2443.3" x2="180" y2="2423.3" stroke="#111" stroke-width="1.1" />
<path d="M154.7 2445.3l.3 0 15.5-.2 4.7-.2 1.4-.3 .5-.2 .4-.2 .2-.2 .4-.3 .5-.2 .8-.2 1.2 0 .8 .2 .5 .2 .4 .3 .2 .2 .4 .2 .5 .2 1.4 .3 4.7 .2 15.5 .2 .3 0z" fill="#6A3DB4" stroke="#111" stroke-width="1.0" stroke-linejoin="round"/>
<ellipse cx="180" cy="2441.9" rx="3.6" ry="3.9" fill="#000"/>
<line x1="235.5" y1="2439.3" x2="235.5" y2="2435.3" stroke="#111" stroke-width="1.1" />
<path d="M210.2 2445.3l.3 0 14.8-.7 4.5-.6 1.4-.7 .6-.7 .3-.6 .4-.7 .5-.7 .7-.6 1.2-.7 1.2 0 1.2 .7 .7 .6 .5 .7 .4 .7 .3 .6 .6 .7 1.4 .7 4.5 .6 14.8 .7 .3 0z" fill="#9FE05E" stroke="#111" stroke-width="1.0" stroke-linejoin="round"/>
<ellipse cx="235.5" cy="2441.9" rx="3.6" ry="3.9" fill="#000"/>
<path d="M266 2445.3l.3 0 15.5-.1 4.7-.1 1.4-.1 .5-.1 .4-.2 .2-.1 .4-.1 .5-.1 .8-.1 1.2 0 .8 .1 .5 .1 .4 .1 .2 .1 .4 .2 .5 .1 1.4 .1 4.7 .1 15.5 .1 .3 0z" fill="#4FE3CB" stroke="#111" stroke-width="1.0" stroke-linejoin="round"/>
<ellipse cx="291.3" cy="2441.9" rx="3.6" ry="3.9" fill="#000"/>
<line x1="346.9" y1="2443.3" x2="346.9" y2="2419.3" stroke="#111" stroke-width="1.1" />
<path d="M321.6 2445.3l.3 0 15.5-.2 4.7-.2 1.4-.3 .5-.2 .4-.2 .2-.2 .4-.3 .5-.2 .8-.2 1.2 0 .8 .2 .5 .2 .4 .3 .2 .2 .4 .2 .5 .2 1.4 .3 4.7 .2 15.5 .2 .3 0z" fill="#0F5C60" stroke="#111" stroke-width="1.0" stroke-linejoin="round"/>
<ellipse cx="346.9" cy="2441.9" rx="3.6" ry="3.9" fill="#000"/>
<text x="131.1" y="2465.8" font-size="18.5" text-anchor="end">PVT</text>
<line x1="180" y1="2467.3" x2="180" y2="2445.3" stroke="#111" stroke-width="1.1" />
<path d="M154.7 2469.3l.3 0 15.5-.2 4.7-.2 1.4-.3 .5-.2 .4-.2 .2-.2 .4-.3 .5-.2 .8-.2 1.2 0 .8 .2 .5 .2 .4 .3 .2 .2 .4 .2 .5 .2 1.4 .3 4.7 .2 15.5 .2 .3 0z" fill="#6A3DB4" stroke="#111" stroke-width="1.0" stroke-linejoin="round"/>
<ellipse cx="180" cy="2465.9" rx="3.6" ry="3.9" fill="#000"/>
<line x1="235.5" y1="2451.3" x2="235.5" y2="2449.3" stroke="#111" stroke-width="1.1" />
<path d="M210.2 2469.3l.3 0 14.8-2 4.5-2 1.4-2 .6-2 .3-2 .4-2 .5-2 .7-2 1.2-2 1.2 0 1.2 2 .7 2 .5 2 .4 2 .3 2 .6 2 1.4 2 4.5 2 14.8 2 .3 0z" fill="#9FE05E" stroke="#111" stroke-width="1.0" stroke-linejoin="round"/>
<ellipse cx="235.5" cy="2465.9" rx="3.6" ry="4.6" fill="#000"/>
<path d="M266 2469.3l.3 0 15.5-.1 4.7-.1 1.4-.1 .5-.1 .4-.2 .2-.1 .4-.1 .5-.1 .8-.1 1.2 0 .8 .1 .5 .1 .4 .1 .2 .1 .4 .2 .5 .1 1.4 .1 4.7 .1 15.5 .1 .3 0z" fill="#4FE3CB" stroke="#111" stroke-width="1.0" stroke-linejoin="round"/>
<ellipse cx="291.3" cy="2465.9" rx="3.6" ry="3.9" fill="#000"/>
<path d="M321.6 2469.3l.3 0 15.5-.1 4.7-.1 1.4-.1 .5-.1 .4-.2 .2-.1 .4-.1 .5-.1 .8-.1 1.2 0 .8 .1 .5 .1 .4 .1 .2 .1 .4 .2 .5 .1 1.4 .1 4.7 .1 15.5 .1 .3 0z" fill="#0F5C60" stroke="#111" stroke-width="1.0" stroke-linejoin="round"/>
<ellipse cx="346.9" cy="2465.9" rx="3.6" ry="3.9" fill="#000"/>
<text x="131.1" y="2489.8" font-size="18.5" text-anchor="end">PT</text>
<line x1="180" y1="2491.3" x2="180" y2="2471.3" stroke="#111" stroke-width="1.1" />
<path d="M154.7 2493.3l.3 0 15.5-.2 4.7-.2 1.4-.3 .5-.2 .4-.2 .2-.2 .4-.3 .5-.2 .8-.2 1.2 0 .8 .2 .5 .2 .4 .3 .2 .2 .4 .2 .5 .2 1.4 .3 4.7 .2 15.5 .2 .3 0z" fill="#6A3DB4" stroke="#111" stroke-width="1.0" stroke-linejoin="round"/>
<ellipse cx="180" cy="2489.9" rx="3.6" ry="3.9" fill="#000"/>
<line x1="235.5" y1="2472.3" x2="235.5" y2="2470.3" stroke="#111" stroke-width="1.1" />
<path d="M210.2 2493.3l.3 0 7.8-2.3 2.6-2.4 1.1-2.3 .9-2.3 .9-2.4 1.3-2.3 1.6-2.3 2.4-2.4 5.8-2.3 1.2 0 5.8 2.3 2.4 2.4 1.6 2.3 1.3 2.3 .9 2.4 .9 2.3 1.1 2.3 2.6 2.4 7.8 2.3 .3 0z" fill="#9FE05E" stroke="#111" stroke-width="1.0" stroke-linejoin="round"/>
<ellipse cx="235.5" cy="2489.9" rx="3.6" ry="4.6" fill="#000"/>
<path d="M266 2493.3l.3 0 15.5-.1 4.7-.1 1.4-.1 .5-.1 .4-.2 .2-.1 .4-.1 .5-.1 .8-.1 1.2 0 .8 .1 .5 .1 .4 .1 .2 .1 .4 .2 .5 .1 1.4 .1 4.7 .1 15.5 .1 .3 0z" fill="#4FE3CB" stroke="#111" stroke-width="1.0" stroke-linejoin="round"/>
<ellipse cx="291.3" cy="2489.9" rx="3.6" ry="3.9" fill="#000"/>
<line x1="346.9" y1="2491.3" x2="346.9" y2="2481.3" stroke="#111" stroke-width="1.1" />
<path d="M321.6 2493.3l.3 0 15.5-.2 4.7-.2 1.4-.3 .5-.2 .4-.2 .2-.2 .4-.3 .5-.2 .8-.2 1.2 0 .8 .2 .5 .2 .4 .3 .2 .2 .4 .2 .5 .2 1.4 .3 4.7 .2 15.5 .2 .3 0z" fill="#0F5C60" stroke="#111" stroke-width="1.0" stroke-linejoin="round"/>
<ellipse cx="346.9" cy="2489.9" rx="3.6" ry="3.9" fill="#000"/>
<text x="131.1" y="2513.8" font-size="18.5" text-anchor="end">RE</text>
<line x1="180" y1="2515.3" x2="180" y2="2493.3" stroke="#111" stroke-width="1.1" />
<path d="M154.7 2517.3l.3 0 15.5-.2 4.7-.2 1.4-.3 .5-.2 .4-.2 .2-.2 .4-.3 .5-.2 .8-.2 1.2 0 .8 .2 .5 .2 .4 .3 .2 .2 .4 .2 .5 .2 1.4 .3 4.7 .2 15.5 .2 .3 0z" fill="#6A3DB4" stroke="#111" stroke-width="1.0" stroke-linejoin="round"/>
<ellipse cx="180" cy="2513.9" rx="3.6" ry="3.9" fill="#000"/>
<line x1="235.5" y1="2503.3" x2="235.5" y2="2501.3" stroke="#111" stroke-width="1.1" />
<path d="M210.2 2517.3l.3 0 13.4-1.6 4.1-1.5 1.4-1.6 .6-1.5 .5-1.6 .5-1.5 .7-1.6 1.1-1.5 2.1-1.6 1.2 0 2.1 1.6 1.1 1.5 .7 1.6 .5 1.5 .5 1.6 .6 1.5 1.4 1.6 4.1 1.5 13.4 1.6 .3 0z" fill="#9FE05E" stroke="#111" stroke-width="1.0" stroke-linejoin="round"/>
<ellipse cx="235.5" cy="2513.9" rx="3.6" ry="4.6" fill="#000"/>
<line x1="291.3" y1="2515.3" x2="291.3" y2="2507.3" stroke="#111" stroke-width="1.1" />
<path d="M266 2517.3l.3 0 15.5-.2 4.7-.2 1.4-.3 .5-.2 .4-.2 .2-.2 .4-.3 .5-.2 .8-.2 1.2 0 .8 .2 .5 .2 .4 .3 .2 .2 .4 .2 .5 .2 1.4 .3 4.7 .2 15.5 .2 .3 0z" fill="#4FE3CB" stroke="#111" stroke-width="1.0" stroke-linejoin="round"/>
<ellipse cx="291.3" cy="2513.9" rx="3.6" ry="3.9" fill="#000"/>
<line x1="346.9" y1="2515.3" x2="346.9" y2="2499.3" stroke="#111" stroke-width="1.1" />
<path d="M321.6 2517.3l.3 0 15.5-.2 4.7-.2 1.4-.3 .5-.2 .4-.2 .2-.2 .4-.3 .5-.2 .8-.2 1.2 0 .8 .2 .5 .2 .4 .3 .2 .2 .4 .2 .5 .2 1.4 .3 4.7 .2 15.5 .2 .3 0z" fill="#0F5C60" stroke="#111" stroke-width="1.0" stroke-linejoin="round"/>
<ellipse cx="346.9" cy="2513.9" rx="3.6" ry="3.9" fill="#000"/>
<text x="131.1" y="2537.8" font-size="18.5" text-anchor="end">RH</text>
<path d="M154.7 2541.3l.3 0 15.5-.1 4.7-.1 1.4-.1 .5-.1 .4-.2 .2-.1 .4-.1 .5-.1 .8-.1 1.2 0 .8 .1 .5 .1 .4 .1 .2 .1 .4 .2 .5 .1 1.4 .1 4.7 .1 15.5 .1 .3 0z" fill="#6A3DB4" stroke="#111" stroke-width="1.0" stroke-linejoin="round"/>
<ellipse cx="180" cy="2537.9" rx="3.6" ry="3.9" fill="#000"/>
<line x1="235.5" y1="2538.3" x2="235.5" y2="2536.3" stroke="#111" stroke-width="1.1" />
<path d="M210.2 2541.3l.3 0 14.8-.3 4.5-.4 1.4-.3 .6-.3 .3-.4 .4-.3 .5-.3 .7-.4 1.2-.3 1.2 0 1.2 .3 .7 .4 .5 .3 .4 .3 .3 .4 .6 .3 1.4 .3 4.5 .4 14.8 .3 .3 0z" fill="#9FE05E" stroke="#111" stroke-width="1.0" stroke-linejoin="round"/>
<ellipse cx="235.5" cy="2537.9" rx="3.6" ry="3.9" fill="#000"/>
<line x1="291.3" y1="2537.3" x2="291.3" y2="2513.3" stroke="#111" stroke-width="1.1" />
<path d="M266 2541.3l.3 0 15.5-.4 4.7-.5 1.4-.4 .5-.5 .4-.4 .2-.5 .4-.4 .5-.5 .8-.4 1.2 0 .8 .4 .5 .5 .4 .4 .2 .5 .4 .4 .5 .5 1.4 .4 4.7 .5 15.5 .4 .3 0z" fill="#4FE3CB" stroke="#111" stroke-width="1.0" stroke-linejoin="round"/>
<ellipse cx="291.3" cy="2537.9" rx="3.6" ry="3.9" fill="#000"/>
<line x1="346.9" y1="2539.3" x2="346.9" y2="2529.3" stroke="#111" stroke-width="1.1" />
<path d="M321.6 2541.3l.3 0 15.5-.2 4.7-.2 1.4-.3 .5-.2 .4-.2 .2-.2 .4-.3 .5-.2 .8-.2 1.2 0 .8 .2 .5 .2 .4 .3 .2 .2 .4 .2 .5 .2 1.4 .3 4.7 .2 15.5 .2 .3 0z" fill="#0F5C60" stroke="#111" stroke-width="1.0" stroke-linejoin="round"/>
<ellipse cx="346.9" cy="2537.9" rx="3.6" ry="3.9" fill="#000"/>
<text x="131.1" y="2561.8" font-size="18.5" text-anchor="end">CM</text>
<line x1="180" y1="2555.3" x2="180" y2="2553.3" stroke="#111" stroke-width="1.1" />
<path d="M154.7 2565.3l.3 0 13.4-1.1 4.1-1.1 1.4-1.1 .6-1.1 .5-1.2 .5-1.1 .7-1.1 1.1-1.1 2.1-1.1 1.2 0 2.1 1.1 1.1 1.1 .7 1.1 .5 1.1 .5 1.2 .6 1.1 1.4 1.1 4.1 1.1 13.4 1.1 .3 0z" fill="#6A3DB4" stroke="#111" stroke-width="1.0" stroke-linejoin="round"/>
<ellipse cx="180" cy="2561.9" rx="3.6" ry="4.6" fill="#000"/>
<line x1="235.5" y1="2563.3" x2="235.5" y2="2553.3" stroke="#111" stroke-width="1.1" />
<path d="M210.2 2565.3l.3 0 15.5-.2 4.7-.2 1.4-.3 .5-.2 .4-.2 .2-.2 .4-.3 .5-.2 .8-.2 1.2 0 .8 .2 .5 .2 .4 .3 .2 .2 .4 .2 .5 .2 1.4 .3 4.7 .2 15.5 .2 .3 0z" fill="#9FE05E" stroke="#111" stroke-width="1.0" stroke-linejoin="round"/>
<ellipse cx="235.5" cy="2561.9" rx="3.6" ry="3.9" fill="#000"/>
<line x1="291.3" y1="2561.3" x2="291.3" y2="2537.3" stroke="#111" stroke-width="1.1" />
<path d="M266 2565.3l.3 0 15.5-.4 4.7-.5 1.4-.4 .5-.5 .4-.4 .2-.5 .4-.4 .5-.5 .8-.4 1.2 0 .8 .4 .5 .5 .4 .4 .2 .5 .4 .4 .5 .5 1.4 .4 4.7 .5 15.5 .4 .3 0z" fill="#4FE3CB" stroke="#111" stroke-width="1.0" stroke-linejoin="round"/>
<ellipse cx="291.3" cy="2561.9" rx="3.6" ry="3.9" fill="#000"/>
<line x1="346.9" y1="2553.3" x2="346.9" y2="2549.3" stroke="#111" stroke-width="1.1" />
<path d="M321.6 2565.3l.3 0 14.1-1.3 4.3-1.4 1.4-1.3 .6-1.3 .4-1.4 .5-1.3 .6-1.3 .8-1.4 1.7-1.3 1.2 0 1.7 1.3 .8 1.4 .6 1.3 .5 1.3 .4 1.4 .6 1.3 1.4 1.3 4.3 1.4 14.1 1.3 .3 0z" fill="#0F5C60" stroke="#111" stroke-width="1.0" stroke-linejoin="round"/>
<ellipse cx="346.9" cy="2561.9" rx="3.6" ry="4.6" fill="#000"/>
<text x="131.1" y="2585.8" font-size="18.5" text-anchor="end">PCN</text>
<line x1="180" y1="2587.3" x2="180" y2="2571.3" stroke="#111" stroke-width="1.1" />
<path d="M154.7 2589.3l.3 0 15.5-.2 4.7-.2 1.4-.3 .5-.2 .4-.2 .2-.2 .4-.3 .5-.2 .8-.2 1.2 0 .8 .2 .5 .2 .4 .3 .2 .2 .4 .2 .5 .2 1.4 .3 4.7 .2 15.5 .2 .3 0z" fill="#6A3DB4" stroke="#111" stroke-width="1.0" stroke-linejoin="round"/>
<ellipse cx="180" cy="2585.9" rx="3.6" ry="3.9" fill="#000"/>
<line x1="235.5" y1="2587.3" x2="235.5" y2="2569.3" stroke="#111" stroke-width="1.1" />
<path d="M210.2 2589.3l.3 0 15.5-.2 4.7-.2 1.4-.3 .5-.2 .4-.2 .2-.2 .4-.3 .5-.2 .8-.2 1.2 0 .8 .2 .5 .2 .4 .3 .2 .2 .4 .2 .5 .2 1.4 .3 4.7 .2 15.5 .2 .3 0z" fill="#9FE05E" stroke="#111" stroke-width="1.0" stroke-linejoin="round"/>
<ellipse cx="235.5" cy="2585.9" rx="3.6" ry="3.9" fill="#000"/>
<line x1="291.3" y1="2587.3" x2="291.3" y2="2567.3" stroke="#111" stroke-width="1.1" />
<path d="M266 2589.3l.3 0 15.5-.2 4.7-.2 1.4-.3 .5-.2 .4-.2 .2-.2 .4-.3 .5-.2 .8-.2 1.2 0 .8 .2 .5 .2 .4 .3 .2 .2 .4 .2 .5 .2 1.4 .3 4.7 .2 15.5 .2 .3 0z" fill="#4FE3CB" stroke="#111" stroke-width="1.0" stroke-linejoin="round"/>
<ellipse cx="291.3" cy="2585.9" rx="3.6" ry="3.9" fill="#000"/>
<line x1="346.9" y1="2587.3" x2="346.9" y2="2567.3" stroke="#111" stroke-width="1.1" />
<path d="M321.6 2589.3l.3 0 15.5-.2 4.7-.2 1.4-.3 .5-.2 .4-.2 .2-.2 .4-.3 .5-.2 .8-.2 1.2 0 .8 .2 .5 .2 .4 .3 .2 .2 .4 .2 .5 .2 1.4 .3 4.7 .2 15.5 .2 .3 0z" fill="#0F5C60" stroke="#111" stroke-width="1.0" stroke-linejoin="round"/>
<ellipse cx="346.9" cy="2585.9" rx="3.6" ry="3.9" fill="#000"/>
<text x="131.1" y="2609.8" font-size="18.5" text-anchor="end">CL</text>
<line x1="180" y1="2595.3" x2="180" y2="2593.3" stroke="#111" stroke-width="1.1" />
<path d="M154.7 2613.3l.3 0 12-2 3.7-2 1.3-2 .7-2 .6-2 .7-2 1-2 1.3-2 3.1-2 1.2 0 3.1 2 1.3 2 1 2 .7 2 .6 2 .7 2 1.3 2 3.7 2 12 2 .3 0z" fill="#6A3DB4" stroke="#111" stroke-width="1.0" stroke-linejoin="round"/>
<ellipse cx="180" cy="2609.9" rx="3.6" ry="4.6" fill="#000"/>
<line x1="235.5" y1="2596.3" x2="235.5" y2="2594.3" stroke="#111" stroke-width="1.1" />
<path d="M210.2 2613.3l.3 0 9.9-1.9 3.2-1.9 1.2-1.9 .7-1.9 .8-1.8 1-1.9 1.3-1.9 1.9-1.9 4.4-1.9 1.2 0 4.4 1.9 1.9 1.9 1.3 1.9 1 1.9 .8 1.8 .7 1.9 1.2 1.9 3.2 1.9 9.9 1.9 .3 0z" fill="#9FE05E" stroke="#111" stroke-width="1.0" stroke-linejoin="round"/>
<ellipse cx="235.5" cy="2609.9" rx="3.6" ry="4.6" fill="#000"/>
<line x1="291.3" y1="2597.3" x2="291.3" y2="2595.3" stroke="#111" stroke-width="1.1" />
<path d="M266 2613.3l.3 0 12-1.8 3.7-1.8 1.3-1.7 .7-1.8 .6-1.8 .7-1.8 1-1.7 1.3-1.8 3.1-1.8 1.2 0 3.1 1.8 1.3 1.8 1 1.7 .7 1.8 .6 1.8 .7 1.8 1.3 1.7 3.7 1.8 12 1.8 .3 0z" fill="#4FE3CB" stroke="#111" stroke-width="1.0" stroke-linejoin="round"/>
<ellipse cx="291.3" cy="2609.9" rx="3.6" ry="4.6" fill="#000"/>
<line x1="346.9" y1="2599.3" x2="346.9" y2="2597.3" stroke="#111" stroke-width="1.1" />
<path d="M321.6 2613.3l.3 0 12-1.6 3.7-1.5 1.3-1.6 .7-1.5 .6-1.6 .7-1.5 1-1.6 1.3-1.5 3.1-1.6 1.2 0 3.1 1.6 1.3 1.5 1 1.6 .7 1.5 .6 1.6 .7 1.5 1.3 1.6 3.7 1.5 12 1.6 .3 0z" fill="#0F5C60" stroke="#111" stroke-width="1.0" stroke-linejoin="round"/>
<ellipse cx="346.9" cy="2609.9" rx="3.6" ry="4.6" fill="#000"/>
<text x="131.1" y="2633.8" font-size="18.5" text-anchor="end">PF</text>
<line x1="180" y1="2623.3" x2="180" y2="2621.3" stroke="#111" stroke-width="1.1" />
<path d="M154.7 2637.3l.3 0 14.1-1.6 4.3-1.5 1.4-1.6 .6-1.5 .4-1.6 .5-1.5 .6-1.6 .8-1.5 1.7-1.6 1.2 0 1.7 1.6 .8 1.5 .6 1.6 .5 1.5 .4 1.6 .6 1.5 1.4 1.6 4.3 1.5 14.1 1.6 .3 0z" fill="#6A3DB4" stroke="#111" stroke-width="1.0" stroke-linejoin="round"/>
<ellipse cx="180" cy="2633.9" rx="3.6" ry="4.6" fill="#000"/>
<line x1="235.5" y1="2635.3" x2="235.5" y2="2627.3" stroke="#111" stroke-width="1.1" />
<path d="M210.2 2637.3l.3 0 15.5-.2 4.7-.2 1.4-.3 .5-.2 .4-.2 .2-.2 .4-.3 .5-.2 .8-.2 1.2 0 .8 .2 .5 .2 .4 .3 .2 .2 .4 .2 .5 .2 1.4 .3 4.7 .2 15.5 .2 .3 0z" fill="#9FE05E" stroke="#111" stroke-width="1.0" stroke-linejoin="round"/>
<ellipse cx="235.5" cy="2633.9" rx="3.6" ry="3.9" fill="#000"/>
<line x1="291.3" y1="2635.3" x2="291.3" y2="2613.3" stroke="#111" stroke-width="1.1" />
<path d="M266 2637.3l.3 0 15.5-.2 4.7-.2 1.4-.3 .5-.2 .4-.2 .2-.2 .4-.3 .5-.2 .8-.2 1.2 0 .8 .2 .5 .2 .4 .3 .2 .2 .4 .2 .5 .2 1.4 .3 4.7 .2 15.5 .2 .3 0z" fill="#4FE3CB" stroke="#111" stroke-width="1.0" stroke-linejoin="round"/>
<ellipse cx="291.3" cy="2633.9" rx="3.6" ry="3.9" fill="#000"/>
<line x1="346.9" y1="2635.3" x2="346.9" y2="2613.3" stroke="#111" stroke-width="1.1" />
<path d="M321.6 2637.3l.3 0 15.5-.2 4.7-.2 1.4-.3 .5-.2 .4-.2 .2-.2 .4-.3 .5-.2 .8-.2 1.2 0 .8 .2 .5 .2 .4 .3 .2 .2 .4 .2 .5 .2 1.4 .3 4.7 .2 15.5 .2 .3 0z" fill="#0F5C60" stroke="#111" stroke-width="1.0" stroke-linejoin="round"/>
<ellipse cx="346.9" cy="2633.9" rx="3.6" ry="3.9" fill="#000"/>
<text x="131.1" y="2657.8" font-size="18.5" text-anchor="end">RT</text>
<line x1="180" y1="2644.3" x2="180" y2="2642.3" stroke="#111" stroke-width="1.1" />
<path d="M154.7 2661.3l.3 0 9.9-1.9 3.2-1.9 1.2-1.9 .7-1.9 .8-1.8 1-1.9 1.3-1.9 1.9-1.9 4.4-1.9 1.2 0 4.4 1.9 1.9 1.9 1.3 1.9 1 1.9 .8 1.8 .7 1.9 1.2 1.9 3.2 1.9 9.9 1.9 .3 0z" fill="#6A3DB4" stroke="#111" stroke-width="1.0" stroke-linejoin="round"/>
<ellipse cx="180" cy="2657.9" rx="3.6" ry="4.6" fill="#000"/>
<line x1="235.5" y1="2641.3" x2="235.5" y2="2639.3" stroke="#111" stroke-width="1.1" />
<path d="M210.2 2661.3l.3 0 5.7-2.2 2-2.2 1.1-2.3 .9-2.2 1.1-2.2 1.5-2.2 2-2.3 2.9-2.2 7.2-2.2 1.2 0 7.2 2.2 2.9 2.2 2 2.3 1.5 2.2 1.1 2.2 .9 2.2 1.1 2.3 2 2.2 5.7 2.2 .3 0z" fill="#9FE05E" stroke="#111" stroke-width="1.0" stroke-linejoin="round"/>
<ellipse cx="235.5" cy="2657.9" rx="3.6" ry="4.6" fill="#000"/>
<line x1="291.3" y1="2647.3" x2="291.3" y2="2645.3" stroke="#111" stroke-width="1.1" />
<path d="M266 2661.3l.3 0 9.2-1.6 3-1.5 1.2-1.6 .8-1.5 .8-1.6 1-1.5 1.5-1.6 2-1.5 4.9-1.6 1.2 0 4.9 1.6 2 1.5 1.5 1.6 1 1.5 .8 1.6 .8 1.5 1.2 1.6 3 1.5 9.2 1.6 .3 0z" fill="#4FE3CB" stroke="#111" stroke-width="1.0" stroke-linejoin="round"/>
<ellipse cx="291.3" cy="2657.9" rx="3.6" ry="4.6" fill="#000"/>
<line x1="346.9" y1="2645.3" x2="346.9" y2="2643.3" stroke="#111" stroke-width="1.1" />
<path d="M321.6 2661.3l.3 0 7.8-1.8 2.6-1.8 1.1-1.7 .9-1.8 .9-1.8 1.3-1.8 1.6-1.7 2.4-1.8 5.8-1.8 1.2 0 5.8 1.8 2.4 1.8 1.6 1.7 1.3 1.8 .9 1.8 .9 1.8 1.1 1.7 2.6 1.8 7.8 1.8 .3 0z" fill="#0F5C60" stroke="#111" stroke-width="1.0" stroke-linejoin="round"/>
<ellipse cx="346.9" cy="2657.9" rx="3.6" ry="4.6" fill="#000"/>
<text x="131.1" y="2681.8" font-size="18.5" text-anchor="end">LH</text>
<path d="M154.7 2685.3l.3 0 15.5-.1 4.7-.1 1.4-.1 .5-.1 .4-.2 .2-.1 .4-.1 .5-.1 .8-.1 1.2 0 .8 .1 .5 .1 .4 .1 .2 .1 .4 .2 .5 .1 1.4 .1 4.7 .1 15.5 .1 .3 0z" fill="#6A3DB4" stroke="#111" stroke-width="1.0" stroke-linejoin="round"/>
<ellipse cx="180" cy="2681.9" rx="3.6" ry="3.9" fill="#000"/>
<line x1="235.5" y1="2683.3" x2="235.5" y2="2659.3" stroke="#111" stroke-width="1.1" />
<path d="M210.2 2685.3l.3 0 15.5-.2 4.7-.2 1.4-.3 .5-.2 .4-.2 .2-.2 .4-.3 .5-.2 .8-.2 1.2 0 .8 .2 .5 .2 .4 .3 .2 .2 .4 .2 .5 .2 1.4 .3 4.7 .2 15.5 .2 .3 0z" fill="#9FE05E" stroke="#111" stroke-width="1.0" stroke-linejoin="round"/>
<ellipse cx="235.5" cy="2681.9" rx="3.6" ry="3.9" fill="#000"/>
<path d="M266 2685.3l.3 0 15.5-.1 4.7-.1 1.4-.1 .5-.1 .4-.2 .2-.1 .4-.1 .5-.1 .8-.1 1.2 0 .8 .1 .5 .1 .4 .1 .2 .1 .4 .2 .5 .1 1.4 .1 4.7 .1 15.5 .1 .3 0z" fill="#4FE3CB" stroke="#111" stroke-width="1.0" stroke-linejoin="round"/>
<ellipse cx="291.3" cy="2681.9" rx="3.6" ry="3.9" fill="#000"/>
<path d="M321.6 2685.3l.3 0 15.5-.1 4.7-.1 1.4-.1 .5-.1 .4-.2 .2-.1 .4-.1 .5-.1 .8-.1 1.2 0 .8 .1 .5 .1 .4 .1 .2 .1 .4 .2 .5 .1 1.4 .1 4.7 .1 15.5 .1 .3 0z" fill="#0F5C60" stroke="#111" stroke-width="1.0" stroke-linejoin="round"/>
<ellipse cx="346.9" cy="2681.9" rx="3.6" ry="3.9" fill="#000"/>
<text x="62" y="2300" font-size="29.3" text-anchor="middle" transform="rotate(-90 62 2300)">Target regions</text>
<text x="445.9" y="1623.2" font-size="38" font-weight="bold">g</text>
<text x="485.1" y="1623.2" font-size="26.2">Correlation between dendrite morphology and</text>
<text x="485.1" y="1654.6" font-size="26.2">axon projection bias (VM vs RT) in ACA/PL/MOs</text>
<line x1="632.7" y1="1711.5" x2="632.7" y2="2006" stroke="#000" stroke-width="1.6" stroke-dasharray="11 6.5"/>
<line x1="795.2" y1="1711.5" x2="795.2" y2="2006" stroke="#000" stroke-width="1.6" stroke-dasharray="11 6.5"/>
<line x1="563" y1="1877.1" x2="905" y2="1877.1" stroke="#000" stroke-width="1.6" stroke-dasharray="11 6.5"/>
<line x1="562.8" y1="1703.6" x2="562.8" y2="2007.4" stroke="#222" stroke-width="1.6" />
<line x1="562" y1="2006.6" x2="905.1" y2="2006.6" stroke="#222" stroke-width="1.6" />
<line x1="553" y1="1994" x2="562.8" y2="1994" stroke="#333" stroke-width="3" />
<text x="544" y="2000.3" font-size="17.5" text-anchor="end" fill="#4d4d4d">0</text>
<line x1="553" y1="1904.1" x2="562.8" y2="1904.1" stroke="#333" stroke-width="3" />
<text x="544" y="1910.4" font-size="17.5" text-anchor="end" fill="#4d4d4d">1</text>
<line x1="553" y1="1814.2" x2="562.8" y2="1814.2" stroke="#333" stroke-width="3" />
<text x="544" y="1820.5" font-size="17.5" text-anchor="end" fill="#4d4d4d">2</text>
<line x1="553" y1="1724.3" x2="562.8" y2="1724.3" stroke="#333" stroke-width="3" />
<text x="544" y="1730.6" font-size="17.5" text-anchor="end" fill="#4d4d4d">3</text>
<line x1="632.8" y1="2006.6" x2="632.8" y2="2016" stroke="#333" stroke-width="3" />
<text x="632.8" y="2038.8" font-size="17.5" text-anchor="middle" fill="#4d4d4d">−0.2</text>
<line x1="713.9" y1="2006.6" x2="713.9" y2="2016" stroke="#333" stroke-width="3" />
<text x="713.9" y="2038.8" font-size="17.5" text-anchor="middle" fill="#4d4d4d">0.0</text>
<line x1="795" y1="2006.6" x2="795" y2="2016" stroke="#333" stroke-width="3" />
<text x="795" y="2038.8" font-size="17.5" text-anchor="middle" fill="#4d4d4d">0.2</text>
<line x1="876.2" y1="2006.6" x2="876.2" y2="2016" stroke="#333" stroke-width="3" />
<text x="876.2" y="2038.8" font-size="17.5" text-anchor="middle" fill="#4d4d4d">0.4</text>
<text x="743.7" y="2068.6" font-size="25.3" text-anchor="middle">Pearson’s correlation coefficient</text>
<text x="520.5" y="1854.7" font-size="25" text-anchor="middle" transform="rotate(-90 520.5 1854.7)">−log10 (p−value)</text>
<path d="M607.6 1894h0m5.1 9.8h0m20 42h0m15.3 16.9h0m9.8 9h0m7.9 .8h0m9.8 1.9h0m7.8 4h0m7.9 3.9h0m7.8 3.9h0m7.9 3.9h0m7.8 2h0m7.9-2h0m7.8-2.7h0m19.6-13h0m15-.8h0m14.5-10.9h0m5.9-4h0m39.2-71.4h0m-153 86.3h0m7.8 2.8h0m15.7 7.8h0m15.7 7.1h0m7.8 0h0m7.9-2.4h0" stroke="#BEBEBE" stroke-width="11" stroke-linecap="round" fill="none" />
<circle cx="578.1" cy="1826.5" r="5.6" fill="#4A6FE0" />
<circle cx="890.2" cy="1716.2" r="5.6" fill="#F0434F" />
<circle cx="877.6" cy="1745.6" r="5.6" fill="#F0434F" />
<circle cx="862.7" cy="1788" r="5.6" fill="#F0434F" />
<circle cx="840.3" cy="1847.3" r="5.6" fill="#F0434F" />
<text x="753.2" y="1691.9" font-size="18.1" fill="#E8495A">Global-Height</text>
<text x="674.3" y="1729.1" font-size="18.1" fill="#E8495A">Global-Max Euclidean</text>
<text x="674.3" y="1751.5" font-size="18.1" fill="#E8495A">distance to soma</text>
<text x="720.6" y="1786.8" font-size="18.1" fill="#E8495A">Trunk-Length</text>
<text x="581.3" y="1808.4" font-size="18.1" fill="#4A6FD0">Global-Width</text>
<text x="706.1" y="1841" font-size="18.1" fill="#E8495A">Trunk-Radius</text>
<line x1="872.9" y1="1703.6" x2="881.5" y2="1709.5" stroke="#000" stroke-width="1.6" />
<line x1="849.3" y1="1740.1" x2="867" y2="1741.7" stroke="#000" stroke-width="1.6" />
<line x1="842.3" y1="1783.3" x2="852.9" y2="1786" stroke="#000" stroke-width="1.6" />
<line x1="590.3" y1="1823.3" x2="600.9" y2="1815.5" stroke="#000" stroke-width="1.6" />
<line x1="823.8" y1="1838.2" x2="832.5" y2="1843.7" stroke="#000" stroke-width="1.6" />
<circle cx="933.7" cy="1841" r="6" fill="#4A6FE0" />
<circle cx="933.7" cy="1864.5" r="6" fill="#BEBEBE" />
<circle cx="933.7" cy="1888.1" r="6" fill="#F0434F" />
<text x="960" y="1848.8" font-size="25.4">RT &gt; VM</text>
<text x="960" y="1872.4" font-size="25.4">NS</text>
<text x="960" y="1895.9" font-size="25.4">RT &lt; VM</text>
<text x="1093.8" y="1624.9" font-size="38" font-weight="bold">h</text>
<text x="1100.4" y="1665.3" font-size="18.3">PL/MOs</text>
<text x="1184.2" y="1649.1" font-size="18.3">Anterior</text>
<text x="1445.2" y="1649.1" font-size="18.3">Posterior</text>
<text x="1547.5" y="1665.3" font-size="18.3">ACA</text>
<line x1="1184.2" y1="1659.5" x2="1525" y2="1659.5" stroke="#000" stroke-width="1.8" />
<path d="M1523.8 1653 L1537 1659.5 L1523.8 1666 Z" fill="#000" />
<path d="M1137.1 1675.7 C1150.9 1675 1176.2 1672.5 1220 1671.8 C1263.8 1671.1 1334.5 1671.1 1400 1671.5 C1465.5 1671.9 1577.7 1673.7 1613.2 1674.1" fill="none" stroke="#111" stroke-width="1.6" />
<path d="M1143.6 1716.4 C1157.4 1714.5 1183.8 1707.2 1226.5 1705 C1269.2 1702.8 1335.5 1703.4 1400 1703 C1464.5 1702.6 1577.7 1702.8 1613.2 1702.7" fill="none" stroke="#111" stroke-width="1.8" stroke-dasharray="2.2 4.2"/>
<path d="M1159.9 1770 C1166.6 1767.8 1186.7 1761.3 1200 1757 C1213.3 1752.7 1206.2 1747.2 1239.5 1744 C1272.8 1740.8 1338.8 1739.2 1400 1737.5 C1461.2 1735.8 1572.2 1734.2 1606.7 1733.6" fill="none" stroke="#111" stroke-width="1.8" stroke-dasharray="2.2 4.2"/>
<line x1="1200.5" y1="1843.7" x2="1613.2" y2="1797" stroke="#000" stroke-width="1.8" stroke-dasharray="2.2 4.2"/>
<line x1="1218.4" y1="1947.1" x2="1611.5" y2="1869.1" stroke="#000" stroke-width="1.6" />
<text x="1093.9" y="1727.1" font-size="18">L1</text>
<text x="1099.7" y="1764.5" font-size="18">L2/3</text>
<text x="1120.9" y="1827.8" font-size="18">L5</text>
<text x="1131.6" y="1882.1" font-size="18">L6</text>
<path d="M1268.1 1836.6l5.5 4.5 4.9 4.5 7.4 4.4 6 4.5 5.3 4.3 6.2 4.3 5.6 4.3 6.6 4.1 4.4 4.1 6.3 4 6.9 3.9 5 3.8 6.5 3.7 3.8 3.6 7.2 3.6 6.3 3.5 6.9 3.4 5.1 3.4 6.2 3.3 3.9 3.3" fill="none" stroke="#C9B8F2" stroke-width="1.6" stroke-linecap="round" stroke-linejoin="round" />
<path d="M1268.1 1836.6l-1.3-2.7-.8-2.9-1.2-2.8-1.5-2.5-1.4-2.7-.8-2.9M1259 1822l-1.2-2.8-1.6-2.5-1.8-2.4-1.8-2.4-1.5-2.6-1.4-2.7-1.5-2.6-1.6-2.5-1.5-2.6-1.7-2.5M1246 1796l-1.2-2.8-1-2.8-.4-3-.4-3-.1-3-.6-2.9-.3-3-.3-3M1237.9 1776.5l-.9-2.9-.8-2.9-.5-2.9-.6-3-.1-3 .4-3 1-2.8 1.5-2.6 .9-2.9 .9-2.8M1231.4 1747.2l-.7-2.9-.2-3-.2-3-.1-3 .1-3-.2-3-.1-3-.4-2.9 .4-3M1228.1 1721.2l-.7-2.9-.7-2.9-1.3-2.7-1.8-2.4-1.9-2.3-1.6-2.5-1.2-2.8-1-2.8M1223.9 1698.5l-.5-3 .3-3-.2-2.9-.5-3-.3-3-.6-2.9-.6-3 0-3-.1-3M1233 1747.2l2.4 .6 2.4 .6 2.5-.2 2.5-.2 2.5-.1 2.3 1 2.3 1.1 2 1.5 2.3 1 1.8 1.6 .8 2.4 .3 2.5M1229.7 1750.5l-1.9-1.5-2.5-.7-2.2 1.3-2.5 0-2.4-.6-2.5-.1-2.5-.4-2.5 0M1244 1784.7l1.4-2 2-1.6 2.3-.8M1243.4 1782.3l-1.8-1.7-.2-2.5-1.3-2.2-1.4-2M1242.7 1789.5l1.1-2.3 .2-2.5-.6-2.4-.1-2.5 0-2.5 .8-2.4 .1-2.5 .4-2.5-.1-2.5 0-2.5M1237.9 1776.5l-2 1.6-2.4 .7-2.4 .5-2.3 1.1-2.1 1.3M1252.7 1806.5l-.7-2.4-.6-2.4-.9-2.4-.5-2.4-.1-2.5M1252.5 1809l.2-2.5-.3-2.5 1.3-2.1 1-2.3 .6-2.4 .7-2.5-.7-2.4-.6-2.4-.8-2.3M1246 1802.5l-2.4 .8-2.1 1.4-2.2 1.1-2.4-.7-2.4-.7-2.2-1.1-2-1.6-2.4-.4M1226.5 1721.2l2.2-1.2 2.1-1.2 1.8-1.8 1.7-1.8M1223.2 1692l-1.7-1.8-1-2.3 .1-2.5 .4-2.5M1224.9 1682.2l1.2-2.1 .5-2.5-1.3-2.1-1.4-2.1M1268.8 1834.2l1-2.3 .5-2.4 0-2.5-1.1-2.3M1268.1 1836.6l.7-2.4 1.2-2.2 1.1-2.3 1.4-2 1.8-1.8 1.8-1.6 2-1.6 2.3-.8 2.3-1M1268.1 1836.6l-2.1-1.4-2.2-1.1-1.8-1.8-1.6-1.9-1.7-1.8-1.8-1.8-2-1.5-2.2-1.1M1277.8 1838.2l1.5 2 .7 2.4 1.3 2.2 1.1 2.2 .1 2.5 .2 2.5M1287.7 1836.7l1.6-1.9 2.2-1.1 2.1-1.4M1290.1 1836.9l2 1.5 1.3 2.2M1268.1 1836.6l2.3 .9 2.5-.1 2.5 .3 2.4 .5 2.5 0 2.5-.7 2.4-.1 2.5-.7 2.4 .2 2.5 .2 2.5 0 2.4 .7M1266.1 1835l-2.5 .2-2.5 .2-2.3-.8-2.2-1.3-2.5-.3-2.3 .9-2.4 .6M1268.1 1836.6l-2-1.6-2-1.4-2.2-1.2-1.5-2-1.5-2-2.1-1.3-2.2-1.2-2.3-1-2.4-.6-2.5-.6-2.4-.5M1268.1 1836.6l-1.7-1.9-2.1-1.3-2.3-1-2.4-.6-2.3-1.1M1268.1 1836.6l-1.4-2.1-.7-2.4-.9-2.3-1.9-1.7-1.9-1.6-1.9-1.5M1269.6 1831.9l-.6-2.5 1-2.2 .5-2.5 .4-2.5 .4-2.4M1268.1 1836.6l.4-2.5 1.1-2.2 .4-2.5 1.2-2.2 1-2.3 .7-2.4 1-2.3 .6-2.4 .9-2.3-.3-2.5 .3-2.5M1277.3 1828.8l2.3 1.2 2 1.4 2.4 .6 2.3 1M1268.1 1836.6l1.4-2 1.6-2 1.6-1.9 2.3-1 2.3-.9 2.4-.6 1.8-1.8 1.3-2.1 1.5-2 .8-2.4 .7-2.4M1261.2 1824.9l-2.4-.4M1268.1 1836.6l1.4-2.1 .3-2.5 .2-2.4 .3-2.5-1.8-1.7-2.4-.7-2.5-.6-2.4 .8-2.4 .3-2.2 1.2-2.3 1M1265.7 1835.7l-2.2 1.1-2.5 .5-2 1.4-2.1 1.4M1268.1 1836.6l-2.4-.9-2.1-1.2-2-1.5-2.1-1.4-2.3-1.1-2.3-1-1.2-2.2-1-2.3 .5-2.4 .5-2.5M1268.1 1836.6l2.5 0 2.3-1.1 2.3-.9 2.5 .3 2.4-.6M1268.1 1836.6l.3 2.5 1.3 2.1 .9 2.3 1.4 2.1 1.2 2.2 .6 2.4M1268.1 1836.6l1.6 1.9 1.2 2.2 1.1 2.2 .4 2.5 .6 2.4 .3 2.5-.1 2.5M1268.1 1836.6l.8 2.4 .5 2.4-.7 2.4-.9 2.3-.9 2.4-1.6 1.9-1.3 2.2 .1 2.5-.4 2.4 .6 2.4M1268.1 1836.6l2 1.4 1.6 2 2.1 1.4 2.4 .4 2.5 .3M1268.7 1841.5l1.4 2.1 .6 2.4-.2 2.5 .1 2.5M1268.1 1846.4l.4 2.5-.2 2.5M1268.1 1836.6l.5 2.4 .1 2.5-.7 2.4 .1 2.5 .1 2.5 .2 2.5 .5 2.5 1.5 2M1269.1 1841.4l0 2.5-.1 2.5-.7 2.4M1268.1 1836.6l1 2.3 0 2.5-.2 2.5 .2 2.5-.1 2.5-.8 2.3M1268.1 1836.6l.5 2.4-.7 2.4-.8 2.4-1.1 2.3 .3 2.5 .8 2.3-.2 2.5-.4 2.5-1.5 2-1.4 2" fill="none" stroke="#6A45B8" stroke-width="1.8" stroke-linecap="round" stroke-linejoin="round" />
<circle cx="1268.1" cy="1836.6" r="4.8" fill="#000" />
<path d="M1451.3 1817.1l3.4 5.2 1.8 5.2 3.7 5.1 4.1 5.2 1.5 5.2 3.7 5.2 2.2 5.1 3.3 5.2 4.4 5.2 1.9 5.2 2.8 5.2 4.6 5.1 1.6 5.2 5.8 5.2 .2 5.2 5.4 5.2" fill="none" stroke="#C5EFA5" stroke-width="1.6" stroke-linecap="round" stroke-linejoin="round" />
<path d="M1451.3 1817.1l-1.3-2.7-1-2.8-.8-2.9-1-2.8-1.2-2.8-.7-2.9-1.1-2.8-1.4-2.6-1.4-2.7M1447.4 1792.7l-.4-2.9 .2-3 .6-3 1-2.8 1.7-2.5 2.1-2.1 2-2.2 1.8-2.5M1442.6 1770l-.9-2.9-.8-2.9-.7-2.9-1-2.8-.3-3-.4-3-.2-3-.4-3 .1-3-.1-2.9-.4-3M1437.7 1737.5l.1-3 .6-2.9 .3-3 .4-3 .3-3-.2-3 0-3-.4-3-.3-2.9-.4-3-.4-3M1435.1 1705l0-3 .4-3-.4-3 .1-3 .9-2.8 .2-3M1433.8 1688.7l1-2.8 .4-3 .7-2.9M1435.1 1701.7l-1.7-1.8-1.9-1.7-1.3-2.1-1.1-2.2-2.2-1.2-2.4-.7M1433.3 1735.7l-2.4 .3-2.5 .3-2.5 .4-2.4-.8-2.5 .2-1.9-1.5-2.1-1.5M1435.1 1737.5l-1.8-1.8-1.2-2.2-.9-2.3-.7-2.4-1.4-2.1-2.2-1-2.5 .4-2.4-.6-1.8-1.8-1.7-1.8-2.2-1.2-2.5 .4M1440.9 1770l2.5-.4 2.2-1.1 2.4-1 2-1.4 1.9-1.6 1.6-1.9 2.2-1.2 2.3-1 2.5 .6 2.3 .9M1442.6 1770l-2-1.6-1.6-1.9-1.8-1.8-2-1.4-2.3-1.1M1445.8 1789.5l-2.4-.5-2.5 .3-2.4 .5-2.5 .7-2.4-.6-2.4-.7M1431.2 1685.5l-2.4-.7-2.5 .2-2.5-.3M1451.3 1817.1l-1.5-1.9-1-2.4-1-2.2-1.2-2.2 0-2.5-.2-2.5 .9-2.4M1449.7 1810l-1.4-2.1-1.7-1.9-1-2.3-.1-2.5-.6-2.4-.4-2.5M1451.3 1817.1l-.8-2.4-1-2.3 .2-2.4 .2-2.5 .6-2.4-.1-2.5-.7-2.5-.2-2.4 .8-2.4 2-1.5 2.3-1 2.5 .2 2.5-.3M1448.9 1816.5l-2.2-1.1-1.9-1.7-2-1.5-.9-2.3-.7-2.4-.8-2.4M1444.2 1816.6l-2.3 .9-2.4 .8-2 1.5-2.2 1.2-2 1.5-2.5 .5-2.5 0M1451.3 1817.1l-2.4-.6-2.4-.8-2.3 .9-2.4 .6-2.5 .5-1.9 1.6-1.9 1.7-2.3 .8-2.5-.3-2.5 .2-2.3-1-2.5-.1-2.5-.4M1454 1821.3l-.4 2.5-.9 2.3M1451.3 1817.1l1.5 2 1.2 2.2 2.4 .7 2.4 .8 2.1 1.3 2.5-.3M1451.3 1817.1l2.1 1.4 2.4 .7 2.4 .6 2.2 1.3 1.3 2.1 .6 2.4 .8 2.4 .9 2.3 .3 2.5-.5 2.4M1451.3 1817.1l-.1 2.5 0 2.5-.3 2.5-1.9 1.7-1.7 1.8-1.8 1.8-2.2 1-1.9 1.6-2.3 1.1-2.1 1.4M1461 1816.6l2.2 1.1 1.9 1.6 1.4 2.1 1.2 2.1M1451.3 1817.1l2.4 .7 2.5 .4 2.4-.7 2.4-.9 2.4-.7 2.4-.2 2.4-.9 2.5-.3 2.4-.4 2.5-.1M1451.3 1817.1l.2 2.5 1.1 2.3 1.9 1.5 1.8 1.7 1.6 2 2.3 1 2.5-.3M1456.3 1817l2.3-1 2.1-1.4 1.7-1.8M1458.8 1817.5l1.9-1.7 2.3-.9M1451.3 1817.1l2.5 0 2.5-.1 2.5 .5 2.5 .2 2.3 1 2 1.4 1 2.3M1449.5 1826.8l.8 2.4-.2 2.5M1451.3 1817.1l-.9 2.3-.7 2.4-.4 2.5 .2 2.5 1 2.3 .8 2.3 1.6 1.9M1449.3 1818.6l-2 1.4-2 1.5-1.8 1.7-1.9 1.7-2.2 1.2M1451.3 1817.1l-2 1.5-1.8 1.7-1.9 1.6-1.6 1.9-1.2 2.2-.7 2.4 .3 2.5-.9 2.3-1.2 2.2M1452.5 1819.3l1.3 2.1 2.1 1.3 1.8 1.8 2.2 1.2 1.7 1.8 1.7 1.8 1.5 2.1 1.5 2M1461.5 1831.1l.4 2.5 1.2 2.1 1.3 2.2 1.4 2M1451.3 1817.1l1.2 2.2 1.7 1.8 1.2 2.2 1 2.3 1.7 1.9 1.7 1.8 1.7 1.8 1.8 1.8 .7 2.4 .9 2.3 1.3 2.2 2.1 1.3M1454.1 1813l-.4-2.5-.7-2.4M1451.3 1817.1l1.8-1.8 1-2.3 .4-2.5 .1-2.5 1-2.3 1.1-2.2M1458.5 1807.1l2.5-.6 2.5 0M1451.3 1817.1l1.3-2.1 1.3-2.2 1.9-1.6 1.7-1.9 1-2.2 1.3-2.2 .7-2.4 1.8-1.7M1451.3 1817.1l2.5 .5 2.3 .9 2.5 .3 2.5-.4 2.4-.6 2.1-1.3 1.3-2.2 1.8-1.8 2-1.4 2.4-.4 2.4 .7M1451.3 1817.1l-2-1.4-2.2-1.3-2.4-.7-2.3-1-2.2-1.1-2.3-1-2.5-.3-2.5-.3-2.5-.1M1451.3 1817.1l2.5-.3 2.5-.5 2.4 .4 2.5-.6 2.3-.9 2.5-.4 2.4-.4 2.4-.9 2.4-.3M1451.3 1817.1l-1.1 2.2-1.5 2-1.5 2-1.6 2-2.1 1.3-2.2 1.2-1.5 2-1.4 2.1M1451.3 1817.1l-1.1-2.2-1.5-2 0-2.5-.6-2.4-.4-2.5-.4-2.5-1.1-2.2-1.2-2.2-.9-2.3-.6-2.4 .6-2.4 1.9-1.7M1472.4 1815.8l1-2.3 1.5-2M1451.3 1817.1l2.4 .8 2.4 .8 2.4-.3 2.5 .4 2.5 .1 2.5 .4 2.4-.6 2.2-1.2 1.8-1.7 2.3-.9 1.8-1.7 1.3-2.1" fill="none" stroke="#95E35A" stroke-width="1.8" stroke-linecap="round" stroke-linejoin="round" />
<circle cx="1451.3" cy="1817.1" r="4.8" fill="#000" />
<text x="1260.5" y="1880.5" font-size="18" text-anchor="middle">Dendrite subtype 4</text>

<text x="1260.3" y="1901.6" font-size="18" text-anchor="middle">(Axon subtype 49, VM)</text>
<text x="1520.8" y="1854.5" font-size="18" text-anchor="middle">Dendrite subtype 3</text>
<text x="1513.2" y="1875.6" font-size="18" text-anchor="middle">(Axon subtype 52, RT)</text>
<g filter="url(#bl4)">
<path d="M1776.8 1716.7 C1787 1716.7 1795.7 1716.4 1807.4 1718.7 C1819.1 1721 1833.7 1724 1846.9 1730.6 C1860.1 1737.1 1874.6 1747 1886.4 1758.2 C1898.2 1769.4 1910.6 1784.5 1918 1797.7 C1925.4 1810.8 1928.8 1820.7 1930.8 1837.2 C1932.8 1853.6 1932 1878.3 1929.8 1896.4 C1927.7 1914.5 1925.2 1933.9 1918 1945.8 C1910.7 1957.6 1898.2 1962.9 1886.4 1967.5 C1874.6 1972.1 1865.2 1972.1 1846.9 1973.4 C1828.6 1974.7 1799.9 1975.4 1776.8 1975.4 C1753.8 1975.4 1727 1974.7 1708.7 1973.4 C1690.5 1972.1 1679.4 1972.1 1667.3 1967.5 C1655.1 1962.9 1643.1 1957.6 1635.7 1945.8 C1628.3 1933.9 1625.1 1914.5 1622.8 1896.4 C1620.5 1878.3 1619.7 1853.6 1621.8 1837.2 C1624 1820.7 1628.1 1810.8 1635.7 1797.7 C1643.2 1784.5 1655.1 1769.4 1667.3 1758.2 C1679.4 1747 1695.6 1737.1 1708.7 1730.6 C1721.9 1724 1734.9 1721 1746.2 1718.7 C1757.6 1716.4 1766.6 1716.7 1776.8 1716.7 Z" fill="#F1F1F1" stroke="#E4E4E4" stroke-width="2.5" />
<path d="M1712.7 1679.2 C1715.3 1673.6 1720.6 1671.5 1728.5 1669.4 C1736.4 1667.2 1752 1665.7 1760 1666.4 C1768.1 1667.1 1771.2 1673.3 1776.8 1673.3 C1782.4 1673.3 1785.5 1667.1 1793.6 1666.4 C1801.7 1665.7 1817.6 1667.2 1825.2 1669.4 C1832.8 1671.5 1836.7 1673.6 1839 1679.2 C1841.3 1684.8 1840.3 1696.3 1839 1702.9 C1837.7 1709.5 1841.5 1715.4 1831.1 1718.7 C1820.8 1722 1794.9 1722.7 1776.8 1722.7 C1758.7 1722.7 1733.2 1722 1722.5 1718.7 C1711.8 1715.4 1714.3 1709.5 1712.7 1702.9 C1711 1696.3 1710 1684.8 1712.7 1679.2 Z" fill="#F4F4F4" stroke="#EBEBEB" stroke-width="2" />
<path d="M1639.6 1971.4 C1642.9 1964.8 1654.4 1957.6 1669.2 1955.6 C1684 1953.6 1710.5 1957.6 1728.5 1959.6 C1746.4 1961.5 1760.7 1967.5 1776.8 1967.5 C1792.9 1967.5 1807.3 1961.5 1825.2 1959.6 C1843.1 1957.6 1869.9 1953.6 1884.4 1955.6 C1898.9 1957.6 1908.4 1964.8 1912.1 1971.4 C1915.7 1978 1915.4 1987.9 1906.1 1995.1 C1896.9 2002.3 1865 2006.6 1856.8 2014.9 C1848.6 2023.1 1870.1 2039.2 1856.8 2044.5 C1843.5 2049.7 1803.5 2046.4 1776.8 2046.4 C1750.2 2046.4 1710.2 2049.7 1696.9 2044.5 C1683.5 2039.2 1704.8 2023.1 1696.9 2014.9 C1689 2006.6 1659 2002.3 1649.5 1995.1 C1639.9 1987.9 1636.3 1978 1639.6 1971.4 Z" fill="#F2F2F2" stroke="#E9E9E9" stroke-width="2" />
<line x1="1776.8" y1="1679.2" x2="1776.8" y2="2044.5" stroke="#E6E6E6" stroke-width="1.5" />
<path d="M1803.5 1833.2 C1808.4 1835.5 1824.9 1839.8 1833.1 1847 C1841.3 1854.3 1849.2 1867.1 1852.8 1876.7 C1856.5 1886.2 1854.5 1899.7 1854.8 1904.3" fill="none" stroke="#E8E8E8" stroke-width="7" stroke-linecap="round"/>
<path d="M1748.2 1833.2 C1743.6 1835.5 1728.5 1839.8 1720.6 1847 C1712.7 1854.3 1704.8 1867.1 1700.8 1876.7 C1696.9 1886.2 1697.5 1899.7 1696.9 1904.3" fill="none" stroke="#E8E8E8" stroke-width="7" stroke-linecap="round"/>
<path d="M1779.8 1738.5 C1783.1 1739.8 1794.9 1739.8 1799.5 1746.4 C1804.1 1752.9 1806.1 1766.1 1807.4 1777.9 C1808.7 1789.8 1807.4 1810.8 1807.4 1817.4" fill="none" stroke="#E8E8E8" stroke-width="7" stroke-linecap="round"/>
<path d="M1669.2 1916.1 C1675.2 1917.5 1694.9 1919.1 1704.8 1924 C1714.6 1929 1724.5 1942.1 1728.5 1945.8" fill="none" stroke="#EAEAEA" stroke-width="6" stroke-linecap="round"/>
<path d="M1884.4 1916.1 C1878.5 1917.5 1858.8 1919.1 1848.9 1924 C1839 1929 1829.1 1942.1 1825.2 1945.8" fill="none" stroke="#EAEAEA" stroke-width="6" stroke-linecap="round"/>
</g>
<path d="M1769.9 1857.6l-1.9 .7-1.6 1.1M1773.3 1855.5l-1.7 1.1-1.7 1-1.8-.7-2-.5-1.7-.9-1.9-.7M1775.4 1849l-1.4-1.5-1.2-1.5M1774.4 1847.2l-1.2-1.6-1.9-.2-2-.4M1777.1 1850.1l-1.7-1.1-1-1.8-.7-1.8-.6-1.9-.5-2 .2-1.9M1763.2 1855.4l-.2 1.9-.8 1.9 0 2-.1 2 1.1 1.7M1761.1 1852.2l1.5 1.2 .6 2 .6 1.9 .2 2 1.5 1.2 1.5 1.4 1.8 .8 2-.5 1.4-1.4M1780.5 1839.2l-1.6-1.3-.8-1.8-1.7-1-1.8-.9-1-1.7M1776.1 1832.7l-1.9 .3-2-.2M1785.9 1841.7l-1.7-1-1.9-.7-1.8-.8-1.5-1.3-.6-2-1.3-1.5-1-1.7-1.2-1.6-2-.4-1.9-.6-2 .3M1769.8 1840.4l1.1-1.7 1.4-1.4 2-.2 1.9-.6M1772.7 1837.7l.6-1.9 .7-1.8 1-1.8-.9-1.8 .4-1.9 .9-1.8M1775.5 1834.9l-.1-2-.9-1.8-.9-1.8-1.5-1.3M1774.5 1833.2l0-2-.8-1.8-.6-1.9-1.3-1.5M1773.1 1829.5l-1.8 .8-1.9 .3M1766.7 1842.8l1.7-1 1.4-1.4 1.7-1.1 1.2-1.6 1.4-1.4 1.4-1.4-1-1.7-.4-2-1-1.7-.1-2 1.2-1.6 1.6-1.2 2-.2M1784.4 1853l1.2 1.5 .2 2-.5 2-.7 1.8-1 1.8M1787.9 1857l1.7 1.1 1.2 1.5 1.8-.9 2 0M1787.3 1862.8l-.6 1.9-1.4 1.4M1788.4 1849.2l-1.8 .7-1.6 1.2-.6 1.9 1.4 1.4 1.9 .6 .2 2 .4 2-.9 1.8-.1 2 .7 1.9-.5 1.9-1.4 1.4-.4 2M1777.6 1854.6l.6-1.9 .2-2 .3-1.9-.5-2-1.7-1-2-.2-1.9-.4-1.7-1.1M1779.2 1840.6l1.6-1.3 1.7-.9 1.9 .7M1777.3 1856.6l.3-2 1-1.7-.5-2 1.4-1.4 1.6-1.2-.3-2-.7-1.8-.6-1.9-.3-2 .3-2-.2-2-1.3-1.5-1.7-1M1789.3 1850.8l1.9-.5 1.4 1.4M1790.7 1852.2l1.1 1.6 .8 1.9M1787.2 1847.4l.8 1.9 1.3 1.5 1.4 1.4 1.9 .3 2-.5 1.9-.6 1.7-1.1M1776.1 1837.7l1-1.7 2 .2 1.9-.7 1.8-.8 1.2-1.7 1.5-1.3 1.5-1.3M1767.2 1835.2l-1-1.7-.4-2M1776.1 1839.7l0-2-1.4-1.4-1.7-1.2-1.9-.6-2 .1-1.9 .6-2-.2-1.2 1.6-1 1.7-.9 1.8-1.6 1.2M1770.9 1841.1l1.8-.8 1.9-.5 2 .4M1763.5 1838.8l1.5 1.3 2-.1 2 .4 1.9 .7 1.4 1.3 1.8 1 2 .4 1.8-.8 1.5 1.4M1782.5 1849.2l2 0 1.9 .7 1.7 1M1778.5 1849.7l2-.4 2-.1 1.8 .9 1.9 .6 2 .3 1.2 1.6 .7 1.9M1755 1832.3l-1.8-.9-1.5-1.3-2-.5M1768.3 1833.8l-1.8-.8-1.8-.9-1.9-.7-2-.1-2 0-1.9 .5-1.9 .5-1.7 1.1-1.6 1.2-.6 1.9 .4 2 .4 1.9M1762.4 1857.3l-1.3 1.4-1.9 .8M1764 1856l-1.6 1.3-.9 1.7-1.6 1.3-1.9 .6-2-.1-1.7-.9M1771.3 1853.2l-1.4-1.3-.7-1.9-2 0-.1 2 .2 2 .4 2 1.3 1.5 0 2-.2 1.9 0 2 .6 1.9 .6 1.9M1786.9 1864.4l2-.1 2-.4 1.9-.4 2-.2 2-.1 2 .4 1.6 1.2 .9 1.8 1 1.7 1.4 1.4 .7 1.9 1.2 1.6M1789 1842.1l-.3-2 .7-1.8-.7-1.9-1.6-1.2M1791.4 1837.2l-1.7-1.1-1.7-1.2-1.6-1.2-.2-2M1788.2 1843.9l.8-1.8 1.2-1.6 1.5-1.4-.3-1.9 .2-2-.3-2-1.6-1.2-.4-2 1-1.7M1759.7 1852.9l-1.3-1.6-1.4-1.4-1.9-.5M1756.8 1855.3l-1.2 1.7-1.6 1.1-2-.2M1755.6 1859.1l-1.3 1.6-1.8 .8-.8 1.8M1763.4 1851.4l-1.9 .7-1.8 .8-1.9 .7-1 1.7-.4 2-.8 1.8-1.4 1.5-.9 1.7-2-.1-2 0M1756.7 1856.2l-1 1.7-1 1.8 1.5 1.3 .5 2M1753.2 1855.6l-1.9-.2-2-.5-1.9-.7-1.9-.6M1753.1 1853.6l-2-.4-1.8-.7-.7-1.9-1.3-1.5M1758.6 1852.8l-.5 1.9-1.4 1.5-1.9 .6-1.6-1.2-.1-2-.4-2 .7-1.9-.1-2 0-2 1.5-1.4 1.5-1.3M1783.8 1854.4l1.2 1.6 0 2-1.3 1.5M1776 1850.7l.1 2 1.8 .7 2 .2 1.9 .6 2 .2 1.6 1.2 1 1.7 1.5 1.3 2 .2M1762.3 1858.1l1.2 1.6 1.9 .2 1.6 1.3 1.2 1.6M1759.6 1855.1l1.5 1.4 1.2 1.6 1.9 .5 2 .5 1.6-1.1 1.8 1 1.9 .6M1788.4 1855l1.6 1.2 1.7 1.1 2 0 1.2-1.6M1786.4 1854.5l2 .5 1.7 1 1.9 .8 1.3 1.5 1.9 .7 1.3 1.5 1.5 1.4 .5 1.9-1.4 1.4M1780.9 1856l-1.1 1.6-1.3 1.5 .8 1.8M1781.9 1861.8l.2 2-1.1 1.6-.4 2M1784.2 1855.1l-1.9-.6-1.4 1.5 .3 1.9 .7 1.9 0 2 1.2 1.6 1.2 1.6 1.4 1.4 .4 2M1776 1860.6l1.1-1.7-.8-1.8-1.9-.5-2-.1-1.6-1.2M1776.5 1856.9l-.9-1.8-.4-2-.1-2-1.9-.7M1775 1862.2l1-1.6 1-1.8-.5-1.9 .1-2 1.6-1.3 1.2-1.5-.7-1.9-1-1.8-1.8-.8-2-.2M1768.9 1860.1l1.2-1.6-.6-1.9 .5-2 1.6-1.3M1767.2 1861.2l1.7-1.1 2 0 1.8-.9-.3-1.9 .2-2 0-2M1774.4 1835.2l.7-1.9-.6-1.9-1.2-1.6-1.7-1.1-1.5-1.3-.8-1.8M1775.2 1829.4l-1.2-1.6-1.3-1.5-1.4-1.4M1773.6 1828.2l-1.7-1-1.7-1M1775 1841.3l-1.8-.9-1.7-.9 0-2 1.9-.6 1-1.7 .9-1.8-.3-2 .2-2-1.6-1.2-1.9-.5-1.3-1.5-1.2-1.6-1.9-.6M1781.9 1843.7l-1.6-1.1-1.9-.7-1.7-1.1M1783.5 1845l-1.6-1.3 0-2 .5-2-.4-1.9-.5-1.9-.2-2-1.4-1.4-2-.5M1790.1 1855.3l1.9 .3 1.5 1.3 1.7 1.1 2 .4 1.9-.7 2-.2M1792.1 1855.1l1.5-1.3 .1-2-.9-1.8M1793.9 1855.8l1.4 1.5 1.4 1.4 .7 1.9 .3 2 .2 2M1795.4 1857.2l1.4 1.4 1.8 .8 1.9-.8 1.6-1.1M1788.1 1855.7l2-.4 2-.2 1.8 .7 1.5 1.4 1 1.7 1.7 1 2 .1 1.8 .8 1.8 1 1.9-.4M1790.9 1843.9l1.1 1.6 .2 2-.9 1.8-2 .5M1798.1 1840.7l2 .1 1.7-1M1790.2 1842l.7 1.9 1.9-.6 1.9-.5 1.8-1 1.6-1.1 1.9-.8 1.8 .7 1.5 1.3 2-.3M1784.1 1855.7l-.3-1.9-.9-1.8-1.4-1.5M1790.8 1858.6l-2-.2-.8-1.8-2-.2-1.9-.7-1.8-.7-2 0-1.6 1.2-1.4 1.4-2 .5-1.9 .3M1767.1 1839.5l2 .1 2 .4 1.4 1.4 1.9 .6 1.9-.5M1770.9 1840.1l1.8 1 1.3 1.5 1.6 1.2 1.1 1.7M1772.6 1841.1l1.9-.7 1.5-1.3 1.5-1.3M1765.1 1839.7l2-.2 1.8 .8 2-.2 1.7 1 2 .3 1.9-.5 2-.4 1.9-.7 1.1-1.6M1776.3 1844.3l1.9-.7 2 .3 1.7 1M1767.3 1847.5l1.5-1.3 1.6-1.3 1.9-.6 2 0 2 0 1.9-.6 1.9-.5 1.5-1.4 1.9-.6M1787 1860.9l-1.8-.8-1.7-1.1-1.8 .9M1791 1860.8l-2-.2-2 .3-1.9 .2-1.7 1.1-1.7 1.1-1.4 1.4M1776.2 1858.2l.7 1.8-.2 2 .5 2 .5 1.9 .1 2 .1 2M1787.7 1835.9l-1.7 1.1-1.1 1.7-1.2 1.5-.8 1.9 1 1.7M1785.7 1835.8l-1.5-1.3-1.3-1.5-.8-1.8 1.4-1.5 1.5-1.3M1780.1 1837.8l-2-.4-1.5 1.3M1789.7 1835.6l-2 .3-2-.1-2 .2-1.8 .8-1.8 1-2 .3-.3 2-1 1.7-.1 2M1733.1 1857.9l-2-.3-1.6-1.3M1738.9 1857l-1.9 .4-1.9 .7-2-.2-1.3-1.6-2-.3-1.8-.8-.8-1.9M1760.5 1856.9l1.9 .8 1.8 .8 1.2 1.6M1757.5 1854.4l1.3 1.5 1.7 1 2 .4 1.8-.9 2 0 1.8 .9M1754.5 1862.3l.3 1.9 0 2 .9 1.8M1754.8 1860.3l-.3 2 .1 2-.4 1.9-.6 1.9 1 1.7 1 1.8M1758.3 1856.4l-1 1.7-.8 1.9 .4 1.9-.3 2M1746.9 1867.6l1.8 .8 1.8 .9 1.8 1 1.6 1.1M1760.5 1837.2l-6.9-29.6-.9-29.7 3.5-29.6 3.6-17.7 8.2-7.9M1758.1 1746.4l.9 1.8 .6 1.9M1754.1 1746.4l2 0 2 0 2-.5 1.8-.8 2-.3 2-.2M1756.1 1758.2l1.7-1.1 1.7-1.1 .9-1.7 .6-1.9 .4-2 .2-2M1760 1730.6l1.7 1 1.6 1.3 1.9 .7 1.9 .5 2-.3 2 .2" fill="none" stroke="#6A4CC0" stroke-width="1.1" stroke-linecap="round" stroke-linejoin="round" />
<path d="M1749.9 1846.9l1.2-1.6 1.7-1.1 1.8-.8 1.8 .9 1.9 .7 1.9 .4 1.3 1.5M1761.4 1847.3l1-1.7 .5-1.9-.7-1.9M1759 1850.6l1.2-1.6 1.2-1.7 1.9-.5 .4-2-.5-1.9 .6-1.9M1744.1 1847.9l-1.9-.5-2-.4-2-.4M1747.8 1849.4l-1.9-.7-1.8-.8-2-.2-2 .4-1.9 .2-1.7-1.1-2 0M1742.7 1834l2 .3 2-.1 2 .2 1.6 1.3 2 0 1.5 1.3 1.4 1.4M1739.1 1837.6l-1.7-1-1.4-1.5-.1-2M1746.9 1836.7l-2-.2-2-.2-1.8 .8-2 .5-1.5 1.2-.7 1.9-.4 2 .2 2 1.9 .6M1757.8 1853.3l1.5-1.4 1.8 .8 1.7-1.1 1-1.7 1.1-1.7M1756 1831.7l-.7-1.8-.5-2-.5-1.9-.7-1.9-.3-2-1.6-1.1M1748.5 1847.7l-.1-2-.1-2-1.3-1.5M1750.2 1848.8l-1.7-1.1-1.4-1.4-1.7-1.1-1.6-1.3-1.4-1.4-1.7-1.1M1755.3 1850.5l.5 2 1 1.7 1.4 1.4M1756 1848.7l-.7 1.8-1.4 1.5-.1 2-1.5 1.3-.8 1.8M1741.8 1849.6l-2 .4-1.9-.7-1.3-1.5-1.8-.8-1.8-1-1.2-1.6-1.5-1.3-2-.1-1.9-.6M1756.1 1783.9l-1 1.7-.5 1.9-1.5 1.4-1.7 .9M1756.1 1783.9l1.7 1.1 1.3 1.4 1.8 1 1.9 .4M1756.1 1783.9l2 .3 2-.1 1.9-.3 2-.4M1756.1 1783.9l2 .2 1.8 .8 1.8 1 .8 1.8M1760 1797.7l.5-2-.8-1.8-.8-1.8 .7-1.9M1760 1797.7l-1.9 .4-1.6 1.2-1.2 1.7-1 1.7M1760 1797.7l1.4 1.5 1.4 1.4 1.2 1.6 1.9 .7M1760 1797.7l1.3 1.5-.2 2 1.7 1.2 1.5 1.2M1736.4 1833.2l3.9-25.6 7.9-15.8 7.9-7.9" fill="none" stroke="#9BE06A" stroke-width="1.1" stroke-linecap="round" stroke-linejoin="round" />
<path d="M1746.2 1730.6 C1749.2 1726.8 1755.4 1726.1 1760 1725.6 C1764.7 1725.1 1771.4 1725.5 1773.9 1727.6 C1776.3 1729.7 1774.7 1730.1 1774.9 1738.5 C1775 1746.8 1774.9 1764.8 1774.9 1777.9 C1774.9 1791.1 1775 1807.6 1774.9 1817.4 C1774.7 1827.3 1775 1833.5 1773.9 1837.2 C1772.7 1840.8 1771.6 1838.8 1767.9 1839.1 C1764.3 1839.5 1755.4 1841.1 1752.1 1839.1 C1748.9 1837.2 1749.2 1832.6 1748.2 1827.3 C1747.2 1822 1746.9 1815.8 1746.2 1807.6 C1745.6 1799.3 1744.9 1787.8 1744.2 1777.9 C1743.6 1768.1 1741.9 1756.2 1742.3 1748.3 C1742.6 1740.4 1743.3 1734.3 1746.2 1730.6 Z" fill="none" stroke="#000" stroke-width="3.3" stroke-dasharray="0.1 6" stroke-linecap="round"/>
<path d="M1692.9 1864.8 C1693.2 1867.8 1694.2 1871.7 1696.9 1872.7 C1699.5 1873.7 1704.8 1873 1708.7 1870.7 C1712.7 1868.4 1716.6 1862.5 1720.6 1858.9 C1724.5 1855.3 1728.5 1851.3 1732.4 1849 C1736.4 1846.7 1740.3 1846.1 1744.2 1845.1 C1748.2 1844.1 1753.5 1845.1 1756.1 1843.1 C1758.7 1841.1 1761.4 1835.5 1760 1833.2 C1758.7 1830.9 1752.8 1829.6 1748.2 1829.3 C1743.6 1828.9 1737.3 1830.3 1732.4 1831.2 C1727.5 1832.2 1723.2 1832.9 1718.6 1835.2 C1714 1837.5 1708.7 1841.8 1704.8 1845.1 C1700.8 1848.4 1696.9 1851.6 1694.9 1854.9 C1692.9 1858.2 1692.6 1861.8 1692.9 1864.8 Z" fill="none" stroke="#000" stroke-width="3.3" stroke-dasharray="0.1 6" stroke-linecap="round"/>
<path d="M1734.4 1849 C1735.5 1846.4 1737.3 1845.4 1740.3 1845.1 C1743.3 1844.7 1748.9 1845.1 1752.1 1847 C1755.4 1849 1758.4 1852.6 1760 1856.9 C1761.7 1861.2 1763 1869.1 1762 1872.7 C1761 1876.3 1757.1 1877.6 1754.1 1878.6 C1751.2 1879.6 1747.2 1879.9 1744.2 1878.6 C1741.3 1877.3 1738.2 1873.7 1736.4 1870.7 C1734.5 1867.8 1733.7 1864.5 1733.4 1860.9 C1733.1 1857.2 1733.2 1851.6 1734.4 1849 Z" fill="none" stroke="#000" stroke-width="3.3" stroke-dasharray="0.1 6" stroke-linecap="round"/>
<text x="1644.5" y="1651.6" font-size="22.8">Axon projection pattern</text>
<text x="1721.5" y="1819.4" font-size="15.8">PL/ACA</text>
<text x="1667.3" y="1843.1" font-size="15.8">RT</text>
<text x="1765" y="1906.3" font-size="15.8">VM</text>
<line x1="1687" y1="1850" x2="1699.8" y2="1857.9" stroke="#000" stroke-width="1.4" />
<line x1="1760" y1="1874.7" x2="1773.9" y2="1891.5" stroke="#000" stroke-width="1.4" />
<text x="460" y="2159.7" font-size="38" font-weight="bold">i</text>
<text x="1181.5" y="2159.7" font-size="33.5" text-anchor="middle">The correlation between dendrite morphology and</text>
<text x="1185.5" y="2197.7" font-size="33.5" text-anchor="middle">soma position/axon projection pattern in ACA/PL/MOs</text>
<path d="M677.3 2363.2 L692.3 2355.7 L719.4 2351.2 L740.4 2343.6 L765.9 2339.1 L818.5 2378.2 L824.5 2372.2 L872.6 2343.6 L890.6 2357.2 L902.6 2387.2 L911.6 2408.2 L929.7 2438.3 L947.7 2417.3 L941.7 2450.3 L938.7 2480.3 L941.7 2540.4 L941.7 2600.5 L940.2 2642.6 L902.6 2650.1 L866.6 2659.1 L842.5 2663.6 L818.5 2660.6 L815.5 2639.6 L812.5 2615.5 L806.5 2585.5 L794.5 2561.5 L776.4 2540.4 L749.4 2516.4 L725.4 2495.4 L707.3 2468.3 L686.3 2438.3 L671.3 2408.2 Z" fill="#E3E3E3" stroke="#111" stroke-width="1.6" />
<path d="M482 2403.7 L515.1 2381.2 L560.1 2354.2 L605.2 2327.1 L650.3 2304.6 L704.3 2276.1 L755.4 2265.5 L750.9 2279.1 L755.4 2300.1 L761.4 2321.1 L765.9 2336.1 L740.4 2343.6 L719.4 2351.2 L692.3 2355.7 L677.3 2363.2 L650.3 2378.2 L599.2 2396.2 L545.1 2420.3 L489.5 2446.7 L482 2421.8 Z" fill="#fff" stroke="#111" stroke-width="1.6" />
<path d="M755.4 2265.5 L800.5 2261 L848.5 2256.5 L881.6 2261 L905.6 2288.1 L929.7 2322.6 L944.7 2339.1 L955.2 2360.2 L902.6 2387.2 L890.6 2357.2 L875.6 2343.6 L872.6 2343.6 L860.6 2327.1 L836.5 2336.1 L821.5 2340.6 L788.5 2342.1 L765.9 2339.1 L761.4 2321.1 L755.4 2300.1 L750.9 2279.1 Z" fill="#fff" stroke="#111" stroke-width="1.6" />
<path d="M902.6 2387.2 L955.2 2360.2 L953.7 2399.2 L947.7 2417.3 L929.7 2438.3 L911.6 2408.2 Z" fill="#fff" stroke="#111" stroke-width="1.6" />
<path d="M758.4 2355.7 C760.1 2354 767.4 2348 770.4 2346.7 C773.4 2345.3 784.2 2342.7 788.5 2342.1 C792.7 2341.5 807.7 2341.2 812.5 2340.6 C817.3 2340 832 2337.2 836.5 2336.1 C841 2335.1 853.6 2331.2 857.6 2330.1 C861.5 2329.1 873.6 2325.3 875.6 2325.6 C877.5 2325.9 877.4 2332.1 877.1 2333.1 C876.8 2334.2 875.4 2334.6 872.6 2336.1 C869.7 2337.6 852.1 2346.1 848.5 2348.2 C844.9 2350.3 838.9 2354.8 836.5 2357.2 C834.1 2359.6 826.3 2370.1 824.5 2372.2 C822.7 2374.3 825.1 2377.4 818.5 2378.2 C811.9 2378.9 765 2380.3 758.4 2379.7 C751.8 2379.1 752.9 2373.8 752.4 2372.2 C752 2370.5 753.3 2364.8 753.9 2363.2 C754.5 2361.5 756.8 2357.3 758.4 2355.7 Z" fill="#fff" stroke="#111" stroke-width="1.6" />
<path d="M482 2421.8 L530.1 2396.2 L575.1 2372.2 L626.2 2348.2 L680.3 2328.6 L755.4 2301.6" fill="none" stroke="#111" stroke-width="1.6" />
<path d="M881.6 2261 L854.5 2267 L833.5 2282.1 L824.5 2303.1 L823 2321.1 L821.5 2340.6" fill="none" stroke="#111" stroke-width="1.6" />
<path d="M929.7 2322.6 L905.6 2319.6 L884.6 2312.1 L872.6 2315.1 L860.6 2327.1" fill="none" stroke="#111" stroke-width="1.6" />
<path d="M818.5 2378.2 L830.5 2384.2 L848.5 2393.2 L869.6 2397.7 L878.6 2402.2 L887.6 2414.2 L896.6 2435.3 L902.6 2462.3 L905.6 2465.3" fill="none" stroke="#111" stroke-width="1.6" />
<path d="M869.6 2397.7 L872.6 2432.3 L877.1 2468.3 L880.1 2510.4 L883.1 2555.4 L883.1 2594.5 L874.1 2618.5 L869.6 2659.1" fill="none" stroke="#111" stroke-width="1.6" />
<path d="M905.6 2465.3 L907.1 2510.4 L907.1 2570.5 L902.6 2615.5 L898.1 2651.6" fill="none" stroke="#111" stroke-width="1.6" />
<path d="M905.6 2465.3 L929.7 2438.3" fill="none" stroke="#111" stroke-width="1.6" />
<path d="M824.5 2372.2 L848.5 2360.2 L872.6 2343.6" fill="none" stroke="#111" stroke-width="3" />
<path d="M653.2 2340.8h0m-10.1 3.3h0m9-2.1h0m-.7 4.7h0m4.8-1.3h0m-7.7-6.4h0m-4.6 .8h0m-10.8 7.1h0m18.2-5.9h0m26.8-11.8h0m-5.7-4h0m13.1 .3h0m24.6 16.6h0m-1.1 .2h0m22.3-27.6h0m-1.9-7.2h0m-10.3 67.1h0m61.9-42.1h0m5.4-7.1h0m12.5 16.7h0m-8.3-10.9h0m-5.8 8.2h0m55.9-79.1h0m7 2.5h0m2.5 2.7h0m-8.9-9h0m4.6 4.2h0m.9-5.1h0m-21.5 38.2h0m.8-12.6h0m.4 16h0m-3.9-19.5h0m4.8 3.3h0m-33.4 71h0m5.5-2.9h0m-10.5 14.7h0m-4.6 2.4h0m61.2 0h0m-3.7 3.4h0m-75.6 76.5h0m2.5-1.8h0m-1.5-.8h0m6.4-.8h0m78.6 .6h0m-16 2.6h0m5.9-1.9h0m24.5-13h0m-15.4 22.8h0m30.8-3h0m9.1 8.1h0m-6.5-3.7h0m-2.5-15.5h0m15.5 75.1h0m7.1 2h0m-5.3-8.1h0m7.7 41.2h0m-7.5-13.8h0m13.3 9h0m-12.5-16.6h0m9.8 23.5h0m10.2 22.8h0m-1.9-1h0m-14.2 25.2h0m1.2-10.6h0m3.3 9.8h0" stroke="#4FE3CB" stroke-width="9.4" stroke-linecap="round" fill="none" />
<path d="M669.5 2342.7h0m-2.9 3h0m-8.7 2.4h0m21.2-19.4h0m5.9-9.3h0m36.8 27.1h0m-5.6-6.2h0m-5.7 12.7h0m44.9-28.8h0m-4.1 2.6h0m-8.9 3h0m-23.3 45.1h0m58.1-55.5h0m1.7-10.1h0m-2.5 5.5h0m-10.7 4.1h0m47.8-57.7h0m-3.7 1.4h0m-.4 9.2h0m56.3-4.1h0m-.2-1.5h0m-23.5 68.8h0m-5.5-4.4h0m4.9-7.5h0m21.3 98.7h0m13.9 1.9h0m-26.3-2.1h0m19.7-.2h0m-8.9 7.1h0m.8-.7h0m39 2.8h0m-4.3 22.9h0m-10.7-30.9h0m10.8 21h0m-24.4 9.7h0m4.8 3.8h0m15.2 88.6h0m-5.6 7h0m1.6-8.1h0m28 6.3h0m-1.7 3.2h0m-2.5-6.2h0m-48.2 20.5h0m2.4 1.3h0m.7-6.1h0m1.1 1.8h0m-5.5 0h0m71.8 8.3h0m-29.7 7.2h0m-1.2 4.9h0m-25 17.5h0" stroke="#0F5C60" stroke-width="9.4" stroke-linecap="round" fill="none" />
<path d="M848.1 2268.7h0m-2.2 .7h0m3.3-.5h0m37.3-4.1h0m9.2 13h0m-4.4-4.6h0m-78.1 63.9h0m-3.3 1h0m108.8 29.4h0m-8-2.3h0m5.3-.6h0m-81.5 50.7h0m-13.8 6.1h0m38.1 47.5h0m-5.7 2.4h0m57.9-50.2h0m-9.3-2.2h0m-4 22h0m13.3-20.6h0m-13.7-6.9h0m8.8 2.2h0m11.6 30.6h0m-6-49.9h0m-25 84h0m1.4-42.4h0m4.9 40.6h0m5.3-8.5h0m-.8-10.7h0m-1.4 27.5h0m-7.2-24.2h0m9.3-5.6h0m-6.5 42.2h0m-14.9-8.6h0m8.9-1.8h0m33.5 29.7h0m.2 .5h0m-8.1 .9h0m-1.5-2.3h0m-1.2-5.1h0m-5.7 24.9h0m-.3-9.4h0m6.2 .5h0m-5.5-11h0" stroke="#9FE05E" stroke-width="9.4" stroke-linecap="round" fill="none" />
<path d="M700.1 2305.6h0m40.5 70.2h0m14.4 .6h0m66.1-70.9h0m.1 9.3h0m6.2-4h0m10.6 16.7h0m-8-54.3h0m-2.4 17.5h0m8.8 43.8h0m-1.2-14.7h0m58-33.2h0m-8.9 1.4h0m.6-13.2h0m3.4 17.7h0m-111.9 69.4h0m54.5-2.5h0m-4.4 2.5h0m33.9 10.4h0m-1.9-3.8h0m9.2-.4h0m19.4-6.8h0m-.3-19.8h0m8.6 2.9h0m14.8 35.8h0m-5 2.5h0m6.2 15h0m-148 44.9h0m54.6 9.5h0m76-13.6h0m-90.3-25.6h0m70.4 10.3h0m-35.5 7.8h0m-140.5-1.7h0m123.9 1h0m-10.3 .6h0m-30.8 6.5h0m17.6-7.8h0m75.9 1h0m-94.1 2.6h0m-14.6-3.5h0m100.1-21.5h0m-54.6 3.2h0m11.3 21.1h0m.1-10.6h0m-72.8-10.9h0m51.3 30h0m-54.8 4.8h0m43.8-48.4h0m77.3 35.3h0m-83.8-1.4h0m53.8-29.7h0m23.9 10.2h0m-16.3 5.1h0m-83.9-.6h0m37.2 12.5h0m-40.3-19.6h0m69.2 10.9h0m-29.2 14.3h0m-27.8 27.1h0m20.1-28.4h0m20.2 10.8h0m-9.6-30.9h0m23.8 24.2h0m-13.7 24.9h0m31.3-11.6h0m18.3-6h0m-70.2-25.9h0m-1.2-9.4h0m11.2 5.1h0m-15.6-7.9h0m10 39.4h0m-2-2.5h0m7.2-1h0m-69-13.2h0m162.1-5.8h0m2-11.6h0m-9.7-13.4h0m-4.1 12.9h0m22.5-10.4h0m9.9 27.5h0m-29.6-18.6h0m9.2 12.3h0m6.1-26.4h0m-13.2 27.8h0m-18.4 46.6h0m11 13h0m-6 11.3h0m6-17.1h0m24.4 97.1h0m1.3 5.7h0" stroke="#6A3DB4" stroke-width="9.4" stroke-linecap="round" fill="none" />
<text x="595.6" y="2336.1" font-size="19" transform="rotate(-22 595.6 2336.1)">AIv</text>
<text x="611.2" y="2369.8" font-size="19" transform="rotate(-22 611.2 2369.8)">AId</text>
<text x="771.9" y="2301.6" font-size="20">ORBl</text>
<text x="847" y="2304.6" font-size="20">ORBvl</text>
<text x="796.9" y="2363.2" font-size="20">FRP</text>
<text x="890.6" y="2351.8" font-size="20">ORBm</text>
<text x="878.6" y="2396.2" font-size="20">PL</text>
<text x="926.6" y="2403.7" font-size="20">ILA</text>
<text x="779.4" y="2469.8" font-size="20">MOs</text>
<text x="899" y="2543.4" font-size="20" text-anchor="middle" transform="rotate(-90 899 2543.4)">ACAd</text>
<text x="935.1" y="2547.9" font-size="20" text-anchor="middle" transform="rotate(-90 935.1 2547.9)">ACAv</text>
<rect x="584.2" y="2529.9" width="48.9" height="49.6" fill="#E3E3E3" />
<circle cx="594.7" cy="2489.4" r="5.5" fill="#4FE3CB" />
<text x="608.8" y="2497.4" font-size="21.5">1</text>
<circle cx="594.7" cy="2516.5" r="5.5" fill="#0F5C60" />
<text x="608.8" y="2524.5" font-size="21.5">2</text>
<circle cx="594.7" cy="2543.5" r="5.5" fill="#9FE05E" />
<text x="608.8" y="2551.5" font-size="21.5">3</text>
<circle cx="594.7" cy="2570.6" r="5.5" fill="#6A3DB4" />
<text x="608.8" y="2578.6" font-size="21.5">4</text>
<line x1="969.5" y1="2395" x2="969.5" y2="2620" stroke="#000" stroke-width="1.8" />
<path d="M963.5 2614 L969.5 2632 L975.5 2614 L969.5 2618 Z" fill="#111" />
<path d="M1078 2302.5 L1078 2302.4 L1082 2302.4 L1085.9 2302.4 L1089.8 2302.3 L1093.8 2302.2 L1097.7 2302.1 L1101.7 2301.9 L1105.6 2301.6 L1109.6 2301.2 L1113.5 2300.7 L1117.4 2300 L1121.4 2299.2 L1125.3 2298 L1129.3 2296.6 L1133.2 2294.9 L1137.2 2292.7 L1141.1 2290.2 L1145 2287.2 L1149 2283.7 L1152.9 2279.8 L1156.9 2275.4 L1160.8 2270.7 L1164.8 2265.7 L1168.7 2260.5 L1172.6 2255.3 L1176.6 2250.2 L1180.5 2245.4 L1184.5 2241 L1188.4 2237.3 L1192.3 2234.3 L1196.3 2232.2 L1200.2 2231.1 L1204.2 2231 L1208.1 2231.9 L1212.1 2233.9 L1216 2236.7 L1219.9 2240.3 L1223.9 2244.6 L1227.8 2249.3 L1231.8 2254.4 L1235.7 2259.6 L1239.7 2264.8 L1243.6 2269.8 L1247.5 2274.6 L1251.5 2279 L1255.4 2283 L1259.4 2286.6 L1263.3 2289.7 L1267.3 2292.3 L1271.2 2294.5 L1275.1 2296.3 L1279.1 2297.8 L1283 2299 L1287 2299.9 L1290.9 2300.6 L1294.9 2301.1 L1298.8 2301.5 L1302.7 2301.8 L1306.7 2302 L1310.6 2302.2 L1314.6 2302.3 L1318.5 2302.4 L1322.5 2302.4 L1326.4 2302.4 L1330.3 2302.5 L1334.3 2302.5 L1338.2 2302.5 L1342.2 2302.5 L1346.1 2302.5 L1350 2302.5 L1350 2302.5 Z" fill="#9FE05E" stroke="#8FDC4E" stroke-width="2.2" fill-opacity="0.5"/>
<path d="M1078 2302.5 L1078 2302.5 L1082 2302.5 L1085.9 2302.5 L1089.8 2302.5 L1093.8 2302.5 L1097.7 2302.5 L1101.7 2302.5 L1105.6 2302.5 L1109.6 2302.5 L1113.5 2302.5 L1117.4 2302.5 L1121.4 2302.5 L1125.3 2302.5 L1129.3 2302.5 L1133.2 2302.5 L1137.2 2302.5 L1141.1 2302.5 L1145 2302.4 L1149 2302.4 L1152.9 2302.4 L1156.9 2302.3 L1160.8 2302.2 L1164.8 2302 L1168.7 2301.8 L1172.6 2301.5 L1176.6 2301.1 L1180.5 2300.6 L1184.5 2299.9 L1188.4 2299 L1192.3 2297.8 L1196.3 2296.3 L1200.2 2294.5 L1204.2 2292.4 L1208.1 2289.8 L1212.1 2286.8 L1216 2283.3 L1219.9 2279.4 L1223.9 2275.2 L1227.8 2270.6 L1231.8 2265.8 L1235.7 2260.8 L1239.7 2255.9 L1243.6 2251.1 L1247.5 2246.7 L1251.5 2242.8 L1255.4 2239.5 L1259.4 2236.9 L1263.3 2235.3 L1267.3 2234.6 L1271.2 2234.9 L1275.1 2236.1 L1279.1 2238.3 L1283 2241.3 L1287 2244.9 L1290.9 2249.2 L1294.9 2253.8 L1298.8 2258.7 L1302.7 2263.6 L1306.7 2268.5 L1310.6 2273.2 L1314.6 2277.6 L1318.5 2281.7 L1322.5 2285.3 L1326.4 2288.5 L1330.3 2291.3 L1334.3 2293.6 L1338.2 2295.6 L1342.2 2297.2 L1346.1 2298.5 L1350 2299.5 L1350 2302.5 Z" fill="#6A3DB4" stroke="#5B3A9E" stroke-width="2.2" fill-opacity="0.5"/>
<path d="M1368.2 2321 L1368.7 2321 L1368.8 2325.1 L1369 2329.2 L1369.2 2333.3 L1369.5 2337.4 L1369.9 2341.5 L1370.3 2345.6 L1370.8 2349.7 L1371.4 2353.7 L1372.1 2357.8 L1372.9 2361.9 L1373.9 2366 L1375 2370.1 L1376.2 2374.2 L1377.5 2378.3 L1379 2382.4 L1380.6 2386.5 L1382.3 2390.6 L1384 2394.7 L1385.9 2398.8 L1387.8 2402.9 L1389.6 2407 L1391.5 2411 L1393.3 2415.1 L1394.9 2419.2 L1396.5 2423.3 L1397.8 2427.4 L1399 2431.5 L1399.9 2435.6 L1400.5 2439.7 L1400.9 2443.8 L1401 2447.9 L1400.8 2452 L1400.4 2456.1 L1399.7 2460.2 L1398.8 2464.3 L1397.7 2468.4 L1396.5 2472.4 L1395.2 2476.5 L1393.7 2480.6 L1392.3 2484.7 L1390.8 2488.8 L1389.3 2492.9 L1387.9 2497 L1386.6 2501.1 L1385.3 2505.2 L1384.2 2509.3 L1383.1 2513.4 L1382.1 2517.5 L1381.2 2521.6 L1380.3 2525.7 L1379.5 2529.7 L1378.7 2533.8 L1378 2537.9 L1377.3 2542 L1376.6 2546.1 L1375.9 2550.2 L1375.2 2554.3 L1374.6 2558.4 L1373.9 2562.5 L1373.3 2566.6 L1372.7 2570.7 L1372.1 2574.8 L1371.6 2578.9 L1371.1 2583 L1370.6 2587.1 L1370.2 2591.1 L1369.9 2595.2 L1369.6 2599.3 L1369.3 2603.4 L1368.2 2603.4 Z" fill="#9FE05E" stroke="#8FDC4E" stroke-width="2.2" fill-opacity="0.5"/>
<path d="M1368.2 2321 L1368.2 2321 L1368.2 2325.1 L1368.2 2329.2 L1368.2 2333.3 L1368.3 2337.4 L1368.3 2341.5 L1368.4 2345.6 L1368.7 2349.7 L1369 2353.7 L1369.6 2357.8 L1370.6 2361.9 L1372 2366 L1374.1 2370.1 L1377.1 2374.2 L1381 2378.3 L1386.1 2382.4 L1392.2 2386.5 L1399.3 2390.6 L1407 2394.7 L1414.9 2398.8 L1422.4 2402.9 L1428.9 2407 L1433.7 2411 L1436.5 2415.1 L1436.8 2419.2 L1434.7 2423.3 L1430.5 2427.4 L1424.6 2431.5 L1417.6 2435.6 L1410.2 2439.7 L1402.9 2443.8 L1396.4 2447.9 L1390.8 2452 L1386.4 2456.1 L1383.2 2460.2 L1381 2464.3 L1379.9 2468.4 L1379.5 2472.4 L1379.6 2476.5 L1380.1 2480.6 L1380.9 2484.7 L1381.8 2488.8 L1382.7 2492.9 L1383.5 2497 L1384.2 2501.1 L1384.8 2505.2 L1385.1 2509.3 L1385.3 2513.4 L1385.2 2517.5 L1384.9 2521.6 L1384.4 2525.7 L1383.7 2529.7 L1382.9 2533.8 L1381.9 2537.9 L1380.8 2542 L1379.6 2546.1 L1378.4 2550.2 L1377.3 2554.3 L1376.1 2558.4 L1375 2562.5 L1374 2566.6 L1373.1 2570.7 L1372.2 2574.8 L1371.5 2578.9 L1370.9 2583 L1370.3 2587.1 L1369.9 2591.1 L1369.5 2595.2 L1369.2 2599.3 L1369 2603.4 L1368.2 2603.4 Z" fill="#6A3DB4" stroke="#5B3A9E" stroke-width="2.2" fill-opacity="0.5"/>
<path d="M1079.2 2465l11.3-2.1 11.3-2 11.3-2.1 11.3-2.2 11.3-2.1 11.3-2.2 11.3-2.3 11.3-2.3 11.3-2.4 11.3-2.6 11.3-2.9 11.3-3.3 11.2-3.7 11.3-4.3 11.3-4.5 11.3-4.8 11.3-5 11.3-5.2 11.3-5.3 11.3-5.3 11.3-5.4 11.3-5.5 11.3-5.5 11.3-5.6 0 37-11.3 2.8-11.3 2.8-11.3 2.9-11.3 2.9-11.3 3-11.3 3-11.3 3.2-11.3 3.4-11.3 3.5-11.3 3.8-11.3 4.1-11.2 4.6-11.3 5.1-11.3 5.4-11.3 5.8-11.3 5.9-11.3 6-11.3 6.1-11.3 6.1-11.3 6.2-11.3 6.2-11.3 6.3-11.3 6.2-11.3 6.3z" fill="#C8C8C8" fill-opacity="0.85"/>
<path d="M1199.7 2521.2h0m-40.3 0h0m26.4-42.2h0m84.9-5.8h0m-76.4 42.5h0m46-41.9h0m-21.2-31.6h0m-37.5 30.9h0m-38-32.1h0m-11.6 53h0m57.2-18.2h0m9.5-42.4h0m-5.8 63.4h0m32.6-51.2h0m-45.2-34.1h0m-4.1-6.1h0m-36 115.8h0m-30.8 0h0m99.5-50.3h0m5.2 31.7h0m23-35.8h0m-64.4 2.1h0m-15.5 26.1h0m7.9 26.2h0m-42.6-58.4h0m36-48.7h0m112.3-28.8h0m-85.9 83.6h0m76.2-77.4h0m-22.9 55.3h0m-48.3 15h0m31.3-26.5h0" stroke="#9FE05E" stroke-width="8" stroke-linecap="round" fill="none" />
<path d="M1268.8 2433.5h0m16.7-9.5h0m-30 8.3h0m23.7 105.4h0m42.3-101.9h0m17.3-58.9h0m-39.2 160h0m-6.9-109h0m-36 122.4h0m-17.6-67.5h0m6.1-38.8h0m-1.1-45.8h0m-29.4-14.3h0m9.2 57.5h0m19 48.8h0m23.7-66.7h0m-1-1.3h0m-2-4h0m-40.5 14.4h0m34 77.3h0m-23.5-142.7h0m-4.5 66.6h0m23.7 7.2h0m-4.3-28.3h0m24 6.2h0m-3.7-15.7h0m10.6 4h0m-54.6 32.8h0m33.7 5h0m-46.8-1.8h0m35.1 12.5h0m2.3-25.6h0m1.3-8.4h0m32-10.6h0m5.5-20h0m-26.2 44.5h0m16.8-30.1h0m-36.8 32.2h0m46.5 116.4h0m53.5-179.9h0m1.1 32.8h0m-73.2-29.9h0m-25.1 45.1h0m28.6 11.8h0m-15.5 118.1h0m-12-180.7h0m60.5 172.8h0m-21.7-100.9h0m-46.5-22.7h0m10.7-10.7h0m46.9-7h0m-37.1 35.1h0m21.2-27.3h0m44.1-7.4h0m-6.2 23h0m-21.3 4.5h0m-58.7-10.6h0m34.2 93h0m8.4-81.9h0m-.2-15h0m-20 28.3h0m-14.8-46.5h0m36.9 47.4h0m-59.5-34.4h0m66.9 21.1h0m-63.4-34.2h0m59.8-6.5h0m-41.1 54.2h0m-17.6-2.6h0m45.5 12.6h0" stroke="#6A3DB4" stroke-width="8" stroke-linecap="round" fill="none" />
<line x1="1079.2" y1="2495" x2="1350.3" y2="2394.9" stroke="#3366E6" stroke-width="2.6" />
<line x1="1065.5" y1="2307.3" x2="1065.5" y2="2621.3" stroke="#000" stroke-width="2.4" />
<line x1="1064.3" y1="2620.1" x2="1364.1" y2="2620.1" stroke="#000" stroke-width="2.4" />
<line x1="1055.5" y1="2321" x2="1065.5" y2="2321" stroke="#000" stroke-width="2.4" />
<text x="1047.6" y="2326.5" font-size="15.5" text-anchor="end" fill="#4d4d4d">2</text>
<line x1="1055.5" y1="2392.5" x2="1065.5" y2="2392.5" stroke="#000" stroke-width="2.4" />
<text x="1047.6" y="2398" font-size="15.5" text-anchor="end" fill="#4d4d4d">3</text>
<line x1="1055.5" y1="2464" x2="1065.5" y2="2464" stroke="#000" stroke-width="2.4" />
<text x="1047.6" y="2469.5" font-size="15.5" text-anchor="end" fill="#4d4d4d">4</text>
<line x1="1055.5" y1="2535.5" x2="1065.5" y2="2535.5" stroke="#000" stroke-width="2.4" />
<text x="1047.6" y="2541" font-size="15.5" text-anchor="end" fill="#4d4d4d">5</text>
<line x1="1055.5" y1="2607" x2="1065.5" y2="2607" stroke="#000" stroke-width="2.4" />
<text x="1047.6" y="2612.5" font-size="15.5" text-anchor="end" fill="#4d4d4d">6</text>
<line x1="1123.9" y1="2620.1" x2="1123.9" y2="2627.5" stroke="#000" stroke-width="2.4" />
<text x="1123.9" y="2651.7" font-size="15.5" text-anchor="middle" fill="#4d4d4d">0.4</text>
<line x1="1189.5" y1="2620.1" x2="1189.5" y2="2627.5" stroke="#000" stroke-width="2.4" />
<text x="1189.5" y="2651.7" font-size="15.5" text-anchor="middle" fill="#4d4d4d">0.6</text>
<line x1="1255" y1="2620.1" x2="1255" y2="2627.5" stroke="#000" stroke-width="2.4" />
<text x="1255" y="2651.7" font-size="15.5" text-anchor="middle" fill="#4d4d4d">0.8</text>
<line x1="1320.6" y1="2620.1" x2="1320.6" y2="2627.5" stroke="#000" stroke-width="2.4" />
<text x="1320.6" y="2651.7" font-size="15.5" text-anchor="middle" fill="#4d4d4d">1.0</text>
<text x="1236.5" y="2679.7" font-size="23.7" text-anchor="middle">Height of dendrites (mm)</text>
<text x="997.5" y="2462" font-size="23.7" text-anchor="middle" transform="rotate(-90 997.5 2462)">Soma position</text>
<text x="1024" y="2462" font-size="23.7" text-anchor="middle" transform="rotate(-90 1024 2462)">(posterior−anterior, mm)</text>
<text x="1079.2" y="2602.3" font-size="18">P=2.049×10<tspan dy="-7" font-size="12.5">−5</tspan></text>
<text x="1349.2" y="2602.3" font-size="18" text-anchor="end"><tspan font-style="italic">R</tspan><tspan dy="-7" font-size="12.5">2</tspan><tspan dy="7"> = 0.19</tspan></text>
<text x="1700.2" y="2259.6" font-size="27" text-anchor="middle">VM vs RT projections</text>
<path d="M1528 2504l14.3-4.2 14.4-4.2 14.3-4.2 14.3-4.3 14.3-4.3 14.4-4.3 14.3-4.3 14.3-4.4 14.3-4.5 14.3-4.6 14.4-4.8 14.3-5.2 14.3-5.7 14.3-6.5 14.4-8.1 14.3-10.3 14.3-11.7 14.3-12.3 14.4-12.6 14.3-12.7 14.3-12.8 14.3-12.9 14.4-12.9 14.3-13 0 107.2-14.3 2.2-14.4 2.2-14.3 2.3-14.3 2.3-14.3 2.4-14.4 2.6-14.3 2.8-14.3 3.5-14.3 4.8-14.4 7.1-14.3 8.6-14.3 9.5-14.3 10-14.4 10.3-14.3 10.5-14.3 10.7-14.3 10.8-14.3 10.8-14.4 10.8-14.3 10.9-14.3 10.9-14.3 10.9-14.4 11-14.3 10.9z" fill="#C8C8C8" fill-opacity="0.85"/>
<path d="M1716.3 2524.8h0m-20.3 6.4h0m44-6.4h0m-8.6-99h0m-38.2 102.7h0m27.8-3.7h0m-10.7-66.5h0m-28.3 12.4h0m3.2 54.1h0m-44.7 13.4h0m39.9-54.1h0m-7.7 7.8h0m38.4-30.2h0m-32.8 63.1h0m24.8-22h0m-1.5 22h0m17.7-72.8h0m-42.7 44.7h0m-22.7 18.2h0m42 9.9h0m-33.1-9.8h0m9.3 9.8h0m22.2 0h0m35-80.9h0m-62.3 80.9h0m-18.2-182.9h0m11.6 182.9h0m-6.8-76.2h0m70.8 28.1h0m-8.3 58.2h0m-54.1-10.1h0m-65.4-23.7h0" stroke="#9FE05E" stroke-width="8" stroke-linecap="round" fill="none" />
<path d="M1773.8 2371.4h0m65.3 101.3h0m-89.6 .5h0m-1.9-14.2h0m-50.2-12.1h0m17.4 77.9h0m81.5 0h0m-12.4-133.6h0m-42.4 119.5h0m6.5-42.3h0m54.7-155.3h0m-70.7 211.7h0m65.9-151.3h0m29.7 118.5h0m-8.6-57.8h0m-41.9-62.9h0m-71-27.1h0m56.1 27.8h0m68.4 116.6h0m-97.1-117.8h0m36.1 103.4h0m-33.4-147.5h0m-9.7 159.8h0m60.6-124.5h0m-27.4 34.5h0m-16.2 78.9h0m-8.2 49.4h0m19.7-166.8h0m-47.9 98.8h0m4.8 68h0m107.1-64.1h0m-46.6-32.6h0m-38.8-76.8h0m-8.9 173.5h0m101.4-33.4h0m-8.5-17.8h0m-7.1-48.3h0m-45.1-36.5h0m-65.7 136h0m48.9-131.1h0m34.3 66.3h0m-12.8-133.6h0m-10.9 105.9h0m-37.6-123.7h0m30.7 141.2h0m43.4-89.1h0m-60.5 164.1h0m40.2-121.8h0m-61.7 68.9h0m44.5-94.3h0m8.2 16.6h0m78.1 130.6h0m-96.3-142.5h0m53.6 113.6h0m-22.5-177.5h0m-44.5 165.8h0m101.2-97.3h0m-14.6 53.7h0m-79.3-122.6h0m52 93.1h0m-56.4 113.7h0m45.1-46.1h0m-10.5-112.3h0m-42 82.3h0m28.9-94.3h0m-10.1 7.8h0m32.9 72.7h0m-63.2 76.7h0m40.3-162.6h0m34.9 119.6h0m6.8-40.6h0m-28.2 96.8h0m3.4-114.8h0m-.3 17.2h0m-4.5 74.3h0" stroke="#6A3DB4" stroke-width="8" stroke-linecap="round" fill="none" />
<line x1="1527.9" y1="2554.6" x2="1871.8" y2="2372.8" stroke="#3366E6" stroke-width="2.6" />
<line x1="1513" y1="2286.4" x2="1513" y2="2621.3" stroke="#000" stroke-width="2.4" />
<line x1="1511.8" y1="2620.1" x2="1888.5" y2="2620.1" stroke="#000" stroke-width="2.4" />
<line x1="1503" y1="2398.5" x2="1513" y2="2398.5" stroke="#000" stroke-width="2.4" />
<text x="1494.6" y="2404" font-size="15.5" text-anchor="end" fill="#4d4d4d">0</text>
<line x1="1503" y1="2524.8" x2="1513" y2="2524.8" stroke="#000" stroke-width="2.4" />
<text x="1494.6" y="2530.3" font-size="15.5" text-anchor="end" fill="#4d4d4d">−1</text>
<line x1="1585.7" y1="2620.1" x2="1585.7" y2="2627.5" stroke="#000" stroke-width="2.4" />
<text x="1585.7" y="2651.7" font-size="15.5" text-anchor="middle" fill="#4d4d4d">0.4</text>
<line x1="1668.7" y1="2620.1" x2="1668.7" y2="2627.5" stroke="#000" stroke-width="2.4" />
<text x="1668.7" y="2651.7" font-size="15.5" text-anchor="middle" fill="#4d4d4d">0.6</text>
<line x1="1751.7" y1="2620.1" x2="1751.7" y2="2627.5" stroke="#000" stroke-width="2.4" />
<text x="1751.7" y="2651.7" font-size="15.5" text-anchor="middle" fill="#4d4d4d">0.8</text>
<line x1="1834.7" y1="2620.1" x2="1834.7" y2="2627.5" stroke="#000" stroke-width="2.4" />
<text x="1834.7" y="2651.7" font-size="15.5" text-anchor="middle" fill="#4d4d4d">1.0</text>
<text x="1715" y="2679.7" font-size="23.7" text-anchor="middle">Height of dendrites (mm)</text>
<text x="1459.7" y="2453" font-size="23.7" text-anchor="middle" transform="rotate(-90 1459.7 2453)">Projection bias</text>
<text x="1530.3" y="2602.3" font-size="18">P=1.896×10<tspan dy="-7" font-size="12.5">−5</tspan></text>
<text x="1870.6" y="2602.3" font-size="18" text-anchor="end"><tspan font-style="italic">R</tspan><tspan dy="-7" font-size="12.5">2</tspan><tspan dy="7"> = 0.19</tspan></text>
</svg></body></html>
